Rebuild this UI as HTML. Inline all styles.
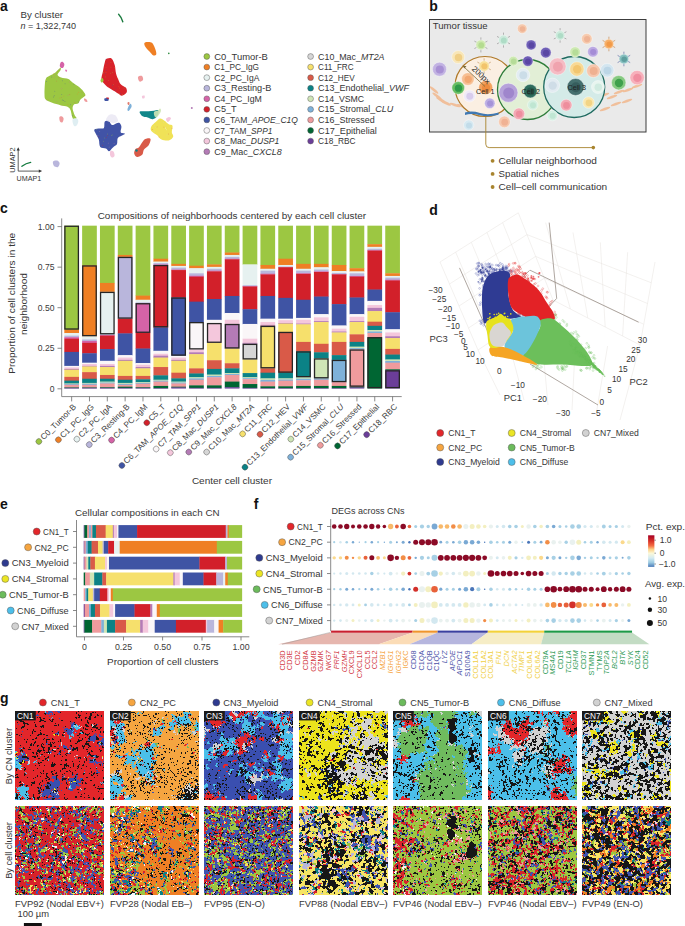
<!DOCTYPE html>
<html><head><meta charset="utf-8"><style>
html,body{margin:0;padding:0;background:#fff;}
#pg{position:relative;width:685px;height:926px;overflow:hidden;background:#fff;}
svg{position:absolute;left:0;top:0;font-family:"Liberation Sans",sans-serif;}
</style></head><body><div id="pg">
<svg width="685" height="926" viewBox="0 0 685 926" fill="#363636">
<text x="0.00" y="10.60" font-size="14" fill="#111" font-weight="bold">a</text><text x="20.50" y="17.80" font-size="9.3" textLength="42.50" lengthAdjust="spacingAndGlyphs">By cluster</text><text x="20.5" y="28.6" font-size="9.3" textLength="55.5" lengthAdjust="spacingAndGlyphs"><tspan font-style="italic">n</tspan> = 1,322,740</text><path d="M47.3 76.9 C48.4 76.1 50.9 75.2 52.2 74.4 C53.6 73.7 54.3 73.3 55.4 72.4 C56.5 71.5 57.7 70.0 58.6 69.2 C59.5 68.4 60.4 67.2 60.7 67.4 C61.0 67.6 61.0 69.0 60.5 70.2 C60.0 71.4 57.4 73.6 57.5 74.8 C57.6 76.0 59.3 76.8 61.1 77.5 C62.9 78.2 66.8 78.3 68.4 78.9 C70.0 79.5 69.9 80.2 70.8 80.9 C71.7 81.7 72.5 82.3 74.0 83.4 C75.5 84.5 78.4 86.3 79.7 87.4 C81.0 88.5 81.1 88.6 82.1 89.8 C83.0 91.0 85.1 93.5 85.4 94.7 C85.7 95.9 84.5 96.3 83.7 97.1 C82.9 97.9 81.4 98.5 80.5 99.6 C79.6 100.7 79.2 102.8 78.1 103.6 C77.0 104.4 74.9 103.7 74.0 104.4 C73.1 105.1 72.7 106.5 72.6 107.7 C72.5 108.9 73.0 110.4 73.4 111.7 C73.8 113.0 74.3 114.5 74.8 115.6 C75.3 116.7 76.7 117.5 76.5 118.2 C76.3 118.9 74.5 119.8 73.8 119.5 C73.0 119.2 72.5 118.2 72.0 116.6 C71.5 115.0 71.2 111.7 70.5 110.1 C69.8 108.5 69.2 107.6 67.5 106.8 C65.8 106.0 62.8 105.9 60.3 105.2 C57.8 104.5 54.6 103.7 52.2 102.8 C49.8 101.9 47.0 101.1 45.7 99.6 C44.4 98.1 44.6 96.6 44.5 93.9 C44.4 91.2 44.7 85.8 44.9 83.4 C45.1 81.0 45.3 80.4 45.7 79.3 C46.1 78.2 46.2 77.7 47.3 76.9Z" fill="#9cc742"/><circle cx="54.23" cy="95.75" r="0.45" fill="#3f54a4" opacity="0.6"/><circle cx="81.96" cy="92.10" r="0.45" fill="#d95a48" opacity="0.6"/><circle cx="63.69" cy="96.10" r="0.45" fill="#ef7f24" opacity="0.6"/><circle cx="78.71" cy="92.22" r="0.45" fill="#ef7f24" opacity="0.6"/><circle cx="53.99" cy="75.30" r="0.45" fill="#d563a7" opacity="0.6"/><circle cx="74.82" cy="102.38" r="0.45" fill="#d95a48" opacity="0.6"/><circle cx="61.96" cy="105.34" r="0.45" fill="#d563a7" opacity="0.6"/><circle cx="59.45" cy="69.27" r="0.45" fill="#d563a7" opacity="0.6"/><circle cx="62.34" cy="100.05" r="0.45" fill="#3f54a4" opacity="0.6"/><circle cx="67.98" cy="95.23" r="0.45" fill="#d563a7" opacity="0.6"/><circle cx="72.39" cy="115.80" r="0.45" fill="#3f54a4" opacity="0.6"/><circle cx="67.78" cy="104.59" r="0.45" fill="#ef7f24" opacity="0.6"/><circle cx="55.42" cy="73.88" r="0.45" fill="#d563a7" opacity="0.6"/><circle cx="73.88" cy="84.64" r="0.45" fill="#3f54a4" opacity="0.6"/><circle cx="57.17" cy="71.41" r="0.45" fill="#d95a48" opacity="0.6"/><circle cx="56.43" cy="81.12" r="0.45" fill="#d95a48" opacity="0.6"/><circle cx="70.44" cy="104.68" r="0.45" fill="#3f54a4" opacity="0.6"/><circle cx="62.39" cy="80.85" r="0.45" fill="#3f54a4" opacity="0.6"/><circle cx="61.48" cy="97.62" r="0.45" fill="#d95a48" opacity="0.6"/><circle cx="59.90" cy="98.10" r="0.45" fill="#ef7f24" opacity="0.6"/><circle cx="46.96" cy="100.08" r="0.45" fill="#d563a7" opacity="0.6"/><circle cx="69.40" cy="81.93" r="0.45" fill="#d563a7" opacity="0.6"/><circle cx="54.77" cy="91.17" r="0.45" fill="#3f54a4" opacity="0.6"/><circle cx="51.76" cy="77.05" r="0.45" fill="#3f54a4" opacity="0.6"/><circle cx="64.95" cy="101.46" r="0.45" fill="#3f54a4" opacity="0.6"/><circle cx="54.26" cy="77.16" r="0.45" fill="#d563a7" opacity="0.6"/><circle cx="53.42" cy="97.01" r="0.45" fill="#3f54a4" opacity="0.6"/><circle cx="53.70" cy="73.70" r="0.45" fill="#ef7f24" opacity="0.6"/><circle cx="48.00" cy="99.67" r="0.45" fill="#ef7f24" opacity="0.6"/><circle cx="61.73" cy="94.41" r="0.45" fill="#3f54a4" opacity="0.6"/><circle cx="63.51" cy="100.44" r="0.45" fill="#3f54a4" opacity="0.6"/><circle cx="61.67" cy="88.74" r="0.45" fill="#d563a7" opacity="0.6"/><circle cx="78.72" cy="101.94" r="0.45" fill="#3f54a4" opacity="0.6"/><circle cx="77.34" cy="94.09" r="0.45" fill="#ef7f24" opacity="0.6"/><circle cx="56.77" cy="101.94" r="0.45" fill="#d563a7" opacity="0.6"/><circle cx="84.25" cy="95.59" r="0.45" fill="#d95a48" opacity="0.6"/><circle cx="58.89" cy="77.68" r="0.45" fill="#d95a48" opacity="0.6"/><circle cx="46.54" cy="81.54" r="0.45" fill="#3f54a4" opacity="0.6"/><circle cx="69.78" cy="94.47" r="0.45" fill="#d95a48" opacity="0.6"/><circle cx="65.04" cy="83.86" r="0.45" fill="#3f54a4" opacity="0.6"/><path d="M60.8 62.3 C61.2 61.6 61.9 61.5 62.5 61.8 C63.1 62.1 64.1 63.1 64.3 64.0 C64.5 64.9 64.0 66.5 63.5 67.2 C63.0 67.9 62.1 68.2 61.5 68.0 C60.9 67.8 59.9 67.0 59.8 66.0 C59.7 65.0 60.3 63.0 60.8 62.3Z" fill="#d563a7"/><path d="M65.5 69.5 C65.8 69.3 66.8 69.6 67.0 70.0 C67.2 70.4 67.0 71.6 66.7 71.8 C66.4 72.0 65.5 71.4 65.3 71.0 C65.1 70.6 65.2 69.7 65.5 69.5Z" fill="#e07ab5"/><path d="M59.4 117.0 C59.7 116.2 61.3 116.2 62.0 116.4 C62.7 116.7 63.5 117.5 63.6 118.5 C63.7 119.5 63.1 121.7 62.5 122.2 C61.9 122.7 60.5 122.4 60.0 121.5 C59.5 120.6 59.1 117.8 59.4 117.0Z" fill="#ef9b9d"/><path d="M72.8 119.0 C73.4 118.2 75.6 118.0 76.5 118.3 C77.4 118.6 78.2 119.9 78.3 121.0 C78.4 122.1 77.6 124.1 77.0 125.0 C76.4 125.9 75.2 126.6 74.5 126.3 C73.8 126.0 73.1 124.2 72.8 123.0 C72.5 121.8 72.2 119.8 72.8 119.0Z" fill="#dfeef2"/><path d="M84.0 98.7 C84.2 98.4 85.9 99.0 86.5 99.5 C87.1 100.0 87.7 101.5 87.4 101.8 C87.2 102.1 85.6 102.0 85.0 101.5 C84.4 101.0 83.8 99.0 84.0 98.7Z" fill="#ef9b9d"/><path d="M105.9 59.2 C106.7 58.3 108.0 58.4 109.0 58.3 C110.0 58.2 110.8 57.6 111.8 58.7 C112.8 59.8 114.0 62.5 114.7 65.0 C115.4 67.5 115.5 71.3 116.1 73.8 C116.7 76.3 117.8 78.3 118.5 80.0 C119.2 81.7 119.6 82.9 120.5 84.0 C121.4 85.1 123.0 85.8 124.0 86.5 C125.0 87.2 126.0 87.4 126.4 88.4 C126.8 89.4 127.3 91.3 126.6 92.5 C125.9 93.7 123.4 95.5 122.0 95.7 C120.6 95.9 119.2 94.2 118.0 93.5 C116.8 92.8 116.0 92.1 114.7 91.3 C113.4 90.5 111.5 89.5 110.0 88.5 C108.5 87.5 107.3 87.0 105.9 85.5 C104.5 84.0 102.0 82.0 101.5 79.6 C101.0 77.2 102.5 73.6 103.0 70.9 C103.5 68.2 104.0 65.5 104.5 63.6 C105.0 61.6 105.2 60.1 105.9 59.2Z" fill="#d8222a"/><circle cx="103.30" cy="72.73" r="0.45" fill="#9cc742" opacity="0.6"/><circle cx="106.30" cy="70.60" r="0.45" fill="#3f54a4" opacity="0.6"/><circle cx="119.65" cy="88.04" r="0.45" fill="#ef7f24" opacity="0.6"/><circle cx="105.98" cy="72.26" r="0.45" fill="#ef7f24" opacity="0.6"/><circle cx="117.82" cy="78.55" r="0.45" fill="#ef7f24" opacity="0.6"/><circle cx="112.33" cy="72.23" r="0.45" fill="#9cc742" opacity="0.6"/><circle cx="108.28" cy="80.36" r="0.45" fill="#9cc742" opacity="0.6"/><circle cx="107.13" cy="63.18" r="0.45" fill="#3f54a4" opacity="0.6"/><circle cx="124.04" cy="87.88" r="0.45" fill="#9cc742" opacity="0.6"/><circle cx="110.95" cy="62.36" r="0.45" fill="#9cc742" opacity="0.6"/><circle cx="106.00" cy="59.18" r="0.45" fill="#3f54a4" opacity="0.6"/><circle cx="113.60" cy="84.34" r="0.45" fill="#9cc742" opacity="0.6"/><circle cx="116.03" cy="88.17" r="0.45" fill="#3f54a4" opacity="0.6"/><circle cx="114.78" cy="67.21" r="0.45" fill="#ef7f24" opacity="0.6"/><circle cx="120.30" cy="93.25" r="0.45" fill="#3f54a4" opacity="0.6"/><circle cx="115.31" cy="90.82" r="0.45" fill="#3f54a4" opacity="0.6"/><circle cx="106.01" cy="67.65" r="0.45" fill="#ef7f24" opacity="0.6"/><circle cx="119.07" cy="93.55" r="0.45" fill="#9cc742" opacity="0.6"/><circle cx="110.72" cy="73.13" r="0.45" fill="#9cc742" opacity="0.6"/><circle cx="110.92" cy="67.10" r="0.45" fill="#9cc742" opacity="0.6"/><circle cx="122.67" cy="94.47" r="0.45" fill="#9cc742" opacity="0.6"/><circle cx="118.84" cy="86.58" r="0.45" fill="#ef7f24" opacity="0.6"/><circle cx="105.42" cy="73.30" r="0.45" fill="#3f54a4" opacity="0.6"/><circle cx="105.58" cy="76.92" r="0.45" fill="#9cc742" opacity="0.6"/><circle cx="112.62" cy="85.19" r="0.45" fill="#3f54a4" opacity="0.6"/><path d="M100.5 80.0 C100.7 79.2 102.0 77.8 102.5 78.0 C103.0 78.2 103.7 80.2 103.5 81.0 C103.3 81.8 102.0 82.7 101.5 82.5 C101.0 82.3 100.3 80.8 100.5 80.0Z" fill="#9cc742"/><path d="M104.5 98.5 C105.0 98.0 107.3 97.7 108.0 98.0 C108.7 98.3 109.0 100.0 108.5 100.5 C108.0 101.0 105.7 101.3 105.0 101.0 C104.3 100.7 104.0 99.0 104.5 98.5Z" fill="#3f54a4"/><path d="M106.0 97.5 C106.2 97.3 108.7 97.5 109.0 97.7 C109.3 98.0 108.5 99.0 108.0 99.0 C107.5 99.0 105.8 97.7 106.0 97.5Z" fill="#d2202a"/><path d="M138.0 77.0 C138.4 76.1 141.2 75.5 142.0 76.0 C142.8 76.5 143.4 79.1 143.0 80.0 C142.6 80.9 140.3 82.0 139.5 81.5 C138.7 81.0 137.6 77.9 138.0 77.0Z" fill="#ef9b9d"/><path d="M142.0 96.0 C142.3 95.5 144.1 95.2 144.5 95.5 C144.9 95.8 144.8 97.5 144.5 98.0 C144.2 98.5 142.9 98.8 142.5 98.5 C142.1 98.2 141.7 96.5 142.0 96.0Z" fill="#f4c7dc"/><path d="M129.5 104.5 C130.1 103.7 130.7 103.6 131.0 104.0 C131.3 104.4 131.9 105.8 131.5 107.0 C131.1 108.2 129.2 110.7 128.5 111.0 C127.8 111.3 127.3 110.1 127.5 109.0 C127.7 107.9 128.9 105.3 129.5 104.5Z" fill="#7eb1d9"/><path d="M128.0 102.0 C128.3 101.8 129.3 102.0 129.5 102.5 C129.7 103.0 129.3 104.8 129.0 105.0 C128.7 105.2 127.7 104.5 127.5 104.0 C127.3 103.5 127.7 102.2 128.0 102.0Z" fill="#d95a48" opacity="0.8"/><path d="M145.0 42.5 C146.0 42.0 149.2 42.0 150.5 42.2 C151.8 42.5 152.2 42.7 153.0 44.0 C153.8 45.3 155.1 48.2 155.6 50.0 C156.1 51.8 156.6 53.6 156.2 54.5 C155.8 55.4 154.0 55.7 153.0 55.3 C152.0 54.9 151.0 53.0 150.0 52.0 C149.0 51.0 147.9 50.2 147.0 49.0 C146.1 47.8 144.8 46.1 144.5 45.0 C144.2 43.9 144.0 43.0 145.0 42.5Z" fill="#ef7f24"/><path d="M118.6 14.3 Q121.3 17 122.8 21.8" stroke="#1a7a3e" stroke-width="1.4" fill="none" stroke-linecap="round"/><circle cx="168.80" cy="53.40" r="0.80" fill="#2e8b3e"/><path d="M94.4 129.4 C95.1 128.5 98.4 128.7 100.0 128.5 C101.6 128.3 103.1 129.1 103.9 128.0 C104.7 126.9 104.1 123.3 104.6 122.1 C105.1 120.8 106.3 120.7 107.0 120.5 C107.7 120.3 108.2 120.0 109.0 120.7 C109.8 121.5 110.7 124.5 111.9 125.0 C113.1 125.5 114.8 123.9 116.0 123.5 C117.2 123.1 118.3 122.3 119.2 122.8 C120.1 123.3 121.2 124.9 121.4 126.5 C121.7 128.1 120.1 131.1 120.7 132.3 C121.3 133.5 125.0 133.2 125.0 133.8 C125.0 134.4 122.2 135.3 121.0 136.0 C119.8 136.7 118.4 136.9 117.7 138.2 C117.0 139.5 117.6 142.6 117.0 144.0 C116.4 145.4 114.8 145.8 114.0 146.5 C113.2 147.2 112.7 147.6 111.9 148.4 C111.1 149.2 110.0 151.3 109.0 151.3 C108.0 151.3 107.5 149.1 106.0 148.4 C104.5 147.7 101.4 148.4 100.2 146.9 C99.0 145.4 99.5 141.8 98.8 139.6 C98.1 137.4 96.5 135.5 95.8 133.8 C95.1 132.1 93.7 130.3 94.4 129.4Z" fill="#4153a6"/><circle cx="98.88" cy="136.38" r="0.45" fill="#d2202a" opacity="0.6"/><circle cx="102.60" cy="145.27" r="0.45" fill="#d2202a" opacity="0.6"/><circle cx="99.67" cy="131.60" r="0.45" fill="#ef9b9d" opacity="0.6"/><circle cx="109.17" cy="147.11" r="0.45" fill="#ef9b9d" opacity="0.6"/><circle cx="112.73" cy="134.92" r="0.45" fill="#9cc742" opacity="0.6"/><circle cx="111.45" cy="135.32" r="0.45" fill="#9cc742" opacity="0.6"/><circle cx="108.24" cy="143.11" r="0.45" fill="#ef9b9d" opacity="0.6"/><circle cx="107.75" cy="135.47" r="0.45" fill="#d2202a" opacity="0.6"/><circle cx="114.12" cy="143.36" r="0.45" fill="#ef9b9d" opacity="0.6"/><circle cx="106.36" cy="137.27" r="0.45" fill="#d2202a" opacity="0.6"/><circle cx="107.64" cy="134.00" r="0.45" fill="#9cc742" opacity="0.6"/><circle cx="103.44" cy="141.32" r="0.45" fill="#9cc742" opacity="0.6"/><circle cx="104.76" cy="137.93" r="0.45" fill="#9cc742" opacity="0.6"/><circle cx="97.87" cy="135.71" r="0.45" fill="#ef9b9d" opacity="0.6"/><circle cx="96.22" cy="129.57" r="0.45" fill="#9cc742" opacity="0.6"/><path d="M106.0 120.0 C105.8 118.8 107.8 115.9 109.0 115.0 C110.2 114.1 111.8 114.3 113.0 114.5 C114.2 114.7 115.2 114.9 116.0 116.0 C116.8 117.1 118.3 119.8 118.0 121.0 C117.7 122.2 115.3 122.8 114.0 123.0 C112.7 123.2 111.3 122.5 110.0 122.0 C108.7 121.5 106.2 121.2 106.0 120.0Z" fill="#ebe9f4" opacity="0.9"/><path d="M110.5 151.0 C111.1 150.4 112.8 150.7 113.5 151.5 C114.2 152.3 114.8 155.0 114.5 156.0 C114.2 157.0 112.8 157.7 112.0 157.5 C111.2 157.3 110.2 156.1 110.0 155.0 C109.8 153.9 109.9 151.6 110.5 151.0Z" fill="#f4c7dc"/><path d="M139.6 111.9 C139.8 111.1 142.5 111.4 144.0 111.3 C145.5 111.2 146.7 111.3 148.4 111.2 C150.1 111.1 152.3 110.9 154.0 110.8 C155.7 110.7 158.1 109.5 158.6 110.4 C159.1 111.3 158.2 114.8 157.2 116.3 C156.2 117.8 154.3 119.0 152.8 119.2 C151.3 119.4 150.1 118.2 148.4 117.7 C146.7 117.2 144.1 117.3 142.6 116.3 C141.1 115.3 139.4 112.7 139.6 111.9Z" fill="#12878a"/><path d="M154.0 112.0 C154.5 110.9 157.0 111.1 158.0 110.5 C159.0 109.9 159.5 108.4 160.0 108.5 C160.5 108.6 161.3 109.8 161.0 111.0 C160.7 112.2 159.0 115.0 158.0 116.0 C157.0 117.0 155.7 117.7 155.0 117.0 C154.3 116.3 153.5 113.1 154.0 112.0Z" fill="#cfe5b6" opacity="0.9"/><path d="M151.3 126.5 C152.0 125.0 154.2 123.4 155.7 122.1 C157.1 120.8 158.5 118.7 160.0 118.5 C161.5 118.3 163.0 119.7 164.5 120.7 C166.0 121.7 167.5 123.5 168.8 124.3 C170.1 125.1 172.0 124.5 172.5 125.8 C173.0 127.1 171.7 130.5 171.8 132.3 C171.9 134.1 173.7 135.3 173.2 136.7 C172.7 138.0 170.8 139.9 168.8 140.4 C166.9 140.9 163.4 140.4 161.5 139.6 C159.6 138.8 158.9 136.8 157.2 135.3 C155.5 133.9 152.3 132.4 151.3 130.9 C150.3 129.4 150.6 128.0 151.3 126.5Z" fill="#f0e257"/><circle cx="163.70" cy="122.49" r="0.45" fill="#cfe5b6" opacity="0.6"/><circle cx="161.25" cy="120.87" r="0.45" fill="#cfe5b6" opacity="0.6"/><circle cx="154.40" cy="125.76" r="0.45" fill="#cfe5b6" opacity="0.6"/><circle cx="165.53" cy="127.70" r="0.45" fill="#f9f5f8" opacity="0.6"/><circle cx="165.48" cy="128.52" r="0.45" fill="#f9f5f8" opacity="0.6"/><circle cx="168.43" cy="133.95" r="0.45" fill="#d95a48" opacity="0.6"/><circle cx="166.98" cy="135.02" r="0.45" fill="#cfe5b6" opacity="0.6"/><circle cx="163.91" cy="127.08" r="0.45" fill="#d95a48" opacity="0.6"/><circle cx="157.12" cy="126.90" r="0.45" fill="#d95a48" opacity="0.6"/><circle cx="152.22" cy="129.55" r="0.45" fill="#d95a48" opacity="0.6"/><circle cx="166.53" cy="129.77" r="0.45" fill="#f9f5f8" opacity="0.6"/><circle cx="172.00" cy="128.32" r="0.45" fill="#d95a48" opacity="0.6"/><circle cx="159.03" cy="137.05" r="0.45" fill="#d95a48" opacity="0.6"/><circle cx="154.62" cy="131.42" r="0.45" fill="#cfe5b6" opacity="0.6"/><circle cx="155.44" cy="127.62" r="0.45" fill="#cfe5b6" opacity="0.6"/><path d="M166.0 119.0 C166.2 118.2 168.2 117.1 169.0 117.0 C169.8 116.9 171.2 117.7 171.0 118.5 C170.8 119.3 168.8 121.9 168.0 122.0 C167.2 122.1 165.8 119.8 166.0 119.0Z" fill="#f4c7dc"/><path d="M150.6 139.2 C150.8 140.4 149.6 143.8 148.5 145.5 C147.4 147.2 145.1 147.9 144.0 149.5 C142.9 151.1 143.4 153.6 142.2 154.8 C141.0 156.1 138.3 157.2 137.0 157.0 C135.7 156.8 134.4 154.8 134.2 153.5 C133.9 152.2 134.7 150.1 135.5 149.0 C136.3 147.9 137.7 148.6 139.0 147.2 C140.3 145.8 142.2 141.9 143.5 140.5 C144.8 139.1 145.8 138.7 147.0 138.5 C148.2 138.3 150.3 138.0 150.6 139.2Z" fill="#d95a48"/><circle cx="136.50" cy="150.50" r="1.20" fill="#0b8286"/><path d="M53.0 161.5 C53.5 160.6 55.9 160.2 57.0 160.5 C58.1 160.8 59.4 161.9 59.6 163.0 C59.8 164.1 58.9 166.5 58.0 167.0 C57.1 167.5 54.8 166.9 54.0 166.0 C53.2 165.1 52.5 162.4 53.0 161.5Z" fill="#b9b6dc"/><path d="M21.9 166.3 Q26 163 30.7 162.3" stroke="#127a3e" stroke-width="1.3" fill="none" stroke-linecap="round"/><circle cx="191.80" cy="108.00" r="1.00" fill="#b47bb6"/><g stroke="#333" stroke-width="0.8" fill="none"><path d="M18.2 171.1 V149.5 M18.2 171.1 H39.8"/></g><path d="M18.2 147.2 L16.6 150.5 L19.8 150.5Z M42.1 171.1 L38.8 169.5 L38.8 172.7Z" fill="#333"/><text x="14.90" y="172.80" font-size="7.3" textLength="25.40" lengthAdjust="spacingAndGlyphs" transform="rotate(-90 14.90 172.80)">UMAP2</text><text x="16.60" y="180.70" font-size="7.3" textLength="24.60" lengthAdjust="spacingAndGlyphs">UMAP1</text><circle cx="206.80" cy="56.50" r="2.90" fill="#9cc742" stroke="#555" stroke-width="0.45"/><text x="214.30" y="59.60" font-size="8.7" textLength="53.50" lengthAdjust="spacingAndGlyphs">C0_Tumor-B</text><circle cx="206.80" cy="67.07" r="2.90" fill="#ef7f24" stroke="#555" stroke-width="0.45"/><text x="214.30" y="70.17" font-size="8.7" textLength="44.70" lengthAdjust="spacingAndGlyphs">C1_PC_IgG</text><circle cx="206.80" cy="77.64" r="2.90" fill="#e6f1f0" stroke="#555" stroke-width="0.45"/><text x="214.30" y="80.74" font-size="8.7" textLength="45.10" lengthAdjust="spacingAndGlyphs">C2_PC_IgA</text><circle cx="206.80" cy="88.21" r="2.90" fill="#b9b6dc" stroke="#555" stroke-width="0.45"/><text x="214.30" y="91.31" font-size="8.7" textLength="57.00" lengthAdjust="spacingAndGlyphs">C3_Resting-B</text><circle cx="206.80" cy="98.78" r="2.90" fill="#d563a7" stroke="#555" stroke-width="0.45"/><text x="214.30" y="101.88" font-size="8.7" textLength="47.50" lengthAdjust="spacingAndGlyphs">C4_PC_IgM</text><circle cx="206.80" cy="109.35" r="2.90" fill="#d2202a" stroke="#555" stroke-width="0.45"/><text x="214.30" y="112.45" font-size="8.7" textLength="22.30" lengthAdjust="spacingAndGlyphs">C5_T</text><circle cx="206.80" cy="119.92" r="2.90" fill="#3f54a4" stroke="#555" stroke-width="0.45"/><text x="214.30" y="123.02" font-size="8.7" textLength="83.60" lengthAdjust="spacingAndGlyphs">C6_TAM_<tspan font-style="italic">APOE_C1Q</tspan></text><circle cx="206.80" cy="130.49" r="2.90" fill="#faf6f8" stroke="#555" stroke-width="0.45"/><text x="214.30" y="133.59" font-size="8.7" textLength="58.00" lengthAdjust="spacingAndGlyphs">C7_TAM_<tspan font-style="italic">SPP1</tspan></text><circle cx="206.80" cy="141.06" r="2.90" fill="#f4c7dc" stroke="#555" stroke-width="0.45"/><text x="214.30" y="144.16" font-size="8.7" textLength="65.00" lengthAdjust="spacingAndGlyphs">C8_Mac_<tspan font-style="italic">DUSP1</tspan></text><circle cx="206.80" cy="151.63" r="2.90" fill="#b47bb6" stroke="#555" stroke-width="0.45"/><text x="214.30" y="154.73" font-size="8.7" textLength="67.50" lengthAdjust="spacingAndGlyphs">C9_Mac_<tspan font-style="italic">CXCL8</tspan></text><circle cx="310.60" cy="56.50" r="2.90" fill="#d6d6d6" stroke="#555" stroke-width="0.45"/><text x="318.10" y="59.60" font-size="8.7" textLength="66.40" lengthAdjust="spacingAndGlyphs">C10_Mac_<tspan font-style="italic">MT2A</tspan></text><circle cx="310.60" cy="67.07" r="2.90" fill="#f6e06c" stroke="#555" stroke-width="0.45"/><text x="318.10" y="70.17" font-size="8.7" textLength="35.50" lengthAdjust="spacingAndGlyphs">C11_FRC</text><circle cx="310.60" cy="77.64" r="2.90" fill="#d95a48" stroke="#555" stroke-width="0.45"/><text x="318.10" y="80.74" font-size="8.7" textLength="36.60" lengthAdjust="spacingAndGlyphs">C12_HEV</text><circle cx="310.60" cy="88.21" r="2.90" fill="#0b8286" stroke="#555" stroke-width="0.45"/><text x="318.10" y="91.31" font-size="8.7" textLength="90.90" lengthAdjust="spacingAndGlyphs">C13_Endothelial_<tspan font-style="italic">VWF</tspan></text><circle cx="310.60" cy="98.78" r="2.90" fill="#cfe5b6" stroke="#555" stroke-width="0.45"/><text x="318.10" y="101.88" font-size="8.7" textLength="46.00" lengthAdjust="spacingAndGlyphs">C14_VSMC</text><circle cx="310.60" cy="109.35" r="2.90" fill="#7eb1d9" stroke="#555" stroke-width="0.45"/><text x="318.10" y="112.45" font-size="8.7" textLength="75.10" lengthAdjust="spacingAndGlyphs">C15_Stromal_<tspan font-style="italic">CLU</tspan></text><circle cx="310.60" cy="119.92" r="2.90" fill="#ef9b9d" stroke="#555" stroke-width="0.45"/><text x="318.10" y="123.02" font-size="8.7" textLength="56.60" lengthAdjust="spacingAndGlyphs">C16_Stressed</text><circle cx="310.60" cy="130.49" r="2.90" fill="#006633" stroke="#555" stroke-width="0.45"/><text x="318.10" y="133.59" font-size="8.7" textLength="58.70" lengthAdjust="spacingAndGlyphs">C17_Epithelial</text><circle cx="310.60" cy="141.06" r="2.90" fill="#6b3d99" stroke="#555" stroke-width="0.45"/><text x="318.10" y="144.16" font-size="8.7" textLength="37.30" lengthAdjust="spacingAndGlyphs">C18_RBC</text><text x="429.30" y="10.90" font-size="14" fill="#111" font-weight="bold">b</text><rect x="429.5" y="19.5" width="216.5" height="112.5" fill="#eaeaea" stroke="#3c3c3c" stroke-width="1"/><clipPath id="cb"><rect x="430" y="20" width="215.5" height="111.5"/></clipPath><g clip-path="url(#cb)"><ellipse cx="434" cy="90" rx="5.5" ry="1.3" fill="#f0bf9b" transform="rotate(40 434 90)"/><ellipse cx="437" cy="96" rx="5.5" ry="1.3" fill="#f0bf9b" transform="rotate(35 437 96)"/><ellipse cx="441" cy="100" rx="5.5" ry="1.3" fill="#f0bf9b" transform="rotate(30 441 100)"/><ellipse cx="446" cy="103" rx="5.5" ry="1.3" fill="#f0bf9b" transform="rotate(25 446 103)"/><ellipse cx="455" cy="105" rx="5.5" ry="1.3" fill="#f0bf9b" transform="rotate(20 455 105)"/><ellipse cx="462" cy="106" rx="5.5" ry="1.3" fill="#f0bf9b" transform="rotate(15 462 106)"/><ellipse cx="604" cy="95" rx="5.5" ry="1.3" fill="#f0bf9b" transform="rotate(-20 604 95)"/><ellipse cx="612" cy="97" rx="5.5" ry="1.3" fill="#f0bf9b" transform="rotate(-20 612 97)"/><ellipse cx="619" cy="92" rx="5.5" ry="1.3" fill="#f0bf9b" transform="rotate(-20 619 92)"/><ellipse cx="628" cy="90" rx="5.5" ry="1.3" fill="#f0bf9b" transform="rotate(-20 628 90)"/><ellipse cx="637" cy="86" rx="5.5" ry="1.3" fill="#f0bf9b" transform="rotate(-20 637 86)"/><ellipse cx="605" cy="109" rx="5.5" ry="1.3" fill="#f0bf9b" transform="rotate(-20 605 109)"/><ellipse cx="616" cy="104" rx="5.5" ry="1.3" fill="#f0bf9b" transform="rotate(-20 616 104)"/><ellipse cx="627" cy="101" rx="5.5" ry="1.3" fill="#f0bf9b" transform="rotate(-20 627 101)"/><circle cx="485" cy="86.5" r="30" fill="#fbefe2" stroke="#b07a2a" stroke-width="1.2"/><circle cx="527.5" cy="89.5" r="30" fill="#e2efd6" stroke="#2e7d3a" stroke-width="1.3"/><circle cx="574.2" cy="87" r="30.5" fill="#d4ebe8" stroke="#1f6a60" stroke-width="1.3"/><circle cx="522.2" cy="28.7" r="4.8" fill="#f5c9ad" stroke="#ffffff" stroke-opacity="0.55" stroke-width="0.7"/><circle cx="522.5" cy="29.0" r="2.78" fill="#efb394"/><line x1="480.9" y1="44.9" x2="487.4" y2="48.6" stroke="#8a8a8a" stroke-width="0.6"/><line x1="480.9" y1="44.9" x2="480.9" y2="52.4" stroke="#8a8a8a" stroke-width="0.6"/><line x1="480.9" y1="44.9" x2="474.4" y2="48.6" stroke="#8a8a8a" stroke-width="0.6"/><line x1="480.9" y1="44.9" x2="474.4" y2="41.1" stroke="#8a8a8a" stroke-width="0.6"/><line x1="480.9" y1="44.9" x2="480.9" y2="37.4" stroke="#8a8a8a" stroke-width="0.6"/><line x1="480.9" y1="44.9" x2="487.4" y2="41.1" stroke="#8a8a8a" stroke-width="0.6"/><circle cx="480.9" cy="44.9" r="5" fill="#cfe9b0" stroke="#ffffff" stroke-opacity="0.55" stroke-width="0.7"/><circle cx="481.2" cy="45.199999999999996" r="2.90" fill="#b4dc90"/><line x1="503.5" y1="40.1" x2="510.0" y2="43.9" stroke="#8a8a8a" stroke-width="0.6"/><line x1="503.5" y1="40.1" x2="503.5" y2="47.6" stroke="#8a8a8a" stroke-width="0.6"/><line x1="503.5" y1="40.1" x2="497.0" y2="43.9" stroke="#8a8a8a" stroke-width="0.6"/><line x1="503.5" y1="40.1" x2="497.0" y2="36.4" stroke="#8a8a8a" stroke-width="0.6"/><line x1="503.5" y1="40.1" x2="503.5" y2="32.6" stroke="#8a8a8a" stroke-width="0.6"/><line x1="503.5" y1="40.1" x2="510.0" y2="36.3" stroke="#8a8a8a" stroke-width="0.6"/><circle cx="503.5" cy="40.1" r="5" fill="#cdeadc" stroke="#ffffff" stroke-opacity="0.55" stroke-width="0.7"/><circle cx="503.8" cy="40.4" r="2.90" fill="#aedcc6"/><circle cx="531.1" cy="44.9" r="5" fill="#6f5fb6" stroke="#ffffff" stroke-opacity="0.55" stroke-width="0.7"/><circle cx="531.4" cy="45.199999999999996" r="2.90" fill="#5a47a4"/><circle cx="458.2" cy="57.1" r="6.5" fill="#f8e6b8" stroke="#ffffff" stroke-opacity="0.55" stroke-width="0.7"/><circle cx="458.5" cy="57.4" r="3.77" fill="#f0cf86"/><line x1="484.1" y1="66.0" x2="490.8" y2="69.8" stroke="#b88a50" stroke-width="0.6"/><line x1="484.1" y1="66.0" x2="484.1" y2="73.7" stroke="#b88a50" stroke-width="0.6"/><line x1="484.1" y1="66.0" x2="477.4" y2="69.8" stroke="#b88a50" stroke-width="0.6"/><line x1="484.1" y1="66.0" x2="477.4" y2="62.1" stroke="#b88a50" stroke-width="0.6"/><line x1="484.1" y1="66.0" x2="484.1" y2="58.3" stroke="#b88a50" stroke-width="0.6"/><line x1="484.1" y1="66.0" x2="490.8" y2="62.1" stroke="#b88a50" stroke-width="0.6"/><circle cx="484.1" cy="66" r="5.2" fill="#f8df98" stroke="#ffffff" stroke-opacity="0.55" stroke-width="0.7"/><circle cx="484.40000000000003" cy="66.3" r="3.02" fill="#f2c46c"/><circle cx="513.3" cy="61.1" r="4.8" fill="#cde9b2" stroke="#ffffff" stroke-opacity="0.55" stroke-width="0.7"/><circle cx="513.5999999999999" cy="61.4" r="2.78" fill="#b5dc98"/><circle cx="527.8" cy="61.1" r="5.2" fill="#6f5fb6" stroke="#ffffff" stroke-opacity="0.55" stroke-width="0.7"/><circle cx="528.0999999999999" cy="61.4" r="3.02" fill="#5a47a4"/><circle cx="439.5" cy="69.2" r="7" fill="#c2b3e2" stroke="#ffffff" stroke-opacity="0.55" stroke-width="0.7"/><circle cx="439.8" cy="69.5" r="4.06" fill="#a890d4"/><circle cx="467.9" cy="79" r="6.3" fill="#f7bf92" stroke="#ffffff" stroke-opacity="0.55" stroke-width="0.7"/><circle cx="468.2" cy="79.3" r="3.65" fill="#f2a872"/><circle cx="485.7" cy="87.6" r="7" fill="#f3a25e" stroke="#ffffff" stroke-opacity="0.55" stroke-width="0.7"/><circle cx="486.0" cy="87.89999999999999" r="4.06" fill="#ee8c40"/><circle cx="523" cy="74.9" r="6.8" fill="#e3edf3" stroke="#ffffff" stroke-opacity="0.55" stroke-width="0.7"/><circle cx="523.3" cy="75.2" r="3.94" fill="#cbdde8"/><circle cx="458.2" cy="87.9" r="6.3" fill="#66bd62" stroke="#ffffff" stroke-opacity="0.55" stroke-width="0.7"/><circle cx="458.5" cy="88.2" r="3.65" fill="#2f9a48"/><circle cx="508.4" cy="92.7" r="9.5" fill="#b6a3da" stroke="#ffffff" stroke-opacity="0.55" stroke-width="0.7"/><circle cx="508.7" cy="93.0" r="5.51" fill="#9f86cc"/><circle cx="530.3" cy="91.1" r="6.8" fill="#2f6e5e" stroke="#ffffff" stroke-opacity="0.55" stroke-width="0.7"/><circle cx="530.5999999999999" cy="91.39999999999999" r="3.94" fill="#255a4c"/><circle cx="469.5" cy="96" r="6" fill="#efeaf7" stroke="#ffffff" stroke-opacity="0.55" stroke-width="0.7"/><circle cx="469.8" cy="96.3" r="3.48" fill="#d8ccec"/><circle cx="489.8" cy="103.3" r="5.2" fill="#bcaee3" stroke="#ffffff" stroke-opacity="0.55" stroke-width="0.7"/><circle cx="490.1" cy="103.6" r="3.02" fill="#a593d8"/><circle cx="532.7" cy="104.9" r="5.2" fill="#d3efe0" stroke="#ffffff" stroke-opacity="0.55" stroke-width="0.7"/><circle cx="533.0" cy="105.2" r="3.02" fill="#bfe6d2"/><circle cx="518.9" cy="113.8" r="5.8" fill="#f3aab5" stroke="#ffffff" stroke-opacity="0.55" stroke-width="0.7"/><circle cx="519.1999999999999" cy="114.1" r="3.36" fill="#ee8f9e"/><circle cx="504.4" cy="121.9" r="5.8" fill="#f6c8ae" stroke="#ffffff" stroke-opacity="0.55" stroke-width="0.7"/><circle cx="504.7" cy="122.2" r="3.36" fill="#f0b294"/><circle cx="468.7" cy="125.1" r="5.2" fill="#d6e9f1" stroke="#ffffff" stroke-opacity="0.55" stroke-width="0.7"/><circle cx="469.0" cy="125.39999999999999" r="3.02" fill="#c2dce9"/><line x1="560.1" y1="35.4" x2="566.4" y2="39.0" stroke="#8a8a8a" stroke-width="0.6"/><line x1="560.1" y1="35.4" x2="560.1" y2="42.7" stroke="#8a8a8a" stroke-width="0.6"/><line x1="560.1" y1="35.4" x2="553.8" y2="39.0" stroke="#8a8a8a" stroke-width="0.6"/><line x1="560.1" y1="35.4" x2="553.8" y2="31.7" stroke="#8a8a8a" stroke-width="0.6"/><line x1="560.1" y1="35.4" x2="560.1" y2="28.1" stroke="#8a8a8a" stroke-width="0.6"/><line x1="560.1" y1="35.4" x2="566.4" y2="31.7" stroke="#8a8a8a" stroke-width="0.6"/><circle cx="560.1" cy="35.4" r="4.8" fill="#cdeadc" stroke="#ffffff" stroke-opacity="0.55" stroke-width="0.7"/><circle cx="560.4" cy="35.699999999999996" r="2.78" fill="#aedcc6"/><circle cx="586.8" cy="38.8" r="5.3" fill="#f6caae" stroke="#ffffff" stroke-opacity="0.55" stroke-width="0.7"/><circle cx="587.0999999999999" cy="39.099999999999994" r="3.07" fill="#efb496"/><line x1="608.9" y1="44.0" x2="615.2" y2="47.6" stroke="#c07a3a" stroke-width="0.6"/><line x1="608.9" y1="44.0" x2="608.9" y2="51.3" stroke="#c07a3a" stroke-width="0.6"/><line x1="608.9" y1="44.0" x2="602.6" y2="47.6" stroke="#c07a3a" stroke-width="0.6"/><line x1="608.9" y1="44.0" x2="602.6" y2="40.4" stroke="#c07a3a" stroke-width="0.6"/><line x1="608.9" y1="44.0" x2="608.9" y2="36.7" stroke="#c07a3a" stroke-width="0.6"/><line x1="608.9" y1="44.0" x2="615.2" y2="40.3" stroke="#c07a3a" stroke-width="0.6"/><circle cx="608.9" cy="44" r="4.8" fill="#f6b06a" stroke="#ffffff" stroke-opacity="0.55" stroke-width="0.7"/><circle cx="609.1999999999999" cy="44.3" r="2.78" fill="#f29a48"/><line x1="623.9" y1="59.0" x2="630.2" y2="62.6" stroke="#4a5a9a" stroke-width="0.6"/><line x1="623.9" y1="59.0" x2="623.9" y2="66.3" stroke="#4a5a9a" stroke-width="0.6"/><line x1="623.9" y1="59.0" x2="617.6" y2="62.6" stroke="#4a5a9a" stroke-width="0.6"/><line x1="623.9" y1="59.0" x2="617.6" y2="55.4" stroke="#4a5a9a" stroke-width="0.6"/><line x1="623.9" y1="59.0" x2="623.9" y2="51.7" stroke="#4a5a9a" stroke-width="0.6"/><line x1="623.9" y1="59.0" x2="630.2" y2="55.3" stroke="#4a5a9a" stroke-width="0.6"/><circle cx="623.9" cy="59" r="4.8" fill="#86bfbf" stroke="#ffffff" stroke-opacity="0.55" stroke-width="0.7"/><circle cx="624.1999999999999" cy="59.3" r="2.78" fill="#5e9e9e"/><circle cx="545.8" cy="52.6" r="5.3" fill="#6f5fb6" stroke="#ffffff" stroke-opacity="0.55" stroke-width="0.7"/><circle cx="546.0999999999999" cy="52.9" r="3.07" fill="#5a47a4"/><circle cx="575.1" cy="52.1" r="5.3" fill="#cde9b2" stroke="#ffffff" stroke-opacity="0.55" stroke-width="0.7"/><circle cx="575.4" cy="52.4" r="3.07" fill="#b5dc98"/><circle cx="592.9" cy="51.7" r="5.3" fill="#bba9e2" stroke="#ffffff" stroke-opacity="0.55" stroke-width="0.7"/><circle cx="593.1999999999999" cy="52.0" r="3.07" fill="#a48cd6"/><circle cx="557.6" cy="66.4" r="8.5" fill="#f5bcc4" stroke="#ffffff" stroke-opacity="0.55" stroke-width="0.7"/><circle cx="557.9" cy="66.7" r="4.93" fill="#f0a3ae"/><circle cx="576.9" cy="69" r="7.2" fill="#f7d995" stroke="#ffffff" stroke-opacity="0.55" stroke-width="0.7"/><circle cx="577.1999999999999" cy="69.3" r="4.18" fill="#f2c670"/><circle cx="593.4" cy="70.7" r="6.8" fill="#f5c6ad" stroke="#ffffff" stroke-opacity="0.55" stroke-width="0.7"/><circle cx="593.6999999999999" cy="71.0" r="3.94" fill="#efb090"/><circle cx="607.2" cy="70.3" r="6.8" fill="#d3e5ef" stroke="#ffffff" stroke-opacity="0.55" stroke-width="0.7"/><circle cx="607.5" cy="70.6" r="3.94" fill="#bcd6e6"/><circle cx="618.7" cy="82.7" r="7.2" fill="#86c981" stroke="#ffffff" stroke-opacity="0.55" stroke-width="0.7"/><circle cx="619.0" cy="83.0" r="4.18" fill="#3fa04c"/><circle cx="637.1" cy="77.6" r="7.2" fill="#f7b0bb" stroke="#ffffff" stroke-opacity="0.55" stroke-width="0.7"/><circle cx="637.4" cy="77.89999999999999" r="4.18" fill="#f08ea0"/><circle cx="575.6" cy="87" r="8.5" fill="#45706f" stroke="#ffffff" stroke-opacity="0.55" stroke-width="0.7"/><circle cx="575.9" cy="87.3" r="4.93" fill="#365d5d"/><circle cx="552.4" cy="85.3" r="7.2" fill="#e2ebf1" stroke="#ffffff" stroke-opacity="0.55" stroke-width="0.7"/><circle cx="552.6999999999999" cy="85.6" r="4.18" fill="#cfdde7"/><circle cx="598" cy="87" r="6.5" fill="#e8f5ef" stroke="#ffffff" stroke-opacity="0.55" stroke-width="0.7"/><circle cx="598.3" cy="87.3" r="3.77" fill="#d0ebe0"/><circle cx="566.2" cy="105.1" r="5.8" fill="#f3a9b4" stroke="#ffffff" stroke-opacity="0.55" stroke-width="0.7"/><circle cx="566.5" cy="105.39999999999999" r="3.36" fill="#ee8e9d"/><circle cx="588.6" cy="102.5" r="5.8" fill="#f9e8b0" stroke="#ffffff" stroke-opacity="0.55" stroke-width="0.7"/><circle cx="588.9" cy="102.8" r="3.36" fill="#f2d485"/><circle cx="552.4" cy="115.5" r="5.3" fill="#d6f0e3" stroke="#ffffff" stroke-opacity="0.55" stroke-width="0.7"/><circle cx="552.6999999999999" cy="115.8" r="3.07" fill="#c0e6d3"/><path d="M465 112.5 Q472 110.5 480 113 Q488 115.5 498.7 112.5 L498.5 114.8 Q488 117.5 480 115.2 Q471 113 465 115Z" fill="#3f78b2"/><path d="M485 86.5 L463.5 66.5" stroke="#7a6a3a" stroke-width="0.8"/><path d="M462.5 65.5 L466.5 66.3 L464.3 68.6Z" fill="#7a6a3a"/><text x="0" y="0" font-size="8" transform="translate(471.2 69.5) rotate(43)" fill="#222">200px</text><text x="476.00" y="93.50" font-size="7.2" fill="#222">Cell 1</text><text x="521.50" y="93.50" font-size="7.2" fill="#222">Cell 2</text><text x="567.50" y="89.50" font-size="7.2" fill="#222">Cell 3</text></g><text x="432.80" y="29.30" font-size="9.8" textLength="54.90" lengthAdjust="spacingAndGlyphs">Tumor tissue</text><path d="M485.8 116.5 V144.2 Q485.8 147.6 489.2 147.6 H593" stroke="#a8842e" stroke-width="0.9" fill="none"/><circle cx="593.30" cy="147.60" r="1.80" fill="#a8842e"/><circle cx="492.60" cy="160.80" r="1.90" fill="#a8842e"/><text x="498.50" y="164.00" font-size="9.8" textLength="98.30" lengthAdjust="spacingAndGlyphs">Cellular neighborhood</text><circle cx="492.60" cy="173.90" r="1.90" fill="#a8842e"/><text x="498.50" y="177.10" font-size="9.8" textLength="60.50" lengthAdjust="spacingAndGlyphs">Spatial niches</text><circle cx="492.60" cy="187.00" r="1.90" fill="#a8842e"/><text x="498.50" y="190.20" font-size="9.8" textLength="108.70" lengthAdjust="spacingAndGlyphs">Cell–cell communication</text><text x="0.00" y="212.50" font-size="14" fill="#111" font-weight="bold">c</text><text x="97.70" y="219.00" font-size="9.6" textLength="268.50" lengthAdjust="spacingAndGlyphs">Compositions of neighborhoods centered by each cell cluster</text><rect x="64.30" y="225.67" width="14.70" height="104.29" fill="#9cc742"/><rect x="64.30" y="329.61" width="14.70" height="3.75" fill="#ef7f24"/><rect x="64.30" y="333.02" width="14.70" height="3.00" fill="#e6f1f0"/><rect x="64.30" y="335.66" width="14.70" height="1.86" fill="#b9b6dc"/><rect x="64.30" y="337.17" width="14.70" height="1.86" fill="#d563a7"/><rect x="64.30" y="338.69" width="14.70" height="13.58" fill="#d2202a"/><rect x="64.30" y="351.91" width="14.70" height="14.34" fill="#3f54a4"/><rect x="64.30" y="365.90" width="14.70" height="1.86" fill="#faf6f8"/><rect x="64.30" y="367.41" width="14.70" height="1.86" fill="#f4c7dc"/><rect x="64.30" y="368.92" width="14.70" height="1.11" fill="#b47bb6"/><rect x="64.30" y="369.68" width="14.70" height="7.53" fill="#f6e06c"/><rect x="64.30" y="376.86" width="14.70" height="4.13" fill="#d95a48"/><rect x="64.30" y="380.64" width="14.70" height="3.18" fill="#0b8286"/><rect x="64.30" y="383.48" width="14.70" height="0.92" fill="#cfe5b6"/><rect x="64.30" y="384.04" width="14.70" height="1.11" fill="#7eb1d9"/><rect x="64.30" y="384.80" width="14.70" height="3.00" fill="#ef9b9d"/><rect x="64.30" y="387.44" width="14.70" height="0.73" fill="#006633"/><rect x="64.30" y="387.82" width="14.70" height="0.73" fill="#6b3d99"/><rect x="64.90" y="226.27" width="13.50" height="102.74" fill="none" stroke="#262626" stroke-width="1.3"/><rect x="82.13" y="225.67" width="14.70" height="40.04" fill="#9cc742"/><rect x="82.13" y="265.36" width="14.70" height="71.22" fill="#ef7f24"/><rect x="82.13" y="336.23" width="14.70" height="3.56" fill="#e6f1f0"/><rect x="82.13" y="339.44" width="14.70" height="1.86" fill="#b9b6dc"/><rect x="82.13" y="340.95" width="14.70" height="2.24" fill="#d563a7"/><rect x="82.13" y="342.84" width="14.70" height="10.74" fill="#d2202a"/><rect x="82.13" y="353.24" width="14.70" height="9.80" fill="#3f54a4"/><rect x="82.13" y="362.69" width="14.70" height="1.67" fill="#faf6f8"/><rect x="82.13" y="364.01" width="14.70" height="2.24" fill="#f4c7dc"/><rect x="82.13" y="365.90" width="14.70" height="0.92" fill="#b47bb6"/><rect x="82.13" y="366.47" width="14.70" height="6.02" fill="#f6e06c"/><rect x="82.13" y="372.14" width="14.70" height="6.96" fill="#d95a48"/><rect x="82.13" y="378.75" width="14.70" height="4.51" fill="#0b8286"/><rect x="82.13" y="382.91" width="14.70" height="1.11" fill="#cfe5b6"/><rect x="82.13" y="383.66" width="14.70" height="1.48" fill="#7eb1d9"/><rect x="82.13" y="384.80" width="14.70" height="3.00" fill="#ef9b9d"/><rect x="82.13" y="387.44" width="14.70" height="0.73" fill="#006633"/><rect x="82.13" y="387.82" width="14.70" height="0.73" fill="#6b3d99"/><rect x="82.73" y="265.96" width="13.50" height="69.67" fill="none" stroke="#262626" stroke-width="1.3"/><rect x="99.96" y="225.67" width="14.70" height="57.61" fill="#9cc742"/><rect x="99.96" y="282.93" width="14.70" height="9.23" fill="#ef7f24"/><rect x="99.96" y="291.82" width="14.70" height="42.87" fill="#e6f1f0"/><rect x="99.96" y="334.34" width="14.70" height="1.11" fill="#b9b6dc"/><rect x="99.96" y="335.09" width="14.70" height="0.92" fill="#d563a7"/><rect x="99.96" y="335.66" width="14.70" height="13.77" fill="#d2202a"/><rect x="99.96" y="349.08" width="14.70" height="12.07" fill="#3f54a4"/><rect x="99.96" y="360.80" width="14.70" height="3.56" fill="#faf6f8"/><rect x="99.96" y="364.01" width="14.70" height="2.24" fill="#f4c7dc"/><rect x="99.96" y="365.90" width="14.70" height="1.48" fill="#b47bb6"/><rect x="99.96" y="367.03" width="14.70" height="8.29" fill="#f6e06c"/><rect x="99.96" y="374.97" width="14.70" height="4.13" fill="#d95a48"/><rect x="99.96" y="378.75" width="14.70" height="3.18" fill="#0b8286"/><rect x="99.96" y="381.59" width="14.70" height="1.29" fill="#cfe5b6"/><rect x="99.96" y="382.53" width="14.70" height="1.29" fill="#7eb1d9"/><rect x="99.96" y="383.48" width="14.70" height="4.13" fill="#ef9b9d"/><rect x="99.96" y="387.26" width="14.70" height="0.92" fill="#006633"/><rect x="99.96" y="387.82" width="14.70" height="0.73" fill="#6b3d99"/><rect x="100.56" y="292.42" width="13.50" height="41.32" fill="none" stroke="#262626" stroke-width="1.3"/><rect x="117.79" y="225.67" width="14.70" height="29.64" fill="#9cc742"/><rect x="117.79" y="254.96" width="14.70" height="2.24" fill="#ef7f24"/><rect x="117.79" y="256.85" width="14.70" height="62.15" fill="#b9b6dc"/><rect x="117.79" y="318.65" width="14.70" height="15.09" fill="#d2202a"/><rect x="117.79" y="333.39" width="14.70" height="22.08" fill="#3f54a4"/><rect x="117.79" y="355.13" width="14.70" height="2.81" fill="#faf6f8"/><rect x="117.79" y="357.58" width="14.70" height="2.62" fill="#f4c7dc"/><rect x="117.79" y="359.85" width="14.70" height="1.29" fill="#b47bb6"/><rect x="117.79" y="360.80" width="14.70" height="15.47" fill="#f6e06c"/><rect x="117.79" y="375.92" width="14.70" height="4.13" fill="#d95a48"/><rect x="117.79" y="379.70" width="14.70" height="3.56" fill="#0b8286"/><rect x="117.79" y="382.91" width="14.70" height="1.29" fill="#cfe5b6"/><rect x="117.79" y="383.85" width="14.70" height="1.29" fill="#7eb1d9"/><rect x="117.79" y="384.80" width="14.70" height="2.24" fill="#ef9b9d"/><rect x="117.79" y="386.69" width="14.70" height="1.48" fill="#006633"/><rect x="117.79" y="387.82" width="14.70" height="0.73" fill="#6b3d99"/><rect x="118.39" y="257.45" width="13.50" height="60.60" fill="none" stroke="#262626" stroke-width="1.3"/><rect x="135.62" y="225.67" width="14.70" height="70.28" fill="#9cc742"/><rect x="135.62" y="295.60" width="14.70" height="4.51" fill="#ef7f24"/><rect x="135.62" y="299.75" width="14.70" height="3.00" fill="#e6f1f0"/><rect x="135.62" y="302.40" width="14.70" height="1.11" fill="#b9b6dc"/><rect x="135.62" y="303.16" width="14.70" height="30.02" fill="#d563a7"/><rect x="135.62" y="332.83" width="14.70" height="16.04" fill="#d2202a"/><rect x="135.62" y="348.51" width="14.70" height="14.90" fill="#3f54a4"/><rect x="135.62" y="363.06" width="14.70" height="2.05" fill="#faf6f8"/><rect x="135.62" y="364.77" width="14.70" height="2.62" fill="#f4c7dc"/><rect x="135.62" y="367.03" width="14.70" height="1.67" fill="#b47bb6"/><rect x="135.62" y="368.36" width="14.70" height="7.91" fill="#f6e06c"/><rect x="135.62" y="375.92" width="14.70" height="3.75" fill="#d95a48"/><rect x="135.62" y="379.32" width="14.70" height="3.18" fill="#0b8286"/><rect x="135.62" y="382.15" width="14.70" height="1.11" fill="#cfe5b6"/><rect x="135.62" y="382.91" width="14.70" height="1.11" fill="#7eb1d9"/><rect x="135.62" y="383.66" width="14.70" height="3.94" fill="#ef9b9d"/><rect x="135.62" y="387.26" width="14.70" height="0.92" fill="#006633"/><rect x="135.62" y="387.82" width="14.70" height="0.73" fill="#6b3d99"/><rect x="136.22" y="303.76" width="13.50" height="28.47" fill="none" stroke="#262626" stroke-width="1.3"/><rect x="153.45" y="225.67" width="14.70" height="33.42" fill="#9cc742"/><rect x="153.45" y="258.74" width="14.70" height="3.18" fill="#ef7f24"/><rect x="153.45" y="261.58" width="14.70" height="1.86" fill="#e6f1f0"/><rect x="153.45" y="263.09" width="14.70" height="1.86" fill="#b9b6dc"/><rect x="153.45" y="264.60" width="14.70" height="0.73" fill="#d563a7"/><rect x="153.45" y="264.98" width="14.70" height="62.72" fill="#d2202a"/><rect x="153.45" y="327.35" width="14.70" height="23.78" fill="#3f54a4"/><rect x="153.45" y="350.78" width="14.70" height="3.37" fill="#faf6f8"/><rect x="153.45" y="353.80" width="14.70" height="2.24" fill="#f4c7dc"/><rect x="153.45" y="355.69" width="14.70" height="2.24" fill="#b47bb6"/><rect x="153.45" y="357.58" width="14.70" height="9.80" fill="#f6e06c"/><rect x="153.45" y="367.03" width="14.70" height="8.67" fill="#d95a48"/><rect x="153.45" y="375.35" width="14.70" height="4.70" fill="#0b8286"/><rect x="153.45" y="379.70" width="14.70" height="1.29" fill="#cfe5b6"/><rect x="153.45" y="380.64" width="14.70" height="1.29" fill="#7eb1d9"/><rect x="153.45" y="381.59" width="14.70" height="4.70" fill="#ef9b9d"/><rect x="153.45" y="385.93" width="14.70" height="2.43" fill="#006633"/><rect x="153.45" y="388.01" width="14.70" height="0.54" fill="#6b3d99"/><rect x="154.05" y="265.58" width="13.50" height="61.17" fill="none" stroke="#262626" stroke-width="1.3"/><rect x="171.28" y="225.67" width="14.70" height="38.53" fill="#9cc742"/><rect x="171.28" y="263.85" width="14.70" height="2.43" fill="#ef7f24"/><rect x="171.28" y="265.92" width="14.70" height="2.05" fill="#e6f1f0"/><rect x="171.28" y="267.63" width="14.70" height="2.24" fill="#b9b6dc"/><rect x="171.28" y="269.52" width="14.70" height="0.92" fill="#d563a7"/><rect x="171.28" y="270.08" width="14.70" height="27.75" fill="#d2202a"/><rect x="171.28" y="297.49" width="14.70" height="58.56" fill="#3f54a4"/><rect x="171.28" y="355.69" width="14.70" height="2.24" fill="#faf6f8"/><rect x="171.28" y="357.58" width="14.70" height="2.62" fill="#f4c7dc"/><rect x="171.28" y="359.85" width="14.70" height="1.29" fill="#b47bb6"/><rect x="171.28" y="360.80" width="14.70" height="12.26" fill="#f6e06c"/><rect x="171.28" y="372.70" width="14.70" height="6.02" fill="#d95a48"/><rect x="171.28" y="378.37" width="14.70" height="3.56" fill="#0b8286"/><rect x="171.28" y="381.59" width="14.70" height="1.29" fill="#cfe5b6"/><rect x="171.28" y="382.53" width="14.70" height="1.29" fill="#7eb1d9"/><rect x="171.28" y="383.48" width="14.70" height="3.56" fill="#ef9b9d"/><rect x="171.28" y="386.69" width="14.70" height="1.11" fill="#006633"/><rect x="171.28" y="387.44" width="14.70" height="1.11" fill="#6b3d99"/><rect x="171.88" y="298.09" width="13.50" height="57.01" fill="none" stroke="#262626" stroke-width="1.3"/><rect x="189.11" y="225.67" width="14.70" height="40.42" fill="#9cc742"/><rect x="189.11" y="265.74" width="14.70" height="2.81" fill="#ef7f24"/><rect x="189.11" y="268.19" width="14.70" height="5.45" fill="#e6f1f0"/><rect x="189.11" y="273.30" width="14.70" height="2.81" fill="#b9b6dc"/><rect x="189.11" y="275.75" width="14.70" height="1.29" fill="#d563a7"/><rect x="189.11" y="276.70" width="14.70" height="25.30" fill="#d2202a"/><rect x="189.11" y="301.64" width="14.70" height="20.76" fill="#3f54a4"/><rect x="189.11" y="322.05" width="14.70" height="27.75" fill="#faf6f8"/><rect x="189.11" y="349.46" width="14.70" height="3.18" fill="#f4c7dc"/><rect x="189.11" y="352.29" width="14.70" height="2.24" fill="#b47bb6"/><rect x="189.11" y="354.18" width="14.70" height="14.52" fill="#f6e06c"/><rect x="189.11" y="368.36" width="14.70" height="5.45" fill="#d95a48"/><rect x="189.11" y="373.46" width="14.70" height="4.13" fill="#0b8286"/><rect x="189.11" y="377.24" width="14.70" height="1.48" fill="#cfe5b6"/><rect x="189.11" y="378.37" width="14.70" height="1.67" fill="#7eb1d9"/><rect x="189.11" y="379.70" width="14.70" height="6.02" fill="#ef9b9d"/><rect x="189.11" y="385.37" width="14.70" height="2.81" fill="#006633"/><rect x="189.11" y="387.82" width="14.70" height="0.73" fill="#6b3d99"/><rect x="189.71" y="322.65" width="13.50" height="26.20" fill="none" stroke="#262626" stroke-width="1.3"/><rect x="206.94" y="225.67" width="14.70" height="39.09" fill="#9cc742"/><rect x="206.94" y="264.41" width="14.70" height="2.81" fill="#ef7f24"/><rect x="206.94" y="266.87" width="14.70" height="2.24" fill="#e6f1f0"/><rect x="206.94" y="268.76" width="14.70" height="2.24" fill="#b9b6dc"/><rect x="206.94" y="270.65" width="14.70" height="1.11" fill="#d563a7"/><rect x="206.94" y="271.41" width="14.70" height="27.94" fill="#d2202a"/><rect x="206.94" y="299.00" width="14.70" height="21.14" fill="#3f54a4"/><rect x="206.94" y="319.79" width="14.70" height="3.56" fill="#faf6f8"/><rect x="206.94" y="323.00" width="14.70" height="20.19" fill="#f4c7dc"/><rect x="206.94" y="342.84" width="14.70" height="17.74" fill="#f6e06c"/><rect x="206.94" y="360.23" width="14.70" height="9.04" fill="#d95a48"/><rect x="206.94" y="368.92" width="14.70" height="6.02" fill="#0b8286"/><rect x="206.94" y="374.59" width="14.70" height="1.67" fill="#cfe5b6"/><rect x="206.94" y="375.92" width="14.70" height="1.67" fill="#7eb1d9"/><rect x="206.94" y="377.24" width="14.70" height="8.48" fill="#ef9b9d"/><rect x="206.94" y="385.37" width="14.70" height="2.81" fill="#006633"/><rect x="206.94" y="387.82" width="14.70" height="0.73" fill="#6b3d99"/><rect x="207.54" y="323.60" width="13.50" height="18.64" fill="none" stroke="#262626" stroke-width="1.3"/><rect x="224.77" y="225.67" width="14.70" height="27.19" fill="#9cc742"/><rect x="224.77" y="252.51" width="14.70" height="2.81" fill="#ef7f24"/><rect x="224.77" y="254.96" width="14.70" height="2.24" fill="#e6f1f0"/><rect x="224.77" y="256.85" width="14.70" height="2.24" fill="#b9b6dc"/><rect x="224.77" y="258.74" width="14.70" height="0.92" fill="#d563a7"/><rect x="224.77" y="259.31" width="14.70" height="37.01" fill="#d2202a"/><rect x="224.77" y="295.97" width="14.70" height="17.36" fill="#3f54a4"/><rect x="224.77" y="312.98" width="14.70" height="7.15" fill="#faf6f8"/><rect x="224.77" y="319.79" width="14.70" height="4.51" fill="#f4c7dc"/><rect x="224.77" y="323.94" width="14.70" height="24.92" fill="#b47bb6"/><rect x="224.77" y="348.51" width="14.70" height="15.09" fill="#f6e06c"/><rect x="224.77" y="363.25" width="14.70" height="5.45" fill="#d95a48"/><rect x="224.77" y="368.36" width="14.70" height="5.07" fill="#0b8286"/><rect x="224.77" y="373.08" width="14.70" height="1.29" fill="#cfe5b6"/><rect x="224.77" y="374.03" width="14.70" height="1.29" fill="#7eb1d9"/><rect x="224.77" y="374.97" width="14.70" height="6.96" fill="#ef9b9d"/><rect x="224.77" y="381.59" width="14.70" height="6.02" fill="#006633"/><rect x="224.77" y="387.26" width="14.70" height="1.29" fill="#6b3d99"/><rect x="225.37" y="324.54" width="13.50" height="23.37" fill="none" stroke="#262626" stroke-width="1.3"/><rect x="242.60" y="225.67" width="14.70" height="39.09" fill="#9cc742"/><rect x="242.60" y="264.41" width="14.70" height="21.14" fill="#e6f1f0"/><rect x="242.60" y="285.20" width="14.70" height="1.29" fill="#b9b6dc"/><rect x="242.60" y="286.15" width="14.70" height="0.73" fill="#d563a7"/><rect x="242.60" y="286.52" width="14.70" height="23.03" fill="#d2202a"/><rect x="242.60" y="309.20" width="14.70" height="15.09" fill="#3f54a4"/><rect x="242.60" y="323.94" width="14.70" height="15.09" fill="#faf6f8"/><rect x="242.60" y="338.69" width="14.70" height="4.51" fill="#f4c7dc"/><rect x="242.60" y="342.84" width="14.70" height="1.29" fill="#b47bb6"/><rect x="242.60" y="343.79" width="14.70" height="16.04" fill="#d6d6d6"/><rect x="242.60" y="359.47" width="14.70" height="13.96" fill="#f6e06c"/><rect x="242.60" y="373.08" width="14.70" height="4.51" fill="#0b8286"/><rect x="242.60" y="377.24" width="14.70" height="1.29" fill="#cfe5b6"/><rect x="242.60" y="378.18" width="14.70" height="1.29" fill="#7eb1d9"/><rect x="242.60" y="379.13" width="14.70" height="5.26" fill="#ef9b9d"/><rect x="242.60" y="384.04" width="14.70" height="4.13" fill="#006633"/><rect x="242.60" y="387.82" width="14.70" height="0.73" fill="#6b3d99"/><rect x="243.20" y="344.39" width="13.50" height="14.49" fill="none" stroke="#262626" stroke-width="1.3"/><rect x="260.43" y="225.67" width="14.70" height="39.66" fill="#9cc742"/><rect x="260.43" y="264.98" width="14.70" height="4.13" fill="#ef7f24"/><rect x="260.43" y="268.76" width="14.70" height="2.24" fill="#e6f1f0"/><rect x="260.43" y="270.65" width="14.70" height="3.37" fill="#b9b6dc"/><rect x="260.43" y="273.67" width="14.70" height="1.11" fill="#d563a7"/><rect x="260.43" y="274.43" width="14.70" height="21.89" fill="#d2202a"/><rect x="260.43" y="295.97" width="14.70" height="23.03" fill="#3f54a4"/><rect x="260.43" y="318.65" width="14.70" height="3.75" fill="#faf6f8"/><rect x="260.43" y="322.05" width="14.70" height="3.18" fill="#f4c7dc"/><rect x="260.43" y="324.89" width="14.70" height="1.29" fill="#b47bb6"/><rect x="260.43" y="325.83" width="14.70" height="42.87" fill="#f6e06c"/><rect x="260.43" y="368.36" width="14.70" height="4.70" fill="#d95a48"/><rect x="260.43" y="372.70" width="14.70" height="6.02" fill="#0b8286"/><rect x="260.43" y="378.37" width="14.70" height="1.86" fill="#cfe5b6"/><rect x="260.43" y="379.88" width="14.70" height="2.05" fill="#7eb1d9"/><rect x="260.43" y="381.59" width="14.70" height="5.07" fill="#ef9b9d"/><rect x="260.43" y="386.31" width="14.70" height="2.05" fill="#006633"/><rect x="260.43" y="388.01" width="14.70" height="0.54" fill="#6b3d99"/><rect x="261.03" y="326.43" width="13.50" height="41.32" fill="none" stroke="#262626" stroke-width="1.3"/><rect x="278.26" y="225.67" width="14.70" height="33.42" fill="#9cc742"/><rect x="278.26" y="258.74" width="14.70" height="6.59" fill="#ef7f24"/><rect x="278.26" y="264.98" width="14.70" height="1.86" fill="#e6f1f0"/><rect x="278.26" y="266.49" width="14.70" height="0.92" fill="#b9b6dc"/><rect x="278.26" y="267.06" width="14.70" height="0.54" fill="#d563a7"/><rect x="278.26" y="267.25" width="14.70" height="30.97" fill="#d2202a"/><rect x="278.26" y="297.86" width="14.70" height="21.14" fill="#3f54a4"/><rect x="278.26" y="318.65" width="14.70" height="1.86" fill="#faf6f8"/><rect x="278.26" y="320.16" width="14.70" height="3.18" fill="#f4c7dc"/><rect x="278.26" y="323.00" width="14.70" height="0.92" fill="#b47bb6"/><rect x="278.26" y="323.57" width="14.70" height="8.67" fill="#f6e06c"/><rect x="278.26" y="331.88" width="14.70" height="41.17" fill="#d95a48"/><rect x="278.26" y="372.70" width="14.70" height="6.02" fill="#0b8286"/><rect x="278.26" y="378.37" width="14.70" height="1.48" fill="#cfe5b6"/><rect x="278.26" y="379.51" width="14.70" height="1.48" fill="#7eb1d9"/><rect x="278.26" y="380.64" width="14.70" height="6.02" fill="#ef9b9d"/><rect x="278.26" y="386.31" width="14.70" height="2.05" fill="#006633"/><rect x="278.26" y="388.01" width="14.70" height="0.54" fill="#6b3d99"/><rect x="278.86" y="332.48" width="13.50" height="39.62" fill="none" stroke="#262626" stroke-width="1.3"/><rect x="296.09" y="225.67" width="14.70" height="38.53" fill="#9cc742"/><rect x="296.09" y="263.85" width="14.70" height="5.26" fill="#ef7f24"/><rect x="296.09" y="268.76" width="14.70" height="2.24" fill="#e6f1f0"/><rect x="296.09" y="270.65" width="14.70" height="3.00" fill="#b9b6dc"/><rect x="296.09" y="273.30" width="14.70" height="0.92" fill="#d563a7"/><rect x="296.09" y="273.86" width="14.70" height="26.24" fill="#d2202a"/><rect x="296.09" y="299.75" width="14.70" height="18.49" fill="#3f54a4"/><rect x="296.09" y="317.90" width="14.70" height="2.24" fill="#faf6f8"/><rect x="296.09" y="319.79" width="14.70" height="4.13" fill="#f4c7dc"/><rect x="296.09" y="323.57" width="14.70" height="1.11" fill="#b47bb6"/><rect x="296.09" y="324.32" width="14.70" height="17.93" fill="#f6e06c"/><rect x="296.09" y="341.90" width="14.70" height="9.80" fill="#d95a48"/><rect x="296.09" y="351.35" width="14.70" height="26.24" fill="#0b8286"/><rect x="296.09" y="377.24" width="14.70" height="1.86" fill="#cfe5b6"/><rect x="296.09" y="378.75" width="14.70" height="1.86" fill="#7eb1d9"/><rect x="296.09" y="380.26" width="14.70" height="6.02" fill="#ef9b9d"/><rect x="296.09" y="385.93" width="14.70" height="2.43" fill="#006633"/><rect x="296.09" y="388.01" width="14.70" height="0.54" fill="#6b3d99"/><rect x="296.69" y="351.95" width="13.50" height="24.69" fill="none" stroke="#262626" stroke-width="1.3"/><rect x="313.92" y="225.67" width="14.70" height="38.53" fill="#9cc742"/><rect x="313.92" y="263.85" width="14.70" height="3.75" fill="#ef7f24"/><rect x="313.92" y="267.25" width="14.70" height="2.62" fill="#e6f1f0"/><rect x="313.92" y="269.52" width="14.70" height="2.24" fill="#b9b6dc"/><rect x="313.92" y="271.41" width="14.70" height="0.92" fill="#d563a7"/><rect x="313.92" y="271.97" width="14.70" height="24.92" fill="#d2202a"/><rect x="313.92" y="296.54" width="14.70" height="17.93" fill="#3f54a4"/><rect x="313.92" y="314.12" width="14.70" height="3.56" fill="#faf6f8"/><rect x="313.92" y="317.33" width="14.70" height="4.13" fill="#f4c7dc"/><rect x="313.92" y="321.11" width="14.70" height="1.29" fill="#b47bb6"/><rect x="313.92" y="322.05" width="14.70" height="22.08" fill="#f6e06c"/><rect x="313.92" y="343.79" width="14.70" height="8.85" fill="#d95a48"/><rect x="313.92" y="352.29" width="14.70" height="6.40" fill="#0b8286"/><rect x="313.92" y="358.34" width="14.70" height="20.38" fill="#cfe5b6"/><rect x="313.92" y="378.37" width="14.70" height="1.67" fill="#7eb1d9"/><rect x="313.92" y="379.70" width="14.70" height="6.59" fill="#ef9b9d"/><rect x="313.92" y="385.93" width="14.70" height="2.43" fill="#006633"/><rect x="313.92" y="388.01" width="14.70" height="0.54" fill="#6b3d99"/><rect x="314.52" y="358.94" width="13.50" height="18.83" fill="none" stroke="#262626" stroke-width="1.3"/><rect x="331.75" y="225.67" width="14.70" height="39.66" fill="#9cc742"/><rect x="331.75" y="264.98" width="14.70" height="6.40" fill="#ef7f24"/><rect x="331.75" y="271.03" width="14.70" height="2.24" fill="#e6f1f0"/><rect x="331.75" y="272.92" width="14.70" height="1.48" fill="#b9b6dc"/><rect x="331.75" y="274.05" width="14.70" height="0.73" fill="#d563a7"/><rect x="331.75" y="274.43" width="14.70" height="30.02" fill="#d2202a"/><rect x="331.75" y="304.10" width="14.70" height="21.71" fill="#3f54a4"/><rect x="331.75" y="325.46" width="14.70" height="3.56" fill="#faf6f8"/><rect x="331.75" y="328.67" width="14.70" height="3.18" fill="#f4c7dc"/><rect x="331.75" y="331.50" width="14.70" height="1.29" fill="#b47bb6"/><rect x="331.75" y="332.45" width="14.70" height="9.80" fill="#f6e06c"/><rect x="331.75" y="341.90" width="14.70" height="13.58" fill="#d95a48"/><rect x="331.75" y="355.13" width="14.70" height="5.07" fill="#0b8286"/><rect x="331.75" y="359.85" width="14.70" height="22.65" fill="#7eb1d9"/><rect x="331.75" y="382.15" width="14.70" height="4.13" fill="#ef9b9d"/><rect x="331.75" y="385.93" width="14.70" height="2.43" fill="#006633"/><rect x="331.75" y="388.01" width="14.70" height="0.54" fill="#6b3d99"/><rect x="332.35" y="360.45" width="13.50" height="21.10" fill="none" stroke="#262626" stroke-width="1.3"/><rect x="349.58" y="225.67" width="14.70" height="42.87" fill="#9cc742"/><rect x="349.58" y="268.19" width="14.70" height="3.56" fill="#ef7f24"/><rect x="349.58" y="271.41" width="14.70" height="2.24" fill="#e6f1f0"/><rect x="349.58" y="273.30" width="14.70" height="3.00" fill="#b9b6dc"/><rect x="349.58" y="275.94" width="14.70" height="1.11" fill="#d563a7"/><rect x="349.58" y="276.70" width="14.70" height="21.14" fill="#d2202a"/><rect x="349.58" y="297.49" width="14.70" height="16.98" fill="#3f54a4"/><rect x="349.58" y="314.12" width="14.70" height="3.00" fill="#faf6f8"/><rect x="349.58" y="316.76" width="14.70" height="4.70" fill="#f4c7dc"/><rect x="349.58" y="321.11" width="14.70" height="1.29" fill="#b47bb6"/><rect x="349.58" y="322.05" width="14.70" height="12.63" fill="#f6e06c"/><rect x="349.58" y="334.34" width="14.70" height="7.91" fill="#d95a48"/><rect x="349.58" y="341.90" width="14.70" height="5.07" fill="#0b8286"/><rect x="349.58" y="346.62" width="14.70" height="1.86" fill="#cfe5b6"/><rect x="349.58" y="348.13" width="14.70" height="1.67" fill="#7eb1d9"/><rect x="349.58" y="349.46" width="14.70" height="37.58" fill="#ef9b9d"/><rect x="349.58" y="386.69" width="14.70" height="1.11" fill="#006633"/><rect x="349.58" y="387.44" width="14.70" height="1.11" fill="#6b3d99"/><rect x="350.18" y="350.06" width="13.50" height="36.03" fill="none" stroke="#262626" stroke-width="1.3"/><rect x="367.41" y="225.67" width="14.70" height="18.87" fill="#9cc742"/><rect x="367.41" y="244.19" width="14.70" height="3.00" fill="#ef7f24"/><rect x="367.41" y="246.84" width="14.70" height="2.24" fill="#e6f1f0"/><rect x="367.41" y="248.73" width="14.70" height="1.86" fill="#b9b6dc"/><rect x="367.41" y="250.24" width="14.70" height="0.73" fill="#d563a7"/><rect x="367.41" y="250.62" width="14.70" height="39.28" fill="#d2202a"/><rect x="367.41" y="289.55" width="14.70" height="11.69" fill="#3f54a4"/><rect x="367.41" y="300.89" width="14.70" height="4.51" fill="#faf6f8"/><rect x="367.41" y="305.05" width="14.70" height="3.18" fill="#f4c7dc"/><rect x="367.41" y="307.88" width="14.70" height="3.56" fill="#b47bb6"/><rect x="367.41" y="311.09" width="14.70" height="10.93" fill="#f6e06c"/><rect x="367.41" y="321.68" width="14.70" height="4.51" fill="#d95a48"/><rect x="367.41" y="325.83" width="14.70" height="4.51" fill="#0b8286"/><rect x="367.41" y="329.99" width="14.70" height="1.86" fill="#cfe5b6"/><rect x="367.41" y="331.50" width="14.70" height="1.86" fill="#7eb1d9"/><rect x="367.41" y="333.02" width="14.70" height="4.51" fill="#ef9b9d"/><rect x="367.41" y="337.17" width="14.70" height="51.38" fill="#006633"/><rect x="368.01" y="337.77" width="13.50" height="49.83" fill="none" stroke="#262626" stroke-width="1.3"/><rect x="385.24" y="225.67" width="14.70" height="47.98" fill="#9cc742"/><rect x="385.24" y="273.30" width="14.70" height="3.00" fill="#ef7f24"/><rect x="385.24" y="275.94" width="14.70" height="2.05" fill="#e6f1f0"/><rect x="385.24" y="277.64" width="14.70" height="2.43" fill="#b9b6dc"/><rect x="385.24" y="279.72" width="14.70" height="1.11" fill="#d563a7"/><rect x="385.24" y="280.48" width="14.70" height="32.10" fill="#d2202a"/><rect x="385.24" y="312.23" width="14.70" height="17.36" fill="#3f54a4"/><rect x="385.24" y="329.24" width="14.70" height="3.56" fill="#faf6f8"/><rect x="385.24" y="332.45" width="14.70" height="4.13" fill="#f4c7dc"/><rect x="385.24" y="336.23" width="14.70" height="2.24" fill="#b47bb6"/><rect x="385.24" y="338.12" width="14.70" height="11.12" fill="#f6e06c"/><rect x="385.24" y="348.89" width="14.70" height="6.02" fill="#d95a48"/><rect x="385.24" y="354.56" width="14.70" height="5.26" fill="#0b8286"/><rect x="385.24" y="359.47" width="14.70" height="1.86" fill="#cfe5b6"/><rect x="385.24" y="360.99" width="14.70" height="2.05" fill="#7eb1d9"/><rect x="385.24" y="362.69" width="14.70" height="6.96" fill="#ef9b9d"/><rect x="385.24" y="369.30" width="14.70" height="1.29" fill="#006633"/><rect x="385.24" y="370.25" width="14.70" height="18.30" fill="#6b3d99"/><rect x="385.84" y="370.85" width="13.50" height="16.75" fill="none" stroke="#262626" stroke-width="1.3"/><path d="M61.7 218.4 V396.6 H401.7" stroke="#6b6b6b" stroke-width="0.8" fill="none"/><line x1="57.50" y1="226.60" x2="61.70" y2="226.60" stroke="#6b6b6b" stroke-width="0.8"/><text x="54.50" y="229.80" font-size="8.6" text-anchor="end" fill="#3a3a3a">1.00</text><line x1="57.50" y1="267.15" x2="61.70" y2="267.15" stroke="#6b6b6b" stroke-width="0.8"/><text x="54.50" y="270.35" font-size="8.6" text-anchor="end" fill="#3a3a3a">0.75</text><line x1="57.50" y1="307.70" x2="61.70" y2="307.70" stroke="#6b6b6b" stroke-width="0.8"/><text x="54.50" y="310.90" font-size="8.6" text-anchor="end" fill="#3a3a3a">0.50</text><line x1="57.50" y1="348.25" x2="61.70" y2="348.25" stroke="#6b6b6b" stroke-width="0.8"/><text x="54.50" y="351.45" font-size="8.6" text-anchor="end" fill="#3a3a3a">0.25</text><line x1="57.50" y1="388.80" x2="61.70" y2="388.80" stroke="#6b6b6b" stroke-width="0.8"/><text x="54.50" y="392.00" font-size="8.6" text-anchor="end" fill="#3a3a3a">0</text><line x1="71.65" y1="396.60" x2="71.65" y2="401.40" stroke="#6b6b6b" stroke-width="0.8"/><line x1="89.48" y1="396.60" x2="89.48" y2="401.40" stroke="#6b6b6b" stroke-width="0.8"/><line x1="107.31" y1="396.60" x2="107.31" y2="401.40" stroke="#6b6b6b" stroke-width="0.8"/><line x1="125.14" y1="396.60" x2="125.14" y2="401.40" stroke="#6b6b6b" stroke-width="0.8"/><line x1="142.97" y1="396.60" x2="142.97" y2="401.40" stroke="#6b6b6b" stroke-width="0.8"/><line x1="160.80" y1="396.60" x2="160.80" y2="401.40" stroke="#6b6b6b" stroke-width="0.8"/><line x1="178.63" y1="396.60" x2="178.63" y2="401.40" stroke="#6b6b6b" stroke-width="0.8"/><line x1="196.46" y1="396.60" x2="196.46" y2="401.40" stroke="#6b6b6b" stroke-width="0.8"/><line x1="214.29" y1="396.60" x2="214.29" y2="401.40" stroke="#6b6b6b" stroke-width="0.8"/><line x1="232.12" y1="396.60" x2="232.12" y2="401.40" stroke="#6b6b6b" stroke-width="0.8"/><line x1="249.95" y1="396.60" x2="249.95" y2="401.40" stroke="#6b6b6b" stroke-width="0.8"/><line x1="267.78" y1="396.60" x2="267.78" y2="401.40" stroke="#6b6b6b" stroke-width="0.8"/><line x1="285.61" y1="396.60" x2="285.61" y2="401.40" stroke="#6b6b6b" stroke-width="0.8"/><line x1="303.44" y1="396.60" x2="303.44" y2="401.40" stroke="#6b6b6b" stroke-width="0.8"/><line x1="321.27" y1="396.60" x2="321.27" y2="401.40" stroke="#6b6b6b" stroke-width="0.8"/><line x1="339.10" y1="396.60" x2="339.10" y2="401.40" stroke="#6b6b6b" stroke-width="0.8"/><line x1="356.93" y1="396.60" x2="356.93" y2="401.40" stroke="#6b6b6b" stroke-width="0.8"/><line x1="374.76" y1="396.60" x2="374.76" y2="401.40" stroke="#6b6b6b" stroke-width="0.8"/><line x1="392.59" y1="396.60" x2="392.59" y2="401.40" stroke="#6b6b6b" stroke-width="0.8"/><text x="15.50" y="303.30" font-size="9.4" text-anchor="middle" textLength="141.00" lengthAdjust="spacingAndGlyphs" transform="rotate(-90 15.50 303.30)">Proportion of cell clusters in the</text><text x="27.20" y="304.00" font-size="9.4" text-anchor="middle" textLength="62.00" lengthAdjust="spacingAndGlyphs" transform="rotate(-90 27.20 304.00)">neighborhood</text><g transform="translate(76.65 407.40) rotate(-45)"><text x="0" y="0" font-size="8.2" text-anchor="end" fill="#3a3a3a">C0_Tumor-B</text><circle cx="-50.83" cy="-2.6" r="2.9" fill="#9cc742" stroke="#555" stroke-width="0.45"/></g><g transform="translate(94.48 407.40) rotate(-45)"><text x="0" y="0" font-size="8.2" text-anchor="end" fill="#3a3a3a">C1_PC_IgG</text><circle cx="-48.41" cy="-2.6" r="2.9" fill="#ef7f24" stroke="#555" stroke-width="0.45"/></g><g transform="translate(112.31 407.40) rotate(-45)"><text x="0" y="0" font-size="8.2" text-anchor="end" fill="#3a3a3a">C2_PC_IgA</text><circle cx="-47.50" cy="-2.6" r="2.9" fill="#e6f1f0" stroke="#555" stroke-width="0.45"/></g><g transform="translate(130.14 407.40) rotate(-45)"><text x="0" y="0" font-size="8.2" text-anchor="end" fill="#3a3a3a">C3_Resting-B</text><circle cx="-55.24" cy="-2.6" r="2.9" fill="#b9b6dc" stroke="#555" stroke-width="0.45"/></g><g transform="translate(147.97 407.40) rotate(-45)"><text x="0" y="0" font-size="8.2" text-anchor="end" fill="#3a3a3a">C4_PC_IgM</text><circle cx="-48.86" cy="-2.6" r="2.9" fill="#d563a7" stroke="#555" stroke-width="0.45"/></g><g transform="translate(165.80 407.40) rotate(-45)"><text x="0" y="0" font-size="8.2" text-anchor="end" fill="#3a3a3a">C5_T</text><circle cx="-24.25" cy="-2.6" r="2.9" fill="#d2202a" stroke="#555" stroke-width="0.45"/></g><g transform="translate(183.63 407.40) rotate(-45)"><text x="0" y="0" font-size="8.2" text-anchor="end" fill="#3a3a3a">C6_TAM_<tspan font-style="italic">APOE_C1Q</tspan></text><circle cx="-84.71" cy="-2.6" r="2.9" fill="#3f54a4" stroke="#555" stroke-width="0.45"/></g><g transform="translate(201.46 407.40) rotate(-45)"><text x="0" y="0" font-size="8.2" text-anchor="end" fill="#3a3a3a">C7_TAM_<tspan font-style="italic">SPP1</tspan></text><circle cx="-61.47" cy="-2.6" r="2.9" fill="#faf6f8" stroke="#555" stroke-width="0.45"/></g><g transform="translate(219.29 407.40) rotate(-45)"><text x="0" y="0" font-size="8.2" text-anchor="end" fill="#3a3a3a">C8_Mac_<tspan font-style="italic">DUSP1</tspan></text><circle cx="-66.64" cy="-2.6" r="2.9" fill="#f4c7dc" stroke="#555" stroke-width="0.45"/></g><g transform="translate(237.12 407.40) rotate(-45)"><text x="0" y="0" font-size="8.2" text-anchor="end" fill="#3a3a3a">C9_Mac_<tspan font-style="italic">CXCL8</tspan></text><circle cx="-65.73" cy="-2.6" r="2.9" fill="#b47bb6" stroke="#555" stroke-width="0.45"/></g><g transform="translate(254.95 407.40) rotate(-45)"><text x="0" y="0" font-size="8.2" text-anchor="end" fill="#3a3a3a">C10_Mac_<tspan font-style="italic">MT2A</tspan></text><circle cx="-65.72" cy="-2.6" r="2.9" fill="#d6d6d6" stroke="#555" stroke-width="0.45"/></g><g transform="translate(272.78 407.40) rotate(-45)"><text x="0" y="0" font-size="8.2" text-anchor="end" fill="#3a3a3a">C11_FRC</text><circle cx="-40.05" cy="-2.6" r="2.9" fill="#f6e06c" stroke="#555" stroke-width="0.45"/></g><g transform="translate(290.61 407.40) rotate(-45)"><text x="0" y="0" font-size="8.2" text-anchor="end" fill="#3a3a3a">C12_HEV</text><circle cx="-40.66" cy="-2.6" r="2.9" fill="#d95a48" stroke="#555" stroke-width="0.45"/></g><g transform="translate(308.44 407.40) rotate(-45)"><text x="0" y="0" font-size="8.2" text-anchor="end" fill="#3a3a3a">C13_Endothelial_<tspan font-style="italic">VWF</tspan></text><circle cx="-87.15" cy="-2.6" r="2.9" fill="#0b8286" stroke="#555" stroke-width="0.45"/></g><g transform="translate(326.27 407.40) rotate(-45)"><text x="0" y="0" font-size="8.2" text-anchor="end" fill="#3a3a3a">C14_VSMC</text><circle cx="-47.49" cy="-2.6" r="2.9" fill="#cfe5b6" stroke="#555" stroke-width="0.45"/></g><g transform="translate(344.10 407.40) rotate(-45)"><text x="0" y="0" font-size="8.2" text-anchor="end" fill="#3a3a3a">C15_Stromal_<tspan font-style="italic">CLU</tspan></text><circle cx="-73.02" cy="-2.6" r="2.9" fill="#7eb1d9" stroke="#555" stroke-width="0.45"/></g><g transform="translate(361.93 407.40) rotate(-45)"><text x="0" y="0" font-size="8.2" text-anchor="end" fill="#3a3a3a">C16_Stressed</text><circle cx="-56.16" cy="-2.6" r="2.9" fill="#ef9b9d" stroke="#555" stroke-width="0.45"/></g><g transform="translate(379.76 407.40) rotate(-45)"><text x="0" y="0" font-size="8.2" text-anchor="end" fill="#3a3a3a">C17_Epithelial</text><circle cx="-57.08" cy="-2.6" r="2.9" fill="#006633" stroke="#555" stroke-width="0.45"/></g><g transform="translate(397.59 407.40) rotate(-45)"><text x="0" y="0" font-size="8.2" text-anchor="end" fill="#3a3a3a">C18_RBC</text><circle cx="-41.12" cy="-2.6" r="2.9" fill="#6b3d99" stroke="#555" stroke-width="0.45"/></g><text x="191.90" y="484.30" font-size="9.4" textLength="80.10" lengthAdjust="spacingAndGlyphs">Center cell cluster</text><text x="429.20" y="215.30" font-size="14" fill="#111" font-weight="bold">d</text><line x1="518.30" y1="212.80" x2="553.00" y2="300.00" stroke="#e6e2de" stroke-width="0.5"/><line x1="502.64" y1="222.64" x2="538.00" y2="310.00" stroke="#e6e2de" stroke-width="0.5"/><line x1="486.98" y1="232.48" x2="523.00" y2="320.00" stroke="#e6e2de" stroke-width="0.5"/><line x1="471.32" y1="242.32" x2="508.00" y2="330.00" stroke="#e6e2de" stroke-width="0.5"/><line x1="455.66" y1="252.16" x2="493.00" y2="340.00" stroke="#e6e2de" stroke-width="0.5"/><line x1="440.00" y1="262.00" x2="478.00" y2="350.00" stroke="#e6e2de" stroke-width="0.5"/><line x1="518.30" y1="212.80" x2="440.00" y2="262.00" stroke="#e6e2de" stroke-width="0.5"/><line x1="526.97" y1="234.60" x2="449.50" y2="284.00" stroke="#e6e2de" stroke-width="0.5"/><line x1="535.65" y1="256.40" x2="459.00" y2="306.00" stroke="#e6e2de" stroke-width="0.5"/><line x1="544.33" y1="278.20" x2="468.50" y2="328.00" stroke="#e6e2de" stroke-width="0.5"/><line x1="553.00" y1="300.00" x2="478.00" y2="350.00" stroke="#e6e2de" stroke-width="0.5"/><line x1="545.64" y1="222.64" x2="570.40" y2="309.00" stroke="#e6e2de" stroke-width="0.5"/><line x1="572.98" y1="232.48" x2="587.80" y2="318.00" stroke="#e6e2de" stroke-width="0.5"/><line x1="600.32" y1="242.32" x2="605.20" y2="327.00" stroke="#e6e2de" stroke-width="0.5"/><line x1="627.66" y1="252.16" x2="622.60" y2="336.00" stroke="#e6e2de" stroke-width="0.5"/><line x1="655.00" y1="262.00" x2="640.00" y2="345.00" stroke="#e6e2de" stroke-width="0.5"/><line x1="526.97" y1="234.60" x2="651.25" y2="282.75" stroke="#e6e2de" stroke-width="0.5"/><line x1="535.65" y1="256.40" x2="647.50" y2="303.50" stroke="#e6e2de" stroke-width="0.5"/><line x1="544.33" y1="278.20" x2="643.75" y2="324.25" stroke="#e6e2de" stroke-width="0.5"/><line x1="553.00" y1="300.00" x2="640.00" y2="345.00" stroke="#e6e2de" stroke-width="0.5"/><line x1="478.00" y1="350.00" x2="500.00" y2="395.00" stroke="#e6e2de" stroke-width="0.5"/><line x1="510.40" y1="349.00" x2="524.00" y2="400.00" stroke="#e6e2de" stroke-width="0.5"/><line x1="542.80" y1="348.00" x2="548.00" y2="405.00" stroke="#e6e2de" stroke-width="0.5"/><line x1="575.20" y1="347.00" x2="572.00" y2="410.00" stroke="#e6e2de" stroke-width="0.5"/><line x1="607.60" y1="346.00" x2="596.00" y2="415.00" stroke="#e6e2de" stroke-width="0.5"/><line x1="640.00" y1="345.00" x2="620.00" y2="420.00" stroke="#e6e2de" stroke-width="0.5"/><g stroke="#8d8178" stroke-width="0.7" fill="none"><path d="M549.2 222.6 L556.7 298.4 L548.1 307.5"/><path d="M530 270.2 L638.6 322.2"/><path d="M459.5 267.9 L487.4 330.8"/><path d="M518.3 281.2 L529.6 270.4"/><path d="M530 364 L598 405"/></g><circle cx="483.34" cy="285.36" r="0.90" fill="none" stroke="#3a44a0" stroke-width="0.5" opacity="0.55"/><circle cx="510.37" cy="270.14" r="0.90" fill="none" stroke="#3a44a0" stroke-width="0.5" opacity="0.55"/><circle cx="480.46" cy="294.70" r="0.90" fill="none" stroke="#3a44a0" stroke-width="0.5" opacity="0.55"/><circle cx="516.99" cy="308.89" r="0.90" fill="none" stroke="#3a44a0" stroke-width="0.5" opacity="0.55"/><circle cx="492.14" cy="271.79" r="0.90" fill="none" stroke="#3a44a0" stroke-width="0.5" opacity="0.55"/><circle cx="513.66" cy="291.00" r="0.90" fill="none" stroke="#3a44a0" stroke-width="0.5" opacity="0.55"/><circle cx="522.31" cy="317.01" r="0.90" fill="none" stroke="#3a44a0" stroke-width="0.5" opacity="0.55"/><circle cx="483.03" cy="287.06" r="0.90" fill="none" stroke="#3a44a0" stroke-width="0.5" opacity="0.55"/><circle cx="522.58" cy="311.82" r="0.90" fill="none" stroke="#3a44a0" stroke-width="0.5" opacity="0.55"/><circle cx="484.42" cy="282.04" r="0.90" fill="none" stroke="#3a44a0" stroke-width="0.5" opacity="0.55"/><circle cx="522.89" cy="314.46" r="0.90" fill="none" stroke="#3a44a0" stroke-width="0.5" opacity="0.55"/><circle cx="483.63" cy="325.28" r="0.90" fill="none" stroke="#3a44a0" stroke-width="0.5" opacity="0.55"/><circle cx="492.46" cy="271.97" r="0.90" fill="none" stroke="#3a44a0" stroke-width="0.5" opacity="0.55"/><circle cx="487.35" cy="276.67" r="0.90" fill="none" stroke="#3a44a0" stroke-width="0.5" opacity="0.55"/><circle cx="520.07" cy="315.30" r="0.90" fill="none" stroke="#3a44a0" stroke-width="0.5" opacity="0.55"/><circle cx="512.45" cy="322.43" r="0.90" fill="none" stroke="#3a44a0" stroke-width="0.5" opacity="0.55"/><circle cx="487.97" cy="323.00" r="0.90" fill="none" stroke="#3a44a0" stroke-width="0.5" opacity="0.55"/><circle cx="480.85" cy="323.73" r="0.90" fill="none" stroke="#3a44a0" stroke-width="0.5" opacity="0.55"/><circle cx="482.20" cy="280.99" r="0.90" fill="none" stroke="#3a44a0" stroke-width="0.5" opacity="0.55"/><circle cx="479.85" cy="283.37" r="0.90" fill="none" stroke="#3a44a0" stroke-width="0.5" opacity="0.55"/><circle cx="479.91" cy="320.67" r="0.90" fill="none" stroke="#3a44a0" stroke-width="0.5" opacity="0.55"/><circle cx="510.71" cy="323.73" r="0.90" fill="none" stroke="#3a44a0" stroke-width="0.5" opacity="0.55"/><circle cx="480.06" cy="304.73" r="0.90" fill="none" stroke="#3a44a0" stroke-width="0.5" opacity="0.55"/><circle cx="512.34" cy="320.09" r="0.90" fill="none" stroke="#3a44a0" stroke-width="0.5" opacity="0.55"/><circle cx="514.88" cy="320.95" r="0.90" fill="none" stroke="#3a44a0" stroke-width="0.5" opacity="0.55"/><circle cx="519.73" cy="318.40" r="0.90" fill="none" stroke="#3a44a0" stroke-width="0.5" opacity="0.55"/><circle cx="523.90" cy="318.90" r="0.90" fill="none" stroke="#3a44a0" stroke-width="0.5" opacity="0.55"/><circle cx="511.94" cy="290.31" r="0.90" fill="none" stroke="#3a44a0" stroke-width="0.5" opacity="0.55"/><circle cx="480.44" cy="302.69" r="0.90" fill="none" stroke="#3a44a0" stroke-width="0.5" opacity="0.55"/><circle cx="510.59" cy="296.64" r="0.90" fill="none" stroke="#3a44a0" stroke-width="0.5" opacity="0.55"/><circle cx="506.81" cy="321.27" r="0.90" fill="none" stroke="#3a44a0" stroke-width="0.5" opacity="0.55"/><circle cx="490.64" cy="268.36" r="0.90" fill="none" stroke="#3a44a0" stroke-width="0.5" opacity="0.55"/><circle cx="515.45" cy="320.91" r="0.90" fill="none" stroke="#3a44a0" stroke-width="0.5" opacity="0.55"/><circle cx="511.18" cy="322.99" r="0.90" fill="none" stroke="#3a44a0" stroke-width="0.5" opacity="0.55"/><circle cx="499.61" cy="269.14" r="0.90" fill="none" stroke="#3a44a0" stroke-width="0.5" opacity="0.55"/><circle cx="485.45" cy="270.43" r="0.90" fill="none" stroke="#3a44a0" stroke-width="0.5" opacity="0.55"/><circle cx="515.51" cy="323.48" r="0.90" fill="none" stroke="#3a44a0" stroke-width="0.5" opacity="0.55"/><circle cx="509.97" cy="279.30" r="0.90" fill="none" stroke="#3a44a0" stroke-width="0.5" opacity="0.55"/><circle cx="479.59" cy="295.18" r="0.90" fill="none" stroke="#3a44a0" stroke-width="0.5" opacity="0.55"/><circle cx="511.31" cy="278.12" r="0.90" fill="none" stroke="#3a44a0" stroke-width="0.5" opacity="0.55"/><circle cx="510.55" cy="297.99" r="0.90" fill="none" stroke="#3a44a0" stroke-width="0.5" opacity="0.55"/><circle cx="507.31" cy="320.66" r="0.90" fill="none" stroke="#3a44a0" stroke-width="0.5" opacity="0.55"/><circle cx="518.76" cy="314.07" r="0.90" fill="none" stroke="#3a44a0" stroke-width="0.5" opacity="0.55"/><circle cx="493.55" cy="320.66" r="0.90" fill="none" stroke="#3a44a0" stroke-width="0.5" opacity="0.55"/><circle cx="501.08" cy="269.35" r="0.90" fill="none" stroke="#3a44a0" stroke-width="0.5" opacity="0.55"/><circle cx="485.44" cy="276.35" r="0.90" fill="none" stroke="#3a44a0" stroke-width="0.5" opacity="0.55"/><circle cx="516.98" cy="307.82" r="0.90" fill="none" stroke="#3a44a0" stroke-width="0.5" opacity="0.55"/><circle cx="517.22" cy="320.11" r="0.90" fill="none" stroke="#3a44a0" stroke-width="0.5" opacity="0.55"/><circle cx="506.40" cy="269.32" r="0.90" fill="none" stroke="#3a44a0" stroke-width="0.5" opacity="0.55"/><circle cx="510.26" cy="271.54" r="0.90" fill="none" stroke="#3a44a0" stroke-width="0.5" opacity="0.55"/><circle cx="522.25" cy="321.44" r="0.90" fill="none" stroke="#3a44a0" stroke-width="0.5" opacity="0.55"/><circle cx="515.89" cy="320.11" r="0.90" fill="none" stroke="#3a44a0" stroke-width="0.5" opacity="0.55"/><circle cx="493.31" cy="321.41" r="0.90" fill="none" stroke="#3a44a0" stroke-width="0.5" opacity="0.55"/><circle cx="488.94" cy="325.80" r="0.90" fill="none" stroke="#3a44a0" stroke-width="0.5" opacity="0.55"/><circle cx="490.80" cy="273.35" r="0.90" fill="none" stroke="#3a44a0" stroke-width="0.5" opacity="0.55"/><circle cx="514.73" cy="275.03" r="0.90" fill="none" stroke="#3a44a0" stroke-width="0.5" opacity="0.55"/><circle cx="479.90" cy="279.39" r="0.90" fill="none" stroke="#3a44a0" stroke-width="0.5" opacity="0.55"/><circle cx="509.88" cy="320.74" r="0.90" fill="none" stroke="#3a44a0" stroke-width="0.5" opacity="0.55"/><circle cx="487.62" cy="271.81" r="0.90" fill="none" stroke="#3a44a0" stroke-width="0.5" opacity="0.55"/><circle cx="481.89" cy="323.08" r="0.90" fill="none" stroke="#3a44a0" stroke-width="0.5" opacity="0.55"/><circle cx="506.20" cy="268.47" r="0.90" fill="none" stroke="#3a44a0" stroke-width="0.5" opacity="0.55"/><circle cx="512.44" cy="291.29" r="0.90" fill="none" stroke="#3a44a0" stroke-width="0.5" opacity="0.55"/><circle cx="502.22" cy="268.60" r="0.90" fill="none" stroke="#3a44a0" stroke-width="0.5" opacity="0.55"/><circle cx="519.38" cy="314.36" r="0.90" fill="none" stroke="#3a44a0" stroke-width="0.5" opacity="0.55"/><circle cx="523.42" cy="314.54" r="0.90" fill="none" stroke="#3a44a0" stroke-width="0.5" opacity="0.55"/><circle cx="519.53" cy="318.91" r="0.90" fill="none" stroke="#3a44a0" stroke-width="0.5" opacity="0.55"/><circle cx="513.61" cy="291.31" r="0.90" fill="none" stroke="#3a44a0" stroke-width="0.5" opacity="0.55"/><circle cx="511.69" cy="271.81" r="0.90" fill="none" stroke="#3a44a0" stroke-width="0.5" opacity="0.55"/><circle cx="479.58" cy="288.40" r="0.90" fill="none" stroke="#3a44a0" stroke-width="0.5" opacity="0.55"/><circle cx="489.57" cy="322.68" r="0.90" fill="none" stroke="#3a44a0" stroke-width="0.5" opacity="0.55"/><circle cx="509.14" cy="287.36" r="0.90" fill="none" stroke="#3a44a0" stroke-width="0.5" opacity="0.55"/><circle cx="481.38" cy="279.07" r="0.90" fill="none" stroke="#3a44a0" stroke-width="0.5" opacity="0.55"/><circle cx="481.13" cy="321.83" r="0.90" fill="none" stroke="#3a44a0" stroke-width="0.5" opacity="0.55"/><circle cx="506.66" cy="271.11" r="0.90" fill="none" stroke="#3a44a0" stroke-width="0.5" opacity="0.55"/><circle cx="492.45" cy="268.52" r="0.90" fill="none" stroke="#3a44a0" stroke-width="0.5" opacity="0.55"/><circle cx="490.15" cy="270.19" r="0.90" fill="none" stroke="#3a44a0" stroke-width="0.5" opacity="0.55"/><circle cx="512.85" cy="270.62" r="0.90" fill="none" stroke="#3a44a0" stroke-width="0.5" opacity="0.55"/><circle cx="523.69" cy="322.67" r="0.90" fill="none" stroke="#3a44a0" stroke-width="0.5" opacity="0.55"/><circle cx="482.42" cy="320.40" r="0.90" fill="none" stroke="#3a44a0" stroke-width="0.5" opacity="0.55"/><circle cx="502.70" cy="322.25" r="0.90" fill="none" stroke="#3a44a0" stroke-width="0.5" opacity="0.55"/><circle cx="511.70" cy="294.96" r="0.90" fill="none" stroke="#3a44a0" stroke-width="0.5" opacity="0.55"/><circle cx="523.24" cy="315.23" r="0.90" fill="none" stroke="#3a44a0" stroke-width="0.5" opacity="0.55"/><circle cx="488.28" cy="270.73" r="0.90" fill="none" stroke="#3a44a0" stroke-width="0.5" opacity="0.55"/><circle cx="514.47" cy="304.07" r="0.90" fill="none" stroke="#3a44a0" stroke-width="0.5" opacity="0.55"/><circle cx="513.08" cy="278.75" r="0.90" fill="none" stroke="#3a44a0" stroke-width="0.5" opacity="0.55"/><circle cx="490.33" cy="324.72" r="0.90" fill="none" stroke="#3a44a0" stroke-width="0.5" opacity="0.55"/><circle cx="520.40" cy="318.84" r="0.90" fill="none" stroke="#3a44a0" stroke-width="0.5" opacity="0.55"/><circle cx="482.45" cy="274.67" r="0.90" fill="none" stroke="#3a44a0" stroke-width="0.5" opacity="0.55"/><circle cx="515.59" cy="304.00" r="0.90" fill="none" stroke="#3a44a0" stroke-width="0.5" opacity="0.55"/><circle cx="512.75" cy="321.29" r="0.90" fill="none" stroke="#3a44a0" stroke-width="0.5" opacity="0.55"/><circle cx="490.54" cy="267.17" r="0.90" fill="none" stroke="#3a44a0" stroke-width="0.5" opacity="0.55"/><circle cx="479.30" cy="274.25" r="0.90" fill="none" stroke="#3a44a0" stroke-width="0.5" opacity="0.55"/><circle cx="478.67" cy="263.16" r="0.90" fill="none" stroke="#3a44a0" stroke-width="0.5" opacity="0.55"/><circle cx="495.18" cy="268.79" r="0.90" fill="none" stroke="#3a44a0" stroke-width="0.5" opacity="0.55"/><circle cx="499.30" cy="266.18" r="0.90" fill="none" stroke="#3a44a0" stroke-width="0.5" opacity="0.55"/><circle cx="483.25" cy="271.27" r="0.90" fill="none" stroke="#3a44a0" stroke-width="0.5" opacity="0.55"/><circle cx="478.78" cy="266.25" r="0.90" fill="none" stroke="#3a44a0" stroke-width="0.5" opacity="0.55"/><circle cx="500.65" cy="271.72" r="0.90" fill="none" stroke="#3a44a0" stroke-width="0.5" opacity="0.55"/><circle cx="485.62" cy="264.00" r="0.90" fill="none" stroke="#3a44a0" stroke-width="0.5" opacity="0.55"/><circle cx="488.17" cy="272.16" r="0.90" fill="none" stroke="#3a44a0" stroke-width="0.5" opacity="0.55"/><circle cx="488.46" cy="263.64" r="0.90" fill="none" stroke="#3a44a0" stroke-width="0.5" opacity="0.55"/><circle cx="500.12" cy="269.97" r="0.90" fill="none" stroke="#3a44a0" stroke-width="0.5" opacity="0.55"/><circle cx="507.23" cy="275.16" r="0.90" fill="none" stroke="#3a44a0" stroke-width="0.5" opacity="0.55"/><circle cx="507.05" cy="268.13" r="0.90" fill="none" stroke="#3a44a0" stroke-width="0.5" opacity="0.55"/><circle cx="503.30" cy="266.27" r="0.90" fill="none" stroke="#3a44a0" stroke-width="0.5" opacity="0.55"/><circle cx="486.80" cy="267.59" r="0.90" fill="none" stroke="#3a44a0" stroke-width="0.5" opacity="0.55"/><circle cx="507.78" cy="274.53" r="0.90" fill="none" stroke="#3a44a0" stroke-width="0.5" opacity="0.55"/><circle cx="484.44" cy="267.06" r="0.90" fill="none" stroke="#3a44a0" stroke-width="0.5" opacity="0.55"/><circle cx="488.43" cy="267.09" r="0.90" fill="none" stroke="#3a44a0" stroke-width="0.5" opacity="0.55"/><circle cx="489.45" cy="267.43" r="0.90" fill="none" stroke="#3a44a0" stroke-width="0.5" opacity="0.55"/><circle cx="482.63" cy="269.89" r="0.90" fill="none" stroke="#3a44a0" stroke-width="0.5" opacity="0.55"/><circle cx="503.10" cy="269.57" r="0.90" fill="none" stroke="#3a44a0" stroke-width="0.5" opacity="0.55"/><circle cx="504.44" cy="269.88" r="0.90" fill="none" stroke="#3a44a0" stroke-width="0.5" opacity="0.55"/><circle cx="482.00" cy="272.63" r="0.90" fill="none" stroke="#3a44a0" stroke-width="0.5" opacity="0.55"/><circle cx="505.95" cy="265.94" r="0.90" fill="none" stroke="#3a44a0" stroke-width="0.5" opacity="0.55"/><circle cx="476.76" cy="269.22" r="0.90" fill="none" stroke="#3a44a0" stroke-width="0.5" opacity="0.55"/><circle cx="494.50" cy="269.94" r="0.90" fill="none" stroke="#3a44a0" stroke-width="0.5" opacity="0.55"/><circle cx="508.86" cy="271.12" r="0.90" fill="none" stroke="#3a44a0" stroke-width="0.5" opacity="0.55"/><circle cx="494.59" cy="273.03" r="0.90" fill="none" stroke="#3a44a0" stroke-width="0.5" opacity="0.55"/><circle cx="478.86" cy="263.14" r="0.90" fill="none" stroke="#3a44a0" stroke-width="0.5" opacity="0.55"/><circle cx="501.06" cy="274.59" r="0.90" fill="none" stroke="#3a44a0" stroke-width="0.5" opacity="0.55"/><circle cx="478.88" cy="270.88" r="0.90" fill="none" stroke="#3a44a0" stroke-width="0.5" opacity="0.55"/><circle cx="480.89" cy="272.44" r="0.90" fill="none" stroke="#3a44a0" stroke-width="0.5" opacity="0.55"/><circle cx="498.07" cy="265.44" r="0.90" fill="none" stroke="#3a44a0" stroke-width="0.5" opacity="0.55"/><circle cx="483.50" cy="272.71" r="0.90" fill="none" stroke="#3a44a0" stroke-width="0.5" opacity="0.55"/><circle cx="493.73" cy="272.71" r="0.90" fill="none" stroke="#3a44a0" stroke-width="0.5" opacity="0.55"/><circle cx="489.41" cy="266.73" r="0.90" fill="none" stroke="#3a44a0" stroke-width="0.5" opacity="0.55"/><circle cx="508.92" cy="271.41" r="0.90" fill="none" stroke="#3a44a0" stroke-width="0.5" opacity="0.55"/><circle cx="492.78" cy="269.52" r="0.90" fill="none" stroke="#3a44a0" stroke-width="0.5" opacity="0.55"/><circle cx="500.51" cy="271.91" r="0.90" fill="none" stroke="#3a44a0" stroke-width="0.5" opacity="0.55"/><circle cx="507.11" cy="267.75" r="0.90" fill="none" stroke="#3a44a0" stroke-width="0.5" opacity="0.55"/><circle cx="504.09" cy="271.33" r="0.90" fill="none" stroke="#3a44a0" stroke-width="0.5" opacity="0.55"/><circle cx="505.02" cy="273.28" r="0.90" fill="none" stroke="#3a44a0" stroke-width="0.5" opacity="0.55"/><circle cx="504.35" cy="274.44" r="0.90" fill="none" stroke="#3a44a0" stroke-width="0.5" opacity="0.55"/><circle cx="508.56" cy="270.96" r="0.90" fill="none" stroke="#3a44a0" stroke-width="0.5" opacity="0.55"/><circle cx="493.81" cy="271.94" r="0.90" fill="none" stroke="#3a44a0" stroke-width="0.5" opacity="0.55"/><circle cx="503.28" cy="267.90" r="0.90" fill="none" stroke="#3a44a0" stroke-width="0.5" opacity="0.55"/><circle cx="490.30" cy="264.05" r="0.90" fill="none" stroke="#3a44a0" stroke-width="0.5" opacity="0.55"/><circle cx="501.20" cy="275.87" r="0.90" fill="none" stroke="#3a44a0" stroke-width="0.5" opacity="0.55"/><circle cx="488.77" cy="264.35" r="0.90" fill="none" stroke="#3a44a0" stroke-width="0.5" opacity="0.55"/><circle cx="482.95" cy="267.95" r="0.90" fill="none" stroke="#3a44a0" stroke-width="0.5" opacity="0.55"/><circle cx="485.93" cy="275.58" r="0.90" fill="none" stroke="#3a44a0" stroke-width="0.5" opacity="0.55"/><circle cx="478.01" cy="266.32" r="0.90" fill="none" stroke="#3a44a0" stroke-width="0.5" opacity="0.55"/><circle cx="479.90" cy="271.07" r="0.90" fill="none" stroke="#3a44a0" stroke-width="0.5" opacity="0.55"/><circle cx="502.38" cy="264.51" r="0.90" fill="none" stroke="#3a44a0" stroke-width="0.5" opacity="0.55"/><circle cx="478.12" cy="268.42" r="0.90" fill="none" stroke="#3a44a0" stroke-width="0.5" opacity="0.55"/><circle cx="495.86" cy="274.73" r="0.90" fill="none" stroke="#3a44a0" stroke-width="0.5" opacity="0.55"/><circle cx="477.24" cy="263.52" r="0.90" fill="none" stroke="#3a44a0" stroke-width="0.5" opacity="0.55"/><circle cx="482.27" cy="265.04" r="0.90" fill="none" stroke="#3a44a0" stroke-width="0.5" opacity="0.55"/><circle cx="484.00" cy="272.04" r="0.90" fill="none" stroke="#3a44a0" stroke-width="0.5" opacity="0.55"/><circle cx="496.22" cy="265.14" r="0.90" fill="none" stroke="#3a44a0" stroke-width="0.5" opacity="0.55"/><circle cx="482.29" cy="265.93" r="0.90" fill="none" stroke="#3a44a0" stroke-width="0.5" opacity="0.55"/><circle cx="481.87" cy="272.61" r="0.90" fill="none" stroke="#3a44a0" stroke-width="0.5" opacity="0.55"/><circle cx="486.60" cy="269.68" r="0.90" fill="none" stroke="#3a44a0" stroke-width="0.5" opacity="0.55"/><circle cx="503.78" cy="268.71" r="0.90" fill="none" stroke="#3a44a0" stroke-width="0.5" opacity="0.55"/><circle cx="484.86" cy="274.42" r="0.90" fill="none" stroke="#3a44a0" stroke-width="0.5" opacity="0.55"/><circle cx="507.08" cy="266.79" r="0.90" fill="none" stroke="#3a44a0" stroke-width="0.5" opacity="0.55"/><circle cx="494.61" cy="275.40" r="0.90" fill="none" stroke="#3a44a0" stroke-width="0.5" opacity="0.55"/><circle cx="492.41" cy="265.09" r="0.90" fill="none" stroke="#3a44a0" stroke-width="0.5" opacity="0.55"/><circle cx="477.69" cy="275.27" r="0.90" fill="none" stroke="#3a44a0" stroke-width="0.5" opacity="0.55"/><circle cx="503.25" cy="267.39" r="0.90" fill="none" stroke="#3a44a0" stroke-width="0.5" opacity="0.55"/><circle cx="493.94" cy="269.22" r="0.90" fill="none" stroke="#3a44a0" stroke-width="0.5" opacity="0.55"/><circle cx="485.33" cy="275.86" r="0.90" fill="none" stroke="#3a44a0" stroke-width="0.5" opacity="0.55"/><circle cx="498.36" cy="265.33" r="0.90" fill="none" stroke="#3a44a0" stroke-width="0.5" opacity="0.55"/><circle cx="476.37" cy="268.62" r="0.90" fill="none" stroke="#3a44a0" stroke-width="0.5" opacity="0.55"/><circle cx="488.63" cy="273.15" r="0.90" fill="none" stroke="#3a44a0" stroke-width="0.5" opacity="0.55"/><circle cx="500.25" cy="270.49" r="0.90" fill="none" stroke="#3a44a0" stroke-width="0.5" opacity="0.55"/><circle cx="481.35" cy="264.20" r="0.90" fill="none" stroke="#3a44a0" stroke-width="0.5" opacity="0.55"/><circle cx="486.94" cy="265.63" r="0.90" fill="none" stroke="#3a44a0" stroke-width="0.5" opacity="0.55"/><circle cx="505.55" cy="269.23" r="0.90" fill="none" stroke="#3a44a0" stroke-width="0.5" opacity="0.55"/><circle cx="497.66" cy="275.90" r="0.90" fill="none" stroke="#3a44a0" stroke-width="0.5" opacity="0.55"/><circle cx="485.06" cy="269.48" r="0.90" fill="none" stroke="#3a44a0" stroke-width="0.5" opacity="0.55"/><circle cx="481.12" cy="272.79" r="0.90" fill="none" stroke="#3a44a0" stroke-width="0.5" opacity="0.55"/><circle cx="476.05" cy="273.50" r="0.90" fill="none" stroke="#3a44a0" stroke-width="0.5" opacity="0.55"/><circle cx="504.77" cy="273.51" r="0.90" fill="none" stroke="#3a44a0" stroke-width="0.5" opacity="0.55"/><circle cx="478.80" cy="265.78" r="0.90" fill="none" stroke="#3a44a0" stroke-width="0.5" opacity="0.55"/><circle cx="500.36" cy="263.36" r="0.90" fill="none" stroke="#3a44a0" stroke-width="0.5" opacity="0.55"/><circle cx="492.32" cy="268.56" r="0.90" fill="none" stroke="#3a44a0" stroke-width="0.5" opacity="0.55"/><circle cx="506.66" cy="275.39" r="0.90" fill="#2f3b93" opacity="0.6"/><circle cx="503.72" cy="270.86" r="0.90" fill="#2f3b93" opacity="0.6"/><circle cx="501.68" cy="272.67" r="0.90" fill="#2f3b93" opacity="0.6"/><circle cx="505.50" cy="267.46" r="0.90" fill="#2f3b93" opacity="0.6"/><circle cx="502.79" cy="269.33" r="0.90" fill="#2f3b93" opacity="0.6"/><circle cx="494.30" cy="274.41" r="0.90" fill="#2f3b93" opacity="0.6"/><circle cx="482.73" cy="279.31" r="0.90" fill="#2f3b93" opacity="0.6"/><circle cx="487.34" cy="270.97" r="0.90" fill="#2f3b93" opacity="0.6"/><circle cx="480.28" cy="270.89" r="0.90" fill="#2f3b93" opacity="0.6"/><circle cx="492.02" cy="277.44" r="0.90" fill="#2f3b93" opacity="0.6"/><circle cx="488.79" cy="276.99" r="0.90" fill="#2f3b93" opacity="0.6"/><circle cx="481.17" cy="272.31" r="0.90" fill="#2f3b93" opacity="0.6"/><circle cx="491.85" cy="281.47" r="0.90" fill="#2f3b93" opacity="0.6"/><circle cx="502.89" cy="276.46" r="0.90" fill="#2f3b93" opacity="0.6"/><circle cx="478.37" cy="272.03" r="0.90" fill="#2f3b93" opacity="0.6"/><circle cx="499.30" cy="269.80" r="0.90" fill="#2f3b93" opacity="0.6"/><circle cx="494.92" cy="273.33" r="0.90" fill="#2f3b93" opacity="0.6"/><circle cx="478.31" cy="281.87" r="0.90" fill="#2f3b93" opacity="0.6"/><circle cx="501.98" cy="269.31" r="0.90" fill="#2f3b93" opacity="0.6"/><circle cx="496.48" cy="270.65" r="0.90" fill="#2f3b93" opacity="0.6"/><circle cx="489.28" cy="274.64" r="0.90" fill="#2f3b93" opacity="0.6"/><circle cx="486.95" cy="271.40" r="0.90" fill="#2f3b93" opacity="0.6"/><circle cx="489.77" cy="276.67" r="0.90" fill="#2f3b93" opacity="0.6"/><circle cx="485.69" cy="269.20" r="0.90" fill="#2f3b93" opacity="0.6"/><circle cx="499.94" cy="271.27" r="0.90" fill="#2f3b93" opacity="0.6"/><circle cx="506.35" cy="275.00" r="0.90" fill="#2f3b93" opacity="0.6"/><circle cx="499.71" cy="271.31" r="0.90" fill="#2f3b93" opacity="0.6"/><circle cx="502.81" cy="267.48" r="0.90" fill="#2f3b93" opacity="0.6"/><circle cx="482.22" cy="267.51" r="0.90" fill="#2f3b93" opacity="0.6"/><circle cx="498.33" cy="277.33" r="0.90" fill="#2f3b93" opacity="0.6"/><circle cx="483.40" cy="272.44" r="0.90" fill="#2f3b93" opacity="0.6"/><circle cx="503.11" cy="275.48" r="0.90" fill="#2f3b93" opacity="0.6"/><circle cx="480.70" cy="269.63" r="0.90" fill="#2f3b93" opacity="0.6"/><circle cx="482.71" cy="267.99" r="0.90" fill="#2f3b93" opacity="0.6"/><circle cx="490.21" cy="267.16" r="0.90" fill="#2f3b93" opacity="0.6"/><circle cx="505.62" cy="272.83" r="0.90" fill="#2f3b93" opacity="0.6"/><circle cx="493.35" cy="276.36" r="0.90" fill="#2f3b93" opacity="0.6"/><circle cx="501.01" cy="279.14" r="0.90" fill="#2f3b93" opacity="0.6"/><circle cx="489.58" cy="271.30" r="0.90" fill="#2f3b93" opacity="0.6"/><circle cx="490.36" cy="266.25" r="0.90" fill="#2f3b93" opacity="0.6"/><circle cx="490.02" cy="277.20" r="0.90" fill="#2f3b93" opacity="0.6"/><circle cx="507.46" cy="278.63" r="0.90" fill="#2f3b93" opacity="0.6"/><circle cx="497.81" cy="275.74" r="0.90" fill="#2f3b93" opacity="0.6"/><circle cx="478.56" cy="271.30" r="0.90" fill="#2f3b93" opacity="0.6"/><circle cx="488.27" cy="276.41" r="0.90" fill="#2f3b93" opacity="0.6"/><circle cx="481.19" cy="272.04" r="0.90" fill="#2f3b93" opacity="0.6"/><circle cx="493.28" cy="278.62" r="0.90" fill="#2f3b93" opacity="0.6"/><circle cx="502.76" cy="275.78" r="0.90" fill="#2f3b93" opacity="0.6"/><circle cx="482.75" cy="278.26" r="0.90" fill="#2f3b93" opacity="0.6"/><circle cx="505.09" cy="274.77" r="0.90" fill="#2f3b93" opacity="0.6"/><circle cx="488.58" cy="274.01" r="0.90" fill="#2f3b93" opacity="0.6"/><circle cx="482.25" cy="277.41" r="0.90" fill="#2f3b93" opacity="0.6"/><circle cx="507.60" cy="274.26" r="0.90" fill="#2f3b93" opacity="0.6"/><circle cx="499.46" cy="279.37" r="0.90" fill="#2f3b93" opacity="0.6"/><circle cx="483.92" cy="281.12" r="0.90" fill="#2f3b93" opacity="0.6"/><circle cx="496.81" cy="269.17" r="0.90" fill="#2f3b93" opacity="0.6"/><circle cx="480.50" cy="269.91" r="0.90" fill="#2f3b93" opacity="0.6"/><circle cx="495.29" cy="277.15" r="0.90" fill="#2f3b93" opacity="0.6"/><circle cx="487.88" cy="280.86" r="0.90" fill="#2f3b93" opacity="0.6"/><circle cx="488.84" cy="273.41" r="0.90" fill="#2f3b93" opacity="0.6"/><circle cx="481.72" cy="281.58" r="0.90" fill="#2f3b93" opacity="0.6"/><circle cx="482.07" cy="280.46" r="0.90" fill="#2f3b93" opacity="0.6"/><circle cx="494.30" cy="274.97" r="0.90" fill="#2f3b93" opacity="0.6"/><circle cx="494.81" cy="270.23" r="0.90" fill="#2f3b93" opacity="0.6"/><circle cx="505.28" cy="281.87" r="0.90" fill="#2f3b93" opacity="0.6"/><circle cx="502.53" cy="275.62" r="0.90" fill="#2f3b93" opacity="0.6"/><circle cx="481.68" cy="279.19" r="0.90" fill="#2f3b93" opacity="0.6"/><circle cx="486.66" cy="280.35" r="0.90" fill="#2f3b93" opacity="0.6"/><circle cx="485.23" cy="275.18" r="0.90" fill="#2f3b93" opacity="0.6"/><circle cx="502.92" cy="268.97" r="0.90" fill="#2f3b93" opacity="0.6"/><circle cx="508.70" cy="265.60" r="0.90" fill="none" stroke="#e33030" stroke-width="0.5" opacity="0.6"/><circle cx="529.71" cy="280.79" r="0.90" fill="none" stroke="#e33030" stroke-width="0.5" opacity="0.6"/><circle cx="522.77" cy="276.75" r="0.90" fill="none" stroke="#e33030" stroke-width="0.5" opacity="0.6"/><circle cx="516.40" cy="273.84" r="0.90" fill="none" stroke="#e33030" stroke-width="0.5" opacity="0.6"/><circle cx="512.39" cy="271.36" r="0.90" fill="none" stroke="#e33030" stroke-width="0.5" opacity="0.6"/><circle cx="511.15" cy="269.73" r="0.90" fill="none" stroke="#e33030" stroke-width="0.5" opacity="0.6"/><circle cx="519.43" cy="267.27" r="0.90" fill="none" stroke="#e33030" stroke-width="0.5" opacity="0.6"/><circle cx="520.50" cy="268.64" r="0.90" fill="none" stroke="#e33030" stroke-width="0.5" opacity="0.6"/><circle cx="518.34" cy="270.23" r="0.90" fill="none" stroke="#e33030" stroke-width="0.5" opacity="0.6"/><circle cx="521.72" cy="275.79" r="0.90" fill="none" stroke="#e33030" stroke-width="0.5" opacity="0.6"/><circle cx="524.68" cy="277.03" r="0.90" fill="none" stroke="#e33030" stroke-width="0.5" opacity="0.6"/><circle cx="518.69" cy="281.89" r="0.90" fill="none" stroke="#e33030" stroke-width="0.5" opacity="0.6"/><circle cx="526.44" cy="279.10" r="0.90" fill="none" stroke="#e33030" stroke-width="0.5" opacity="0.6"/><circle cx="517.00" cy="270.68" r="0.90" fill="none" stroke="#e33030" stroke-width="0.5" opacity="0.6"/><circle cx="520.45" cy="280.10" r="0.90" fill="none" stroke="#e33030" stroke-width="0.5" opacity="0.6"/><circle cx="519.57" cy="272.50" r="0.90" fill="none" stroke="#e33030" stroke-width="0.5" opacity="0.6"/><circle cx="517.51" cy="280.09" r="0.90" fill="none" stroke="#e33030" stroke-width="0.5" opacity="0.6"/><circle cx="515.06" cy="263.09" r="0.90" fill="none" stroke="#e33030" stroke-width="0.5" opacity="0.6"/><circle cx="523.96" cy="280.00" r="0.90" fill="none" stroke="#e33030" stroke-width="0.5" opacity="0.6"/><circle cx="524.10" cy="273.95" r="0.90" fill="none" stroke="#e33030" stroke-width="0.5" opacity="0.6"/><circle cx="510.74" cy="270.94" r="0.90" fill="none" stroke="#e33030" stroke-width="0.5" opacity="0.6"/><circle cx="519.06" cy="269.93" r="0.90" fill="none" stroke="#e33030" stroke-width="0.5" opacity="0.6"/><circle cx="509.14" cy="275.90" r="0.90" fill="none" stroke="#e33030" stroke-width="0.5" opacity="0.6"/><circle cx="519.58" cy="266.78" r="0.90" fill="none" stroke="#e33030" stroke-width="0.5" opacity="0.6"/><circle cx="514.74" cy="269.91" r="0.90" fill="none" stroke="#e33030" stroke-width="0.5" opacity="0.6"/><circle cx="513.19" cy="263.37" r="0.90" fill="none" stroke="#e33030" stroke-width="0.5" opacity="0.6"/><circle cx="528.05" cy="281.33" r="0.90" fill="none" stroke="#e33030" stroke-width="0.5" opacity="0.6"/><circle cx="522.65" cy="279.33" r="0.90" fill="none" stroke="#e33030" stroke-width="0.5" opacity="0.6"/><circle cx="517.27" cy="278.11" r="0.90" fill="none" stroke="#e33030" stroke-width="0.5" opacity="0.6"/><circle cx="512.88" cy="276.93" r="0.90" fill="none" stroke="#e33030" stroke-width="0.5" opacity="0.6"/><circle cx="520.47" cy="280.07" r="0.90" fill="none" stroke="#e33030" stroke-width="0.5" opacity="0.6"/><circle cx="510.17" cy="277.85" r="0.90" fill="none" stroke="#e33030" stroke-width="0.5" opacity="0.6"/><circle cx="510.72" cy="272.75" r="0.90" fill="none" stroke="#e33030" stroke-width="0.5" opacity="0.6"/><circle cx="513.37" cy="267.99" r="0.90" fill="none" stroke="#e33030" stroke-width="0.5" opacity="0.6"/><circle cx="515.14" cy="263.25" r="0.90" fill="none" stroke="#e33030" stroke-width="0.5" opacity="0.6"/><circle cx="527.69" cy="278.31" r="0.90" fill="none" stroke="#e33030" stroke-width="0.5" opacity="0.6"/><circle cx="516.74" cy="269.13" r="0.90" fill="none" stroke="#e33030" stroke-width="0.5" opacity="0.6"/><circle cx="508.68" cy="279.97" r="0.90" fill="none" stroke="#e33030" stroke-width="0.5" opacity="0.6"/><circle cx="514.77" cy="271.97" r="0.90" fill="none" stroke="#e33030" stroke-width="0.5" opacity="0.6"/><circle cx="528.55" cy="281.55" r="0.90" fill="none" stroke="#e33030" stroke-width="0.5" opacity="0.6"/><circle cx="518.40" cy="266.13" r="0.90" fill="none" stroke="#e33030" stroke-width="0.5" opacity="0.6"/><circle cx="514.50" cy="280.45" r="0.90" fill="none" stroke="#e33030" stroke-width="0.5" opacity="0.6"/><circle cx="527.35" cy="281.91" r="0.90" fill="none" stroke="#e33030" stroke-width="0.5" opacity="0.6"/><circle cx="512.44" cy="274.65" r="0.90" fill="none" stroke="#e33030" stroke-width="0.5" opacity="0.6"/><circle cx="512.21" cy="279.60" r="0.90" fill="none" stroke="#e33030" stroke-width="0.5" opacity="0.6"/><circle cx="509.10" cy="264.12" r="0.90" fill="none" stroke="#e33030" stroke-width="0.5" opacity="0.6"/><circle cx="531.77" cy="280.76" r="0.90" fill="#e32226" opacity="0.6"/><circle cx="537.01" cy="296.35" r="0.90" fill="#e32226" opacity="0.6"/><circle cx="531.39" cy="275.78" r="0.90" fill="#e32226" opacity="0.6"/><circle cx="530.88" cy="298.26" r="0.90" fill="#e32226" opacity="0.6"/><circle cx="523.35" cy="274.21" r="0.90" fill="#e32226" opacity="0.6"/><circle cx="516.70" cy="280.60" r="0.90" fill="#e32226" opacity="0.6"/><circle cx="531.32" cy="277.50" r="0.90" fill="#e32226" opacity="0.6"/><circle cx="515.43" cy="278.59" r="0.90" fill="#e32226" opacity="0.6"/><circle cx="529.94" cy="294.13" r="0.90" fill="#e32226" opacity="0.6"/><circle cx="521.18" cy="290.54" r="0.90" fill="#e32226" opacity="0.6"/><circle cx="536.53" cy="288.52" r="0.90" fill="#e32226" opacity="0.6"/><circle cx="516.87" cy="280.43" r="0.90" fill="#e32226" opacity="0.6"/><circle cx="537.80" cy="290.68" r="0.90" fill="#e32226" opacity="0.6"/><circle cx="518.31" cy="289.92" r="0.90" fill="#e32226" opacity="0.6"/><circle cx="512.70" cy="299.52" r="0.90" fill="#e32226" opacity="0.6"/><circle cx="523.21" cy="286.79" r="0.90" fill="#e32226" opacity="0.6"/><circle cx="525.92" cy="273.27" r="0.90" fill="#e32226" opacity="0.6"/><circle cx="527.99" cy="279.97" r="0.90" fill="#e32226" opacity="0.6"/><circle cx="517.53" cy="294.49" r="0.90" fill="#e32226" opacity="0.6"/><circle cx="512.61" cy="279.98" r="0.90" fill="#e32226" opacity="0.6"/><circle cx="532.67" cy="278.89" r="0.90" fill="#e32226" opacity="0.6"/><circle cx="518.37" cy="287.35" r="0.90" fill="#e32226" opacity="0.6"/><circle cx="515.59" cy="297.12" r="0.90" fill="#e32226" opacity="0.6"/><circle cx="539.63" cy="272.94" r="0.90" fill="#e32226" opacity="0.6"/><circle cx="523.85" cy="293.02" r="0.90" fill="#e32226" opacity="0.6"/><circle cx="521.54" cy="298.02" r="0.90" fill="#e32226" opacity="0.6"/><circle cx="525.00" cy="277.04" r="0.90" fill="#e32226" opacity="0.6"/><circle cx="526.68" cy="290.06" r="0.90" fill="#e32226" opacity="0.6"/><circle cx="520.79" cy="290.43" r="0.90" fill="#e32226" opacity="0.6"/><circle cx="533.49" cy="286.47" r="0.90" fill="#e32226" opacity="0.6"/><circle cx="525.17" cy="295.67" r="0.90" fill="#e32226" opacity="0.6"/><circle cx="530.53" cy="286.57" r="0.90" fill="#e32226" opacity="0.6"/><circle cx="538.55" cy="276.87" r="0.90" fill="#e32226" opacity="0.6"/><circle cx="533.39" cy="276.62" r="0.90" fill="#e32226" opacity="0.6"/><circle cx="528.24" cy="278.59" r="0.90" fill="#e32226" opacity="0.6"/><circle cx="523.21" cy="293.64" r="0.90" fill="#e32226" opacity="0.6"/><circle cx="533.60" cy="294.15" r="0.90" fill="#e32226" opacity="0.6"/><circle cx="517.08" cy="285.70" r="0.90" fill="#e32226" opacity="0.6"/><circle cx="516.64" cy="288.24" r="0.90" fill="#e32226" opacity="0.6"/><circle cx="524.97" cy="272.99" r="0.90" fill="#e32226" opacity="0.6"/><circle cx="527.90" cy="292.01" r="0.90" fill="#e32226" opacity="0.6"/><circle cx="527.18" cy="296.44" r="0.90" fill="#e32226" opacity="0.6"/><circle cx="515.40" cy="276.25" r="0.90" fill="#e32226" opacity="0.6"/><circle cx="510.53" cy="285.89" r="0.90" fill="#e32226" opacity="0.6"/><circle cx="523.04" cy="284.37" r="0.90" fill="#e32226" opacity="0.6"/><circle cx="517.89" cy="294.36" r="0.90" fill="#e32226" opacity="0.6"/><circle cx="512.18" cy="297.40" r="0.90" fill="#e32226" opacity="0.6"/><circle cx="527.07" cy="287.21" r="0.90" fill="#e32226" opacity="0.6"/><circle cx="533.75" cy="278.66" r="0.90" fill="#e32226" opacity="0.6"/><circle cx="514.39" cy="280.71" r="0.90" fill="#e32226" opacity="0.6"/><circle cx="511.27" cy="280.80" r="0.90" fill="#e32226" opacity="0.6"/><circle cx="528.64" cy="286.71" r="0.90" fill="#e32226" opacity="0.6"/><circle cx="517.94" cy="288.48" r="0.90" fill="#e32226" opacity="0.6"/><circle cx="512.65" cy="294.98" r="0.90" fill="#e32226" opacity="0.6"/><circle cx="515.15" cy="279.14" r="0.90" fill="#e32226" opacity="0.6"/><circle cx="514.79" cy="291.34" r="0.90" fill="#e32226" opacity="0.6"/><circle cx="534.93" cy="294.03" r="0.90" fill="#e32226" opacity="0.6"/><circle cx="511.83" cy="283.50" r="0.90" fill="#e32226" opacity="0.6"/><circle cx="520.93" cy="278.06" r="0.90" fill="#e32226" opacity="0.6"/><circle cx="539.12" cy="273.18" r="0.90" fill="#e32226" opacity="0.6"/><circle cx="507.26" cy="284.13" r="0.90" fill="none" stroke="#e33030" stroke-width="0.5" opacity="0.55"/><circle cx="527.48" cy="275.52" r="0.90" fill="none" stroke="#e33030" stroke-width="0.5" opacity="0.55"/><circle cx="534.17" cy="284.19" r="0.90" fill="none" stroke="#e33030" stroke-width="0.5" opacity="0.55"/><circle cx="529.43" cy="320.45" r="0.90" fill="none" stroke="#e33030" stroke-width="0.5" opacity="0.55"/><circle cx="507.28" cy="292.66" r="0.90" fill="none" stroke="#e33030" stroke-width="0.5" opacity="0.55"/><circle cx="550.58" cy="302.51" r="0.90" fill="none" stroke="#e33030" stroke-width="0.5" opacity="0.55"/><circle cx="525.31" cy="275.32" r="0.90" fill="none" stroke="#e33030" stroke-width="0.5" opacity="0.55"/><circle cx="541.50" cy="290.55" r="0.90" fill="none" stroke="#e33030" stroke-width="0.5" opacity="0.55"/><circle cx="519.61" cy="272.47" r="0.90" fill="none" stroke="#e33030" stroke-width="0.5" opacity="0.55"/><circle cx="525.83" cy="319.99" r="0.90" fill="none" stroke="#e33030" stroke-width="0.5" opacity="0.55"/><circle cx="507.34" cy="279.42" r="0.90" fill="none" stroke="#e33030" stroke-width="0.5" opacity="0.55"/><circle cx="533.76" cy="278.64" r="0.90" fill="none" stroke="#e33030" stroke-width="0.5" opacity="0.55"/><circle cx="516.53" cy="273.64" r="0.90" fill="none" stroke="#e33030" stroke-width="0.5" opacity="0.55"/><circle cx="540.20" cy="321.65" r="0.90" fill="none" stroke="#e33030" stroke-width="0.5" opacity="0.55"/><circle cx="508.07" cy="297.52" r="0.90" fill="none" stroke="#e33030" stroke-width="0.5" opacity="0.55"/><circle cx="506.44" cy="289.72" r="0.90" fill="none" stroke="#e33030" stroke-width="0.5" opacity="0.55"/><circle cx="552.02" cy="301.20" r="0.90" fill="none" stroke="#e33030" stroke-width="0.5" opacity="0.55"/><circle cx="537.50" cy="321.62" r="0.90" fill="none" stroke="#e33030" stroke-width="0.5" opacity="0.55"/><circle cx="554.68" cy="312.00" r="0.90" fill="none" stroke="#e33030" stroke-width="0.5" opacity="0.55"/><circle cx="519.70" cy="315.05" r="0.90" fill="none" stroke="#e33030" stroke-width="0.5" opacity="0.55"/><circle cx="523.40" cy="318.03" r="0.90" fill="none" stroke="#e33030" stroke-width="0.5" opacity="0.55"/><circle cx="555.81" cy="314.78" r="0.90" fill="none" stroke="#e33030" stroke-width="0.5" opacity="0.55"/><circle cx="532.17" cy="278.11" r="0.90" fill="none" stroke="#e33030" stroke-width="0.5" opacity="0.55"/><circle cx="508.52" cy="275.11" r="0.90" fill="none" stroke="#e33030" stroke-width="0.5" opacity="0.55"/><circle cx="510.57" cy="308.50" r="0.90" fill="none" stroke="#e33030" stroke-width="0.5" opacity="0.55"/><circle cx="545.74" cy="296.74" r="0.90" fill="none" stroke="#e33030" stroke-width="0.5" opacity="0.55"/><circle cx="547.01" cy="292.09" r="0.90" fill="none" stroke="#e33030" stroke-width="0.5" opacity="0.55"/><circle cx="542.78" cy="288.66" r="0.90" fill="none" stroke="#e33030" stroke-width="0.5" opacity="0.55"/><circle cx="514.89" cy="272.22" r="0.90" fill="none" stroke="#e33030" stroke-width="0.5" opacity="0.55"/><circle cx="535.94" cy="320.90" r="0.90" fill="none" stroke="#e33030" stroke-width="0.5" opacity="0.55"/><circle cx="541.30" cy="293.51" r="0.90" fill="none" stroke="#e33030" stroke-width="0.5" opacity="0.55"/><circle cx="554.20" cy="323.41" r="0.90" fill="none" stroke="#e33030" stroke-width="0.5" opacity="0.55"/><circle cx="507.76" cy="308.95" r="0.90" fill="none" stroke="#e33030" stroke-width="0.5" opacity="0.55"/><circle cx="511.42" cy="273.73" r="0.90" fill="none" stroke="#e33030" stroke-width="0.5" opacity="0.55"/><circle cx="522.53" cy="272.89" r="0.90" fill="none" stroke="#e33030" stroke-width="0.5" opacity="0.55"/><circle cx="530.83" cy="277.82" r="0.90" fill="none" stroke="#e33030" stroke-width="0.5" opacity="0.55"/><circle cx="522.19" cy="272.51" r="0.90" fill="none" stroke="#e33030" stroke-width="0.5" opacity="0.55"/><circle cx="534.91" cy="279.04" r="0.90" fill="none" stroke="#e33030" stroke-width="0.5" opacity="0.55"/><circle cx="538.03" cy="285.89" r="0.90" fill="none" stroke="#e33030" stroke-width="0.5" opacity="0.55"/><circle cx="507.89" cy="274.88" r="0.90" fill="none" stroke="#e33030" stroke-width="0.5" opacity="0.55"/><circle cx="530.58" cy="323.85" r="0.90" fill="none" stroke="#e33030" stroke-width="0.5" opacity="0.55"/><circle cx="547.57" cy="292.29" r="0.90" fill="none" stroke="#e33030" stroke-width="0.5" opacity="0.55"/><circle cx="550.59" cy="323.70" r="0.90" fill="none" stroke="#e33030" stroke-width="0.5" opacity="0.55"/><circle cx="506.61" cy="280.36" r="0.90" fill="none" stroke="#e33030" stroke-width="0.5" opacity="0.55"/><circle cx="511.44" cy="275.42" r="0.90" fill="none" stroke="#e33030" stroke-width="0.5" opacity="0.55"/><circle cx="505.75" cy="282.53" r="0.90" fill="none" stroke="#e33030" stroke-width="0.5" opacity="0.55"/><circle cx="535.48" cy="283.43" r="0.90" fill="none" stroke="#e33030" stroke-width="0.5" opacity="0.55"/><circle cx="505.70" cy="297.89" r="0.90" fill="none" stroke="#e33030" stroke-width="0.5" opacity="0.55"/><circle cx="533.40" cy="321.50" r="0.90" fill="none" stroke="#e33030" stroke-width="0.5" opacity="0.55"/><circle cx="527.78" cy="322.04" r="0.90" fill="none" stroke="#e33030" stroke-width="0.5" opacity="0.55"/><circle cx="550.16" cy="304.50" r="0.90" fill="none" stroke="#e33030" stroke-width="0.5" opacity="0.55"/><circle cx="529.81" cy="323.63" r="0.90" fill="none" stroke="#e33030" stroke-width="0.5" opacity="0.55"/><circle cx="543.88" cy="323.44" r="0.90" fill="none" stroke="#e33030" stroke-width="0.5" opacity="0.55"/><circle cx="526.31" cy="317.04" r="0.90" fill="none" stroke="#e33030" stroke-width="0.5" opacity="0.55"/><circle cx="549.31" cy="305.58" r="0.90" fill="none" stroke="#e33030" stroke-width="0.5" opacity="0.55"/><circle cx="554.43" cy="315.04" r="0.90" fill="none" stroke="#e33030" stroke-width="0.5" opacity="0.55"/><circle cx="547.08" cy="298.36" r="0.90" fill="none" stroke="#e33030" stroke-width="0.5" opacity="0.55"/><circle cx="518.36" cy="313.88" r="0.90" fill="none" stroke="#e33030" stroke-width="0.5" opacity="0.55"/><circle cx="546.52" cy="297.26" r="0.90" fill="none" stroke="#e33030" stroke-width="0.5" opacity="0.55"/><circle cx="517.89" cy="313.50" r="0.90" fill="none" stroke="#e33030" stroke-width="0.5" opacity="0.55"/><circle cx="561.54" cy="366.40" r="0.90" fill="none" stroke="#6abf5a" stroke-width="0.5" opacity="0.55"/><circle cx="546.70" cy="318.56" r="0.90" fill="none" stroke="#6abf5a" stroke-width="0.5" opacity="0.55"/><circle cx="567.02" cy="366.17" r="0.90" fill="none" stroke="#6abf5a" stroke-width="0.5" opacity="0.55"/><circle cx="551.95" cy="313.51" r="0.90" fill="none" stroke="#6abf5a" stroke-width="0.5" opacity="0.55"/><circle cx="576.66" cy="334.00" r="0.90" fill="none" stroke="#6abf5a" stroke-width="0.5" opacity="0.55"/><circle cx="558.07" cy="368.53" r="0.90" fill="none" stroke="#6abf5a" stroke-width="0.5" opacity="0.55"/><circle cx="540.15" cy="364.43" r="0.90" fill="none" stroke="#6abf5a" stroke-width="0.5" opacity="0.55"/><circle cx="553.38" cy="316.41" r="0.90" fill="none" stroke="#6abf5a" stroke-width="0.5" opacity="0.55"/><circle cx="571.24" cy="333.03" r="0.90" fill="none" stroke="#6abf5a" stroke-width="0.5" opacity="0.55"/><circle cx="589.74" cy="369.01" r="0.90" fill="none" stroke="#6abf5a" stroke-width="0.5" opacity="0.55"/><circle cx="593.51" cy="365.81" r="0.90" fill="none" stroke="#6abf5a" stroke-width="0.5" opacity="0.55"/><circle cx="526.10" cy="359.48" r="0.90" fill="none" stroke="#6abf5a" stroke-width="0.5" opacity="0.55"/><circle cx="550.59" cy="315.83" r="0.90" fill="none" stroke="#6abf5a" stroke-width="0.5" opacity="0.55"/><circle cx="550.54" cy="313.24" r="0.90" fill="none" stroke="#6abf5a" stroke-width="0.5" opacity="0.55"/><circle cx="557.63" cy="366.29" r="0.90" fill="none" stroke="#6abf5a" stroke-width="0.5" opacity="0.55"/><circle cx="535.11" cy="318.49" r="0.90" fill="none" stroke="#6abf5a" stroke-width="0.5" opacity="0.55"/><circle cx="565.10" cy="369.67" r="0.90" fill="none" stroke="#6abf5a" stroke-width="0.5" opacity="0.55"/><circle cx="537.48" cy="328.65" r="0.90" fill="none" stroke="#6abf5a" stroke-width="0.5" opacity="0.55"/><circle cx="521.69" cy="357.96" r="0.90" fill="none" stroke="#6abf5a" stroke-width="0.5" opacity="0.55"/><circle cx="561.76" cy="367.68" r="0.90" fill="none" stroke="#6abf5a" stroke-width="0.5" opacity="0.55"/><circle cx="592.69" cy="357.31" r="0.90" fill="none" stroke="#6abf5a" stroke-width="0.5" opacity="0.55"/><circle cx="576.72" cy="337.45" r="0.90" fill="none" stroke="#6abf5a" stroke-width="0.5" opacity="0.55"/><circle cx="577.90" cy="335.04" r="0.90" fill="none" stroke="#6abf5a" stroke-width="0.5" opacity="0.55"/><circle cx="562.42" cy="367.38" r="0.90" fill="none" stroke="#6abf5a" stroke-width="0.5" opacity="0.55"/><circle cx="555.32" cy="314.46" r="0.90" fill="none" stroke="#6abf5a" stroke-width="0.5" opacity="0.55"/><circle cx="562.37" cy="370.56" r="0.90" fill="none" stroke="#6abf5a" stroke-width="0.5" opacity="0.55"/><circle cx="519.94" cy="354.09" r="0.90" fill="none" stroke="#6abf5a" stroke-width="0.5" opacity="0.55"/><circle cx="594.02" cy="358.02" r="0.90" fill="none" stroke="#6abf5a" stroke-width="0.5" opacity="0.55"/><circle cx="589.86" cy="367.48" r="0.90" fill="none" stroke="#6abf5a" stroke-width="0.5" opacity="0.55"/><circle cx="572.86" cy="334.22" r="0.90" fill="none" stroke="#6abf5a" stroke-width="0.5" opacity="0.55"/><circle cx="594.04" cy="355.28" r="0.90" fill="none" stroke="#6abf5a" stroke-width="0.5" opacity="0.55"/><circle cx="535.88" cy="369.02" r="0.90" fill="none" stroke="#6abf5a" stroke-width="0.5" opacity="0.55"/><circle cx="559.73" cy="323.56" r="0.90" fill="none" stroke="#6abf5a" stroke-width="0.5" opacity="0.55"/><circle cx="556.41" cy="317.27" r="0.90" fill="none" stroke="#6abf5a" stroke-width="0.5" opacity="0.55"/><circle cx="593.06" cy="370.58" r="0.90" fill="none" stroke="#6abf5a" stroke-width="0.5" opacity="0.55"/><circle cx="593.95" cy="367.57" r="0.90" fill="none" stroke="#6abf5a" stroke-width="0.5" opacity="0.55"/><circle cx="586.56" cy="368.14" r="0.90" fill="none" stroke="#6abf5a" stroke-width="0.5" opacity="0.55"/><circle cx="559.11" cy="369.59" r="0.90" fill="none" stroke="#6abf5a" stroke-width="0.5" opacity="0.55"/><circle cx="581.35" cy="370.54" r="0.90" fill="none" stroke="#6abf5a" stroke-width="0.5" opacity="0.55"/><circle cx="518.31" cy="358.35" r="0.90" fill="none" stroke="#6abf5a" stroke-width="0.5" opacity="0.55"/><circle cx="536.06" cy="364.98" r="0.90" fill="none" stroke="#6abf5a" stroke-width="0.5" opacity="0.55"/><circle cx="537.72" cy="364.69" r="0.90" fill="none" stroke="#6abf5a" stroke-width="0.5" opacity="0.55"/><circle cx="581.04" cy="344.68" r="0.90" fill="none" stroke="#6abf5a" stroke-width="0.5" opacity="0.55"/><circle cx="523.46" cy="357.95" r="0.90" fill="none" stroke="#6abf5a" stroke-width="0.5" opacity="0.55"/><circle cx="536.88" cy="325.54" r="0.90" fill="none" stroke="#6abf5a" stroke-width="0.5" opacity="0.55"/><circle cx="547.87" cy="316.47" r="0.90" fill="none" stroke="#6abf5a" stroke-width="0.5" opacity="0.55"/><circle cx="533.73" cy="364.76" r="0.90" fill="none" stroke="#6abf5a" stroke-width="0.5" opacity="0.55"/><circle cx="594.80" cy="367.93" r="0.90" fill="none" stroke="#6abf5a" stroke-width="0.5" opacity="0.55"/><circle cx="539.19" cy="368.37" r="0.90" fill="none" stroke="#6abf5a" stroke-width="0.5" opacity="0.55"/><circle cx="535.14" cy="317.16" r="0.90" fill="none" stroke="#6abf5a" stroke-width="0.5" opacity="0.55"/><circle cx="581.24" cy="370.37" r="0.90" fill="none" stroke="#6abf5a" stroke-width="0.5" opacity="0.55"/><circle cx="578.80" cy="336.39" r="0.90" fill="none" stroke="#6abf5a" stroke-width="0.5" opacity="0.55"/><circle cx="588.61" cy="347.11" r="0.90" fill="none" stroke="#6abf5a" stroke-width="0.5" opacity="0.55"/><circle cx="592.81" cy="363.27" r="0.90" fill="none" stroke="#6abf5a" stroke-width="0.5" opacity="0.55"/><circle cx="564.32" cy="321.96" r="0.90" fill="none" stroke="#6abf5a" stroke-width="0.5" opacity="0.55"/><circle cx="557.33" cy="367.40" r="0.90" fill="none" stroke="#6abf5a" stroke-width="0.5" opacity="0.55"/><circle cx="552.92" cy="317.63" r="0.90" fill="none" stroke="#6abf5a" stroke-width="0.5" opacity="0.55"/><circle cx="537.70" cy="366.23" r="0.90" fill="none" stroke="#6abf5a" stroke-width="0.5" opacity="0.55"/><circle cx="562.01" cy="368.79" r="0.90" fill="none" stroke="#6abf5a" stroke-width="0.5" opacity="0.55"/><circle cx="596.28" cy="367.08" r="0.90" fill="none" stroke="#6abf5a" stroke-width="0.5" opacity="0.55"/><circle cx="536.85" cy="367.22" r="0.90" fill="none" stroke="#6abf5a" stroke-width="0.5" opacity="0.55"/><circle cx="566.49" cy="366.72" r="0.90" fill="none" stroke="#6abf5a" stroke-width="0.5" opacity="0.55"/><circle cx="522.32" cy="352.23" r="0.90" fill="none" stroke="#6abf5a" stroke-width="0.5" opacity="0.55"/><circle cx="563.14" cy="368.64" r="0.90" fill="none" stroke="#6abf5a" stroke-width="0.5" opacity="0.55"/><circle cx="594.97" cy="358.58" r="0.90" fill="none" stroke="#6abf5a" stroke-width="0.5" opacity="0.55"/><circle cx="536.62" cy="332.05" r="0.90" fill="none" stroke="#6abf5a" stroke-width="0.5" opacity="0.55"/><circle cx="559.79" cy="323.85" r="0.90" fill="none" stroke="#6abf5a" stroke-width="0.5" opacity="0.55"/><circle cx="575.90" cy="331.57" r="0.90" fill="none" stroke="#6abf5a" stroke-width="0.5" opacity="0.55"/><circle cx="520.85" cy="354.80" r="0.90" fill="none" stroke="#6abf5a" stroke-width="0.5" opacity="0.55"/><circle cx="555.01" cy="318.87" r="0.90" fill="none" stroke="#6abf5a" stroke-width="0.5" opacity="0.55"/><circle cx="594.26" cy="363.21" r="0.90" fill="none" stroke="#6abf5a" stroke-width="0.5" opacity="0.55"/><circle cx="534.97" cy="364.02" r="0.90" fill="none" stroke="#6abf5a" stroke-width="0.5" opacity="0.55"/><circle cx="566.73" cy="325.72" r="0.90" fill="none" stroke="#6abf5a" stroke-width="0.5" opacity="0.55"/><circle cx="533.01" cy="366.82" r="0.90" fill="none" stroke="#6abf5a" stroke-width="0.5" opacity="0.55"/><circle cx="589.38" cy="352.00" r="0.90" fill="none" stroke="#6abf5a" stroke-width="0.5" opacity="0.55"/><circle cx="563.17" cy="369.24" r="0.90" fill="none" stroke="#6abf5a" stroke-width="0.5" opacity="0.55"/><circle cx="587.70" cy="368.05" r="0.90" fill="none" stroke="#6abf5a" stroke-width="0.5" opacity="0.55"/><circle cx="537.30" cy="323.17" r="0.90" fill="none" stroke="#6abf5a" stroke-width="0.5" opacity="0.55"/><circle cx="573.67" cy="332.62" r="0.90" fill="none" stroke="#6abf5a" stroke-width="0.5" opacity="0.55"/><circle cx="591.15" cy="352.81" r="0.90" fill="none" stroke="#6abf5a" stroke-width="0.5" opacity="0.55"/><circle cx="520.91" cy="353.92" r="0.90" fill="none" stroke="#6abf5a" stroke-width="0.5" opacity="0.55"/><circle cx="518.79" cy="354.00" r="0.90" fill="none" stroke="#6abf5a" stroke-width="0.5" opacity="0.55"/><circle cx="537.23" cy="329.95" r="0.90" fill="none" stroke="#6abf5a" stroke-width="0.5" opacity="0.55"/><circle cx="538.84" cy="319.31" r="0.90" fill="none" stroke="#6abf5a" stroke-width="0.5" opacity="0.55"/><circle cx="577.33" cy="339.60" r="0.90" fill="none" stroke="#6abf5a" stroke-width="0.5" opacity="0.55"/><circle cx="586.83" cy="343.30" r="0.90" fill="none" stroke="#6abf5a" stroke-width="0.5" opacity="0.55"/><circle cx="562.60" cy="368.40" r="0.90" fill="none" stroke="#6abf5a" stroke-width="0.5" opacity="0.55"/><circle cx="589.94" cy="352.65" r="0.90" fill="none" stroke="#6abf5a" stroke-width="0.5" opacity="0.55"/><circle cx="522.99" cy="357.86" r="0.90" fill="none" stroke="#6abf5a" stroke-width="0.5" opacity="0.55"/><circle cx="519.87" cy="359.99" r="0.90" fill="none" stroke="#6abf5a" stroke-width="0.5" opacity="0.55"/><circle cx="536.51" cy="329.17" r="0.90" fill="none" stroke="#6abf5a" stroke-width="0.5" opacity="0.55"/><circle cx="591.33" cy="352.66" r="0.90" fill="none" stroke="#6abf5a" stroke-width="0.5" opacity="0.55"/><circle cx="536.29" cy="329.82" r="0.90" fill="none" stroke="#6abf5a" stroke-width="0.5" opacity="0.55"/><circle cx="565.03" cy="366.93" r="0.90" fill="none" stroke="#6abf5a" stroke-width="0.5" opacity="0.55"/><circle cx="585.57" cy="348.33" r="0.90" fill="none" stroke="#6abf5a" stroke-width="0.5" opacity="0.55"/><circle cx="555.47" cy="314.96" r="0.90" fill="none" stroke="#6abf5a" stroke-width="0.5" opacity="0.55"/><circle cx="566.86" cy="324.09" r="0.90" fill="none" stroke="#6abf5a" stroke-width="0.5" opacity="0.55"/><circle cx="588.92" cy="347.51" r="0.90" fill="none" stroke="#6abf5a" stroke-width="0.5" opacity="0.55"/><circle cx="594.66" cy="365.94" r="0.90" fill="none" stroke="#6abf5a" stroke-width="0.5" opacity="0.55"/><circle cx="563.79" cy="365.46" r="0.90" fill="none" stroke="#6abf5a" stroke-width="0.5" opacity="0.55"/><circle cx="562.73" cy="320.42" r="0.90" fill="none" stroke="#6abf5a" stroke-width="0.5" opacity="0.55"/><circle cx="586.41" cy="368.16" r="0.90" fill="none" stroke="#6abf5a" stroke-width="0.5" opacity="0.55"/><circle cx="577.10" cy="340.10" r="0.90" fill="none" stroke="#6abf5a" stroke-width="0.5" opacity="0.55"/><circle cx="580.43" cy="370.03" r="0.90" fill="none" stroke="#6abf5a" stroke-width="0.5" opacity="0.55"/><circle cx="547.21" cy="319.31" r="0.90" fill="none" stroke="#6abf5a" stroke-width="0.5" opacity="0.55"/><circle cx="544.96" cy="319.75" r="0.90" fill="none" stroke="#6abf5a" stroke-width="0.5" opacity="0.55"/><circle cx="588.62" cy="345.51" r="0.90" fill="none" stroke="#6abf5a" stroke-width="0.5" opacity="0.55"/><circle cx="549.43" cy="317.32" r="0.90" fill="none" stroke="#6abf5a" stroke-width="0.5" opacity="0.55"/><circle cx="522.31" cy="352.70" r="0.90" fill="none" stroke="#6abf5a" stroke-width="0.5" opacity="0.55"/><circle cx="541.46" cy="367.06" r="0.90" fill="none" stroke="#6abf5a" stroke-width="0.5" opacity="0.55"/><path d="M482.1 293.0 C482.3 289.2 482.9 287.3 483.5 285.0 C484.1 282.7 484.9 280.7 485.8 279.0 C486.7 277.3 487.8 276.1 489.0 275.0 C490.2 273.9 491.6 273.3 493.3 272.6 C495.0 271.9 497.1 271.3 499.0 271.0 C500.9 270.7 502.7 270.1 504.5 270.7 C506.3 271.3 509.4 270.8 510.0 274.5 C510.6 278.2 507.9 287.4 508.2 293.0 C508.5 298.6 510.6 304.7 511.9 308.0 C513.2 311.3 514.5 311.4 516.0 313.0 C517.5 314.6 521.7 316.4 521.2 317.3 C520.7 318.2 515.8 318.2 513.0 318.5 C510.2 318.8 508.4 318.6 504.5 319.0 C500.6 319.4 493.0 320.4 489.6 321.0 C486.2 321.6 485.2 325.1 484.0 322.9 C482.8 320.7 482.4 313.0 482.1 308.0 C481.8 303.0 481.9 296.8 482.1 293.0Z" fill="#2f3b93"/><path d="M508.2 280.0 C508.8 277.2 510.4 276.9 512.0 276.0 C513.5 275.1 515.8 274.3 517.5 274.5 C519.2 274.7 520.5 276.1 522.0 277.0 C523.5 277.9 525.1 278.8 526.8 280.0 C528.5 281.2 530.1 282.4 532.0 284.0 C533.9 285.6 536.3 287.6 538.0 289.4 C539.7 291.1 540.8 292.6 542.0 294.5 C543.2 296.4 544.2 298.6 545.4 300.5 C546.6 302.4 547.8 304.1 549.0 306.0 C550.2 307.9 551.9 309.5 552.9 311.7 C553.9 313.9 555.5 317.5 554.7 319.0 C553.9 320.5 550.2 320.2 548.0 320.5 C545.8 320.8 544.6 321.2 541.7 321.0 C538.8 320.8 533.6 319.9 530.5 319.0 C527.4 318.1 526.1 317.2 523.0 315.4 C519.9 313.6 514.4 311.7 511.9 308.0 C509.4 304.3 508.8 297.7 508.2 293.0 C507.6 288.3 507.6 282.8 508.2 280.0Z" fill="#e32226"/><path d="M539.5 320.7 C541.5 319.0 548.0 317.7 551.7 318.6 C555.5 319.5 558.3 322.9 562.0 326.0 C565.7 329.1 570.5 333.5 574.0 337.0 C577.5 340.5 580.3 343.7 583.0 347.0 C585.7 350.3 588.5 354.0 590.0 357.0 C591.5 360.0 593.3 363.5 592.0 365.0 C590.7 366.5 587.0 366.1 582.0 366.0 C577.0 365.9 569.4 364.9 562.0 364.6 C554.6 364.3 543.9 365.5 537.4 364.0 C530.9 362.5 522.8 361.3 523.1 355.4 C523.5 349.5 536.8 334.6 539.5 328.8 C542.2 323.0 537.5 322.4 539.5 320.7Z" fill="#6cbf5b"/><circle cx="580.31" cy="353.57" r="0.80" fill="#6abf5a" opacity="0.55"/><circle cx="599.81" cy="370.95" r="0.80" fill="#6abf5a" opacity="0.55"/><circle cx="599.87" cy="370.89" r="0.80" fill="#6abf5a" opacity="0.55"/><circle cx="594.63" cy="366.10" r="0.80" fill="#6abf5a" opacity="0.55"/><circle cx="599.93" cy="371.22" r="0.80" fill="#6abf5a" opacity="0.55"/><circle cx="589.40" cy="361.64" r="0.80" fill="#6abf5a" opacity="0.55"/><circle cx="574.56" cy="344.11" r="0.80" fill="#6abf5a" opacity="0.55"/><circle cx="597.85" cy="369.01" r="0.80" fill="#6abf5a" opacity="0.55"/><circle cx="580.84" cy="353.01" r="0.80" fill="#6abf5a" opacity="0.55"/><circle cx="578.78" cy="352.12" r="0.80" fill="#6abf5a" opacity="0.55"/><circle cx="596.09" cy="367.87" r="0.80" fill="#6abf5a" opacity="0.55"/><circle cx="586.08" cy="357.83" r="0.80" fill="#6abf5a" opacity="0.55"/><circle cx="594.61" cy="366.40" r="0.80" fill="#6abf5a" opacity="0.55"/><circle cx="575.52" cy="347.46" r="0.80" fill="#6abf5a" opacity="0.55"/><circle cx="577.55" cy="353.62" r="0.80" fill="#6abf5a" opacity="0.55"/><circle cx="592.05" cy="366.29" r="0.80" fill="#6abf5a" opacity="0.55"/><circle cx="592.58" cy="364.17" r="0.80" fill="#6abf5a" opacity="0.55"/><circle cx="580.57" cy="355.67" r="0.80" fill="#6abf5a" opacity="0.55"/><circle cx="600.81" cy="371.82" r="0.80" fill="#6abf5a" opacity="0.55"/><circle cx="594.51" cy="366.19" r="0.80" fill="#6abf5a" opacity="0.55"/><circle cx="590.38" cy="361.52" r="0.80" fill="#6abf5a" opacity="0.55"/><circle cx="590.92" cy="362.19" r="0.80" fill="#6abf5a" opacity="0.55"/><circle cx="600.68" cy="372.35" r="0.80" fill="#6abf5a" opacity="0.55"/><circle cx="593.34" cy="365.24" r="0.80" fill="#6abf5a" opacity="0.55"/><circle cx="584.87" cy="356.82" r="0.80" fill="#6abf5a" opacity="0.55"/><circle cx="594.36" cy="366.78" r="0.80" fill="#6abf5a" opacity="0.55"/><circle cx="583.69" cy="355.20" r="0.80" fill="#6abf5a" opacity="0.55"/><circle cx="599.70" cy="371.97" r="0.80" fill="#6abf5a" opacity="0.55"/><circle cx="595.16" cy="367.48" r="0.80" fill="#6abf5a" opacity="0.55"/><circle cx="592.25" cy="363.71" r="0.80" fill="#6abf5a" opacity="0.55"/><circle cx="581.89" cy="355.08" r="0.80" fill="#6abf5a" opacity="0.55"/><circle cx="597.97" cy="369.74" r="0.80" fill="#6abf5a" opacity="0.55"/><circle cx="599.74" cy="370.89" r="0.80" fill="#6abf5a" opacity="0.55"/><circle cx="578.51" cy="354.43" r="0.80" fill="#6abf5a" opacity="0.55"/><circle cx="576.12" cy="347.53" r="0.80" fill="#6abf5a" opacity="0.55"/><circle cx="573.23" cy="344.18" r="0.80" fill="#6abf5a" opacity="0.55"/><circle cx="582.34" cy="355.87" r="0.80" fill="#6abf5a" opacity="0.55"/><circle cx="598.14" cy="369.26" r="0.80" fill="#6abf5a" opacity="0.55"/><circle cx="584.44" cy="356.62" r="0.80" fill="#6abf5a" opacity="0.55"/><circle cx="583.64" cy="357.13" r="0.80" fill="#6abf5a" opacity="0.55"/><circle cx="587.14" cy="359.61" r="0.80" fill="#6abf5a" opacity="0.55"/><circle cx="575.15" cy="353.45" r="0.80" fill="#6abf5a" opacity="0.55"/><circle cx="593.82" cy="366.11" r="0.80" fill="#6abf5a" opacity="0.55"/><circle cx="578.80" cy="351.08" r="0.80" fill="#6abf5a" opacity="0.55"/><circle cx="579.60" cy="356.76" r="0.80" fill="#6abf5a" opacity="0.55"/><circle cx="593.70" cy="366.57" r="0.80" fill="#6abf5a" opacity="0.55"/><circle cx="569.76" cy="341.48" r="0.80" fill="#6abf5a" opacity="0.55"/><circle cx="584.98" cy="358.74" r="0.80" fill="#6abf5a" opacity="0.55"/><circle cx="571.82" cy="344.57" r="0.80" fill="#6abf5a" opacity="0.55"/><circle cx="602.04" cy="373.19" r="0.80" fill="#6abf5a" opacity="0.55"/><circle cx="588.31" cy="363.72" r="0.80" fill="#6abf5a" opacity="0.55"/><circle cx="590.29" cy="361.76" r="0.80" fill="#6abf5a" opacity="0.55"/><circle cx="577.74" cy="352.10" r="0.80" fill="#6abf5a" opacity="0.55"/><circle cx="590.64" cy="362.62" r="0.80" fill="#6abf5a" opacity="0.55"/><circle cx="577.55" cy="353.51" r="0.80" fill="#6abf5a" opacity="0.55"/><circle cx="579.58" cy="354.53" r="0.80" fill="#6abf5a" opacity="0.55"/><circle cx="599.00" cy="369.81" r="0.80" fill="#6abf5a" opacity="0.55"/><circle cx="599.51" cy="370.46" r="0.80" fill="#6abf5a" opacity="0.55"/><circle cx="595.32" cy="366.67" r="0.80" fill="#6abf5a" opacity="0.55"/><circle cx="595.49" cy="366.70" r="0.80" fill="#6abf5a" opacity="0.55"/><circle cx="595.17" cy="367.61" r="0.80" fill="#6abf5a" opacity="0.55"/><circle cx="588.79" cy="362.88" r="0.80" fill="#6abf5a" opacity="0.55"/><circle cx="589.60" cy="361.73" r="0.80" fill="#6abf5a" opacity="0.55"/><circle cx="589.35" cy="360.34" r="0.80" fill="#6abf5a" opacity="0.55"/><circle cx="597.40" cy="369.11" r="0.80" fill="#6abf5a" opacity="0.55"/><circle cx="577.70" cy="350.92" r="0.80" fill="#6abf5a" opacity="0.55"/><circle cx="575.80" cy="353.31" r="0.80" fill="#6abf5a" opacity="0.55"/><circle cx="587.29" cy="363.61" r="0.80" fill="#6abf5a" opacity="0.55"/><circle cx="586.10" cy="357.40" r="0.80" fill="#6abf5a" opacity="0.55"/><circle cx="583.53" cy="357.31" r="0.80" fill="#6abf5a" opacity="0.55"/><circle cx="595.44" cy="366.62" r="0.80" fill="#6abf5a" opacity="0.55"/><circle cx="599.98" cy="372.29" r="0.80" fill="#6abf5a" opacity="0.55"/><circle cx="569.65" cy="343.56" r="0.80" fill="#6abf5a" opacity="0.55"/><circle cx="599.16" cy="370.45" r="0.80" fill="#6abf5a" opacity="0.55"/><circle cx="574.66" cy="348.65" r="0.80" fill="#6abf5a" opacity="0.55"/><circle cx="594.69" cy="368.35" r="0.80" fill="#6abf5a" opacity="0.55"/><circle cx="592.55" cy="363.82" r="0.80" fill="#6abf5a" opacity="0.55"/><circle cx="581.44" cy="356.20" r="0.80" fill="#6abf5a" opacity="0.55"/><circle cx="588.55" cy="361.14" r="0.80" fill="#6abf5a" opacity="0.55"/><circle cx="578.93" cy="356.09" r="0.80" fill="#6abf5a" opacity="0.55"/><circle cx="578.58" cy="353.34" r="0.80" fill="#6abf5a" opacity="0.55"/><circle cx="593.65" cy="366.91" r="0.80" fill="#6abf5a" opacity="0.55"/><circle cx="573.39" cy="352.97" r="0.80" fill="#6abf5a" opacity="0.55"/><circle cx="586.02" cy="358.79" r="0.80" fill="#6abf5a" opacity="0.55"/><circle cx="580.72" cy="356.93" r="0.80" fill="#6abf5a" opacity="0.55"/><circle cx="575.90" cy="345.36" r="0.80" fill="#6abf5a" opacity="0.55"/><circle cx="597.77" cy="370.00" r="0.80" fill="#6abf5a" opacity="0.55"/><circle cx="577.47" cy="347.50" r="0.80" fill="#6abf5a" opacity="0.55"/><circle cx="577.83" cy="352.65" r="0.80" fill="#6abf5a" opacity="0.55"/><circle cx="600.66" cy="372.11" r="0.80" fill="#6abf5a" opacity="0.55"/><circle cx="599.18" cy="370.31" r="0.80" fill="#6abf5a" opacity="0.55"/><circle cx="585.55" cy="358.74" r="0.80" fill="#6abf5a" opacity="0.55"/><circle cx="580.40" cy="352.38" r="0.80" fill="#6abf5a" opacity="0.55"/><circle cx="594.88" cy="365.90" r="0.80" fill="#6abf5a" opacity="0.55"/><circle cx="586.30" cy="357.81" r="0.80" fill="#6abf5a" opacity="0.55"/><circle cx="586.41" cy="359.81" r="0.80" fill="#6abf5a" opacity="0.55"/><circle cx="587.51" cy="359.51" r="0.80" fill="#6abf5a" opacity="0.55"/><circle cx="582.44" cy="353.58" r="0.80" fill="#6abf5a" opacity="0.55"/><circle cx="591.79" cy="364.26" r="0.80" fill="#6abf5a" opacity="0.55"/><circle cx="586.82" cy="360.07" r="0.80" fill="#6abf5a" opacity="0.55"/><circle cx="586.23" cy="359.80" r="0.80" fill="#6abf5a" opacity="0.55"/><circle cx="587.73" cy="360.62" r="0.80" fill="#6abf5a" opacity="0.55"/><circle cx="600.89" cy="372.08" r="0.80" fill="#6abf5a" opacity="0.55"/><circle cx="583.99" cy="356.90" r="0.80" fill="#6abf5a" opacity="0.55"/><circle cx="585.61" cy="358.35" r="0.80" fill="#6abf5a" opacity="0.55"/><circle cx="592.88" cy="365.54" r="0.80" fill="#6abf5a" opacity="0.55"/><circle cx="597.61" cy="368.90" r="0.80" fill="#6abf5a" opacity="0.55"/><circle cx="577.25" cy="352.27" r="0.80" fill="#6abf5a" opacity="0.55"/><circle cx="571.81" cy="346.76" r="0.80" fill="#6abf5a" opacity="0.55"/><circle cx="594.44" cy="365.83" r="0.80" fill="#6abf5a" opacity="0.55"/><circle cx="597.99" cy="369.86" r="0.80" fill="#6abf5a" opacity="0.55"/><circle cx="584.75" cy="358.43" r="0.80" fill="#6abf5a" opacity="0.55"/><circle cx="596.52" cy="368.15" r="0.80" fill="#6abf5a" opacity="0.55"/><circle cx="587.08" cy="358.84" r="0.80" fill="#6abf5a" opacity="0.55"/><circle cx="582.88" cy="353.60" r="0.80" fill="#6abf5a" opacity="0.55"/><circle cx="582.99" cy="356.92" r="0.80" fill="#6abf5a" opacity="0.55"/><circle cx="599.40" cy="371.46" r="0.80" fill="#6abf5a" opacity="0.55"/><circle cx="600.10" cy="371.10" r="0.80" fill="#6abf5a" opacity="0.55"/><circle cx="602.80" cy="374.28" r="0.80" fill="#6abf5a" opacity="0.55"/><circle cx="584.47" cy="362.84" r="0.80" fill="#6abf5a" opacity="0.55"/><circle cx="598.41" cy="370.24" r="0.80" fill="#6abf5a" opacity="0.55"/><circle cx="588.95" cy="362.36" r="0.80" fill="#6abf5a" opacity="0.55"/><circle cx="597.88" cy="369.23" r="0.80" fill="#6abf5a" opacity="0.55"/><circle cx="598.76" cy="369.88" r="0.80" fill="#6abf5a" opacity="0.55"/><circle cx="598.44" cy="369.72" r="0.80" fill="#6abf5a" opacity="0.55"/><circle cx="583.28" cy="356.59" r="0.80" fill="#6abf5a" opacity="0.55"/><circle cx="580.40" cy="350.61" r="0.80" fill="#6abf5a" opacity="0.55"/><circle cx="594.00" cy="367.19" r="0.80" fill="#6abf5a" opacity="0.55"/><circle cx="598.86" cy="370.65" r="0.80" fill="#6abf5a" opacity="0.55"/><circle cx="596.19" cy="368.16" r="0.80" fill="#6abf5a" opacity="0.55"/><circle cx="585.13" cy="358.32" r="0.80" fill="#6abf5a" opacity="0.55"/><circle cx="574.51" cy="349.80" r="0.80" fill="#6abf5a" opacity="0.55"/><circle cx="585.76" cy="357.44" r="0.80" fill="#6abf5a" opacity="0.55"/><circle cx="591.02" cy="363.08" r="0.80" fill="#6abf5a" opacity="0.55"/><circle cx="585.72" cy="361.25" r="0.80" fill="#6abf5a" opacity="0.55"/><circle cx="585.14" cy="358.50" r="0.80" fill="#6abf5a" opacity="0.55"/><circle cx="588.61" cy="360.58" r="0.80" fill="#6abf5a" opacity="0.55"/><circle cx="574.85" cy="350.56" r="0.80" fill="#6abf5a" opacity="0.55"/><circle cx="583.45" cy="356.52" r="0.80" fill="#6abf5a" opacity="0.55"/><circle cx="573.43" cy="349.17" r="0.80" fill="#6abf5a" opacity="0.55"/><circle cx="592.22" cy="366.99" r="0.80" fill="#6abf5a" opacity="0.55"/><circle cx="586.04" cy="359.41" r="0.80" fill="#6abf5a" opacity="0.55"/><circle cx="587.79" cy="360.28" r="0.80" fill="#6abf5a" opacity="0.55"/><circle cx="576.40" cy="350.52" r="0.80" fill="#6abf5a" opacity="0.55"/><circle cx="595.38" cy="366.49" r="0.80" fill="#6abf5a" opacity="0.55"/><circle cx="584.55" cy="357.10" r="0.80" fill="#6abf5a" opacity="0.55"/><circle cx="593.53" cy="364.31" r="0.80" fill="#6abf5a" opacity="0.55"/><circle cx="598.17" cy="369.63" r="0.80" fill="#6abf5a" opacity="0.55"/><circle cx="599.24" cy="370.48" r="0.80" fill="#6abf5a" opacity="0.55"/><circle cx="586.41" cy="357.45" r="0.80" fill="#6abf5a" opacity="0.55"/><circle cx="589.00" cy="360.40" r="0.80" fill="#6abf5a" opacity="0.55"/><circle cx="596.96" cy="368.24" r="0.80" fill="#6abf5a" opacity="0.55"/><circle cx="601.12" cy="373.07" r="0.80" fill="#6abf5a" opacity="0.55"/><circle cx="593.61" cy="366.18" r="0.80" fill="#6abf5a" opacity="0.55"/><circle cx="592.74" cy="365.17" r="0.80" fill="#6abf5a" opacity="0.55"/><circle cx="588.74" cy="361.18" r="0.80" fill="#6abf5a" opacity="0.55"/><circle cx="586.97" cy="360.69" r="0.80" fill="#6abf5a" opacity="0.55"/><circle cx="591.12" cy="363.27" r="0.80" fill="#6abf5a" opacity="0.55"/><circle cx="578.30" cy="352.32" r="0.80" fill="#6abf5a" opacity="0.55"/><circle cx="594.07" cy="365.19" r="0.80" fill="#6abf5a" opacity="0.55"/><circle cx="584.13" cy="357.51" r="0.80" fill="#6abf5a" opacity="0.55"/><circle cx="581.13" cy="354.59" r="0.80" fill="#6abf5a" opacity="0.55"/><circle cx="597.64" cy="370.13" r="0.80" fill="#6abf5a" opacity="0.55"/><circle cx="581.17" cy="352.73" r="0.80" fill="#6abf5a" opacity="0.55"/><circle cx="574.89" cy="348.35" r="0.80" fill="#6abf5a" opacity="0.55"/><circle cx="572.14" cy="343.19" r="0.80" fill="#6abf5a" opacity="0.55"/><circle cx="600.14" cy="371.27" r="0.80" fill="#6abf5a" opacity="0.55"/><circle cx="589.06" cy="361.62" r="0.80" fill="#6abf5a" opacity="0.55"/><circle cx="587.46" cy="362.85" r="0.80" fill="#6abf5a" opacity="0.55"/><circle cx="602.42" cy="373.88" r="0.80" fill="#6abf5a" opacity="0.55"/><circle cx="576.30" cy="348.91" r="0.80" fill="#6abf5a" opacity="0.55"/><circle cx="594.64" cy="366.79" r="0.80" fill="#6abf5a" opacity="0.55"/><circle cx="576.04" cy="349.17" r="0.80" fill="#6abf5a" opacity="0.55"/><circle cx="590.28" cy="363.87" r="0.80" fill="#6abf5a" opacity="0.55"/><circle cx="584.94" cy="355.44" r="0.80" fill="#6abf5a" opacity="0.55"/><circle cx="598.43" cy="369.33" r="0.80" fill="#6abf5a" opacity="0.55"/><circle cx="600.41" cy="371.76" r="0.80" fill="#6abf5a" opacity="0.55"/><circle cx="580.99" cy="353.48" r="0.80" fill="#6abf5a" opacity="0.55"/><circle cx="587.30" cy="359.04" r="0.80" fill="#6abf5a" opacity="0.55"/><circle cx="583.73" cy="355.37" r="0.80" fill="#6abf5a" opacity="0.55"/><circle cx="601.70" cy="372.72" r="0.80" fill="#6abf5a" opacity="0.55"/><circle cx="576.24" cy="350.87" r="0.80" fill="#6abf5a" opacity="0.55"/><circle cx="580.37" cy="353.64" r="0.80" fill="#6abf5a" opacity="0.55"/><circle cx="570.61" cy="340.91" r="0.80" fill="#6abf5a" opacity="0.55"/><circle cx="581.81" cy="355.48" r="0.80" fill="#6abf5a" opacity="0.55"/><circle cx="602.30" cy="374.08" r="0.80" fill="#6abf5a" opacity="0.55"/><circle cx="585.71" cy="362.39" r="0.80" fill="#6abf5a" opacity="0.55"/><circle cx="603.71" cy="375.02" r="0.80" fill="#6abf5a" opacity="0.55"/><circle cx="592.89" cy="363.75" r="0.80" fill="#6abf5a" opacity="0.55"/><circle cx="597.01" cy="368.83" r="0.80" fill="#6abf5a" opacity="0.55"/><circle cx="589.71" cy="362.05" r="0.80" fill="#6abf5a" opacity="0.55"/><circle cx="595.80" cy="368.65" r="0.80" fill="#6abf5a" opacity="0.55"/><circle cx="584.01" cy="356.68" r="0.80" fill="#6abf5a" opacity="0.55"/><circle cx="600.70" cy="371.71" r="0.80" fill="#6abf5a" opacity="0.55"/><circle cx="581.35" cy="355.64" r="0.80" fill="#6abf5a" opacity="0.55"/><circle cx="604.64" cy="376.25" r="0.80" fill="#6abf5a" opacity="0.55"/><circle cx="601.89" cy="373.34" r="0.80" fill="#6abf5a" opacity="0.55"/><circle cx="595.43" cy="366.27" r="0.80" fill="#6abf5a" opacity="0.55"/><circle cx="593.68" cy="367.27" r="0.80" fill="#6abf5a" opacity="0.55"/><circle cx="599.32" cy="371.07" r="0.80" fill="#6abf5a" opacity="0.55"/><circle cx="598.79" cy="370.38" r="0.80" fill="#6abf5a" opacity="0.55"/><circle cx="595.83" cy="367.68" r="0.80" fill="#6abf5a" opacity="0.55"/><circle cx="592.97" cy="368.06" r="0.80" fill="#6abf5a" opacity="0.55"/><circle cx="585.37" cy="355.94" r="0.80" fill="#6abf5a" opacity="0.55"/><circle cx="593.14" cy="364.57" r="0.80" fill="#6abf5a" opacity="0.55"/><circle cx="583.90" cy="355.18" r="0.80" fill="#6abf5a" opacity="0.55"/><circle cx="596.33" cy="369.86" r="0.80" fill="#6abf5a" opacity="0.55"/><circle cx="596.84" cy="369.18" r="0.80" fill="#6abf5a" opacity="0.55"/><circle cx="596.45" cy="367.73" r="0.80" fill="#6abf5a" opacity="0.55"/><circle cx="588.57" cy="361.46" r="0.80" fill="#6abf5a" opacity="0.55"/><circle cx="593.76" cy="365.40" r="0.80" fill="#6abf5a" opacity="0.55"/><circle cx="570.42" cy="344.99" r="0.80" fill="#6abf5a" opacity="0.55"/><circle cx="586.82" cy="359.75" r="0.80" fill="#6abf5a" opacity="0.55"/><circle cx="582.22" cy="357.02" r="0.80" fill="#6abf5a" opacity="0.55"/><circle cx="586.19" cy="358.13" r="0.80" fill="#6abf5a" opacity="0.55"/><circle cx="591.23" cy="361.78" r="0.80" fill="#6abf5a" opacity="0.55"/><circle cx="573.50" cy="350.40" r="0.80" fill="#6abf5a" opacity="0.55"/><circle cx="594.20" cy="365.40" r="0.80" fill="#6abf5a" opacity="0.55"/><circle cx="591.90" cy="363.62" r="0.80" fill="#6abf5a" opacity="0.55"/><circle cx="576.12" cy="352.03" r="0.80" fill="#6abf5a" opacity="0.55"/><circle cx="596.16" cy="369.16" r="0.80" fill="#6abf5a" opacity="0.55"/><circle cx="600.74" cy="372.11" r="0.80" fill="#6abf5a" opacity="0.55"/><circle cx="591.98" cy="362.98" r="0.80" fill="#6abf5a" opacity="0.55"/><circle cx="599.40" cy="370.33" r="0.80" fill="#6abf5a" opacity="0.55"/><circle cx="599.33" cy="371.35" r="0.80" fill="#6abf5a" opacity="0.55"/><circle cx="571.56" cy="346.19" r="0.80" fill="#6abf5a" opacity="0.55"/><circle cx="590.82" cy="361.96" r="0.80" fill="#6abf5a" opacity="0.55"/><circle cx="590.41" cy="361.36" r="0.80" fill="#6abf5a" opacity="0.55"/><circle cx="588.58" cy="364.09" r="0.80" fill="#6abf5a" opacity="0.55"/><circle cx="593.10" cy="365.27" r="0.80" fill="#6abf5a" opacity="0.55"/><circle cx="599.23" cy="370.06" r="0.80" fill="#6abf5a" opacity="0.55"/><circle cx="595.08" cy="366.20" r="0.80" fill="#6abf5a" opacity="0.55"/><circle cx="598.68" cy="369.47" r="0.80" fill="#6abf5a" opacity="0.55"/><circle cx="587.51" cy="361.03" r="0.80" fill="#6abf5a" opacity="0.55"/><circle cx="570.74" cy="344.55" r="0.80" fill="#6abf5a" opacity="0.55"/><circle cx="603.07" cy="374.18" r="0.80" fill="#6abf5a" opacity="0.55"/><circle cx="586.34" cy="358.96" r="0.80" fill="#6abf5a" opacity="0.55"/><circle cx="578.53" cy="355.82" r="0.80" fill="#6abf5a" opacity="0.55"/><circle cx="583.34" cy="356.01" r="0.80" fill="#6abf5a" opacity="0.55"/><circle cx="592.80" cy="365.27" r="0.80" fill="#6abf5a" opacity="0.55"/><circle cx="587.96" cy="361.12" r="0.80" fill="#6abf5a" opacity="0.55"/><circle cx="600.20" cy="371.14" r="0.80" fill="#6abf5a" opacity="0.55"/><circle cx="579.16" cy="351.66" r="0.80" fill="#6abf5a" opacity="0.55"/><circle cx="571.43" cy="345.89" r="0.80" fill="#6abf5a" opacity="0.55"/><circle cx="584.81" cy="359.05" r="0.80" fill="#6abf5a" opacity="0.55"/><circle cx="588.62" cy="360.67" r="0.80" fill="#6abf5a" opacity="0.55"/><circle cx="590.17" cy="362.50" r="0.80" fill="#6abf5a" opacity="0.55"/><circle cx="576.59" cy="353.64" r="0.80" fill="#6abf5a" opacity="0.55"/><circle cx="584.73" cy="357.28" r="0.80" fill="#6abf5a" opacity="0.55"/><circle cx="599.34" cy="371.91" r="0.80" fill="#6abf5a" opacity="0.55"/><circle cx="592.46" cy="363.30" r="0.80" fill="#6abf5a" opacity="0.55"/><circle cx="594.25" cy="365.39" r="0.80" fill="#6abf5a" opacity="0.55"/><circle cx="575.91" cy="352.86" r="0.80" fill="#6abf5a" opacity="0.55"/><circle cx="600.14" cy="372.06" r="0.80" fill="#6abf5a" opacity="0.55"/><circle cx="601.90" cy="372.94" r="0.80" fill="#6abf5a" opacity="0.55"/><circle cx="590.65" cy="362.44" r="0.80" fill="#6abf5a" opacity="0.55"/><circle cx="592.37" cy="364.17" r="0.80" fill="#6abf5a" opacity="0.55"/><circle cx="600.80" cy="371.84" r="0.80" fill="#6abf5a" opacity="0.55"/><circle cx="589.49" cy="361.66" r="0.80" fill="#6abf5a" opacity="0.55"/><circle cx="590.59" cy="367.09" r="0.80" fill="#6abf5a" opacity="0.55"/><path d="M510.9 320.7 C511.4 318.6 514.0 318.7 516.0 318.0 C518.0 317.3 519.5 316.8 523.1 316.6 C526.7 316.4 534.7 314.6 537.4 316.6 C540.1 318.6 541.9 322.3 539.5 328.8 C537.1 335.3 528.9 352.3 523.1 355.4 C517.3 358.5 506.4 351.3 504.7 347.2 C503.0 343.1 511.9 335.3 512.9 330.9 C513.9 326.5 510.4 322.8 510.9 320.7Z" fill="#6cc4db"/><path d="M490.4 347.2 C492.6 345.8 499.2 345.8 504.7 347.2 C510.1 348.6 517.6 352.5 523.1 355.4 C528.6 358.3 537.7 363.6 537.4 364.6 C537.1 365.6 526.9 362.7 521.1 361.5 C515.3 360.3 507.6 358.4 502.7 357.4 C497.8 356.4 493.6 357.1 491.5 355.4 C489.4 353.7 488.2 348.6 490.4 347.2Z" fill="#f5a524"/><path d="M486.3 322.7 C486.9 320.0 489.3 320.0 491.0 319.0 C492.7 318.0 495.0 317.5 496.6 316.6 C498.2 315.7 499.3 313.7 500.7 313.8 C502.1 313.9 503.3 315.9 505.0 317.0 C506.7 318.1 509.6 318.4 510.9 320.7 C512.2 323.0 514.3 326.8 512.9 330.9 C511.5 335.0 506.4 342.5 502.7 345.2 C498.9 347.9 492.9 348.9 490.4 347.2 C487.8 345.5 488.1 339.1 487.4 335.0 C486.7 330.9 485.7 325.4 486.3 322.7Z" fill="#e6e21e"/><path d="M492.5 326.8 C493.8 324.9 495.3 324.2 497.0 323.5 C498.7 322.8 501.1 322.1 502.7 322.7 C504.3 323.3 505.1 325.3 506.5 327.0 C507.9 328.7 510.8 330.7 510.9 332.9 C511.0 335.1 508.4 337.8 507.0 340.0 C505.6 342.2 505.1 345.3 502.7 346.2 C500.3 347.1 494.7 347.1 492.5 345.2 C490.3 343.3 489.4 338.1 489.4 335.0 C489.4 331.9 491.2 328.7 492.5 326.8Z" fill="#d9d6d2"/><circle cx="489.68" cy="317.68" r="0.80" fill="#e6e21e"/><circle cx="494.23" cy="314.53" r="0.80" fill="#e6e21e"/><circle cx="495.26" cy="317.25" r="0.80" fill="#e6e21e"/><circle cx="495.68" cy="317.65" r="0.80" fill="#e6e21e"/><circle cx="509.73" cy="319.94" r="0.80" fill="#e6e21e"/><circle cx="509.34" cy="319.45" r="0.80" fill="#e6e21e"/><circle cx="494.08" cy="318.77" r="0.80" fill="#e6e21e"/><circle cx="490.15" cy="317.07" r="0.80" fill="#e6e21e"/><circle cx="489.81" cy="313.69" r="0.80" fill="#e6e21e"/><circle cx="510.77" cy="313.89" r="0.80" fill="#e6e21e"/><circle cx="505.21" cy="316.69" r="0.80" fill="#e6e21e"/><circle cx="488.03" cy="318.55" r="0.80" fill="#e6e21e"/><circle cx="489.46" cy="319.21" r="0.80" fill="#e6e21e"/><circle cx="507.64" cy="316.47" r="0.80" fill="#e6e21e"/><circle cx="498.71" cy="313.20" r="0.80" fill="#e6e21e"/><circle cx="504.80" cy="313.27" r="0.80" fill="#e6e21e"/><circle cx="500.63" cy="319.48" r="0.80" fill="#e6e21e"/><circle cx="504.27" cy="313.82" r="0.80" fill="#e6e21e"/><circle cx="505.31" cy="317.91" r="0.80" fill="#e6e21e"/><circle cx="495.90" cy="318.40" r="0.80" fill="#e6e21e"/><circle cx="501.89" cy="315.89" r="0.80" fill="#e6e21e"/><circle cx="500.62" cy="314.93" r="0.80" fill="#e6e21e"/><circle cx="494.89" cy="319.22" r="0.80" fill="#e6e21e"/><circle cx="496.39" cy="318.40" r="0.80" fill="#e6e21e"/><circle cx="496.80" cy="314.33" r="0.80" fill="#e6e21e"/><text x="435.50" y="292.80" font-size="8.3" text-anchor="middle" fill="#333">−30</text><text x="439.30" y="302.40" font-size="8.3" text-anchor="middle" fill="#333">−25</text><text x="445.10" y="312.10" font-size="8.3" text-anchor="middle" fill="#333">−20</text><text x="449.00" y="321.00" font-size="8.3" text-anchor="middle" fill="#333">−15</text><text x="452.90" y="328.80" font-size="8.3" text-anchor="middle" fill="#333">−10</text><text x="458.70" y="336.50" font-size="8.3" text-anchor="middle" fill="#333">−5</text><text x="463.30" y="344.20" font-size="8.3" text-anchor="middle" fill="#333">0</text><text x="465.60" y="350.00" font-size="8.3" text-anchor="middle" fill="#333">5</text><text x="470.30" y="356.60" font-size="8.3" text-anchor="middle" fill="#333">10</text><text x="480.00" y="363.60" font-size="8.3" text-anchor="middle" fill="#333">10</text><text x="499.30" y="374.40" font-size="8.3" text-anchor="middle" fill="#333">0</text><text x="517.90" y="388.30" font-size="8.3" text-anchor="middle" fill="#333">−10</text><text x="539.90" y="401.90" font-size="8.3" text-anchor="middle" fill="#333">−20</text><text x="563.10" y="415.80" font-size="8.3" text-anchor="middle" fill="#333">−30</text><text x="642.40" y="343.00" font-size="8.3" text-anchor="middle" fill="#333">30</text><text x="635.90" y="352.70" font-size="8.3" text-anchor="middle" fill="#333">25</text><text x="630.80" y="362.40" font-size="8.3" text-anchor="middle" fill="#333">20</text><text x="623.10" y="372.00" font-size="8.3" text-anchor="middle" fill="#333">15</text><text x="616.50" y="382.00" font-size="8.3" text-anchor="middle" fill="#333">10</text><text x="609.60" y="393.40" font-size="8.3" text-anchor="middle" fill="#333">5</text><text x="601.80" y="405.00" font-size="8.3" text-anchor="middle" fill="#333">0</text><text x="596.00" y="415.80" font-size="8.3" text-anchor="middle" fill="#333">−5</text><text x="438.60" y="341.60" font-size="9.4" text-anchor="middle">PC3</text><text x="512.80" y="400.80" font-size="9.4" text-anchor="middle">PC1</text><text x="638.60" y="385.00" font-size="9.4" text-anchor="middle">PC2</text><circle cx="440.20" cy="433.00" r="3.50" fill="#e3262a" stroke="#555" stroke-width="0.45"/><text x="448.20" y="436.10" font-size="8.6">CN1_T</text><circle cx="440.20" cy="447.50" r="3.50" fill="#f6a540" stroke="#555" stroke-width="0.45"/><text x="448.20" y="450.60" font-size="8.6">CN2_PC</text><circle cx="440.20" cy="462.00" r="3.50" fill="#2e3a8f" stroke="#555" stroke-width="0.45"/><text x="448.20" y="465.10" font-size="8.6">CN3_Myeloid</text><circle cx="511.70" cy="433.00" r="3.50" fill="#ebe524" stroke="#555" stroke-width="0.45"/><text x="519.70" y="436.10" font-size="8.6">CN4_Stromal</text><circle cx="511.70" cy="447.50" r="3.50" fill="#6cbb5c" stroke="#555" stroke-width="0.45"/><text x="519.70" y="450.60" font-size="8.6">CN5_Tumor-B</text><circle cx="511.70" cy="462.00" r="3.50" fill="#4dbfea" stroke="#555" stroke-width="0.45"/><text x="519.70" y="465.10" font-size="8.6">CN6_Diffuse</text><circle cx="585.80" cy="433.00" r="3.50" fill="#d2d2d2" stroke="#555" stroke-width="0.45"/><text x="593.80" y="436.10" font-size="8.6">CN7_Mixed</text><text x="0.00" y="509.30" font-size="14" fill="#111" font-weight="bold">e</text><text x="75.00" y="515.80" font-size="9.4" textLength="144.60" lengthAdjust="spacingAndGlyphs">Cellular compositions in each CN</text><rect x="83.69" y="525.10" width="1.07" height="12.80" fill="#6b3d99"/><rect x="84.45" y="525.10" width="3.11" height="12.80" fill="#006633"/><rect x="87.26" y="525.10" width="2.09" height="12.80" fill="#ef9b9d"/><rect x="89.05" y="525.10" width="2.09" height="12.80" fill="#7eb1d9"/><rect x="90.84" y="525.10" width="1.83" height="12.80" fill="#ef9b9d"/><rect x="92.37" y="525.10" width="3.88" height="12.80" fill="#0b8286"/><rect x="95.95" y="525.10" width="10.01" height="12.80" fill="#d95a48"/><rect x="105.66" y="525.10" width="7.45" height="12.80" fill="#f6e06c"/><rect x="112.81" y="525.10" width="1.32" height="12.80" fill="#b47bb6"/><rect x="113.83" y="525.10" width="3.62" height="12.80" fill="#f4c7dc"/><rect x="117.16" y="525.10" width="1.58" height="12.80" fill="#faf6f8"/><rect x="118.43" y="525.10" width="18.95" height="12.80" fill="#3f54a4"/><rect x="137.08" y="525.10" width="88.96" height="12.80" fill="#d2202a"/><rect x="225.74" y="525.10" width="2.09" height="12.80" fill="#b9b6dc"/><rect x="227.53" y="525.10" width="1.58" height="12.80" fill="#ef7f24"/><rect x="228.81" y="525.10" width="13.33" height="12.80" fill="#9cc742"/><rect x="83.69" y="540.90" width="1.07" height="12.80" fill="#6b3d99"/><rect x="84.45" y="540.90" width="1.58" height="12.80" fill="#ef9b9d"/><rect x="85.73" y="540.90" width="2.34" height="12.80" fill="#7eb1d9"/><rect x="87.77" y="540.90" width="4.13" height="12.80" fill="#0b8286"/><rect x="91.61" y="540.90" width="6.69" height="12.80" fill="#d95a48"/><rect x="97.99" y="540.90" width="4.90" height="12.80" fill="#f6e06c"/><rect x="102.59" y="540.90" width="1.58" height="12.80" fill="#b9b6dc"/><rect x="103.87" y="540.90" width="4.64" height="12.80" fill="#3f54a4"/><rect x="108.21" y="540.90" width="6.18" height="12.80" fill="#d2202a"/><rect x="114.09" y="540.90" width="5.92" height="12.80" fill="#e6f1f0"/><rect x="119.71" y="540.90" width="97.39" height="12.80" fill="#ef7f24"/><rect x="216.80" y="540.90" width="25.34" height="12.80" fill="#9cc742"/><rect x="83.69" y="556.70" width="1.07" height="12.80" fill="#6b3d99"/><rect x="84.45" y="556.70" width="2.34" height="12.80" fill="#ef9b9d"/><rect x="86.50" y="556.70" width="2.09" height="12.80" fill="#cfe5b6"/><rect x="88.29" y="556.70" width="2.34" height="12.80" fill="#0b8286"/><rect x="90.33" y="556.70" width="4.90" height="12.80" fill="#d95a48"/><rect x="94.93" y="556.70" width="10.52" height="12.80" fill="#f6e06c"/><rect x="105.15" y="556.70" width="2.09" height="12.80" fill="#f4c7dc"/><rect x="106.94" y="556.70" width="2.34" height="12.80" fill="#faf6f8"/><rect x="108.98" y="556.70" width="90.74" height="12.80" fill="#3f54a4"/><rect x="199.43" y="556.70" width="26.10" height="12.80" fill="#d2202a"/><rect x="225.23" y="556.70" width="2.09" height="12.80" fill="#b9b6dc"/><rect x="227.02" y="556.70" width="15.12" height="12.80" fill="#9cc742"/><rect x="83.69" y="572.50" width="1.83" height="12.80" fill="#006633"/><rect x="85.22" y="572.50" width="4.90" height="12.80" fill="#ef9b9d"/><rect x="89.82" y="572.50" width="4.64" height="12.80" fill="#cfe5b6"/><rect x="94.16" y="572.50" width="8.48" height="12.80" fill="#0b8286"/><rect x="102.34" y="572.50" width="4.13" height="12.80" fill="#d95a48"/><rect x="106.17" y="572.50" width="67.49" height="12.80" fill="#f6e06c"/><rect x="173.36" y="572.50" width="1.58" height="12.80" fill="#b47bb6"/><rect x="174.64" y="572.50" width="5.41" height="12.80" fill="#f4c7dc"/><rect x="179.75" y="572.50" width="3.37" height="12.80" fill="#faf6f8"/><rect x="182.82" y="572.50" width="20.99" height="12.80" fill="#3f54a4"/><rect x="203.51" y="572.50" width="13.07" height="12.80" fill="#d2202a"/><rect x="216.29" y="572.50" width="7.20" height="12.80" fill="#b9b6dc"/><rect x="223.19" y="572.50" width="2.34" height="12.80" fill="#e6f1f0"/><rect x="225.23" y="572.50" width="2.85" height="12.80" fill="#ef7f24"/><rect x="227.78" y="572.50" width="14.35" height="12.80" fill="#9cc742"/><rect x="83.69" y="588.30" width="1.83" height="12.80" fill="#ef9b9d"/><rect x="85.22" y="588.30" width="1.58" height="12.80" fill="#7eb1d9"/><rect x="86.50" y="588.30" width="2.09" height="12.80" fill="#0b8286"/><rect x="88.29" y="588.30" width="4.90" height="12.80" fill="#f6e06c"/><rect x="92.88" y="588.30" width="1.58" height="12.80" fill="#b9b6dc"/><rect x="94.16" y="588.30" width="5.92" height="12.80" fill="#3f54a4"/><rect x="99.78" y="588.30" width="7.96" height="12.80" fill="#d2202a"/><rect x="107.45" y="588.30" width="1.83" height="12.80" fill="#f4c7dc"/><rect x="108.98" y="588.30" width="2.09" height="12.80" fill="#faf6f8"/><rect x="110.77" y="588.30" width="2.34" height="12.80" fill="#ef7f24"/><rect x="112.81" y="588.30" width="129.32" height="12.80" fill="#9cc742"/><rect x="83.69" y="604.10" width="1.32" height="12.80" fill="#6b3d99"/><rect x="84.71" y="604.10" width="4.64" height="12.80" fill="#ef9b9d"/><rect x="89.05" y="604.10" width="2.09" height="12.80" fill="#7eb1d9"/><rect x="90.84" y="604.10" width="4.39" height="12.80" fill="#0b8286"/><rect x="94.93" y="604.10" width="5.41" height="12.80" fill="#d95a48"/><rect x="100.04" y="604.10" width="9.75" height="12.80" fill="#f6e06c"/><rect x="109.49" y="604.10" width="4.13" height="12.80" fill="#f4c7dc"/><rect x="113.32" y="604.10" width="2.09" height="12.80" fill="#faf6f8"/><rect x="115.11" y="604.10" width="19.72" height="12.80" fill="#3f54a4"/><rect x="134.53" y="604.10" width="16.14" height="12.80" fill="#d2202a"/><rect x="150.37" y="604.10" width="2.34" height="12.80" fill="#b47bb6"/><rect x="152.41" y="604.10" width="4.64" height="12.80" fill="#faf6f8"/><rect x="156.76" y="604.10" width="3.37" height="12.80" fill="#ef7f24"/><rect x="159.82" y="604.10" width="82.31" height="12.80" fill="#9cc742"/><rect x="83.69" y="619.90" width="1.07" height="12.80" fill="#6b3d99"/><rect x="84.45" y="619.90" width="7.96" height="12.80" fill="#006633"/><rect x="92.12" y="619.90" width="9.50" height="12.80" fill="#ef9b9d"/><rect x="101.32" y="619.90" width="2.85" height="12.80" fill="#7eb1d9"/><rect x="103.87" y="619.90" width="3.37" height="12.80" fill="#cfe5b6"/><rect x="106.94" y="619.90" width="8.48" height="12.80" fill="#0b8286"/><rect x="115.11" y="619.90" width="11.29" height="12.80" fill="#d95a48"/><rect x="126.10" y="619.90" width="14.35" height="12.80" fill="#f6e06c"/><rect x="140.15" y="619.90" width="2.85" height="12.80" fill="#b47bb6"/><rect x="142.71" y="619.90" width="5.92" height="12.80" fill="#f4c7dc"/><rect x="148.33" y="619.90" width="6.69" height="12.80" fill="#faf6f8"/><rect x="154.71" y="619.90" width="21.51" height="12.80" fill="#3f54a4"/><rect x="175.92" y="619.90" width="30.19" height="12.80" fill="#d2202a"/><rect x="205.81" y="619.90" width="1.58" height="12.80" fill="#f4c7dc"/><rect x="207.09" y="619.90" width="7.45" height="12.80" fill="#b9b6dc"/><rect x="214.24" y="619.90" width="4.64" height="12.80" fill="#faf6f8"/><rect x="218.59" y="619.90" width="4.90" height="12.80" fill="#ef7f24"/><rect x="223.19" y="619.90" width="18.95" height="12.80" fill="#9cc742"/><path d="M76.5 520 V636.8 H249.3" stroke="#6b6b6b" stroke-width="0.8" fill="none"/><line x1="73.00" y1="531.50" x2="76.50" y2="531.50" stroke="#6b6b6b" stroke-width="0.8"/><line x1="73.00" y1="547.30" x2="76.50" y2="547.30" stroke="#6b6b6b" stroke-width="0.8"/><line x1="73.00" y1="563.10" x2="76.50" y2="563.10" stroke="#6b6b6b" stroke-width="0.8"/><line x1="73.00" y1="578.90" x2="76.50" y2="578.90" stroke="#6b6b6b" stroke-width="0.8"/><line x1="73.00" y1="594.70" x2="76.50" y2="594.70" stroke="#6b6b6b" stroke-width="0.8"/><line x1="73.00" y1="610.50" x2="76.50" y2="610.50" stroke="#6b6b6b" stroke-width="0.8"/><line x1="73.00" y1="626.30" x2="76.50" y2="626.30" stroke="#6b6b6b" stroke-width="0.8"/><line x1="84.50" y1="636.80" x2="84.50" y2="640.50" stroke="#6b6b6b" stroke-width="0.8"/><text x="84.50" y="650.20" font-size="8.8" text-anchor="middle" fill="#3a3a3a">0</text><line x1="123.50" y1="636.80" x2="123.50" y2="640.50" stroke="#6b6b6b" stroke-width="0.8"/><text x="123.50" y="650.20" font-size="8.8" text-anchor="middle" fill="#3a3a3a">0.25</text><line x1="162.60" y1="636.80" x2="162.60" y2="640.50" stroke="#6b6b6b" stroke-width="0.8"/><text x="162.60" y="650.20" font-size="8.8" text-anchor="middle" fill="#3a3a3a">0.50</text><line x1="202.00" y1="636.80" x2="202.00" y2="640.50" stroke="#6b6b6b" stroke-width="0.8"/><text x="202.00" y="650.20" font-size="8.8" text-anchor="middle" fill="#3a3a3a">0.75</text><line x1="241.00" y1="636.80" x2="241.00" y2="640.50" stroke="#6b6b6b" stroke-width="0.8"/><text x="241.00" y="650.20" font-size="8.8" text-anchor="middle" fill="#3a3a3a">1.00</text><text x="107.00" y="664.80" font-size="9.6" textLength="111.60" lengthAdjust="spacingAndGlyphs">Proportion of cell clusters</text><text x="43.10" y="534.80" font-size="9.0" textLength="25.60" lengthAdjust="spacingAndGlyphs">CN1_T</text><circle cx="36.70" cy="531.50" r="3.50" fill="#e3262a" stroke="#555" stroke-width="0.45"/><text x="34.50" y="550.60" font-size="9.0" textLength="34.20" lengthAdjust="spacingAndGlyphs">CN2_PC</text><circle cx="28.10" cy="547.30" r="3.50" fill="#f6a540" stroke="#555" stroke-width="0.45"/><text x="11.70" y="566.40" font-size="9.0" textLength="57.00" lengthAdjust="spacingAndGlyphs">CN3_Myeloid</text><circle cx="5.30" cy="563.10" r="3.50" fill="#2e3a8f" stroke="#555" stroke-width="0.45"/><text x="11.70" y="582.20" font-size="9.0" textLength="57.00" lengthAdjust="spacingAndGlyphs">CN4_Stromal</text><circle cx="5.30" cy="578.90" r="3.50" fill="#ebe524" stroke="#555" stroke-width="0.45"/><text x="9.10" y="598.00" font-size="9.0" textLength="59.60" lengthAdjust="spacingAndGlyphs">CN5_Tumor-B</text><circle cx="2.70" cy="594.70" r="3.50" fill="#6cbb5c" stroke="#555" stroke-width="0.45"/><text x="17.10" y="613.80" font-size="9.0" textLength="51.60" lengthAdjust="spacingAndGlyphs">CN6_Diffuse</text><circle cx="10.70" cy="610.50" r="3.50" fill="#4dbfea" stroke="#555" stroke-width="0.45"/><text x="21.60" y="629.60" font-size="9.0" textLength="47.10" lengthAdjust="spacingAndGlyphs">CN7_Mixed</text><circle cx="15.20" cy="626.30" r="3.50" fill="#d2d2d2" stroke="#555" stroke-width="0.45"/><text x="253.80" y="508.60" font-size="14" fill="#111" font-weight="bold">f</text><text x="331.60" y="513.70" font-size="9.0" textLength="73.01" lengthAdjust="spacingAndGlyphs">DEGs across CNs</text><circle cx="334.20" cy="526.50" r="2.30" fill="#8b0a26"/><circle cx="340.47" cy="526.50" r="2.30" fill="#8b0a26"/><circle cx="346.74" cy="526.50" r="2.65" fill="#8b0a26"/><circle cx="353.01" cy="526.50" r="2.00" fill="#8b0a26"/><circle cx="359.28" cy="526.50" r="2.30" fill="#8b0a26"/><circle cx="365.55" cy="526.50" r="2.30" fill="#8b0a26"/><circle cx="371.82" cy="526.50" r="2.65" fill="#8b0a26"/><circle cx="378.09" cy="526.50" r="2.20" fill="#8b0a26"/><circle cx="384.36" cy="526.50" r="1.80" fill="#8b0a26"/><circle cx="390.63" cy="526.50" r="2.65" fill="#f8b96a"/><circle cx="396.90" cy="526.50" r="1.90" fill="#e8613a"/><circle cx="403.17" cy="526.50" r="2.75" fill="#8b0a26"/><circle cx="409.44" cy="526.50" r="1.80" fill="#e8613a"/><circle cx="415.71" cy="526.50" r="1.50" fill="#a7d0e5"/><circle cx="421.98" cy="526.50" r="2.10" fill="#a7d0e5"/><circle cx="428.25" cy="526.50" r="1.70" fill="#a7d0e5"/><circle cx="434.52" cy="526.50" r="2.90" fill="#7aa9d4"/><circle cx="440.79" cy="526.50" r="2.30" fill="#f8b96a"/><circle cx="447.06" cy="526.50" r="2.30" fill="#f8b96a"/><circle cx="453.33" cy="526.50" r="2.30" fill="#f28d46"/><circle cx="459.60" cy="526.50" r="2.30" fill="#f8b96a"/><circle cx="465.87" cy="526.50" r="2.50" fill="#e9f1ef"/><circle cx="472.14" cy="526.50" r="2.50" fill="#f3efc0"/><circle cx="478.41" cy="526.50" r="2.30" fill="#f3efc0"/><circle cx="484.68" cy="526.50" r="1.80" fill="#f3efc0"/><circle cx="490.95" cy="526.50" r="2.10" fill="#e9f1ef"/><circle cx="497.22" cy="526.50" r="1.50" fill="#d3e8f0"/><circle cx="503.49" cy="526.50" r="1.80" fill="#d3e8f0"/><circle cx="509.76" cy="526.50" r="1.80" fill="#a7d0e5"/><circle cx="516.03" cy="526.50" r="1.80" fill="#a7d0e5"/><circle cx="522.30" cy="526.50" r="1.50" fill="#f3efc0"/><circle cx="528.57" cy="526.50" r="2.20" fill="#e9f1ef"/><circle cx="534.84" cy="526.50" r="1.80" fill="#a7d0e5"/><circle cx="541.11" cy="526.50" r="1.80" fill="#f3efc0"/><circle cx="547.38" cy="526.50" r="1.80" fill="#a7d0e5"/><circle cx="553.65" cy="526.50" r="1.80" fill="#7aa9d4"/><circle cx="559.92" cy="526.50" r="1.50" fill="#a7d0e5"/><circle cx="566.19" cy="526.50" r="1.30" fill="#a7d0e5"/><circle cx="572.46" cy="526.50" r="2.30" fill="#a7d0e5"/><circle cx="578.73" cy="526.50" r="2.30" fill="#a7d0e5"/><circle cx="585.00" cy="526.50" r="1.60" fill="#d3e8f0"/><circle cx="591.27" cy="526.50" r="1.60" fill="#d3e8f0"/><circle cx="597.54" cy="526.50" r="1.50" fill="#e9f1ef"/><circle cx="603.81" cy="526.50" r="1.90" fill="#a7d0e5"/><circle cx="610.08" cy="526.50" r="1.50" fill="#a7d0e5"/><circle cx="616.35" cy="526.50" r="1.60" fill="#a7d0e5"/><circle cx="622.62" cy="526.50" r="1.50" fill="#d3e8f0"/><circle cx="628.89" cy="526.50" r="1.70" fill="#e9f1ef"/><circle cx="334.20" cy="542.18" r="1.10" fill="#a7d0e5"/><circle cx="340.47" cy="542.18" r="1.20" fill="#d3e8f0"/><circle cx="346.74" cy="542.18" r="1.30" fill="#a7d0e5"/><circle cx="353.01" cy="542.18" r="1.20" fill="#7aa9d4"/><circle cx="359.28" cy="542.18" r="0.60" fill="#7aa9d4"/><circle cx="365.55" cy="542.18" r="1.10" fill="#a7d0e5"/><circle cx="371.82" cy="542.18" r="1.30" fill="#7aa9d4"/><circle cx="378.09" cy="542.18" r="1.10" fill="#a7d0e5"/><circle cx="384.36" cy="542.18" r="0.70" fill="#7aa9d4"/><circle cx="390.63" cy="542.18" r="1.50" fill="#a7d0e5"/><circle cx="396.90" cy="542.18" r="1.00" fill="#7aa9d4"/><circle cx="403.17" cy="542.18" r="1.50" fill="#7aa9d4"/><circle cx="409.44" cy="542.18" r="1.20" fill="#4a76b9"/><circle cx="415.71" cy="542.18" r="2.50" fill="#8b0a26"/><circle cx="421.98" cy="542.18" r="3.00" fill="#8b0a26"/><circle cx="428.25" cy="542.18" r="3.00" fill="#8b0a26"/><circle cx="434.52" cy="542.18" r="3.30" fill="#8b0a26"/><circle cx="440.79" cy="542.18" r="1.40" fill="#7aa9d4"/><circle cx="447.06" cy="542.18" r="1.50" fill="#a7d0e5"/><circle cx="453.33" cy="542.18" r="1.30" fill="#7aa9d4"/><circle cx="459.60" cy="542.18" r="1.80" fill="#a7d0e5"/><circle cx="465.87" cy="542.18" r="2.20" fill="#7aa9d4"/><circle cx="472.14" cy="542.18" r="2.30" fill="#7aa9d4"/><circle cx="478.41" cy="542.18" r="1.80" fill="#7aa9d4"/><circle cx="484.68" cy="542.18" r="0.70" fill="#4a76b9"/><circle cx="490.95" cy="542.18" r="1.80" fill="#a7d0e5"/><circle cx="497.22" cy="542.18" r="1.30" fill="#a7d0e5"/><circle cx="503.49" cy="542.18" r="1.50" fill="#a7d0e5"/><circle cx="509.76" cy="542.18" r="1.50" fill="#7aa9d4"/><circle cx="516.03" cy="542.18" r="1.70" fill="#e9f1ef"/><circle cx="522.30" cy="542.18" r="0.90" fill="#a7d0e5"/><circle cx="528.57" cy="542.18" r="1.50" fill="#4a76b9"/><circle cx="534.84" cy="542.18" r="1.50" fill="#a7d0e5"/><circle cx="541.11" cy="542.18" r="1.40" fill="#7aa9d4"/><circle cx="547.38" cy="542.18" r="2.30" fill="#f28d46"/><circle cx="553.65" cy="542.18" r="2.30" fill="#e9f1ef"/><circle cx="559.92" cy="542.18" r="1.80" fill="#e9f1ef"/><circle cx="566.19" cy="542.18" r="1.70" fill="#a7d0e5"/><circle cx="572.46" cy="542.18" r="2.80" fill="#e9f1ef"/><circle cx="578.73" cy="542.18" r="2.50" fill="#f3efc0"/><circle cx="585.00" cy="542.18" r="1.30" fill="#a7d0e5"/><circle cx="591.27" cy="542.18" r="1.50" fill="#a7d0e5"/><circle cx="597.54" cy="542.18" r="1.20" fill="#7aa9d4"/><circle cx="603.81" cy="542.18" r="1.80" fill="#d3e8f0"/><circle cx="610.08" cy="542.18" r="1.50" fill="#d3e8f0"/><circle cx="616.35" cy="542.18" r="1.60" fill="#d3e8f0"/><circle cx="622.62" cy="542.18" r="2.00" fill="#fbd98c"/><circle cx="628.89" cy="542.18" r="1.90" fill="#f3efc0"/><circle cx="334.20" cy="557.86" r="1.70" fill="#fbd98c"/><circle cx="340.47" cy="557.86" r="1.70" fill="#fbd98c"/><circle cx="346.74" cy="557.86" r="2.00" fill="#f28d46"/><circle cx="353.01" cy="557.86" r="1.20" fill="#f28d46"/><circle cx="359.28" cy="557.86" r="1.70" fill="#fbd98c"/><circle cx="365.55" cy="557.86" r="2.00" fill="#e8613a"/><circle cx="371.82" cy="557.86" r="2.50" fill="#8b0a26"/><circle cx="378.09" cy="557.86" r="1.90" fill="#f8b96a"/><circle cx="384.36" cy="557.86" r="1.50" fill="#fbd98c"/><circle cx="390.63" cy="557.86" r="3.30" fill="#8b0a26"/><circle cx="396.90" cy="557.86" r="2.20" fill="#8b0a26"/><circle cx="403.17" cy="557.86" r="2.50" fill="#f28d46"/><circle cx="409.44" cy="557.86" r="1.90" fill="#e8613a"/><circle cx="415.71" cy="557.86" r="1.20" fill="#7aa9d4"/><circle cx="421.98" cy="557.86" r="2.10" fill="#a7d0e5"/><circle cx="428.25" cy="557.86" r="1.50" fill="#a7d0e5"/><circle cx="434.52" cy="557.86" r="3.00" fill="#a7d0e5"/><circle cx="440.79" cy="557.86" r="2.90" fill="#8b0a26"/><circle cx="447.06" cy="557.86" r="2.90" fill="#8b0a26"/><circle cx="453.33" cy="557.86" r="2.90" fill="#8b0a26"/><circle cx="459.60" cy="557.86" r="2.90" fill="#8b0a26"/><circle cx="465.87" cy="557.86" r="3.10" fill="#8b0a26"/><circle cx="472.14" cy="557.86" r="3.10" fill="#8b0a26"/><circle cx="478.41" cy="557.86" r="2.90" fill="#8b0a26"/><circle cx="484.68" cy="557.86" r="2.40" fill="#8b0a26"/><circle cx="490.95" cy="557.86" r="2.00" fill="#e9f1ef"/><circle cx="497.22" cy="557.86" r="1.50" fill="#d3e8f0"/><circle cx="503.49" cy="557.86" r="1.80" fill="#e9f1ef"/><circle cx="509.76" cy="557.86" r="2.00" fill="#f3efc0"/><circle cx="516.03" cy="557.86" r="1.60" fill="#a7d0e5"/><circle cx="522.30" cy="557.86" r="1.20" fill="#d3e8f0"/><circle cx="528.57" cy="557.86" r="2.40" fill="#f3efc0"/><circle cx="534.84" cy="557.86" r="2.00" fill="#f3efc0"/><circle cx="541.11" cy="557.86" r="2.10" fill="#fbd98c"/><circle cx="547.38" cy="557.86" r="1.50" fill="#7aa9d4"/><circle cx="553.65" cy="557.86" r="2.10" fill="#a7d0e5"/><circle cx="559.92" cy="557.86" r="1.50" fill="#7aa9d4"/><circle cx="566.19" cy="557.86" r="1.20" fill="#a7d0e5"/><circle cx="572.46" cy="557.86" r="2.30" fill="#a7d0e5"/><circle cx="578.73" cy="557.86" r="2.30" fill="#7aa9d4"/><circle cx="585.00" cy="557.86" r="1.20" fill="#a7d0e5"/><circle cx="591.27" cy="557.86" r="1.50" fill="#a7d0e5"/><circle cx="597.54" cy="557.86" r="1.20" fill="#a7d0e5"/><circle cx="603.81" cy="557.86" r="1.80" fill="#7aa9d4"/><circle cx="610.08" cy="557.86" r="1.40" fill="#a7d0e5"/><circle cx="616.35" cy="557.86" r="1.60" fill="#a7d0e5"/><circle cx="622.62" cy="557.86" r="1.00" fill="#7aa9d4"/><circle cx="628.89" cy="557.86" r="1.80" fill="#a7d0e5"/><circle cx="334.20" cy="573.54" r="1.10" fill="#d3e8f0"/><circle cx="340.47" cy="573.54" r="1.20" fill="#d3e8f0"/><circle cx="346.74" cy="573.54" r="1.50" fill="#d3e8f0"/><circle cx="353.01" cy="573.54" r="1.30" fill="#d3e8f0"/><circle cx="359.28" cy="573.54" r="1.30" fill="#d3e8f0"/><circle cx="365.55" cy="573.54" r="1.30" fill="#d3e8f0"/><circle cx="371.82" cy="573.54" r="1.70" fill="#a7d0e5"/><circle cx="378.09" cy="573.54" r="1.30" fill="#d3e8f0"/><circle cx="384.36" cy="573.54" r="1.10" fill="#d3e8f0"/><circle cx="390.63" cy="573.54" r="1.90" fill="#d3e8f0"/><circle cx="396.90" cy="573.54" r="1.30" fill="#e9f1ef"/><circle cx="403.17" cy="573.54" r="2.10" fill="#f3efc0"/><circle cx="409.44" cy="573.54" r="1.90" fill="#d3302a"/><circle cx="415.71" cy="573.54" r="1.40" fill="#a7d0e5"/><circle cx="421.98" cy="573.54" r="2.50" fill="#e9f1ef"/><circle cx="428.25" cy="573.54" r="1.90" fill="#a7d0e5"/><circle cx="434.52" cy="573.54" r="3.30" fill="#a7d0e5"/><circle cx="440.79" cy="573.54" r="2.10" fill="#f3efc0"/><circle cx="447.06" cy="573.54" r="1.80" fill="#e9f1ef"/><circle cx="453.33" cy="573.54" r="1.80" fill="#d3e8f0"/><circle cx="459.60" cy="573.54" r="1.80" fill="#e9f1ef"/><circle cx="465.87" cy="573.54" r="2.90" fill="#f3efc0"/><circle cx="472.14" cy="573.54" r="2.90" fill="#f3efc0"/><circle cx="478.41" cy="573.54" r="2.30" fill="#e9f1ef"/><circle cx="484.68" cy="573.54" r="1.50" fill="#f3efc0"/><circle cx="490.95" cy="573.54" r="3.30" fill="#8b0a26"/><circle cx="497.22" cy="573.54" r="2.50" fill="#8b0a26"/><circle cx="503.49" cy="573.54" r="2.80" fill="#8b0a26"/><circle cx="509.76" cy="573.54" r="2.80" fill="#8b0a26"/><circle cx="516.03" cy="573.54" r="2.50" fill="#8b0a26"/><circle cx="522.30" cy="573.54" r="1.80" fill="#8b0a26"/><circle cx="528.57" cy="573.54" r="2.80" fill="#8b0a26"/><circle cx="534.84" cy="573.54" r="2.50" fill="#8b0a26"/><circle cx="541.11" cy="573.54" r="2.50" fill="#8b0a26"/><circle cx="547.38" cy="573.54" r="1.50" fill="#a7d0e5"/><circle cx="553.65" cy="573.54" r="2.20" fill="#d3e8f0"/><circle cx="559.92" cy="573.54" r="1.70" fill="#a7d0e5"/><circle cx="566.19" cy="573.54" r="1.70" fill="#a7d0e5"/><circle cx="572.46" cy="573.54" r="2.30" fill="#a7d0e5"/><circle cx="578.73" cy="573.54" r="2.30" fill="#a7d0e5"/><circle cx="585.00" cy="573.54" r="1.30" fill="#d3e8f0"/><circle cx="591.27" cy="573.54" r="1.50" fill="#d3e8f0"/><circle cx="597.54" cy="573.54" r="1.30" fill="#a7d0e5"/><circle cx="603.81" cy="573.54" r="1.90" fill="#a7d0e5"/><circle cx="610.08" cy="573.54" r="1.50" fill="#d3e8f0"/><circle cx="616.35" cy="573.54" r="1.60" fill="#a7d0e5"/><circle cx="622.62" cy="573.54" r="1.30" fill="#a7d0e5"/><circle cx="628.89" cy="573.54" r="1.70" fill="#a7d0e5"/><circle cx="334.20" cy="589.22" r="1.10" fill="#a7d0e5"/><circle cx="340.47" cy="589.22" r="1.20" fill="#a7d0e5"/><circle cx="346.74" cy="589.22" r="1.50" fill="#7aa9d4"/><circle cx="353.01" cy="589.22" r="1.30" fill="#7aa9d4"/><circle cx="359.28" cy="589.22" r="1.10" fill="#a7d0e5"/><circle cx="365.55" cy="589.22" r="1.10" fill="#7aa9d4"/><circle cx="371.82" cy="589.22" r="1.50" fill="#7aa9d4"/><circle cx="378.09" cy="589.22" r="1.30" fill="#a7d0e5"/><circle cx="384.36" cy="589.22" r="0.90" fill="#a7d0e5"/><circle cx="390.63" cy="589.22" r="1.80" fill="#a7d0e5"/><circle cx="396.90" cy="589.22" r="1.20" fill="#a7d0e5"/><circle cx="403.17" cy="589.22" r="1.80" fill="#7aa9d4"/><circle cx="409.44" cy="589.22" r="1.20" fill="#4a76b9"/><circle cx="415.71" cy="589.22" r="2.50" fill="#d3302a"/><circle cx="421.98" cy="589.22" r="3.00" fill="#e9f1ef"/><circle cx="428.25" cy="589.22" r="3.00" fill="#f3efc0"/><circle cx="434.52" cy="589.22" r="3.30" fill="#e8613a"/><circle cx="440.79" cy="589.22" r="1.60" fill="#7aa9d4"/><circle cx="447.06" cy="589.22" r="1.50" fill="#a7d0e5"/><circle cx="453.33" cy="589.22" r="1.50" fill="#a7d0e5"/><circle cx="459.60" cy="589.22" r="1.50" fill="#7aa9d4"/><circle cx="465.87" cy="589.22" r="2.30" fill="#7aa9d4"/><circle cx="472.14" cy="589.22" r="2.10" fill="#4a76b9"/><circle cx="478.41" cy="589.22" r="2.00" fill="#a7d0e5"/><circle cx="484.68" cy="589.22" r="0.80" fill="#4a76b9"/><circle cx="490.95" cy="589.22" r="1.80" fill="#a7d0e5"/><circle cx="497.22" cy="589.22" r="1.30" fill="#d3e8f0"/><circle cx="503.49" cy="589.22" r="1.50" fill="#d3e8f0"/><circle cx="509.76" cy="589.22" r="1.50" fill="#a7d0e5"/><circle cx="516.03" cy="589.22" r="1.30" fill="#a7d0e5"/><circle cx="522.30" cy="589.22" r="0.90" fill="#a7d0e5"/><circle cx="528.57" cy="589.22" r="1.80" fill="#a7d0e5"/><circle cx="534.84" cy="589.22" r="1.50" fill="#a7d0e5"/><circle cx="541.11" cy="589.22" r="1.50" fill="#a7d0e5"/><circle cx="547.38" cy="589.22" r="2.80" fill="#8b0a26"/><circle cx="553.65" cy="589.22" r="3.30" fill="#8b0a26"/><circle cx="559.92" cy="589.22" r="2.40" fill="#8b0a26"/><circle cx="566.19" cy="589.22" r="2.90" fill="#8b0a26"/><circle cx="572.46" cy="589.22" r="3.30" fill="#8b0a26"/><circle cx="578.73" cy="589.22" r="3.30" fill="#8b0a26"/><circle cx="585.00" cy="589.22" r="2.50" fill="#8b0a26"/><circle cx="591.27" cy="589.22" r="2.50" fill="#8b0a26"/><circle cx="597.54" cy="589.22" r="2.00" fill="#8b0a26"/><circle cx="603.81" cy="589.22" r="2.90" fill="#8b0a26"/><circle cx="610.08" cy="589.22" r="2.20" fill="#8b0a26"/><circle cx="616.35" cy="589.22" r="2.50" fill="#8b0a26"/><circle cx="622.62" cy="589.22" r="2.90" fill="#8b0a26"/><circle cx="628.89" cy="589.22" r="2.50" fill="#8b0a26"/><circle cx="334.20" cy="604.90" r="1.20" fill="#d3e8f0"/><circle cx="340.47" cy="604.90" r="1.30" fill="#d3e8f0"/><circle cx="346.74" cy="604.90" r="1.70" fill="#d3e8f0"/><circle cx="353.01" cy="604.90" r="1.40" fill="#d3e8f0"/><circle cx="359.28" cy="604.90" r="1.50" fill="#f3efc0"/><circle cx="365.55" cy="604.90" r="1.40" fill="#a7d0e5"/><circle cx="371.82" cy="604.90" r="1.80" fill="#d3e8f0"/><circle cx="378.09" cy="604.90" r="1.40" fill="#d3e8f0"/><circle cx="384.36" cy="604.90" r="1.20" fill="#d3e8f0"/><circle cx="390.63" cy="604.90" r="1.90" fill="#d3e8f0"/><circle cx="396.90" cy="604.90" r="1.40" fill="#d3e8f0"/><circle cx="403.17" cy="604.90" r="1.90" fill="#d3e8f0"/><circle cx="409.44" cy="604.90" r="1.40" fill="#a7d0e5"/><circle cx="415.71" cy="604.90" r="2.00" fill="#f3efc0"/><circle cx="421.98" cy="604.90" r="3.00" fill="#e9f1ef"/><circle cx="428.25" cy="604.90" r="2.60" fill="#e9f1ef"/><circle cx="434.52" cy="604.90" r="3.30" fill="#f3efc0"/><circle cx="440.79" cy="604.90" r="1.90" fill="#d3e8f0"/><circle cx="447.06" cy="604.90" r="1.90" fill="#d3e8f0"/><circle cx="453.33" cy="604.90" r="1.90" fill="#d3e8f0"/><circle cx="459.60" cy="604.90" r="1.90" fill="#d3e8f0"/><circle cx="465.87" cy="604.90" r="2.70" fill="#f3efc0"/><circle cx="472.14" cy="604.90" r="2.70" fill="#e9f1ef"/><circle cx="478.41" cy="604.90" r="2.20" fill="#e9f1ef"/><circle cx="484.68" cy="604.90" r="1.40" fill="#d3e8f0"/><circle cx="490.95" cy="604.90" r="1.80" fill="#a7d0e5"/><circle cx="497.22" cy="604.90" r="1.30" fill="#d3e8f0"/><circle cx="503.49" cy="604.90" r="1.50" fill="#d3e8f0"/><circle cx="509.76" cy="604.90" r="1.70" fill="#e9f1ef"/><circle cx="516.03" cy="604.90" r="1.40" fill="#d3e8f0"/><circle cx="522.30" cy="604.90" r="1.00" fill="#d3e8f0"/><circle cx="528.57" cy="604.90" r="1.90" fill="#e9f1ef"/><circle cx="534.84" cy="604.90" r="1.90" fill="#e9f1ef"/><circle cx="541.11" cy="604.90" r="1.70" fill="#d3e8f0"/><circle cx="547.38" cy="604.90" r="2.30" fill="#f8b96a"/><circle cx="553.65" cy="604.90" r="2.80" fill="#f28d46"/><circle cx="559.92" cy="604.90" r="2.20" fill="#e8613a"/><circle cx="566.19" cy="604.90" r="2.50" fill="#e8613a"/><circle cx="572.46" cy="604.90" r="3.30" fill="#d3302a"/><circle cx="578.73" cy="604.90" r="3.00" fill="#f28d46"/><circle cx="585.00" cy="604.90" r="2.00" fill="#f8b96a"/><circle cx="591.27" cy="604.90" r="2.00" fill="#fbd98c"/><circle cx="597.54" cy="604.90" r="1.70" fill="#f28d46"/><circle cx="603.81" cy="604.90" r="2.40" fill="#e8613a"/><circle cx="610.08" cy="604.90" r="1.80" fill="#f8b96a"/><circle cx="616.35" cy="604.90" r="2.00" fill="#f8b96a"/><circle cx="622.62" cy="604.90" r="1.70" fill="#e9f1ef"/><circle cx="628.89" cy="604.90" r="1.90" fill="#f3efc0"/><circle cx="334.20" cy="620.58" r="1.20" fill="#d3e8f0"/><circle cx="340.47" cy="620.58" r="1.30" fill="#d3e8f0"/><circle cx="346.74" cy="620.58" r="1.50" fill="#e9f1ef"/><circle cx="353.01" cy="620.58" r="1.50" fill="#f3efc0"/><circle cx="359.28" cy="620.58" r="1.30" fill="#e9f1ef"/><circle cx="365.55" cy="620.58" r="1.40" fill="#d3e8f0"/><circle cx="371.82" cy="620.58" r="1.70" fill="#d3e8f0"/><circle cx="378.09" cy="620.58" r="1.50" fill="#f3efc0"/><circle cx="384.36" cy="620.58" r="1.20" fill="#e9f1ef"/><circle cx="390.63" cy="620.58" r="1.90" fill="#d3e8f0"/><circle cx="396.90" cy="620.58" r="1.40" fill="#d3e8f0"/><circle cx="403.17" cy="620.58" r="1.90" fill="#e9f1ef"/><circle cx="409.44" cy="620.58" r="1.30" fill="#e9f1ef"/><circle cx="415.71" cy="620.58" r="1.50" fill="#a7d0e5"/><circle cx="421.98" cy="620.58" r="2.50" fill="#f3efc0"/><circle cx="428.25" cy="620.58" r="2.10" fill="#e9f1ef"/><circle cx="434.52" cy="620.58" r="3.30" fill="#d3e8f0"/><circle cx="440.79" cy="620.58" r="1.90" fill="#e9f1ef"/><circle cx="447.06" cy="620.58" r="1.90" fill="#e9f1ef"/><circle cx="453.33" cy="620.58" r="1.90" fill="#d3e8f0"/><circle cx="459.60" cy="620.58" r="1.90" fill="#e9f1ef"/><circle cx="465.87" cy="620.58" r="2.50" fill="#f3efc0"/><circle cx="472.14" cy="620.58" r="2.50" fill="#f3efc0"/><circle cx="478.41" cy="620.58" r="2.20" fill="#e9f1ef"/><circle cx="484.68" cy="620.58" r="1.60" fill="#f28d46"/><circle cx="490.95" cy="620.58" r="2.00" fill="#f3efc0"/><circle cx="497.22" cy="620.58" r="1.40" fill="#d3e8f0"/><circle cx="503.49" cy="620.58" r="1.50" fill="#e9f1ef"/><circle cx="509.76" cy="620.58" r="1.50" fill="#e9f1ef"/><circle cx="516.03" cy="620.58" r="1.50" fill="#f3efc0"/><circle cx="522.30" cy="620.58" r="1.20" fill="#e9f1ef"/><circle cx="528.57" cy="620.58" r="2.00" fill="#f3efc0"/><circle cx="534.84" cy="620.58" r="1.80" fill="#e9f1ef"/><circle cx="541.11" cy="620.58" r="1.50" fill="#e9f1ef"/><circle cx="547.38" cy="620.58" r="1.80" fill="#a7d0e5"/><circle cx="553.65" cy="620.58" r="2.30" fill="#a7d0e5"/><circle cx="559.92" cy="620.58" r="1.70" fill="#d3e8f0"/><circle cx="566.19" cy="620.58" r="1.70" fill="#d3e8f0"/><circle cx="572.46" cy="620.58" r="2.30" fill="#a7d0e5"/><circle cx="578.73" cy="620.58" r="2.30" fill="#a7d0e5"/><circle cx="585.00" cy="620.58" r="1.30" fill="#d3e8f0"/><circle cx="591.27" cy="620.58" r="1.50" fill="#e9f1ef"/><circle cx="597.54" cy="620.58" r="1.30" fill="#a7d0e5"/><circle cx="603.81" cy="620.58" r="1.90" fill="#e9f1ef"/><circle cx="610.08" cy="620.58" r="1.50" fill="#d3e8f0"/><circle cx="616.35" cy="620.58" r="1.60" fill="#a7d0e5"/><circle cx="622.62" cy="620.58" r="1.50" fill="#e9f1ef"/><circle cx="628.89" cy="620.58" r="1.50" fill="#7aa9d4"/><path d="M330.7 519 V631.2" stroke="#6b6b6b" stroke-width="0.8" fill="none"/><line x1="327.00" y1="526.50" x2="330.70" y2="526.50" stroke="#6b6b6b" stroke-width="0.8"/><text x="297.10" y="529.80" font-size="9.0" textLength="25.60" lengthAdjust="spacingAndGlyphs">CN1_T</text><circle cx="290.70" cy="526.50" r="3.50" fill="#e3262a" stroke="#555" stroke-width="0.45"/><line x1="327.00" y1="542.18" x2="330.70" y2="542.18" stroke="#6b6b6b" stroke-width="0.8"/><text x="288.50" y="545.48" font-size="9.0" textLength="34.20" lengthAdjust="spacingAndGlyphs">CN2_PC</text><circle cx="282.10" cy="542.18" r="3.50" fill="#f6a540" stroke="#555" stroke-width="0.45"/><line x1="327.00" y1="557.86" x2="330.70" y2="557.86" stroke="#6b6b6b" stroke-width="0.8"/><text x="265.70" y="561.16" font-size="9.0" textLength="57.00" lengthAdjust="spacingAndGlyphs">CN3_Myeloid</text><circle cx="259.30" cy="557.86" r="3.50" fill="#2e3a8f" stroke="#555" stroke-width="0.45"/><line x1="327.00" y1="573.54" x2="330.70" y2="573.54" stroke="#6b6b6b" stroke-width="0.8"/><text x="265.70" y="576.84" font-size="9.0" textLength="57.00" lengthAdjust="spacingAndGlyphs">CN4_Stromal</text><circle cx="259.30" cy="573.54" r="3.50" fill="#ebe524" stroke="#555" stroke-width="0.45"/><line x1="327.00" y1="589.22" x2="330.70" y2="589.22" stroke="#6b6b6b" stroke-width="0.8"/><text x="263.10" y="592.52" font-size="9.0" textLength="59.60" lengthAdjust="spacingAndGlyphs">CN5_Tumor-B</text><circle cx="256.70" cy="589.22" r="3.50" fill="#6cbb5c" stroke="#555" stroke-width="0.45"/><line x1="327.00" y1="604.90" x2="330.70" y2="604.90" stroke="#6b6b6b" stroke-width="0.8"/><text x="271.10" y="608.20" font-size="9.0" textLength="51.60" lengthAdjust="spacingAndGlyphs">CN6_Diffuse</text><circle cx="264.70" cy="604.90" r="3.50" fill="#4dbfea" stroke="#555" stroke-width="0.45"/><line x1="327.00" y1="620.58" x2="330.70" y2="620.58" stroke="#6b6b6b" stroke-width="0.8"/><text x="275.60" y="623.88" font-size="9.0" textLength="47.10" lengthAdjust="spacingAndGlyphs">CN7_Mixed</text><circle cx="269.20" cy="620.58" r="3.50" fill="#d2d2d2" stroke="#555" stroke-width="0.45"/><path d="M331.1 632.4 L412.6 632.4 L378.7 644.3 L278.2 644.3Z" fill="#e6b6ae"/><rect x="331.06" y="630.60" width="81.51" height="2.10" fill="#c9202f"/><text x="284.70" y="650.4" font-size="7.4" text-anchor="end" fill="#d2373f" transform="rotate(-90 284.70 650.4)">CD3D</text><text x="292.43" y="650.4" font-size="7.4" text-anchor="end" fill="#d2373f" transform="rotate(-90 292.43 650.4)">CD3E</text><text x="300.16" y="650.4" font-size="7.4" text-anchor="end" fill="#d2373f" transform="rotate(-90 300.16 650.4)">CD2</text><text x="307.89" y="650.4" font-size="7.4" text-anchor="end" fill="#d2373f" transform="rotate(-90 307.89 650.4)">CD8A</text><text x="315.62" y="650.4" font-size="7.4" text-anchor="end" fill="#d2373f" transform="rotate(-90 315.62 650.4)">GZMB</text><text x="323.35" y="650.4" font-size="7.4" text-anchor="end" fill="#d2373f" transform="rotate(-90 323.35 650.4)">GZMK</text><text x="331.08" y="650.4" font-size="7.4" text-anchor="end" fill="#d2373f" font-style="italic" transform="rotate(-90 331.08 650.4)">NKG7</text><text x="338.81" y="650.4" font-size="7.4" text-anchor="end" fill="#d2373f" font-style="italic" transform="rotate(-90 338.81 650.4)">PRF1</text><text x="346.54" y="650.4" font-size="7.4" text-anchor="end" fill="#d2373f" font-style="italic" transform="rotate(-90 346.54 650.4)">GZMH</text><text x="354.27" y="650.4" font-size="7.4" text-anchor="end" fill="#d2373f" transform="rotate(-90 354.27 650.4)">CXCL9</text><text x="362.00" y="650.4" font-size="7.4" text-anchor="end" fill="#d2373f" transform="rotate(-90 362.00 650.4)">CXCL10</text><text x="369.73" y="650.4" font-size="7.4" text-anchor="end" fill="#d2373f" transform="rotate(-90 369.73 650.4)">CCL5</text><text x="377.46" y="650.4" font-size="7.4" text-anchor="end" fill="#d2373f" transform="rotate(-90 377.46 650.4)">CCL2</text><path d="M412.6 632.4 L437.7 632.4 L409.6 644.3 L378.7 644.3Z" fill="#fbdcb6"/><rect x="412.57" y="630.60" width="25.08" height="2.10" fill="#f0952c"/><text x="385.19" y="650.4" font-size="7.4" text-anchor="end" fill="#f5a340" font-style="italic" transform="rotate(-90 385.19 650.4)">MZB1</text><text x="392.92" y="650.4" font-size="7.4" text-anchor="end" fill="#f5a340" font-style="italic" transform="rotate(-90 392.92 650.4)">IGHG1</text><text x="400.65" y="650.4" font-size="7.4" text-anchor="end" fill="#f5a340" font-style="italic" transform="rotate(-90 400.65 650.4)">IGHG2</text><text x="408.38" y="650.4" font-size="7.4" text-anchor="end" fill="#f5a340" transform="rotate(-90 408.38 650.4)">IGKC</text><path d="M437.7 632.4 L487.8 632.4 L471.5 644.3 L409.6 644.3Z" fill="#b6b6de"/><rect x="437.65" y="630.60" width="50.16" height="2.10" fill="#3b40a0"/><text x="416.11" y="650.4" font-size="7.4" text-anchor="end" fill="#4b52a8" transform="rotate(-90 416.11 650.4)">CD68</text><text x="423.84" y="650.4" font-size="7.4" text-anchor="end" fill="#4b52a8" transform="rotate(-90 423.84 650.4)">C1QA</text><text x="431.57" y="650.4" font-size="7.4" text-anchor="end" fill="#4b52a8" transform="rotate(-90 431.57 650.4)">C1QB</text><text x="439.30" y="650.4" font-size="7.4" text-anchor="end" fill="#4b52a8" transform="rotate(-90 439.30 650.4)">C1QC</text><text x="447.03" y="650.4" font-size="7.4" text-anchor="end" fill="#4b52a8" font-style="italic" transform="rotate(-90 447.03 650.4)">LYZ</text><text x="454.76" y="650.4" font-size="7.4" text-anchor="end" fill="#4b52a8" font-style="italic" transform="rotate(-90 454.76 650.4)">APOE</text><text x="462.49" y="650.4" font-size="7.4" text-anchor="end" fill="#4b52a8" font-style="italic" transform="rotate(-90 462.49 650.4)">APOC1</text><text x="470.22" y="650.4" font-size="7.4" text-anchor="end" fill="#4b52a8" transform="rotate(-90 470.22 650.4)">S100A9</text><path d="M487.8 632.4 L544.2 632.4 L541.1 644.3 L471.5 644.3Z" fill="#f6edc6"/><rect x="487.81" y="630.60" width="56.43" height="2.10" fill="#f3d23a"/><text x="477.95" y="650.4" font-size="7.4" text-anchor="end" fill="#f0cf45" transform="rotate(-90 477.95 650.4)">COL1A1</text><text x="485.68" y="650.4" font-size="7.4" text-anchor="end" fill="#f0cf45" transform="rotate(-90 485.68 650.4)">COL1A2</text><text x="493.41" y="650.4" font-size="7.4" text-anchor="end" fill="#f0cf45" transform="rotate(-90 493.41 650.4)">COL3A1</text><text x="501.14" y="650.4" font-size="7.4" text-anchor="end" fill="#f0cf45" font-style="italic" transform="rotate(-90 501.14 650.4)">FN1</text><text x="508.87" y="650.4" font-size="7.4" text-anchor="end" fill="#f0cf45" font-style="italic" transform="rotate(-90 508.87 650.4)">DCN</text><text x="516.60" y="650.4" font-size="7.4" text-anchor="end" fill="#f0cf45" font-style="italic" transform="rotate(-90 516.60 650.4)">ACTA2</text><text x="524.33" y="650.4" font-size="7.4" text-anchor="end" fill="#f0cf45" font-style="italic" transform="rotate(-90 524.33 650.4)">TIMP1</text><text x="532.06" y="650.4" font-size="7.4" text-anchor="end" fill="#f0cf45" transform="rotate(-90 532.06 650.4)">COL6A1</text><text x="539.79" y="650.4" font-size="7.4" text-anchor="end" fill="#f0cf45" transform="rotate(-90 539.79 650.4)">COL6A2</text><path d="M544.2 632.4 L632.0 632.4 L649.3 644.3 L541.1 644.3Z" fill="#c3dcc4"/><rect x="544.25" y="630.60" width="87.78" height="2.10" fill="#1e9a48"/><text x="547.52" y="650.4" font-size="7.4" text-anchor="end" fill="#2e9a55" transform="rotate(-90 547.52 650.4)">CD79A</text><text x="555.25" y="650.4" font-size="7.4" text-anchor="end" fill="#2e9a55" font-style="italic" transform="rotate(-90 555.25 650.4)">MS4A1</text><text x="562.98" y="650.4" font-size="7.4" text-anchor="end" fill="#2e9a55" transform="rotate(-90 562.98 650.4)">CD19</text><text x="570.71" y="650.4" font-size="7.4" text-anchor="end" fill="#2e9a55" font-style="italic" transform="rotate(-90 570.71 650.4)">TCL1A</text><text x="578.44" y="650.4" font-size="7.4" text-anchor="end" fill="#2e9a55" font-style="italic" transform="rotate(-90 578.44 650.4)">IGHM</text><text x="586.17" y="650.4" font-size="7.4" text-anchor="end" fill="#2e9a55" transform="rotate(-90 586.17 650.4)">CD37</text><text x="593.90" y="650.4" font-size="7.4" text-anchor="end" fill="#2e9a55" transform="rotate(-90 593.90 650.4)">STMN1</text><text x="601.63" y="650.4" font-size="7.4" text-anchor="end" fill="#2e9a55" transform="rotate(-90 601.63 650.4)">TYMS</text><text x="609.36" y="650.4" font-size="7.4" text-anchor="end" fill="#2e9a55" font-style="italic" transform="rotate(-90 609.36 650.4)">TOP2A</text><text x="617.09" y="650.4" font-size="7.4" text-anchor="end" fill="#2e9a55" font-style="italic" transform="rotate(-90 617.09 650.4)">BCL2</text><text x="624.82" y="650.4" font-size="7.4" text-anchor="end" fill="#2e9a55" font-style="italic" transform="rotate(-90 624.82 650.4)">BTK</text><text x="632.55" y="650.4" font-size="7.4" text-anchor="end" fill="#2e9a55" font-style="italic" transform="rotate(-90 632.55 650.4)">SYK</text><text x="640.28" y="650.4" font-size="7.4" text-anchor="end" fill="#2e9a55" transform="rotate(-90 640.28 650.4)">CD24</text><text x="648.01" y="650.4" font-size="7.4" text-anchor="end" fill="#2e9a55" transform="rotate(-90 648.01 650.4)">CD52</text><path d="M282 644.3 L330.3 632.4" stroke="#9a9a9a" stroke-width="0.5"/><text x="645.70" y="529.90" font-size="9.0" textLength="39.30" lengthAdjust="spacingAndGlyphs">Pct. exp.</text><defs><linearGradient id="rdylbu" x1="0" y1="0" x2="0" y2="1"><stop offset="0" stop-color="#a50026"/><stop offset="0.18" stop-color="#d73027"/><stop offset="0.33" stop-color="#f46d43"/><stop offset="0.45" stop-color="#fdd38a"/><stop offset="0.57" stop-color="#fbf8d8"/><stop offset="0.72" stop-color="#d4ebf2"/><stop offset="0.86" stop-color="#9dcbe2"/><stop offset="1" stop-color="#4a7ab8"/></linearGradient></defs><rect x="648.10" y="535.30" width="6.30" height="31.60" fill="url(#rdylbu)"/><line x1="654.40" y1="540.20" x2="656.00" y2="540.20" stroke="#555" stroke-width="0.6"/><text x="659.70" y="543.30" font-size="8.6">1.0</text><line x1="654.40" y1="553.20" x2="656.00" y2="553.20" stroke="#555" stroke-width="0.6"/><text x="659.70" y="556.30" font-size="8.6">0</text><line x1="654.40" y1="564.00" x2="656.00" y2="564.00" stroke="#555" stroke-width="0.6"/><text x="658.50" y="567.10" font-size="8.6">−1.0</text><text x="645.00" y="586.90" font-size="9.0" textLength="40.00" lengthAdjust="spacingAndGlyphs">Avg. exp.</text><circle cx="649.90" cy="598.40" r="1.25" fill="#111"/><text x="657.60" y="601.50" font-size="8.6">10</text><circle cx="649.90" cy="609.70" r="2.20" fill="#111"/><text x="657.60" y="612.80" font-size="8.6">30</text><circle cx="649.90" cy="623.00" r="3.00" fill="#111"/><text x="657.60" y="626.10" font-size="8.6">50</text><text x="0.00" y="702.50" font-size="14" fill="#111" font-weight="bold">g</text><defs><path id="sp1" d="M-1 0.5H90V1.5H-1V2.5H90V3.5H-1V4.5H90V5.5H-1V6.5H90V7.5H-1V8.5H90V9.5H-1V10.5H90V11.5H-1V12.5H90V13.5H-1V14.5H90V15.5H-1V16.5H90V17.5H-1V18.5H90V19.5H-1V20.5H90V21.5H-1V22.5H90V23.5H-1V24.5H90V25.5H-1V26.5H90V27.5H-1V28.5H90V29.5H-1V30.5H90V31.5H-1V32.5H90V33.5H-1V34.5H90V35.5H-1V36.5H90V37.5H-1V38.5H90V39.5H-1V40.5H90V41.5H-1V42.5H90V43.5H-1V44.5H90V45.5H-1V46.5H90V47.5H-1V48.5H90V49.5H-1V50.5H90V51.5H-1V52.5H90V53.5H-1V54.5H90V55.5H-1V56.5H90V57.5H-1V58.5H90V59.5H-1V60.5H90V61.5H-1V62.5H90V63.5H-1V64.5H90V65.5H-1V66.5H90V67.5H-1V68.5H90V69.5H-1V70.5H90V71.5H-1V72.5H90V73.5H-1V74.5H90V75.5H-1V76.5H90V77.5H-1V78.5H90V79.5H-1V80.5H90V81.5H-1V82.5H90V83.5H-1V84.5H90V85.5H-1V86.5H90V87.5H-1V88.5H90" fill="none" stroke-width="1"/><path id="sp2" d="M-1 0.5H90V1.5H-1V2.5H90V3.5H-1V4.5H90V5.5H-1V6.5H90V7.5H-1V8.5H90V9.5H-1V10.5H90V11.5H-1V12.5H90V13.5H-1V14.5H90V15.5H-1V16.5H90V17.5H-1V18.5H90V19.5H-1V20.5H90V21.5H-1V22.5H90V23.5H-1V24.5H90V25.5H-1V26.5H90V27.5H-1V28.5H90V29.5H-1V30.5H90V31.5H-1V32.5H90V33.5H-1V34.5H90V35.5H-1V36.5H90V37.5H-1V38.5H90V39.5H-1V40.5H90V41.5H-1V42.5H90V43.5H-1V44.5H90V45.5H-1V46.5H90V47.5H-1V48.5H90V49.5H-1V50.5H90V51.5H-1V52.5H90V53.5H-1V54.5H90V55.5H-1V56.5H90V57.5H-1V58.5H90V59.5H-1V60.5H90V61.5H-1V62.5H90V63.5H-1V64.5H90V65.5H-1V66.5H90V67.5H-1V68.5H90V69.5H-1V70.5H90V71.5H-1V72.5H90V73.5H-1V74.5H90V75.5H-1V76.5H90V77.5H-1V78.5H90V79.5H-1V80.5H90V81.5H-1V82.5H90V83.5H-1V84.5H90V85.5H-1V86.5H90V87.5H-1V88.5H90" fill="none" stroke-width="1"/></defs><g transform="translate(15.00 711.00) scale(1.00000 1.00000)"><rect width="89" height="89" fill="#e3262a"/><use href="#sp1" stroke="#3a4fb0" stroke-dasharray="0 34 4 3 1 1 3 91 2 5 5 1 1 65 4 2 1 105 1 1 1 1 1 10 1 46 3 122 1 173 1 353 1 1 1 114 1 1 3 38 1 23 3 52 1 62 2 58 1 6 2 107 1 9 1 63 2 4 3 102 6 2 2 64 6 2 1 59 1 35 1 6 7 1 1 60 1 3 6 9 1 85 4 8 5 23 1 15 1 2 1 1 1 23 3 134 3 3 2 7 4 3 5 69 1 41 1 42 6 11 2 6 6 151 1 1 6 6 2 3 3 6 7 108 1 45 2 3 6 3 2 2 1 118 2 50 1 1 1 2 1 3 2 3 1 51 1 78 1 3 2 34 1 1 1 1 1 7 1 3 1 28 4 3 1 95 4 2 2 67 1 1 1 2 2 26 1 18 2 62 1 77 1 10 1 47 1 25 2 13 1 86 1 7 2 25 1 20 2 33 2 8 2 52 1 28 1 33 3 2 1 12 1 1 3 1 1 68 2 19 1 73 4 9 4 6 1 66 1 25 1 62 8 10 7 2 2 61 1 1 1 22 1 5 1 60 5 2 3 1 2 7 4 68 7 3 1 2 1 5 1 1 5 1 5 156 1 1 2 2 1 1 1 5 1 7 1 77 1 91 1 378 2 11 1 154 1 13 4 146 1 59 1 109 1 8 1 2 2 56 2 20 4 77 4 6 2 10 1 1 1 51 3 3 2 1 5 11 1 1 3 1 1 79 1 1 2 2 1 7 6 1 1 1 1 1 2 48 1 1 3 1 7 1 1 7 5 77 2 2 6 6 1 3 1 1 1 3 5 49 9 1 1 10 11 72 10 1 1 8 6 1 1 54 9 10 9 1 4 1 1 19 2 39 2 3 2 1 9 11 10 51 1 2 5 12 10 7 1 59 1 3 8 1 1 12 5 60 3 3 1 8 1 1 3 1 4 4 1 5 1 51 1 5 7 1 1 2 1 1 1 9 5 57 1 7 3 8 1 1 1 2 1 2 2 1 7 2 1 55 11 5 1 94 1 1 1 3 10 58 8 1 6 96 1 1 14 57 4 1 2 2 8 92 6 1 1 4 1 3 2 65 9 94 1 5 1 1 3 3 1 33 1 26 8 2 1 1 1 1 2 45"/><use href="#sp1" stroke="#4bbfe9" stroke-dasharray="0 31 1 119 1 438 1 106 1 526 1 122 1 1 3 1 1 52 1 1 1 1 2 117 2 1 5 52 5 118 1 5 2 59 1 118 1 56 2 4 1 120 1 8 2 54 3 12 1 100 1 1 3 63 1 3 1 4 1 106 3 68 2 520 1 446 1 193 2 172 1 5 1 9 2 165 1 11 1 23 1 46 1 28 2 75 1 5 2 99 1 18 1 56 1 2 1 3 3 30 1 44 1 23 1 44 1 11 1 17 1 2 1 3 3 16 2 138 1 1 2 14 4 3 4 163 2 7 3 1 1 3 7 168 6 3 6 1 1 73 1 94 2 10 1 290 1 58 1 24 1 303 1 513 1 1 1 174 1 1 1 103 1 46 1 69 1 45 4 10 1 1 11 41 1 68 3 40 12 7 12 154 9 9 9 157 1 1 6 8 1 1 1 1 9 13 1 128 1 11 3 1 5 4 1 3 1 3 1 1 5 1 1 13 1 128 1 11 6 1 4 2 1 6 1 1 1 3 3 1 1 3 1 144 1 5 3 5 2 6 2 1 2 3 4 1 1 4 1 71"/><use href="#sp1" stroke="#d2d2d2" stroke-dasharray="0 1208 1 139 1 17 2 24 1 10 1 3 1 1 1 127 2 535 1 788 1 31 1 95 1 87 1 95 1 359 3 84 3 109 2 72 1 89 1 1 1 209 2 58 1 131 1 17 1 5 1 256 1 30 2 151 2 29 2 359 1 168 1 13 2 1270 1 18 1 301 1 111 1 60 1 134 1 154 1 1 1 98 1 1 2 84 1 94 1 1 1 502"/><use href="#sp1" stroke="#ece31c" stroke-dasharray="0 2166 2 80 1 3 1 603 1 172 1 829 2 4 1 168 1 25 1 81 1 86 1 181 2 176 1 19 1 163 2 14 1 170 1 1165 1 372 3 63 1 1 1 566 1 81 2 969"/><use href="#sp1" stroke="#161616" stroke-dasharray="0 24 2 38 1 2 1 33 1 1 2 15 1 15 1 21 1 4 1 7 4 17 1 1 2 3 2 13 2 30 1 9 1 3 2 21 1 5 2 11 1 23 1 8 1 15 1 80 3 9 2 5 2 2 1 7 1 5 1 4 2 9 1 55 1 33 1 1 2 34 2 1 2 5 2 2 2 3 2 24 3 2 1 8 1 31 2 2 1 12 1 28 1 3 2 6 2 7 1 2 2 27 1 7 2 32 1 5 1 18 2 8 1 1 1 6 4 18 3 12 4 15 2 3 2 5 2 17 1 16 1 34 2 12 1 39 1 9 2 5 1 13 5 27 1 32 1 5 1 19 1 4 1 4 2 9 2 15 1 22 1 6 2 2 1 21 1 10 1 6 2 10 3 1 1 26 3 3 1 2 3 18 3 4 3 20 1 21 4 3 2 10 3 16 3 17 1 1 1 39 1 8 6 2 2 8 1 2 2 10 1 1 1 11 2 48 1 4 1 16 1 5 1 37 1 13 3 3 1 6 2 15 1 13 2 13 1 25 1 6 1 38 1 1 2 16 1 29 1 9 1 7 1 2 1 3 1 2 1 16 2 17 2 4 1 17 1 7 1 37 1 7 2 37 2 2 1 1 1 3 1 32 4 5 1 16 1 4 1 1 1 10 2 1 4 16 1 3 2 8 1 10 1 6 2 7 2 14 2 13 2 8 1 26 1 5 2 98 1 42 1 5 1 3 1 6 2 14 3 6 2 5 1 29 1 7 1 7 2 32 1 2 1 4 2 9 1 2 4 2 2 6 1 17 1 3 1 6 1 6 3 30 4 7 1 9 1 13 1 37 1 7 1 8 1 10 1 11 1 1 1 9 1 6 3 6 4 19 1 2 2 10 1 8 1 22 1 1 1 1 1 3 1 10 2 7 1 30 1 2 1 7 1 7 1 2 1 21 2 8 4 8 1 3 2 6 1 12 4 33 4 4 1 1 1 7 1 1 2 23 1 9 2 1 1 3 2 2 1 8 2 18 2 10 1 1 1 3 2 18 1 11 2 4 3 10 1 15 2 2 2 7 2 3 1 33 1 5 1 12 3 3 2 23 1 2 2 5 1 4 1 13 2 23 1 5 5 7 2 5 2 7 2 4 1 18 2 17 1 6 3 7 1 4 1 4 2 2 1 14 2 3 4 1 1 8 2 11 1 9 2 8 1 13 1 3 2 11 1 6 2 3 1 3 2 1 5 14 3 13 1 1 1 14 4 7 1 5 2 3 2 26 1 3 2 7 1 20 1 28 1 10 4 1 1 4 1 2 1 2 2 38 1 2 2 11 1 16 2 2 1 17 2 30 2 23 1 4 1 2 1 14 2 4 1 19 1 26 1 16 1 11 1 23 4 2 1 15 3 3 2 28 1 7 1 5 1 3 1 6 1 1 4 5 5 12 1 4 6 6 2 11 2 29 3 4 1 10 2 26 1 5 1 1 1 31 2 5 2 9 2 45 1 19 2 19 1 7 2 20 1 1 3 3 1 19 2 3 1 13 1 3 2 19 1 17 1 1 1 47 1 6 1 4 1 41 1 31 1 10 2 1 1 13 1 2 3 12 2 16 2 12 1 1 1 11 1 6 1 29 1 6 2 15 1 3 1 5 1 6 3 2 2 4 5 59 1 3 1 4 1 6 4 9 5 4 1 4 1 3 2 16 1 23 1 7 2 3 1 4 1 1 1 1 1 10 3 48 1 39 1 5 1 7 1 24 1 10 1 5 1 8 1 3 1 11 4 24 1 11 1 7 2 5 1 7 2 36 1 45 1 26 1 5 1 8 1 5 1 10 1 9 1 8 1 7 1 32 1 7 2 7 1 5 2 2 1 20 1 24 1 2 1 18 1 15 1 4 1 10 1 37 1 16 1 1 1 2 2 4 1 2 2 7 1 7 1 10 2 4 1 3 2 1 2 19 1 1 1 7 1 5 2 3 1 9 1 8 2 5 1 20 2 6 2 4 1 8 1 12 1 8 1 9 2 33 2 4 1 37 1 12 1 5 1 8 2 5 1 2 1 19 1 5 4 8 1 7 1 11 2 7 1 18 1 10 2 6 1 8 1 3 1 28 1 7 5 5 1 6 1 2 2 11 1 54 2 6 1 5 4 2 1 6 1 6 1 36 2 6 3 5 1 12 1 15 1 3 1 35 1 13 1 7 1 28 1 31 1 3 1 17 1 2 1 15 1 17 2 6 1 5 4 10 2 24 3 4 1 7 3 16 1 9 1 5 1 2 2 22 1 6 1 26 1 16 1 10 1 7 1 8 3 12 2 1 1 3 2 3 1 9 1 5 1 2 1 42 2 17 1 49 4 18 1 36 2 1 1 5 3 8 1 8 1 28 1 11 7 11 2 17 1 16 4 5 1 1 1 52 1 1 1 33 2 5 1 14 1 53 1 1 2 10 1 3 2 37 1 11 2 13 1 1 2 41 1 33 1 24 1 12 2 12 1 15 1 21 2 10 1 33 1 16 1 27 1 16 1 30 1 7 1 5 1 1 2 5 2 8 1 6 1 54 1 40 2 3 2 21 1 8 1 4 1 5 1 15 2 4 3 1 1 7 1 5 2 2 3 6 2 16 1 10 2 7 1 3 2 3 1 5 1 7 1 3 2 3 2 25 1 2 1 9 3 13 2 2 1 3 3 5 1 1 1 2 3 8 1 6 1 6 1 3 1 13 2 11 2 26 2 3 1 4 1 1"/></g><rect x="15.00" y="711.00" width="20.80" height="9.40" fill="#1a1a1a"/><text x="17.00" y="719.20" font-size="8.3" fill="#fff">CN1</text><g transform="translate(110.00 711.00) scale(1.00000 1.00000)"><rect width="89" height="89" fill="#f5a540"/><use href="#sp1" stroke="#4bbfe9" stroke-dasharray="0 102 1 1 5 42 1 1 1 58 2 2 1 41 8 18 1 3 2 1 1 11 2 33 1 92 3 9 4 25 2 1 2 4 1 3 2 66 3 59 1 1 2 1 8 1 2 24 10 1 4 6 1 55 2 3 2 63 3 1 7 1 3 14 1 6 5 1 2 1 2 1 2 1 3 55 1 4 2 3 4 48 1 9 2 2 3 1 11 5 1 6 3 4 12 3 2 1 4 5 2 49 3 3 5 1 1 3 4 45 9 2 3 1 3 2 2 5 1 1 1 3 4 3 1 8 1 2 2 2 6 6 1 38 3 1 4 1 6 3 6 1 2 1 5 37 2 5 5 4 1 4 1 10 3 1 1 3 1 1 1 9 2 11 2 1 1 4 6 38 3 1 1 2 1 1 1 1 1 3 1 5 5 38 3 1 1 7 3 4 1 17 3 3 2 23 5 5 1 2 1 1 2 36 3 1 1 5 1 3 1 5 4 36 1 1 2 2 1 7 4 22 3 3 4 32 1 2 3 2 2 31 3 1 1 17 6 30 8 29 1 4 1 12 1 30 1 1 7 3 1 25 7 2 1 13 1 1 2 1 3 29 2 1 6 29 1 48 8 29 2 1 6 15 8 27 3 1 3 117 3 1 2 21 6 151 2 1 3 19 7 1 1 151 1 1 1 1 3 17 2 1 4 1 1 10 1 113 1 15 2 7 1 1 5 21 2 1 1 30 2 58 1 32 3 32 2 13 1 1 1 4 1 20 2 9 5 83 1 2 1 2 6 2 1 4 2 27 2 5 5 5 1 18 1 8 1 1 2 1 1 69 1 15 1 8 4 1 2 4 2 19 2 5 3 6 1 6 1 12 1 3 2 6 1 1 3 99 1 2 3 1 11 2 2 46 2 1 1 2 1 1 6 2 6 93 1 1 11 1 1 2 4 4 1 37 2 5 3 3 1 1 11 1 1 89 1 5 13 4 3 4 3 8 1 14 1 1 2 8 2 5 1 3 1 1 10 1 2 1 1 1 1 87 1 2 3 1 16 1 7 3 5 1 1 17 1 1 2 3 9 1 2 2 1 1 11 98 9 5 10 7 1 28 12 5 9 51 1 40 14 7 1 3 5 35 10 2 2 2 1 1 8 1 1 1 1 93 8 1 4 2 2 2 2 1 6 32 1 1 3 1 4 2 11 2 2 2 1 93 1 2 2 1 4 1 1 3 2 1 1 1 2 4 1 1 2 38 9 1 1 1 8 96 1 2 1 1 3 2 7 1 4 47 3 3 11 1 1 100 3 1 8 4 1 50 1 3 11 4 2 8 2 71 1 10 17 55 4 1 8 1 3 96 1 1 2 2 7 2 1 59 8 4 2 95 2 1 3 3 2 23 1 15 1 1 1 22 1 2 1 3 4 1 3 94 1 2 2 1 2 2 1 21 1 3 5 7 8 26 6 97 3 3 1 22 1 1 11 3 3 2 4 1 3 23 1 3 1 95 2 1 1 3 1 23 5 1 8 3 1 1 1 1 8 156 6 4 3 3 3 5 5 29 2 35 1 21 1 35 3 30 1 6 4 3 1 1 5 1 1 1 1 25 1 4 1 127 12 3 7 2 4 155 13 3 12 105 1 52 11 4 2 1 7 74 1 8 3 68 2 1 9 2 1 4 1 3 2 1 3 2 1 2 1 157 8 4 2 1 1 2 2 5 1 5 3 52 1 83 2 12 1 2 5 3 3 1 1 13 3 53 1 2 1 82 5 9 1 1 5 17 7 50 2 17"/><use href="#sp1" stroke="#d2d2d2" stroke-dasharray="0 480 1 124 2 74 1 46 1 1 1 8 3 58 1 70 2 40 2 12 1 38 1 91 1 32 1 22 1 34 1 91 1 114 1 1 1 42 1 55 1 8 1 8 4 63 1 97 2 6 1 21 2 32 1 68 1 42 1 6 3 5 3 10 4 6 2 48 2 17 3 9 4 17 3 44 1 12 1 12 2 61 1 15 3 10 2 15 1 1 1 240 1 4 4 11 1 163 1 176 1 19 2 13 1 21 1 46 3 90 2 5 3 38 1 96 1 8 1 27 1 40 1 14 1 681 1 1 1 88 1 310 1 120 1 3 1 183 2 55 1 720 1 157 2 17 1 4 3 26 1 103 2 25 3 4 1 9 1 1 1 1 1 13 1 16 1 1 2 94 1 8 2 14 1 13 7 4 3 3 2 26 1 10 1 86 2 11 2 36 1 27 3 50 2 68 5 54 3 12 2 95 1 1 2 2 1 52 1 23 3 52 1 44 1 131 2 7 1 8 1 31 2 8 1 25 2 20 1 66 1 1 2 21 3 1 1 27 2 62 1 61 1 1 1 1 2 16 4 2 3 150 2 4 3 1 2 16 2 5 1 149 1 3 1 2 2 11 1 4 1 1 1 2 2 159 1 5 1 6 1 4 1 69 3 30 2 42 2 18 1 29 1 2 1 47 5 31 4 44 1 1 1 8 1 8 1 15 1 8 1 1 1 55 1 61 1 25 1 20"/><use href="#sp1" stroke="#e3262a" stroke-dasharray="0 4 1 174 1 106 1 160 2 186 1 89 3 15 1 2 2 104 1 54 4 1 1 12 2 1 3 54 2 48 1 2 1 50 2 1 6 12 1 1 2 42 3 55 1 4 1 13 3 43 1 81 1 46 1 46 1 30 1 152 1 9 1 9 1 1 1 40 1 88 1 42 4 4 2 83 2 89 4 3 2 1 1 174 3 3 2 1 2 168 1 12 2 1 3 165 1 1 1 10 3 56 2 113 1 1 1 146 3 29 1 6 1 3 1 6 2 26 4 38 1 26 2 34 1 1 1 1 3 26 1 5 2 3 1 35 4 34 2 38 1 27 1 1 1 88 2 320 1 92 2 78 2 89 1 113 4 12 1 154 1 11 3 15 1 11 2 44 1 47 3 30 1 56 2 43 1 128 1 298 1 68 1 121 1 55 1 112 2 269 1 94 1 116 1 69 1 83 1 94 1 92 2 90 1 91 1 5 1 169 1 107 1 119 2 85 3 25 2 29 1 95 2 22 1 5 1 56 1 4 1 223 1 282 1 1 1 9 1 152 1 28 2 154 3 19 2 2 5 153 5 3 1 10 1 1 3 2 5 76"/><use href="#sp1" stroke="#6fbb5e" stroke-dasharray="0 370 1 177 1 239 2 75 1 108 1 72 1 311 2 38 1 155 1 1 2 8 3 14 1 22 1 117 2 41 2 91 1 47 2 42 1 342 1 240 1 76 1 105 1 269 3 86 2 94 1 56 1 29 2 126 2 58 1 20 2 120 1 789 2 61 2 120 1 183 1 998 1 719 3 251 1 223 1 23 1 1 1 31 2 139 1 410 1 150 1 476"/><use href="#sp1" stroke="#3a4fb0" stroke-dasharray="0 471 1 1012 2 123 2 31 1 57 2 513 1 167 1 183 1 4 1 178 2 11 3 31 1 137 2 11 2 2425 1 133 1 17 2 392 1 899 1 79 1 73 1 102 1 418 2 294 1 392"/><use href="#sp1" stroke="#161616" stroke-dasharray="0 2 1 12 1 4 1 13 1 21 1 10 1 6 2 4 1 42 1 24 1 8 4 1 1 9 1 4 1 2 1 13 2 4 2 3 1 4 1 6 1 12 2 1 1 18 1 3 1 28 1 1 1 2 1 3 1 1 1 12 1 9 2 6 1 14 1 12 1 9 1 28 1 2 2 3 4 6 1 11 2 12 1 10 1 11 1 12 1 8 2 2 1 18 1 3 1 13 1 12 2 6 1 18 1 11 1 20 2 20 1 8 1 19 1 1 1 1 1 12 1 5 1 13 1 7 1 37 1 10 1 1 2 8 1 5 1 1 1 21 1 20 1 7 1 6 1 1 1 20 1 2 1 2 1 13 2 10 1 17 2 9 1 10 1 15 1 7 3 10 1 12 1 3 2 19 1 29 1 12 2 24 1 1 1 10 1 9 1 15 1 44 3 4 1 1 1 6 1 2 1 10 2 3 1 3 2 3 1 4 1 12 1 1 6 2 1 2 1 7 1 18 2 5 1 14 3 4 1 20 1 2 1 8 1 6 1 1 1 5 2 29 1 10 2 1 3 2 1 3 1 5 1 8 1 8 1 4 1 26 1 1 2 15 1 4 1 4 1 1 1 4 1 5 1 12 2 18 1 2 2 5 1 3 1 3 1 1 1 12 1 6 1 1 1 25 1 2 1 22 2 1 1 8 1 6 1 6 1 18 1 3 3 5 1 1 1 1 1 4 3 6 1 20 1 17 2 10 1 3 1 1 1 3 1 4 1 16 1 3 2 2 1 9 2 13 1 5 1 5 1 14 2 8 1 11 1 17 1 8 1 10 1 1 1 70 1 12 1 5 1 19 2 7 1 14 1 11 1 4 1 2 1 7 4 3 1 4 1 1 1 1 2 9 1 23 1 1 2 1 4 8 1 8 1 4 1 7 1 30 2 1 1 5 1 1 1 8 1 1 1 7 1 6 2 8 1 24 1 12 1 37 2 16 1 6 1 4 2 20 2 5 2 6 1 18 1 4 1 5 2 8 1 2 1 28 1 3 1 24 1 16 1 1 1 6 1 12 1 9 1 33 1 22 1 7 3 10 2 7 1 9 1 11 1 7 1 14 1 14 1 1 1 3 1 26 1 1 1 27 1 3 2 21 1 1 1 1 1 1 1 6 1 12 1 2 1 4 1 10 1 62 1 5 1 13 1 30 1 4 1 19 1 9 1 20 1 7 1 2 1 16 1 8 1 22 1 1 1 38 1 28 1 1 1 5 1 19 1 17 1 4 1 15 1 4 1 5 1 17 2 32 2 24 1 27 1 8 1 15 1 8 1 4 1 9 1 2 1 11 1 10 1 1 1 1 2 1 1 2 1 4 1 49 1 1 1 21 1 2 1 2 1 14 1 2 1 5 1 13 2 23 3 19 4 3 1 3 3 2 1 14 1 1 1 19 1 5 1 7 1 3 1 16 1 2 1 16 1 2 2 3 1 25 1 6 1 7 2 4 1 1 1 3 1 7 1 4 2 8 2 16 2 8 1 12 1 10 1 9 1 6 1 3 1 11 1 3 1 5 1 3 1 2 1 11 1 8 1 7 1 7 1 38 1 11 1 28 1 3 1 5 2 4 1 40 2 7 2 39 1 1 1 9 1 2 1 11 1 3 1 14 1 6 3 35 1 11 4 9 1 29 1 16 1 8 2 5 1 1 1 3 1 13 1 36 1 6 2 18 2 6 2 3 1 9 1 21 1 1 1 6 1 1 1 9 1 24 1 34 1 35 2 7 1 33 2 4 2 11 1 34 2 2 1 3 3 9 1 17 1 27 1 10 1 1 1 1 1 21 1 11 2 6 1 7 1 4 1 6 1 9 1 1 1 9 1 5 3 8 1 19 1 32 1 21 2 3 1 1 2 8 1 17 1 4 4 4 1 6 1 2 1 6 2 10 1 7 1 4 1 6 1 1 1 5 1 6 3 2 1 12 1 1 1 3 1 3 2 18 1 16 1 18 1 1 1 6 1 5 1 17 1 2 1 1 2 49 1 2 1 3 2 13 1 3 1 46 1 11 1 1 3 3 1 11 1 12 1 5 1 6 1 7 1 8 2 1 1 4 1 10 1 4 2 1 4 1 1 3 1 5 1 8 1 6 1 4 1 7 1 25 1 24 3 9 1 5 1 8 2 4 1 12 1 20 1 12 1 7 1 4 1 37 2 1 1 15 1 22 1 23 1 7 1 6 1 2 1 7 3 17 3 3 2 2 1 8 1 3 2 2 1 4 3 1 1 3 1 11 1 11 1 8 1 1 1 14 1 1 2 19 1 9 1 5 1 18 1 3 2 8 1 3 1 2 1 17 2 12 1 13 1 6 1 8 1 2 3 3 2 6 1 9 1 10 1 4 1 4 1 14 1 4 2 2 1 9 1 9 1 9 1 7 2 19 2 9 3 7 2 7 1 5 2 5 1 2 2 2 1 13 1 11 1 1 3 5 1 14 2 7 1 3 1 26 3 1 1 5 1 1 1 34 1 1 1 9 1 14 1 4 1 4 2 6 1 5 1 13 1 6 1 17 2 4 1 8 1 16 1 1 2 7 1 14 1 2 1 6 2 6 1 5 2 6 4 8 1 3 1 1 1 3 1 8 1 1 1 4 2 12 1 3 1 7 2 4 1 8 1 12 1 10 1 7 2 5 1 5 3 4 5 2 1 1 1 7 1 11 1 7 1 8 2 10 2 6 1 16 1 2 1 1 2 2 1 2 2 1 1 3 2 2 2 1 1 3 1 5 2 44 1 1 1 3 1 3 3 2 2 1 3 2 1 9 1 6 2 6 1 3 1 2 1 1 1 8 1 4 2 13 1 10 1 5 2 15 1 2 1 2 1 1 2 34 1 5 1 6 1 1 1 4 3 5 1 2 2 36 1 4 1 1 1 2 1 4 1 6 1 1 2 2 1 5 1 5 1 1 1 7 1 5 1 3 2 16 1 2 1 7 1 5 1 25 2 13 1 1 2 4 1 2 1 10 1 5 1 3 1 13 1 4 1 2 1 1 1 2 2 2 1 1 1 4 5 4 2 3 1 2 2 4 1 30 1 3 1 5 1 2 1 3 1 36 3 11 1 11 1 17 2 9 1 2 4 3 1 2 2 2 1 4 7 2 5 1 1 1 1 7 1 21 1 8 2 8 1 24 1 2 1 16 1 1 1 3 1 6 1 3 1 30 2 2 1 1 3 1 2 2 3 1 3 3 1 4 1 1 1 1 2 2 1 2 1 4 1 18 1 8 3 1 1 21 1 9 2 1 1 5 1 3 1 4 1 11 1 10 1 4 1 14 1 1 1 12 1 1 1 3 5 1 4 2 2 5 4 1 11 1 2 43 1 3 1 6 1 19 1 1 2 3 1 2 1 5 1 3 1 1 1 11 1 25 1 3 1 2 5 1 5 2 4 6 4 1 10 1 1 2 2 41 2 4 1 12 2 11 1 17 1 16 1 10 1 8 1 7 7 2 2 1 4 1 3 1 2 5 4 2 7 3 3 53 1 18 1 1 1 31 1 1 1 21 1 4 1 3 1 1 1 2 11 6"/></g><rect x="110.00" y="711.00" width="20.80" height="9.40" fill="#1a1a1a"/><text x="112.00" y="719.20" font-size="8.3" fill="#fff">CN2</text><g transform="translate(204.00 711.00) scale(1.00000 1.00000)"><rect width="89" height="89" fill="#3a4fb0"/><use href="#sp1" stroke="#4bbfe9" stroke-dasharray="0 50 1 3 2 1 3 10 2 37 1 13 4 1 1 1 1 1 2 1 1 1 1 90 3 3 1 2 1 1 5 10 2 1 1 23 1 8 5 1 1 9 6 2 2 5 3 1 1 68 1 11 1 3 2 1 2 7 4 1 3 8 5 5 4 13 4 2 1 1 4 3 1 5 12 1 2 4 1 3 3 1 1 8 1 1 2 52 1 12 3 17 12 1 6 3 3 1 1 13 3 4 16 17 5 1 5 5 2 60 4 4 2 1 1 17 5 1 10 2 3 16 5 2 3 1 4 24 4 1 1 2 4 66 8 1 4 25 7 2 6 2 1 8 1 1 2 1 2 1 9 10 3 9 7 2 1 2 4 65 1 1 2 4 8 9 4 10 5 1 2 1 1 1 1 2 1 12 1 2 1 2 2 3 2 10 5 2 1 6 9 79 4 1 4 3 1 2 2 3 2 4 1 6 2 2 4 1 4 12 10 3 2 1 1 1 1 9 1 2 1 1 3 2 1 2 6 79 13 1 3 16 1 4 9 12 9 24 4 2 5 1 1 25 1 52 1 1 7 1 2 1 1 26 2 2 3 13 4 2 2 25 4 1 2 1 6 50 1 26 2 3 2 2 2 2 1 29 3 2 1 13 2 29 2 2 2 6 1 20 1 21 1 15 2 27 4 25 1 2 1 1 4 1 2 5 9 1 2 1 2 21 1 4 3 25 3 20 1 73 2 1 12 3 13 57 2 16 1 19 3 10 1 46 13 4 8 49 5 1 1 2 1 1 4 34 7 2 8 48 2 2 4 5 8 49 6 2 7 23 1 12 1 2 4 1 3 1 2 45 1 1 1 1 9 4 2 1 6 2 2 43 2 2 1 1 1 2 5 1 1 11 2 9 3 10 1 1 2 1 6 1 2 46 1 1 2 1 8 3 5 1 3 1 1 44 1 2 12 41 2 2 10 43 1 1 3 1 1 2 3 6 2 4 1 1 3 42 1 1 1 2 2 1 4 1 4 26 2 4 1 3 8 1 4 1 2 44 6 1 1 1 3 4 2 1 11 41 4 1 1 2 1 5 4 7 4 8 2 2 6 2 1 1 6 3 5 5 2 41 4 1 4 2 1 4 3 4 2 1 3 9 1 31 1 4 1 2 2 4 3 3 4 2 9 3 5 2 2 2 1 6 1 6 4 45 9 1 1 1 3 3 1 2 3 1 8 9 1 36 4 20 4 3 5 3 1 14 6 35 2 8 6 1 1 1 6 3 15 8 2 29 1 6 1 1 3 7 3 4 3 2 4 3 6 2 1 13 3 9 1 26 1 2 3 10 2 2 8 4 8 13 2 2 3 47 13 3 10 1 3 45 3 10 3 5 9 3 1 1 6 5 4 9 2 3 1 45 2 1 1 1 7 7 2 3 1 1 1 46 6 7 3 9 1 24 2 8 4 52 3 67 4 4 2 2 1 31 1 3 1 3 1 16 1 23 1 42 2 21 1 6 2 7 1 2 2 12 8 28 2 1 5 13 1 4 1 7 1 3 3 23 1 8 2 7 1 8 2 22 4 4 1 26 6 1 1 25 4 1 1 12 2 6 3 10 4 21 2 9 1 7 3 34 1 1 2 6 4 19 1 1 4 26 5 13 2 4 2 8 2 1 1 33 4 8 1 22 4 10 1 9 4 2 3 13 3 1 1 27 1 1 2 14 7 1 1 10 1 2 1 1 1 6 2 54 2 8 1 8 2 2 1 6 2 14 3 1 2 1 1 23 1 1 5 1 1 19 5 1 2 3 1 3 1 8 1 54 1 8 2 6 3 2 1 15 1 8 5 27 1 2 1 3 1 4 2 16 6 4 3 71 1 5 8 11 1 3 2 2 9 1 1 22 1 2 10 1 3 2 4 14 2 1 1 58 1 26 2 14 5 5 9 2 3 11 3 1 3 1 2 1 4 2 3 4 1 1 1 1 2 14 2 46 1 39 1 20 1 4 7 3 1 2 9 3 8 9 2 1 2 111 2 27 2 5 1 1 9 4 1 1 10 33 1 48 1 40 1 33 11 6 4 1 7 63 3 5 3 4 4 5 2 64 13 4 1 1 8 2 3 70 4 3 2 8 1 63 1 1 1 2 7 1 2 3 8 1 2 2 1 64 1 9 1 11 1 44 2 23 7 12 1 2 2 1 1 21 3 50 1 16 1 3 1 38 1 1 1 20 3 22 2 19 1 41 1 72 2 1 1 64 1 1 1 1 1 1 1 35 2 26 1 6 1 37 3 3 1 62 2 2 2 30 2 45 2 30 2 1 2 49 2 14 5 109 5 16 2 14"/><use href="#sp1" stroke="#e3262a" stroke-dasharray="0 2 3 2 7 5 3 6 1 10 2 2 7 1 2 35 1 4 1 28 1 6 1 1 1 2 1 1 1 1 3 1 1 1 2 8 2 12 9 1 4 4 16 8 4 6 5 1 2 4 1 2 2 1 1 5 1 18 2 6 2 7 1 31 2 4 1 1 1 5 6 4 5 8 8 1 6 6 2 1 4 1 10 7 5 3 3 1 2 9 4 25 1 16 1 33 1 13 1 1 3 1 4 8 10 1 2 1 1 2 1 7 4 1 1 2 10 9 5 1 2 40 3 3 1 1 1 8 1 1 2 4 2 45 3 9 1 2 7 2 3 2 1 7 2 1 2 2 7 1 2 10 3 28 1 17 1 5 1 10 2 6 1 46 2 12 5 1 7 9 1 1 1 1 11 1 3 47 1 33 1 9 1 1 1 44 3 1 12 16 12 46 2 11 1 4 1 14 2 1 2 3 2 7 1 32 1 15 6 1 2 20 7 1 1 49 1 5 2 4 1 26 3 2 1 1 1 8 1 44 1 1 2 25 2 43 2 9 2 2 4 31 2 13 2 73 2 23 1 34 1 1 2 28 2 60 1 7 1 13 1 7 1 22 1 3 1 33 1 62 1 6 1 79 2 1 2 91 5 83 1 1 5 58 1 25 2 1 4 1 2 1 1 1 1 34 1 37 1 2 8 1 1 3 3 4 1 1 2 32 1 11 2 15 5 3 3 6 9 33 1 35 12 6 2 3 5 16 4 8 1 12 1 1 3 15 2 7 2 2 1 3 12 30 1 34 2 1 6 1 2 1 1 1 1 1 1 1 2 21 3 30 3 21 2 3 2 1 1 1 6 1 2 2 1 5 1 56 9 5 3 88 3 4 5 1 2 12 2 37 2 14 5 5 3 93 1 3 4 17 1 55 2 105 2 20 2 27 2 23 4 80 2 19 1 1 1 1 2 10 2 1 1 45 4 7 1 2 8 17 3 55 4 20 5 2 1 7 5 31 1 1 1 7 4 7 1 1 1 1 5 21 1 1 1 54 3 24 2 4 1 7 5 6 3 3 2 16 2 9 2 40 2 10 3 24 2 2 2 9 2 3 1 119 1 4 3 10 5 22 3 12 1 2 1 137 5 2 1 21 1 44 4 60 2 1 1 44 1 53 1 6 1 91 2 1 3 80 6 20 4 42 5 21 3 86 1 25 2 41 2 37 1 62 1 125 3 49 3 1 1 45 2 39 2 40 1 1 1 36 1 8 4 133 6 39 1 1 3 134 2 65 1 27 1 72 1 1139 2 90 1 10 1 9 1 151 2 7 3 8 1 2 1 8 2 28 1 89 2 30 1 5 4 1 2 1 1 4 7 1 1 34 3 3 3 75 9 23 1 1 1 3 3 2 9 4 9 1 5 2 4 23 9 35 1 3 1 35 9 6 1 15 4 5 4 1 2 1 1 1 2 5 4 2 5 5 5 8 1 6 3 5 2 1 2 2 1 35 1 1"/><use href="#sp1" stroke="#d2d2d2" stroke-dasharray="0 29 1 1 1 5 1 36 5 24 2 1 3 42 3 13 1 46 4 40 2 72 4 64 3 114 1 5 1 55 3 21 4 74 3 22 1 58 1 22 1 30 1 14 1 115 2 54 1 183 1 8 3 103 1 67 1 1 3 4 1 72 1 1 1 2 1 8 1 4 1 7 1 5 1 163 2 4 5 170 3 1 1 3 2 1 1 79 2 1 1 5 2 1 4 4 2 75 1 3 1 75 2 6 1 3 1 90 2 187 1 34 1 33 1 1 1 37 2 2 1 139 2 1 1 10 1 8 1 9 1 7 3 99 1 18 1 20 1 1 3 6 1 29 1 24 1 17 1 42 2 26 2 2 1 3 2 26 1 1 1 62 2 22 3 1 4 21 1 1 6 21 4 5 1 84 2 1 1 4 2 24 4 1 1 20 4 1 2 23 3 7 1 90 3 26 1 2 1 51 2 2 1 94 2 7 1 22 2 21 2 22 2 9 1 20 1 81 1 22 4 252 1 716 1 817 1 86 1 24 1 7 1 64 2 4 1 1 2 23 1 77 4 4 2 43 1 14 2 4 2 3 4 1 3 94 3 1 3 4 1 5 1 13 2 24 1 19 11 96 13 19 1 45 10 98 4 4 1 72 2 4 1 93 1 3 2 79 1 3 1 99 1 267 1 94 1 6 1 82 2 92 1 84 1 104 1 276 1 75 1 65 1 41 1 67 2 6 1 34 1 1 1 2 3 11"/><use href="#sp1" stroke="#161616" stroke-dasharray="0 1 1 3 2 23 1 4 1 2 1 2 1 11 1 2 1 9 1 1 1 3 2 5 4 1 1 2 1 6 2 5 1 3 1 4 3 1 1 12 1 13 1 1 1 2 1 30 1 47 1 22 1 3 2 2 1 4 1 33 1 5 1 14 2 39 1 11 1 2 1 18 1 20 1 4 1 25 1 25 2 6 3 26 1 36 1 1 2 6 2 4 1 1 1 14 2 9 1 2 1 3 3 5 1 20 1 17 1 6 1 5 1 22 1 6 1 5 1 14 1 3 3 3 2 12 1 2 2 3 1 19 1 3 1 11 1 2 1 43 1 1 1 7 1 14 1 16 1 4 3 16 1 5 4 10 1 7 4 3 1 23 2 2 1 19 1 6 1 28 1 3 1 3 1 1 1 1 1 2 1 20 2 5 1 3 1 12 2 5 1 10 1 15 1 7 2 17 1 1 2 10 1 11 2 1 1 16 1 7 1 4 1 1 1 3 1 1 1 3 2 11 1 4 1 2 2 10 1 6 2 20 1 3 2 10 1 2 1 3 2 13 1 13 1 5 2 12 1 5 1 16 2 1 3 14 1 6 1 23 1 18 2 14 1 9 1 2 1 19 1 10 1 7 1 4 1 3 1 3 1 52 1 2 1 17 1 6 2 10 1 1 1 6 2 5 1 1 1 3 1 7 1 11 1 1 1 2 1 39 2 19 1 1 1 3 2 9 2 2 2 2 1 4 2 20 2 7 1 14 1 8 1 2 1 12 1 19 3 18 3 4 1 4 2 9 2 7 1 1 1 2 2 2 2 25 5 21 2 2 5 2 1 16 1 2 2 4 4 19 1 2 1 9 2 21 4 25 1 2 1 10 2 1 1 19 1 21 1 2 1 6 2 6 1 10 3 11 1 1 1 4 1 45 1 3 2 15 2 16 1 1 2 10 1 5 2 2 1 29 3 5 2 7 1 2 1 1 2 15 1 5 1 3 1 5 1 11 1 29 1 12 1 11 1 7 1 4 1 3 1 10 4 27 1 2 3 2 2 2 2 2 1 8 1 3 2 3 1 10 2 7 2 1 1 16 2 16 1 10 2 24 2 12 2 4 1 2 1 2 2 6 1 23 1 2 1 7 1 5 1 11 1 20 2 14 1 27 1 1 2 13 1 11 1 16 1 2 1 11 1 17 1 6 2 42 1 16 1 4 1 1 1 3 1 22 1 3 1 2 1 6 1 13 2 37 1 16 1 3 1 1 2 6 3 2 1 16 2 3 2 39 1 14 1 10 2 19 1 9 1 12 5 3 1 3 1 3 1 1 1 12 4 1 1 12 1 13 1 8 2 9 1 1 2 2 1 4 1 5 1 4 1 28 1 8 1 4 1 2 4 5 1 40 1 1 1 9 1 13 1 24 1 8 1 2 2 4 1 1 2 1 5 6 1 1 2 16 1 9 1 6 3 5 2 18 1 31 1 5 1 10 2 2 1 39 1 1 1 6 1 7 1 38 2 4 1 10 2 11 1 7 1 4 1 9 1 26 2 3 1 36 1 1 2 2 1 8 1 13 1 1 3 6 1 20 1 50 1 4 2 12 1 47 2 8 1 8 1 13 1 4 1 26 5 1 3 20 2 28 1 9 1 11 1 16 3 21 2 5 1 3 3 5 2 2 1 6 2 1 1 27 1 5 1 2 1 13 2 23 1 34 1 42 1 5 1 1 1 1 1 16 1 23 1 2 2 26 2 7 2 8 2 10 1 32 1 5 2 29 1 5 1 3 1 20 1 41 3 10 3 31 1 2 2 10 1 15 1 6 3 3 1 8 1 7 2 6 2 12 1 8 1 10 1 23 1 15 2 2 1 1 1 3 1 6 1 17 2 14 2 12 1 3 1 6 1 6 2 6 1 27 1 34 1 27 1 10 3 17 1 8 2 6 1 30 1 4 1 1 2 23 1 16 1 9 1 13 1 28 1 10 2 16 2 5 1 2 4 5 1 18 1 6 3 10 2 5 1 16 1 6 2 6 1 28 1 11 1 26 5 1 1 7 1 12 1 4 5 3 1 2 2 2 3 1 2 9 2 3 2 1 1 2 1 20 1 9 2 1 2 12 1 7 1 46 1 4 3 2 7 9 1 4 2 5 1 8 1 2 1 5 1 32 1 5 1 12 1 2 2 2 3 1 2 5 1 13 1 21 1 7 1 12 2 9 1 1 1 1 1 3 2 11 1 5 1 19 2 16 1 2 2 1 1 6 1 16 2 7 2 4 2 19 1 6 2 13 1 4 2 7 1 11 2 3 2 9 1 12 1 14 1 4 1 1 1 55 1 3 1 4 2 5 1 20 1 48 1 13 2 7 1 20 1 10 1 3 1 7 2 26 1 2 1 18 2 8 2 5 1 30 1 19 4 60 1 4 1 22 5 2 2 16 1 1 2 14 1 11 1 30 1 2 1 3 5 11 5 29 1 24 1 12 4 1 1 1 1 2 1 2 1 22 1 29 3 2 2 26 1 1 1 21 1 27 1 15 1 5 1 16 1 20 2 2 1 1 2 8 1 20 1 1 1 1 1 6 1 23 1 26 2 13 1 4 1 8 2 9 1 1 1 5 1 1 2 9 1 6 2 21 2 3 1 30 1 3 1 1 1 1 1 6 1 5 2 1 1 18 1 13 1 3 2 7 1 13 1 3 1 7 1 4 2 11 1 8 2 3 1 21 2 1 1 7 2 5 1 1 2 9 1 8 1 10 1 6 2 4 1 3 1 15 1 4 2 3 2 10 1 13 1 13 2 6 1 5 2 5 2 7 2 12 1 4 1 13 1 9 1 10 1 15 2 2 1 1 3 1 3 2 1 12 1 2 3 2 1 39 1 5 1 2 1 15 4 10 1 37 1 1 2 1 1 2 2 1 1 4 3 14 2 4 1 11 2 9 1 2 1 4 2 38 2 10 1 3 1 16 2 3 1 11 1 14 1 18 1 2 1 21 1 19 3 1 2 6 2 2 1 12 1 6 1 4 1 6 2 2 1 6 1 3 1 4 2 14 4 17 1 31 1 27 2 1 1 14 1 5 5 4 1 4 1 1 1 9 1 5 2 4 1 5 1 3 2 5 1 25 1 4 2 23 1 2 1 1 1 2 1 3 1 4 2 26 2 9 1 2 1 2 2 12 1 5 1 1 1 8 2 2 3 2"/></g><rect x="204.00" y="711.00" width="20.80" height="9.40" fill="#1a1a1a"/><text x="206.00" y="719.20" font-size="8.3" fill="#fff">CN3</text><g transform="translate(299.00 711.00) scale(1.00000 1.00000)"><rect width="89" height="89" fill="#ece31c"/><use href="#sp1" stroke="#d2d2d2" stroke-dasharray="0 24 1 13 2 15 3 19 5 5 3 3 4 5 4 15 1 2 1 10 2 21 1 52 1 17 3 24 3 12 2 6 1 39 2 18 1 62 1 12 1 18 2 10 2 24 1 13 1 4 1 9 1 1 2 11 1 82 2 10 6 46 1 1 1 3 2 2 1 3 1 1 3 85 1 16 1 4 1 2 2 7 10 34 8 9 3 109 2 9 1 1 7 10 2 9 1 13 7 1 2 4 2 1 2 87 1 24 3 4 10 13 1 20 1 1 11 1 1 1 1 3 1 23 1 42 1 38 1 5 1 2 1 1 10 2 1 2 1 30 2 5 6 4 3 19 2 15 1 73 8 4 6 43 5 5 8 31 1 72 1 1 1 2 4 5 8 36 6 3 1 5 4 18 1 21 1 49 6 4 2 5 1 2 5 4 2 3 4 39 2 5 2 4 9 4 1 5 3 1 3 18 1 7 1 13 2 26 2 8 2 4 2 2 3 5 1 7 3 12 1 22 4 6 1 7 4 1 1 15 2 7 1 14 1 3 1 15 1 3 2 34 1 1 1 2 1 2 2 7 3 4 4 29 1 2 6 2 1 1 1 5 1 1 6 3 3 10 1 13 1 42 1 25 2 3 4 2 3 4 1 2 4 1 5 1 3 21 7 1 4 1 4 5 1 3 1 1 1 5 1 24 2 41 4 4 1 16 4 1 1 2 1 4 2 2 10 1 7 22 15 2 2 1 2 1 1 1 1 1 1 1 4 1 3 15 2 4 2 15 1 50 3 2 2 2 1 1 5 4 16 6 1 10 2 4 16 4 2 1 3 3 1 1 3 1 1 55 1 6 1 23 1 5 4 2 6 5 18 2 3 9 8 2 14 4 5 2 1 1 3 3 1 53 2 6 1 24 3 2 1 2 1 5 3 3 3 1 6 1 1 5 1 1 4 1 1 11 2 3 5 4 5 2 5 1 1 12 3 1 1 29 1 54 2 16 3 2 4 3 1 1 3 9 1 7 2 9 3 4 5 2 2 8 2 69 1 34 4 9 6 4 1 1 1 4 1 22 1 11 2 2 1 3 5 35 2 53 1 18 1 7 4 9 2 9 1 1 1 3 1 1 2 8 2 2 1 6 3 3 2 3 1 3 2 12 4 67 6 12 3 1 2 4 1 4 2 5 3 1 1 10 2 5 1 11 5 5 2 4 12 11 2 1 3 65 2 15 2 2 9 2 3 2 8 4 1 17 1 1 15 4 7 2 1 2 3 14 1 67 2 11 1 4 3 1 4 2 2 4 7 2 3 1 4 17 3 1 2 6 2 8 1 3 1 1 2 18 1 80 1 2 3 1 2 4 3 6 1 7 1 5 1 6 1 16 2 5 3 4 5 2 2 3 6 15 2 58 2 16 3 4 2 3 4 5 2 1 3 34 6 4 3 1 2 3 8 97 8 1 10 2 3 5 2 15 2 8 2 5 4 4 8 1 4 84 1 18 18 1 2 5 3 1 1 1 2 2 3 3 9 1 1 3 2 1 20 11 1 8 1 64 2 3 1 14 1 1 2 2 7 1 12 1 1 1 7 7 1 3 5 2 10 1 1 2 7 2 2 9 2 9 3 38 2 5 1 10 1 3 5 8 2 6 7 1 5 4 5 1 6 2 2 5 2 3 6 1 9 2 5 2 16 4 2 3 1 5 2 6 1 16 2 15 2 6 1 16 1 3 1 2 1 1 5 1 18 3 5 3 5 2 7 3 1 1 3 3 2 7 3 1 3 2 9 2 15 4 3 13 2 5 3 19 3 4 2 20 6 1 2 2 2 4 2 1 15 7 2 1 3 6 1 1 5 1 1 3 7 1 1 1 9 6 3 2 5 1 3 8 1 11 2 4 4 19 4 5 1 16 2 2 2 2 5 1 4 1 3 2 11 2 1 4 4 2 2 2 3 3 2 3 8 3 15 3 13 32 2 44 1 7 9 1 1 2 1 3 14 1 4 1 6 10 12 4 6 1 4 3 1 2 2 3 3 1 5 84 4 2 3 2 1 4 1 3 2 2 1 1 4 1 4 2 9 1 1 9 2 1 2 2 2 4 2 5 1 5 1 5 5 1 2 90 3 1 2 5 1 1 1 3 1 10 5 28 4 15 3 2 2 1 3 96 2 2 2 1 3 15 2 5 1 21 2 12 1 9 4 2 3 97 2 4 1 1 2 7 2 13 1 36 2 5 3 5 1 19 1 89 1 24 1 14 2 117 2 12 2 85 1 104 2 15 2 33 1 1 3 6 2 15 1 94 3 8 1 5 2 6 4 23 1 6 1 1 4 14 1 10 2 17 3 51 3 17 3 8 1 6 3 6 4 10 2 18 3 3 2 5 1 5 1 11 1 103 1 12 7 16 1 13 7 14 1 111 2 3 1 8 5 2 1 3 1 6 2 1"/><use href="#sp1" stroke="#3a4fb0" stroke-dasharray="0 442 1 33 2 147 1 80 1 481 2 11 1 170 1 1 3 6 2 124 2 47 3 4 1 1 2 38 1 1 1 6 2 35 1 3 1 42 6 39 1 46 2 98 1 229 1 391 1 121 2 18 1 183 1 328 1 3 2 94 1 1169 1 138 1 49 1 87 1 139 1 36 2 146 1 122 1 140 1 17 1 3 2 13 1 15 3 12 1 26 3 49 1 27 3 12 1 61 2 26 2 456 1 85 1 66 1 23 1 92 1 81 1 95 2 4 1 74 1 86 1 53 1 606 1 71 1 5 1 1 1 6 3 82 1 17 1 238 1 139 2 41 3 137 3 42 2 68"/><use href="#sp1" stroke="#4bbfe9" stroke-dasharray="0 232 1 970 2 133 1 31 2 15 1 32 1 101 2 184 1 77 2 473 1 207 1 1695 3 128 1 196 2 198 1 179 1 3 1 673 1 548 1 184 1 31 1 236 1 178 1 39 1 10 1 45 1 8 2 41 1 32 1 41 3 534 1 98 1 135 1 86 2 3 3 82 1 2 1 6 2 83 1 49 1 37 1 97"/><use href="#sp1" stroke="#e3262a" stroke-dasharray="0 1200 1 5 1 161 1 275 2 300 1 1627 2 166 1 635 1 70 1 1 1 112 3 25 1 334 1 42 1 236 2 30 2 37 1 512 1 274 1 313 1 4 1 477 1 1323"/><use href="#sp1" stroke="#161616" stroke-dasharray="0 1 4 18 1 3 2 3 1 7 6 12 3 14 2 8 1 36 2 13 5 4 1 7 2 4 1 14 1 1 4 6 3 3 4 9 1 13 5 3 1 10 1 3 3 7 1 39 5 7 3 3 1 6 1 9 1 16 3 7 4 2 2 6 1 6 3 9 2 26 1 6 1 3 3 7 1 2 1 11 1 2 1 7 4 4 1 17 2 4 2 5 1 3 4 14 2 1 1 2 1 11 1 6 1 6 1 4 1 10 1 3 2 15 1 12 1 11 2 6 1 3 2 3 2 1 2 7 1 18 3 2 2 1 1 3 1 10 1 5 1 17 1 11 1 3 2 10 2 11 1 2 1 13 1 9 3 6 2 7 1 12 2 2 1 2 4 10 2 6 1 29 2 10 2 15 1 37 1 6 1 9 1 10 1 5 2 2 1 9 1 26 1 2 3 5 2 10 1 11 3 6 1 10 1 10 3 23 1 18 6 15 1 12 1 4 4 14 3 7 1 7 1 8 1 17 1 1 2 10 1 4 1 15 2 1 1 24 1 3 2 17 3 12 1 6 1 9 2 12 2 17 1 3 1 3 2 11 1 1 1 20 4 2 1 9 1 6 2 1 1 10 3 4 3 5 4 5 1 9 4 9 4 2 1 3 1 4 2 22 1 6 2 4 1 3 1 9 1 3 1 8 1 7 1 11 3 4 2 2 1 3 3 3 1 4 3 10 1 7 1 26 3 3 2 10 2 8 1 11 1 21 2 10 1 8 2 8 3 3 3 8 1 18 1 6 3 5 1 2 1 26 4 7 1 1 1 4 2 18 1 14 1 9 2 16 1 44 2 10 2 17 3 1 2 2 1 17 2 5 3 11 1 7 1 1 2 3 1 4 1 10 3 20 4 4 3 19 2 1 2 9 1 2 2 4 2 16 2 3 3 5 1 32 3 2 1 37 2 15 1 6 4 3 5 18 1 1 3 20 1 2 1 7 1 4 2 3 1 14 2 7 1 1 2 9 1 2 1 5 2 4 2 9 1 6 3 11 2 1 2 20 3 19 1 4 1 17 4 3 2 6 6 5 1 4 1 9 3 4 1 9 4 3 1 13 1 2 4 5 2 1 2 5 1 22 1 44 2 7 1 8 1 3 6 5 1 15 2 1 1 4 3 11 4 3 4 26 3 3 2 13 2 29 1 2 1 2 1 2 1 16 2 4 1 7 1 5 3 18 1 2 2 4 3 8 2 3 3 8 2 4 2 23 1 18 2 18 2 5 1 3 2 9 2 14 2 7 2 32 3 5 4 4 3 5 1 7 1 10 1 28 3 7 1 10 1 1 5 1 1 4 1 2 2 3 1 2 2 2 3 5 4 14 7 1 4 22 3 5 4 13 1 6 1 3 2 7 2 22 2 1 1 1 7 1 2 14 1 3 9 1 2 3 2 2 9 3 3 11 1 2 4 9 2 18 1 10 2 2 1 6 1 3 2 7 2 14 1 10 6 16 6 6 4 1 1 3 2 1 2 4 1 7 2 3 3 1 11 2 2 9 3 2 2 6 3 10 2 9 1 3 2 7 2 4 2 1 2 3 4 1 1 2 3 4 1 23 6 1 2 9 9 2 9 1 1 5 1 2 5 1 2 2 2 1 6 8 3 1 2 3 2 8 1 7 1 11 2 4 5 3 1 7 1 7 3 6 3 2 2 6 1 6 4 4 3 7 4 7 5 3 1 1 3 1 6 2 1 3 1 1 6 2 3 5 5 2 1 15 4 3 1 1 2 2 1 3 2 5 1 4 1 4 1 1 4 5 3 8 1 2 8 13 1 3 6 4 1 2 2 2 2 15 1 8 4 2 7 3 6 17 1 10 2 1 2 3 1 8 5 3 4 9 2 2 1 15 1 3 1 10 2 9 3 5 2 1 3 6 1 1 2 3 1 4 2 2 1 1 2 7 2 3 1 4 6 4 7 6 6 2 3 1 4 5 1 2 3 1 3 9 2 5 3 23 1 5 2 3 1 17 5 4 1 8 1 3 1 4 1 9 1 3 2 1 7 5 1 3 4 6 1 5 2 2 1 2 5 5 1 10 3 7 2 4 3 3 2 2 2 1 2 11 1 23 2 14 1 7 2 4 6 3 4 11 2 3 1 3 7 1 1 5 2 12 2 1 3 7 1 1 1 3 1 13 10 4 2 4 2 13 1 2 2 3 1 9 2 2 1 18 3 2 2 3 1 1 9 8 1 10 2 6 1 3 2 6 2 11 4 3 1 7 4 8 1 7 8 4 3 5 2 28 1 11 4 7 1 2 1 2 2 1 4 4 6 22 1 2 1 1 2 4 1 1 1 19 1 2 2 23 2 3 1 1 4 1 4 1 3 1 4 2 2 7 4 8 1 2 1 3 1 1 2 11 3 3 1 5 3 2 3 1 3 2 4 1 2 28 1 11 1 3 1 1 3 5 1 11 1 11 1 7 4 6 5 4 3 1 1 1 2 1 5 12 2 6 1 10 1 2 3 5 3 5 3 1 4 2 3 10 1 5 1 8 1 6 2 2 5 11 1 9 2 25 2 2 3 4 2 2 5 2 1 4 1 4 1 9 1 16 1 2 1 3 1 4 8 2 3 4 1 32 3 18 1 3 2 5 5 3 1 3 2 9 2 15 4 3 3 2 4 10 1 13 4 16 2 2 1 2 2 1 8 6 1 2 2 2 4 2 1 15 3 3 1 7 2 4 1 5 1 1 1 9 1 11 6 3 2 5 1 3 8 1 2 6 1 16 3 6 1 22 9 2 2 2 2 5 1 4 1 3 2 11 2 1 4 4 2 2 2 8 3 8 3 31 15 1 1 39 1 4 1 11 5 1 7 9 1 1 2 23 1 6 5 3 2 12 2 21 3 3 1 5 6 4 6 8 1 3 2 28 1 3 9 2 11 4 2 3 2 3 1 10 1 9 1 10 1 12 1 2 2 8 2 10 2 2 1 5 1 4 2 1 8 1 3 5 1 15 2 9 3 19 9 1 2 2 3 5 1 5 2 11 1 10 2 15 3 13 1 5 2 17 7 2 9 3 1 18 3 18 1 10 3 2 6 4 8 3 2 2 1 9 1 21 1 31 3 3 2 11 7 2 1 1 1 1 4 1 4 2 3 4 1 5 1 18 1 9 3 2 1 2 3 3 2 5 1 1 2 14 4 1 2 14 1 3 1 4 1 23 1 6 5 15 4 5 1 4 3 2 5 4 4 2 1 18 3 1 2 1 2 3 3 4 2 1 3 1 4 2 4 15 2 2 1 2 1 2 2 2 2 4 1 21 4 7 1 2 4 5 1 4 1 12 2 1 8 1 2 4 2 10 3 3 1 9 1 3 5 11 1 5 3 2 2 2 2 12 1 2 1 9 2 10 4 20 1 1 1 9 3 1 1 16 2 4 3 2 7 17 2 42 2 1 3 3 1 21 1 2 3 7 1 1 4 17 1 5 2 3 1 7 2 2 3 5 1 9 3 2 1 4 1 2 3 10 2 6 1 28 1 3 1 4 2 3 2 2 2 2 6 9 1 6 2 2 2 8 1 7 3 20 1 8 6 2 1 2 3 5 2 2 12 10 2 44 2 7 3 1 5 12 2 1 1 1 4 1 1 3 4 6 3 25 2 8 3 5 3 1 4 6 1 8 2 3 5 4 2 13 2 3 2 10 2 19 2 2 1 3 1 17 3 1 2 2 2 1 5 18 1 7 1 5 2 10 7 2 5 14 1 6 2 8 1 35 1 2 2 7 2 7 2 5 6 2 1 7 1 2 3 1 4 2 1 9 3 4 2 4"/></g><rect x="299.00" y="711.00" width="20.80" height="9.40" fill="#1a1a1a"/><text x="301.00" y="719.20" font-size="8.3" fill="#fff">CN4</text><g transform="translate(393.00 711.00) scale(1.00000 1.00000)"><rect width="89" height="89" fill="#6fbb5e"/><use href="#sp1" stroke="#4bbfe9" stroke-dasharray="0 1 3 1 3 4 4 19 1 27 16 28 3 2 5 4 1 25 1 19 5 3 6 4 1 1 7 1 4 49 7 4 2 1 1 3 3 14 1 6 3 1 3 1 2 25 1 3 2 14 1 1 1 3 15 3 6 1 5 1 2 4 2 2 1 12 2 2 1 21 6 2 3 1 2 3 4 1 1 8 4 2 4 1 3 1 3 1 7 24 4 5 2 6 2 9 1 1 8 3 5 2 1 11 6 1 5 1 1 1 3 1 1 24 13 4 3 1 5 3 19 1 5 25 10 1 3 2 1 1 1 13 7 3 8 5 1 6 2 3 3 1 8 28 1 1 7 1 3 1 8 5 6 2 2 1 1 1 1 1 7 1 2 26 8 2 3 2 2 11 1 1 6 1 1 3 1 1 6 13 3 2 1 2 2 2 4 16 2 9 8 1 3 1 8 8 8 1 2 1 3 3 2 1 3 1 1 8 1 15 9 2 2 1 2 1 1 8 3 2 6 5 5 2 3 9 1 7 12 22 4 1 8 1 11 1 1 3 4 3 6 1 12 23 12 16 3 3 6 3 2 2 4 7 3 8 2 2 11 12 1 10 12 1 2 2 8 3 7 1 1 1 1 1 6 1 7 21 6 3 3 1 3 8 5 5 6 1 1 3 9 4 4 8 4 2 1 4 8 3 1 1 1 2 1 10 7 1 7 1 10 3 4 2 5 2 5 1 6 8 1 2 1 8 8 7 4 10 1 9 5 4 5 9 1 20 10 2 1 5 3 6 5 1 13 4 3 3 5 1 14 2 6 4 2 11 9 27 1 1 6 3 5 1 2 27 1 1 7 11 1 4 3 3 3 1 7 1 1 1 6 2 1 3 1 2 9 2 4 2 4 2 4 3 1 12 1 1 3 1 3 26 1 3 4 3 5 1 1 28 2 1 3 14 1 4 2 1 5 2 6 3 5 2 3 5 1 2 4 2 7 5 4 20 7 31 4 3 3 1 3 28 3 1 3 2 1 18 3 2 1 1 4 1 2 4 3 1 2 6 8 2 1 4 7 1 1 21 4 1 5 27 3 7 1 1 3 28 1 2 2 1 5 19 4 1 1 4 12 1 2 3 2 1 7 2 5 1 7 18 10 31 4 6 1 30 2 1 4 1 6 17 25 3 9 1 12 2 1 20 11 38 1 30 6 2 2 12 1 7 3 1 12 1 9 3 6 1 2 1 5 1 9 1 2 4 2 15 7 40 4 24 8 2 1 19 10 1 6 3 1 2 1 1 2 3 2 1 5 3 9 1 4 1 1 19 1 1 11 22 1 1 1 14 1 24 4 1 5 15 1 7 1 5 8 3 3 1 1 1 2 3 4 1 14 24 1 1 7 4 1 27 1 7 1 31 2 5 5 25 1 2 5 2 2 2 6 3 4 1 1 2 2 4 3 1 1 25 3 3 7 26 4 1 1 3 6 1 1 24 8 1 5 27 2 4 2 3 5 3 3 1 1 9 1 28 3 1 1 3 5 25 2 1 5 3 4 4 1 22 2 1 12 29 1 8 5 3 2 1 4 6 1 31 9 3 2 1 1 3 2 16 7 3 8 9 4 3 2 1 5 2 10 30 2 7 3 1 2 3 1 5 1 1 1 5 2 32 18 2 4 9 8 3 2 1 5 8 15 1 8 19 1 12 6 3 2 4 2 3 3 4 1 3 2 1 3 10 3 23 4 2 12 10 3 1 4 3 7 11 13 1 1 2 4 21 2 11 4 4 1 2 5 3 3 2 3 7 1 1 1 31 5 2 1 1 14 9 1 3 4 5 1 10 16 2 10 33 1 6 3 2 2 5 6 7 5 28 2 2 1 1 6 1 14 1 1 6 5 7 6 1 3 1 21 36 6 6 7 3 5 2 4 2 5 29 1 6 1 3 12 2 2 2 4 3 1 1 3 5 1 1 3 4 18 1 2 39 3 1 8 1 3 1 1 4 2 1 15 35 1 4 2 2 8 1 13 3 2 3 3 2 1 1 9 2 7 2 1 8 1 33 2 2 7 1 1 3 3 3 2 3 1 3 5 1 1 1 2 5 1 17 1 10 1 2 2 2 4 2 5 2 1 1 5 1 3 2 3 4 2 2 3 1 5 1 5 1 9 1 1 10 1 27 1 1 12 3 2 3 2 5 10 6 1 28 2 5 2 3 16 1 4 1 2 4 3 1 14 1 3 1 2 2 1 2 2 3 1 36 10 2 2 1 2 4 17 1 1 37 2 3 2 3 5 1 12 2 2 6 17 1 5 44 18 5 5 1 7 1 1 1 1 45 3 1 1 2 3 2 5 1 1 11 4 4 2 1 7 1 3 1 2 44 2 2 5 1 2 1 3 7 8 1 6 9 1 39 1 1 4 2 2 3 1 4 5 5 6 1 2 4 1 2 5 51 4 1 7 1 2 4 10 3 4 48 4 2 2 2 2 1 7 1 3 3 1 1 15 56 14 1 1 3 15 57 17 3 6 1 8 4 1 54 15 3 1 2 8 1 2 56 2 1 9 1 6 3 6 1 10 1 1 56 12 5 2 2 10 4 1 45 3 3 10 1 1 2 4 4 9 2 15 49 3 1 1 1 4 2 2 3 2 2 3 2 3 1 1 49 1 1 3 2 1 1 1 2 14 3 6 2 4 1 2 1 4 2 3 48 1 1 3 1 3 1 2 1 3 6 2 2 3 3 3 45 1 2 4 1 5 2 1 2 10 3 2 1 7 1 6 3 5 1 1 46 4 1 1 5 1 1 1 5 4 2 3 1 6 46 1 1 5 2 3 1 3 1 8 5 17 2 1 1 5 48 3 1 11 3 11 52 7 2 8 1 3 2 3 3 8 1 1 1 14 53 8 2 1 3 4 2 6 49 1 1 1 1 16 1 7 3 3 1 6 1 1 2 1 2 7 1 2 48 4 1 9 4 5 2 7 47 2 1 7 2 10 2 3 3 3 2 7 5 10 46 1 3 4 1 2 1 4 3 7 1 2 1 3 1 1 1 2 43 13 2 1 2 4 1 4 3 8 3 1 2 7 1 5 42 5 1 14 3 20 42 10 9 8 3 2 2 2 11 7 45 13 1 6 1"/><use href="#sp1" stroke="#e3262a" stroke-dasharray="0 16 3 180 1 1 2 143 1 1 3 30 1 3 1 4 1 137 1 3 4 1 3 1 1 19 5 2 4 138 1 1 1 1 5 1 7 18 5 2 3 4 3 132 1 4 9 1 1 20 4 1 1 1 3 106 1 30 1 2 1 1 4 2 2 3 1 17 1 4 9 4 1 1 2 126 4 1 7 1 2 26 4 3 4 1 1 138 1 5 4 23 2 38 1 74 1 222 1 2206 1 5 1 21 2 2 1 155 4 21 6 151 6 2 3 10 1 1 7 156 6 18 1 3 1 153 2 4 2 17 2 1483 4 137 1 43 1 138 1 1297 2 20 3 1 1 151 9 17 11 73"/><use href="#sp1" stroke="#d2d2d2" stroke-dasharray="0 81 2 2 5 3 3 1 1 2 1 3 1 28 2 70 1 27 2 35 4 3 3 37 1 19 1 48 1 69 2 3 1 65 1 3 1 83 1 209 1 302 1 94 1 144 1 21 1 1 1 89 1 68 1 24 2 63 8 14 7 154 6 1 1 14 1 2 6 51 1 11 1 26 1 62 1 6 3 12 1 28 1 41 3 22 2 70 4 10 1 73 4 3 1 16 2 81 1 133 1 45 1 3 2 123 1 9 2 40 3 4 2 1 1 171 6 3 4 51 3 63 4 51 5 3 1 1 3 50 1 2 1 2 2 114 4 4 2 176 1 287 1 51 1 53 1 58 3 12 3 1 1 39 1 54 1 29 1 44 2 8 1 95 1 23 1 117 1 46 1 153 1 77 1 59 2 103 1 18 1 243 1 123 2 56 1 1 1 16 2 11 1 75 1 178 1 120 1 48 1 129 1 4 1 47 2 183 1 131 1 1 2 49 2 47 1 32 1 94 1 55 2 182 2 31 2 12 3 90 1 29 1 18 1 23 1 17 1 140 1 395 1 1 1 149 2 567"/><use href="#sp1" stroke="#3a4fb0" stroke-dasharray="0 164 2 47 2 176 1 38 1 57 1 37 1 633 1 137 2 117 1 105 1 159 1 127 1 43 1 1391 1 2865 1 352 1 133 1 91 1 1 1 42 1 133 1 378 1 936"/><use href="#sp1" stroke="#161616" stroke-dasharray="0 4 1 3 4 18 1 5 2 22 1 22 1 12 1 8 2 3 2 40 1 13 1 5 3 6 1 4 1 7 1 5 1 8 1 13 2 30 4 10 1 10 3 10 1 3 1 3 3 22 2 15 2 30 1 8 1 22 2 19 1 8 2 3 1 4 1 4 1 1 2 10 2 4 1 3 1 3 1 29 2 24 1 21 2 6 2 22 1 1 1 36 4 3 1 27 1 5 5 8 1 21 1 3 1 9 1 31 1 3 2 8 1 8 1 11 2 3 11 1 1 7 1 3 1 8 1 10 2 2 1 1 1 1 1 7 1 2 10 24 2 3 1 3 2 17 1 5 1 6 1 4 1 1 1 3 2 3 2 1 2 2 2 22 9 8 1 3 1 8 4 3 1 8 1 2 1 3 3 2 1 3 1 1 6 27 2 11 2 6 1 6 1 3 1 6 1 13 2 2 1 20 4 6 6 4 1 8 1 11 1 8 3 6 1 13 6 41 1 5 3 11 2 4 1 19 2 25 7 1 1 12 1 3 1 18 1 10 1 7 8 25 1 4 2 2 1 11 1 6 1 33 1 25 8 7 1 25 2 12 1 6 8 26 1 15 1 16 1 12 1 6 1 1 1 34 6 5 1 13 4 11 1 14 2 6 4 12 1 10 2 2 2 49 3 1 1 6 2 5 1 7 1 11 4 3 2 4 1 9 1 6 2 5 2 10 1 4 2 4 2 4 3 9 2 3 1 3 1 7 1 5 2 2 2 28 1 11 1 9 2 2 1 3 1 3 2 3 1 9 4 2 1 5 2 14 2 6 2 1 2 13 5 4 6 8 1 12 3 10 2 39 1 14 4 3 1 17 7 3 2 1 1 4 1 12 2 3 1 11 4 7 1 1 8 17 1 35 3 5 1 8 1 12 1 1 3 2 1 3 2 2 1 16 8 4 1 1 4 12 1 7 1 7 2 5 1 7 8 20 1 7 1 2 2 29 2 19 1 10 1 4 1 15 8 37 1 12 2 1 8 8 1 34 2 10 1 30 1 11 2 13 1 1 7 3 1 12 1 18 1 2 1 5 1 9 1 2 4 2 1 11 3 12 1 2 1 4 1 4 2 5 1 20 1 1 2 5 2 19 2 11 1 4 2 12 1 6 3 1 2 1 1 7 1 5 3 14 1 9 1 11 1 11 1 3 1 4 2 6 1 16 1 27 2 4 1 5 2 20 1 14 3 3 1 1 1 9 1 47 3 11 1 28 1 18 1 1 3 7 5 32 1 5 2 2 2 13 1 1 2 2 4 3 1 3 1 25 2 15 3 14 1 16 1 33 1 13 1 7 1 9 1 2 4 2 3 11 1 1 9 3 1 8 1 19 1 1 3 32 1 12 4 14 1 43 1 9 8 10 1 5 5 8 1 13 1 33 1 11 1 33 1 8 2 11 1 7 1 12 2 1 1 6 4 6 1 6 2 6 4 6 1 23 1 22 2 26 1 28 1 13 1 23 1 8 3 2 2 11 3 1 3 41 1 4 2 12 2 7 1 3 1 15 1 6 3 31 1 27 4 1 2 11 2 3 7 17 2 13 2 23 2 6 1 11 2 2 1 24 2 17 2 4 2 19 6 3 2 2 1 3 1 6 7 25 1 12 1 6 1 27 2 3 2 41 1 4 2 26 6 15 2 4 2 6 1 4 1 20 1 24 2 10 1 1 1 3 1 3 1 1 1 3 1 2 1 18 1 36 1 7 1 8 1 3 1 1 1 5 1 28 1 19 1 8 2 8 1 13 3 8 2 1 1 9 2 7 2 1 4 5 1 6 1 15 2 19 1 1 3 8 3 1 3 5 1 21 1 13 2 6 2 4 2 5 2 1 1 5 1 3 2 6 1 2 2 3 1 5 1 5 1 9 1 16 1 36 3 7 5 12 1 30 1 11 2 16 1 4 1 2 1 6 1 14 1 3 1 2 2 5 1 16 1 32 2 2 1 5 1 26 1 14 1 21 3 5 1 12 2 5 3 17 1 7 2 58 1 3 1 5 1 44 1 10 1 5 2 3 2 5 1 1 7 3 1 4 4 2 1 7 1 18 1 11 2 16 1 10 1 2 1 3 3 3 1 8 1 21 2 3 3 32 2 2 3 1 4 5 1 3 1 6 1 2 4 1 2 16 2 17 1 3 1 6 1 13 1 7 1 2 1 13 3 4 1 3 1 1 1 29 3 13 2 2 2 2 1 7 1 7 1 15 6 3 1 10 1 6 1 42 1 19 1 12 1 12 1 9 1 10 1 5 4 26 1 8 4 18 2 1 2 4 2 12 1 32 2 8 1 37 3 16 1 3 1 9 1 15 1 12 2 16 2 6 1 15 2 24 2 5 2 22 1 3 1 16 1 3 1 17 1 10 1 1 2 4 1 12 2 16 3 50 1 4 2 7 2 3 2 35 1 19 1 3 2 1 1 1 2 23 2 4 1 2 1 4 2 4 1 9 2 16 1 27 1 2 1 6 3 2 2 27 3 3 1 10 2 4 2 4 1 4 1 5 2 1 2 15 1 7 1 6 3 5 1 3 2 4 3 3 2 2 1 7 1 25 5 1 1 1 2 7 2 39 2 4 2 10 1 5 2 3 1 3 1 8 2 20 2 1 1 7 2 5 2 93 1 19 1 11 2 8 1 3 2 14 1 1 1 14 1 4 2 16 1 37 2 8 2 23 1 9 3 5 1 16 1 16 1 13 1 6 1 1 2 1 2 7 1 15 1 6 3 9 1 19 1 12 1 5 2 33 2 5 2 14 1 7 2 10 2 9 2 7 5 11 1 8 1 1 2 6 1 26 3 4 1 2 1 14 1 2 1 3 1 39 1 6 1 13 2 7 1 20 1 7 1 52 1 44 3 9 1 7 1 46 2 20 2 3 1 1 1 17 2 31 1 7"/></g><rect x="393.00" y="711.00" width="20.80" height="9.40" fill="#1a1a1a"/><text x="395.00" y="719.20" font-size="8.3" fill="#fff">CN5</text><g transform="translate(488.00 711.00) scale(1.00000 1.00000)"><rect width="89" height="89" fill="#4bbfe9"/><use href="#sp1" stroke="#e3262a" stroke-dasharray="0 47 2 2 2 2 1 10 6 12 6 3 6 12 3 3 1 3 1 5 1 2 2 103 2 1 2 5 1 5 1 1 3 13 1 2 2 3 6 22 1 5 1 111 1 15 1 10 8 3 7 1 1 38 1 1 2 121 9 3 5 2 5 1 1 16 2 16 1 65 1 17 1 16 1 16 2 1 6 2 4 3 5 1 7 17 3 3 1 11 4 1 1 13 1 1 3 38 3 1 1 4 1 6 1 3 3 15 1 18 4 1 9 3 3 1 11 14 1 12 1 1 2 2 3 4 1 10 1 1 1 1 1 38 1 1 2 2 1 10 11 14 2 14 11 1 2 3 3 2 9 15 2 13 2 3 6 1 2 7 5 1 2 1 2 31 4 2 3 7 3 2 3 19 2 17 1 1 1 1 8 3 12 1 1 14 1 20 1 1 1 2 2 9 1 4 4 1 1 32 3 3 3 6 2 1 3 2 1 2 1 32 3 1 9 7 3 2 2 1 4 35 3 1 4 1 1 1 6 1 4 35 3 1 4 1 3 1 7 2 1 7 1 28 6 1 1 1 3 9 1 3 2 1 2 39 8 1 2 1 1 3 7 33 1 1 4 1 6 3 9 36 6 5 2 3 2 1 3 2 3 37 3 1 2 1 7 1 9 37 10 2 12 37 3 2 1 1 4 3 1 1 4 2 3 37 9 1 13 42 11 1 7 42 4 10 1 44 19 4 1 33 1 6 17 1 1 44 1 55 1 3 11 2 1 48 1 2 1 1 9 2 1 1 1 100 2 1 3 3 1 2 2 55 6 2 1 112 1 3 3 40 1 15 4 1 2 2 1 112 5 1 1 14 2 22 1 15 1 3 2 114 1 4 1 6 1 11 2 14 1 2 1 2 1 1 3 131 1 25 2 3 6 4 2 1 4 3 2 23 1 1 1 105 2 2 1 20 4 2 4 6 4 1 2 2 4 155 2 1 10 3 4 1 1 1 1 2 2 93 2 11 1 61 1 79 2 26 1 69 1 84 3 2 1 19 1 3 2 1 1 3 2 143 3 4 3 17 4 4 3 134 2 7 1 1 3 2 2 2 2 22 10 137 11 26 2 1 6 2 2 132 1 2 2 1 4 1 1 26 2 1 1 5 2 136 8 4 1 2 2 15 5 8 2 1 1 138 1 2 2 1 2 1 1 2 4 12 2 2 1 1 2 3 4 4 2 130 5 1 3 1 1 3 1 2 2 15 2 1 1 5 8 133 2 3 1 9 2 18 1 16 1 3 1 1 1 125 2 47 1 128 1 8 1 46 2 134 1 488 1 54 1 1 1 60 2 121 1 6 5 39 5 62 1 70 2 3 1 40 2 1 3 63 1 3 5 58 1 11 2 26 3 10 2 57 1 1 4 3 3 59 6 3 2 2 1 1 1 24 3 2 4 1 6 60 3 3 2 61 11 2 1 25 4 3 9 61 1 4 3 60 3 1 1 2 10 21 9 1 5 1 1 60 1 1 1 4 2 4 1 54 2 2 7 2 6 9"/><use href="#sp1" stroke="#d2d2d2" stroke-dasharray="0 268 1 14 1 153 1 538 1 1 3 62 4 113 1 67 3 13 1 86 1 78 1 1 2 1 1 4 1 34 1 4 2 19 2 1 4 32 3 4 3 1 2 39 1 21 7 6 2 31 7 18 6 32 4 2 8 1 1 56 1 1 1 1 7 2 5 31 1 1 4 21 5 26 1 1 12 2 3 58 1 1 17 1 2 24 2 1 4 18 1 4 3 2 2 24 4 1 11 1 1 3 1 60 6 1 5 2 3 23 4 1 3 1 4 14 3 1 11 22 5 2 8 1 1 2 1 18 1 13 1 4 1 21 4 1 6 1 7 19 2 1 1 1 6 23 3 2 3 2 1 19 7 1 7 67 3 1 1 2 3 2 5 2 1 13 2 1 7 1 1 33 6 1 1 2 1 12 1 2 2 4 5 4 3 61 2 4 6 1 1 2 4 6 1 7 2 1 9 2 1 27 1 2 7 1 2 6 2 2 1 2 5 5 5 4 2 64 1 2 6 3 1 1 4 2 1 3 3 4 1 2 5 1 1 35 1 1 6 6 1 5 1 1 2 4 9 8 1 1 1 53 1 11 4 3 1 2 5 1 1 7 1 54 1 1 3 2 2 5 2 1 1 2 2 2 3 4 1 6 2 54 1 7 3 1 1 1 7 1 2 4 4 1 6 1 1 48 15 2 1 1 4 1 2 2 4 32 1 38 4 2 1 4 3 4 4 3 2 3 3 21 1 10 1 13 3 8 2 2 1 4 3 3 2 2 2 68 1 4 1 2 6 3 1 13 1 59 2 1 1 2 2 6 1 1 7 7 1 63 2 1 1 4 2 2 3 1 1 6 6 1 3 54 4 2 5 5 1 1 3 16 1 63 1 2 1 9 1 5 5 2 5 52 6 1 4 13 1 11 2 56 1 27 2 1 5 53 11 1 2 4 1 20 1 66 2 6 1 4 1 4 7 55 3 10 1 108 1 2 4 55 2 74 1 21 1 24 1 64 4 1 1 67 1 13 1 3 1 1 2 22 4 4 1 52 1 8 1 22 1 1 6 52 2 1 1 3 3 7 1 21 2 51 1 4 1 27 1 2 2 2 1 12 1 37 6 2 1 1 3 110 1 2 1 5 2 54 1 1 3 1 2 110 1 2 4 1 3 53 2 3 3 11 1 42 2 3 2 56 2 1 2 54 2 179 3 127 1 4 1 46 1 7 1 123 2 783 1 191 1 323 1 551 1 16"/><use href="#sp1" stroke="#6fbb5e" stroke-dasharray="0 83 1 182 1 390 1 140 1 14 1 44 1 36 1 1 1 263 2 204 1 1 1 1105 1 411 1 302 1 57 1 2 2 118 1 2 1 60 1 73 1 44 1 65 1 368 1 114 1 190 1 187 1 2 2 39 1 9 1 131 1 29 1 186 1 146 1 542 1 65 1 3 1 153 2 24 1 1 1 119 1 22 2 8 1 28 1 150 1 3 1 173 1 2 1 1 2 3 3 2 1 172 3 182 1 4 2 21 1 154 3 3 5 170 6 3 1 1 4 170 1 2 2 3 2 151 1 25 2 3 2 178 1 3 2 176 3 6 1 172 1 189"/><use href="#sp1" stroke="#3a4fb0" stroke-dasharray="0 1082 1 184 1 667 1 313 1 383 1 110 1 1367 1 53 1 137 1 36 2 34 3 108 1 398 1 158 3 22 1 8 1 341 2 6 3 1473 1 331 1 57 3 322 1 475 1 89"/><use href="#sp1" stroke="#161616" stroke-dasharray="0 5 1 23 1 6 1 4 1 2 3 2 2 48 2 5 2 2 1 8 2 11 1 2 1 11 1 5 1 12 1 4 3 16 1 21 2 7 1 9 1 2 1 12 2 7 1 10 1 2 2 14 1 3 2 2 2 6 1 4 1 2 1 9 1 16 1 14 2 5 1 2 1 12 1 1 2 47 1 16 3 26 1 2 2 1 2 4 1 7 2 5 3 7 1 9 1 12 1 26 1 20 1 2 2 3 2 2 2 8 2 5 1 7 1 9 1 22 1 8 3 32 4 3 2 2 3 19 1 15 1 3 2 7 1 6 1 1 1 2 1 6 2 20 1 5 1 38 2 6 3 3 2 9 3 1 1 14 1 2 2 15 4 3 1 3 1 11 2 2 1 8 1 8 4 1 3 7 1 1 3 10 2 3 3 11 1 15 1 14 5 17 1 2 1 3 1 3 4 3 2 1 1 5 1 8 2 7 1 9 2 6 1 6 1 2 2 2 1 1 5 1 1 11 1 7 1 10 1 4 2 15 1 8 2 12 2 2 1 3 1 9 1 7 1 11 1 2 4 1 1 12 2 1 2 3 1 11 1 7 1 6 2 7 3 3 2 27 1 49 1 11 1 12 3 1 1 1 2 2 1 2 2 5 4 16 1 5 1 2 1 15 3 11 1 3 2 1 2 8 2 9 1 4 3 9 1 9 1 3 3 3 1 3 1 8 5 3 1 8 6 2 6 3 1 6 1 6 1 4 3 13 1 17 1 3 1 4 1 3 1 7 1 2 3 1 3 5 2 15 3 10 1 1 1 3 3 3 3 1 3 2 1 10 2 7 1 7 2 7 5 8 1 2 1 1 3 7 1 33 1 4 1 6 3 9 1 14 2 3 2 6 1 13 5 11 2 12 1 6 1 23 1 2 1 7 1 11 1 30 2 12 2 16 1 11 1 10 1 12 2 1 1 27 1 2 1 13 1 5 2 30 1 48 1 8 2 5 2 13 1 1 3 29 1 15 4 2 1 6 1 6 1 28 1 39 2 27 1 7 3 1 3 2 2 1 1 45 1 5 1 5 1 1 2 3 2 5 1 25 1 2 2 2 1 2 3 9 1 4 1 1 6 8 1 16 1 2 4 5 3 11 1 6 1 13 1 23 2 9 4 6 1 1 2 6 1 4 2 1 2 15 1 7 1 7 2 2 1 30 1 1 2 5 5 5 4 5 1 4 3 15 2 5 3 7 2 4 2 14 1 7 3 1 1 4 2 1 2 7 1 8 1 11 2 24 1 6 2 7 2 2 1 2 4 9 3 1 1 1 1 11 1 13 1 23 1 4 1 8 1 1 4 4 3 1 2 5 1 1 2 12 1 6 2 4 1 15 1 16 1 10 3 4 1 1 2 2 2 3 4 1 5 4 2 4 2 19 1 24 1 2 2 7 1 1 1 7 1 40 1 3 1 37 1 2 1 4 1 2 2 8 2 27 1 10 1 18 4 3 1 4 2 1 4 5 1 75 1 9 3 2 2 2 3 2 6 2 3 29 1 14 2 2 2 1 1 1 1 4 2 6 3 2 1 4 2 1 2 29 2 7 1 21 1 5 2 6 2 1 1 7 3 2 2 2 1 3 3 9 1 6 1 1 1 29 2 3 1 5 4 12 3 6 1 3 1 32 1 24 2 5 2 10 1 1 1 1 7 1 2 3 1 4 1 21 1 17 1 4 1 4 1 1 2 7 2 1 1 2 1 6 1 5 2 14 2 8 1 7 1 30 1 4 2 3 3 13 4 4 3 2 1 3 2 6 3 3 1 7 2 3 3 1 2 6 1 7 4 10 1 3 6 4 1 6 1 7 1 20 2 10 1 2 3 19 4 3 2 13 1 8 1 4 1 3 1 5 1 14 1 15 2 2 1 6 2 7 3 1 1 1 2 4 1 12 1 15 1 1 2 5 4 3 4 4 3 10 5 2 3 1 4 6 1 2 5 3 1 1 3 1 2 7 3 19 1 4 4 4 3 2 4 1 5 4 2 6 3 2 2 2 1 1 2 8 1 2 3 1 1 5 1 4 3 16 3 2 1 11 6 1 1 3 2 7 2 7 2 2 6 2 1 3 2 21 1 2 2 12 1 1 7 3 2 3 1 7 1 6 3 1 1 12 1 2 3 24 1 1 1 2 1 3 1 8 1 8 1 3 1 8 1 3 2 3 1 2 2 1 3 11 1 2 1 17 1 6 1 6 2 3 1 9 2 10 2 9 3 6 2 4 1 2 1 25 2 2 2 12 4 6 1 9 4 4 1 8 2 2 1 4 1 5 1 13 1 3 2 6 4 7 1 1 3 5 1 2 1 11 2 5 1 10 1 2 9 21 3 6 1 5 2 3 1 15 1 2 1 8 2 2 2 11 2 7 2 6 1 10 3 2 3 2 1 7 2 7 1 3 1 2 1 14 1 8 1 7 1 9 1 4 1 10 1 7 1 8 1 7 1 5 2 7 1 6 5 2 4 1 2 2 1 2 1 1 2 18 2 1 1 3 2 4 4 2 1 1 1 7 2 8 1 5 3 2 2 1 2 11 2 1 1 6 1 4 1 3 3 11 2 5 1 4 2 2 2 3 1 5 2 7 1 9 1 8 1 3 1 1 2 2 2 3 1 11 1 7 1 1 1 12 2 17 2 5 1 4 1 3 1 10 2 10 2 7 1 12 2 9 2 4 2 16 1 9 1 2 1 9 1 1 1 5 3 26 1 2 1 5 1 4 1 23 1 4 2 10 2 22 1 8 1 3 1 5 1 12 1 4 1 14 2 1 2 5 5 23 1 14 1 7 3 1 1 3 1 14 3 9 2 7 2 37 2 2 1 5 1 10 3 4 2 12 1 1 2 17 1 4 1 8 2 6 2 12 1 2 1 4 2 4 1 2 4 4 2 7 1 8 1 16 1 3 1 16 1 3 1 1 1 1 1 8 3 5 3 4 3 3 2 2 3 14 1 5 2 4 1 17 6 13 2 5 2 5 1 5 1 6 2 3 1 3 3 3 1 2 2 21 1 5 1 3 3 3 2 4 1 3 2 1 1 4 1 5 1 6 1 6 1 8 1 4 1 18 3 1 1 4 1 9 2 2 1 5 1 2 2 2 1 13 1 3 1 2 4 3 3 3 4 29 1 3 1 6 6 1 2 7 2 1 2 13 2 2 1 2 4 11 2 6 1 1 1 12 1 4 1 7 1 1 1 21 1 13 6 3 2 2 1 19 1 9 1 3 2 1 1 4 4 2 1 1 2 8 1 24 2 4 1 12 1 27 1 10 1 14 1 17 2 1 2 2 1 15 1 3 2 3 1 3 1 6 1 6 1 35 1 16 1 16 1 25 3 5 1 21 2 7 2 3 3 9 1 3 2 3 2 13 2 3 3 7 2 1 1 3 2 20 2 6 3 1 2 4 2 3 1 19 1 4 2 4 1 15 1 4 2 2 1 2 2 4 1 2 3 2 1 6 4 3 1 8 2 18 3 1 2 5 1 29 2 8 6 7 3 19 2 7 7 7 3 1 1 2 1 18 1 4 1 6 1 5 1 5 1 2 1 20 1 5 1 6 1 4 1 2 1 2 1 2 2 2 1 2 1 1 3 3 2 11 1 1 1 34 2 17 3 3 2 22 3 3 2 9 2 13 1 5 1 17 1 2 2 14 2 10 1 16 2 1 1 5 1 13 2 7 3 10 1 27 1 4 2 2 1 12 1 4 1 3 1 1 1 8 2 4 3 14 1 16 1 15 1 4 1 1 2 15 2 23 1 31 1 9 1 6 1 6 2 7 1 3 1 7 1 10 1 1 2 20 1 3 2 4 2 24 1 15"/></g><rect x="488.00" y="711.00" width="20.80" height="9.40" fill="#1a1a1a"/><text x="490.00" y="719.20" font-size="8.3" fill="#fff">CN6</text><g transform="translate(582.00 711.00) scale(1.00000 1.00000)"><rect width="89" height="89" fill="#d2d2d2"/><use href="#sp1" stroke="#ece31c" stroke-dasharray="0 10 1 2 1 11 1 14 5 1 1 14 2 12 4 25 1 1 2 29 5 14 4 11 2 18 1 15 1 2 1 15 2 14 3 17 1 26 2 14 4 50 2 13 2 50 1 18 1 27 1 18 1 30 2 18 1 4 2 3 2 4 1 3 1 12 4 7 1 4 1 37 1 14 1 48 3 11 3 2 1 13 1 4 2 3 1 19 2 1 2 13 2 101 1 9 4 2 3 3 1 2 2 9 1 9 3 5 2 1 1 1 2 3 11 118 4 1 1 8 1 10 1 12 2 19 1 1 1 84 1 41 1 72 2 25 1 120 1 207 2 89 1 3 1 40 1 1 4 19 6 44 1 48 1 21 3 21 1 5 1 6 6 21 6 5 2 5 2 19 4 5 1 15 1 33 2 13 1 6 2 1 1 20 1 6 3 2 3 2 2 21 2 4 1 3 2 29 2 6 2 8 7 34 2 18 3 32 2 4 1 3 1 19 1 3 2 33 3 2 1 2 1 13 1 12 1 24 1 1 1 53 1 1 1 66 1 21 1 32 1 4 1 17 2 3 1 14 1 51 2 8 1 5 2 12 2 3 1 23 1 3 2 17 9 37 1 2 5 1 1 52 1 3 1 1 2 1 4 16 1 22 8 1 3 9 2 4 5 22 3 14 3 3 1 1 1 60 1 1 2 1 1 14 3 3 1 18 4 2 1 3 1 13 1 28 2 17 4 1 1 4 1 52 1 1 6 2 2 12 3 75 2 14 1 2 6 59 3 1 1 16 4 56 2 15 5 1 1 12 3 2 3 59 5 1 2 10 3 1 1 18 3 39 1 20 6 7 3 1 4 58 1 4 2 11 5 12 1 52 2 14 4 14 1 2 2 49 2 7 1 17 4 14 1 51 1 15 2 21 1 4 1 1 1 33 1 5 1 149 1 39 1 87 1 142 1 30 3 4 1 2 1 39 1 36 1 62 3 10 2 15 2 12 1 20 1 32 2 8 2 9 2 7 2 32 1 35 1 15 1 34 2 32 3 6 1 9 1 1 1 6 1 34 1 36 1 50 1 29 1 10 2 3 1 3 2 6 1 2 6 3 3 23 1 35 1 4 2 3 2 52 2 1 1 2 1 4 4 2 6 8 1 2 1 4 1 1 4 2 1 3 5 1 1 5 1 1 2 1 2 1 3 8 1 43 1 21 1 25 1 8 1 8 1 4 1 2 7 1 2 5 1 16 4 3 2 1 2 1 1 7 1 38 1 2 1 18 1 50 1 14 3 2 2 35 1 3 4 49 4 17 1 9 5 15 1 26 3 3 2 1 2 5 2 27 4 7 1 5 1 44 3 63 2 24 1 30 2 8 1 12 1 1 2 27 1 15 1 13 3 141 1 25 2 3 1 3 1 5 1 77 5 3 4 84 1 3 1 31 1 51 5 3 2 4 2 39 1 9 1 30 1 3 2 29 1 18 1 30 2 9 2 17 1 16 3 17 1 16 1 11 1 1 2 3 1 14 1 16 1 17 3 40 1 34 3 49 1 3 2 42 3 3 2 24 1 8 1 6 2 1 5 29 1 4 3 43 1 83 5 3 1 9 1 1 1 6 2 36 1 4 3 10 1 23 2 5 2 5 1 10 2 5 1 11 1 8 2 13 1 2 1 8 1 22 2 14 4 25 1 12 1 3 3 23 1 3 3 1 1 10 1 25 3 9 1 5 1 1 1 10 3 4 1 12 1 6 1 22 1 25 2 1 2 34 3 7 3 14 3 87 1 16 3 9 1 3 2 13"/><use href="#sp1" stroke="#4bbfe9" stroke-dasharray="0 1 1 56 1 104 2 9 1 17 1 9 2 30 1 29 1 5 1 10 1 63 3 15 1 1 1 22 2 1 1 80 1 36 1 30 1 21 1 66 1 1 2 22 3 35 1 95 1 42 1 1 1 15 1 14 1 31 2 32 1 7 3 18 1 37 1 23 4 1 1 32 1 1 1 12 1 10 1 32 1 2 2 7 1 15 1 31 6 21 5 17 1 31 1 6 3 43 1 20 1 23 1 199 1 9 1 68 3 31 3 16 1 16 1 35 1 42 5 29 4 31 4 30 3 51 1 29 1 129 1 23 1 30 2 49 3 43 2 44 1 13 2 52 2 13 1 3 1 4 1 20 1 65 2 4 1 6 1 25 2 52 1 12 2 25 1 14 1 24 3 1 2 4 2 6 1 35 1 11 4 25 1 20 3 23 4 11 2 42 1 16 1 32 1 1 2 18 1 5 1 13 1 6 2 25 2 33 1 17 1 3 2 50 1 27 3 3 3 3 3 5 1 77 1 43 2 41 2 5 1 6 1 45 1 29 1 1 2 12 2 33 2 22 2 20 3 7 1 16 1 4 3 57 1 72 4 14 1 9 1 19 1 80 3 16 2 52 3 2 1 6 2 50 2 19 1 47 2 50 2 10 1 51 2 65 3 104 2 7 3 64 2 1 1 5 2 100 2 4 1 49 1 29 1 27 1 64 3 16 1 54 2 3 1 1 1 8 2 14 1 46 1 48 2 33 1 11 3 5 1 135 2 12 1 26 2 1 2 17 1 117 5 16 1 24 3 23 1 50 3 15 1 43 4 68 2 14 2 14 6 14 2 13 1 1 1 1 1 11 4 93 1 1 1 1 4 55 2 6 1 15 4 99 1 93 1 2 2 254 1 110 2 71 2 259 1 4 1 103 1 27 3 12 1 20 3 12 1 27 2 76 1 41 2 7 1 10 3 41 2 99 1 18 1 426 1 63 1 95 1 25 2 12 2 6 1 60 2 17 1 55 1 22 2 1 1 12 1 73 1 22 3 12 1 10 1 13 2 5 2 67"/><use href="#sp1" stroke="#3a4fb0" stroke-dasharray="0 2 2 175 2 64 1 125 1 7 1 71 1 95 1 75 1 17 1 5 1 177 1 4 1 96 1 78 4 5 1 67 1 3 1 6 2 15 1 79 1 7 2 78 1 16 2 48 1 18 1 8 1 87 1 3 2 8 1 82 1 6 1 148 2 202 1 107 1 172 3 415 1 57 1 1 4 31 1 3 1 24 1 173 3 50 1 170 1 157 1 25 1 176 1 81 1 69 1 19 1 506 1 71 1 29 1 47 1 26 1 34 6 35 2 38 1 26 1 13 1 36 1 125 2 132 2 52 1 199 2 66 1 49 2 11 1 1 1 18 2 69 3 12 1 2 1 74 2 38 1 33 1 15 3 92 1 53 1 38 1 87 3 205 1 149 1 345 2 6 2 141 2 2 1 4 1 23 1 4 1 59 1 29 1 64 1 1 2 118 1 79 1 323 1 584 1 8 2 102 3 68 2 6 2 69 1 17"/><use href="#sp1" stroke="#161616" stroke-dasharray="0 5 5 4 1 2 1 1 6 2 4 4 2 19 2 1 2 4 2 3 3 1 1 4 1 1 3 3 3 3 1 1 1 4 1 4 1 2 6 2 3 1 6 6 1 13 2 4 3 5 3 2 1 7 1 1 4 2 1 3 6 2 4 7 3 1 2 3 3 4 1 7 2 5 1 2 1 9 3 2 9 3 3 3 3 3 2 3 4 5 6 4 4 7 4 3 1 1 3 4 5 7 5 9 5 2 2 6 2 1 1 3 3 11 1 1 3 8 4 5 2 4 3 1 1 4 6 5 7 7 6 3 5 2 1 5 5 7 6 4 2 2 2 6 1 1 2 1 2 10 2 1 2 11 2 2 1 10 2 2 1 4 1 7 3 30 1 4 6 1 2 4 5 4 3 3 2 9 5 5 4 1 4 1 3 4 1 28 2 3 2 2 3 3 1 8 2 9 2 10 4 2 1 2 4 2 1 2 3 16 1 2 2 3 3 1 8 2 9 14 8 2 2 9 1 6 2 15 4 8 2 5 1 11 3 9 1 5 1 4 1 20 3 5 2 4 1 2 1 1 3 15 2 2 1 2 4 2 1 7 2 2 5 4 1 19 5 2 2 3 2 6 3 8 6 5 6 3 3 6 3 3 2 2 3 1 2 2 3 1 2 7 3 12 2 2 3 4 2 2 1 1 3 13 5 2 2 7 4 6 2 6 3 2 1 1 2 5 3 1 2 12 2 3 2 12 1 1 3 2 2 14 2 5 2 3 1 8 1 11 4 5 7 5 4 5 1 3 1 2 1 6 1 4 1 5 4 3 1 4 1 8 2 12 1 2 9 1 4 10 4 6 1 4 1 6 1 8 2 19 5 3 1 12 6 7 2 2 2 2 4 2 1 5 1 3 1 3 1 11 1 4 4 4 2 3 3 2 2 2 2 7 6 4 2 2 1 4 1 4 4 11 2 5 2 4 1 7 3 2 1 7 2 6 2 3 2 2 1 3 3 2 3 6 2 2 4 10 1 1 4 4 2 11 1 4 3 1 2 4 2 3 4 2 3 2 1 7 4 4 8 6 5 11 2 10 4 12 4 9 5 3 5 1 2 4 7 1 5 3 2 5 3 10 2 4 2 4 2 4 2 5 1 4 5 1 6 5 2 1 2 7 1 7 1 5 6 13 1 5 1 13 3 1 1 22 2 2 2 4 5 2 5 4 2 4 3 4 2 13 3 4 3 3 1 2 1 4 5 1 6 2 1 5 1 9 1 2 3 3 4 4 1 3 2 9 1 15 4 2 2 2 4 2 4 2 1 4 2 8 2 2 6 5 1 11 3 3 3 13 9 2 1 11 9 3 1 2 2 4 2 4 1 3 3 2 4 2 2 2 4 1 3 2 2 8 4 1 2 2 3 3 4 3 2 6 2 5 1 1 2 2 4 3 2 1 2 1 4 8 1 1 5 5 2 1 1 6 1 1 1 3 2 3 5 2 1 7 8 6 3 3 1 6 2 3 3 1 2 3 5 4 2 3 6 9 3 9 2 1 3 3 2 1 3 6 1 4 1 3 3 3 11 5 4 1 1 8 1 5 1 4 1 1 2 3 1 5 4 2 1 4 3 4 4 22 2 2 2 3 3 1 2 8 4 2 1 5 1 2 4 10 5 2 1 18 1 7 5 4 2 10 2 8 4 7 4 18 1 1 2 3 6 7 1 5 1 11 1 3 6 9 7 7 1 2 1 9 4 1 1 8 1 6 2 8 1 8 3 1 5 3 2 12 1 14 4 5 1 3 3 2 4 2 2 1 1 18 1 4 3 1 1 1 10 26 2 4 1 5 11 7 2 4 3 2 1 6 2 2 1 4 3 4 1 8 2 1 3 3 1 4 1 1 3 2 2 14 4 4 3 5 2 2 4 3 4 6 4 8 4 1 2 6 2 4 3 6 1 4 3 6 3 1 1 6 2 6 7 6 1 5 4 3 2 10 1 2 4 5 1 4 4 6 5 5 2 6 2 6 5 5 1 1 2 6 1 2 3 4 4 3 4 5 2 3 1 6 4 5 3 3 2 3 1 3 1 1 5 5 4 7 2 3 1 2 2 2 2 1 7 2 5 4 2 3 3 1 5 4 4 4 2 5 3 2 1 10 2 10 2 3 3 5 5 4 5 5 1 8 2 3 1 3 3 2 1 2 1 2 2 15 3 7 4 2 2 6 3 3 4 5 3 2 3 3 2 3 2 6 5 2 3 10 1 3 1 8 1 3 2 10 2 14 2 2 1 14 1 9 1 13 1 5 2 6 2 6 4 2 2 2 1 4 3 8 1 5 1 4 1 3 1 10 2 5 4 5 1 3 1 3 3 5 5 10 2 5 2 5 3 5 1 6 2 6 1 11 4 2 3 15 6 6 2 5 1 2 1 5 4 5 6 17 8 2 4 27 2 2 1 12 3 3 3 12 3 3 6 8 3 7 1 2 2 3 1 3 2 2 1 7 1 10 1 3 1 5 13 4 1 7 1 6 1 4 1 2 4 4 1 2 2 11 1 6 3 5 2 2 2 4 1 6 3 1 1 8 3 5 2 7 5 2 6 3 3 3 2 4 2 5 2 19 5 10 1 5 1 20 3 1 1 11 1 7 1 10 4 3 3 2 7 3 2 4 1 17 2 5 1 4 3 1 4 1 1 3 6 4 2 7 1 4 1 11 4 2 3 2 3 2 1 9 3 1 1 3 1 3 1 4 2 1 1 2 2 2 3 7 2 4 2 2 1 5 4 3 5 3 1 3 3 5 2 11 1 3 6 2 2 7 3 4 2 2 1 4 2 1 6 9 5 2 2 5 2 2 5 5 1 2 1 3 1 8 5 8 3 1 6 4 1 5 8 7 3 4 1 7 2 3 6 3 3 3 3 6 3 2 2 4 5 11 1 1 8 5 1 5 2 1 6 5 1 3 6 6 2 3 1 9 2 5 1 2 1 2 8 12 2 4 8 7 1 3 1 4 2 7 1 2 4 6 1 2 3 3 5 1 2 5 1 2 2 2 9 3 1 9 2 3 5 7 1 4 1 11 1 3 2 6 2 2 1 4 3 6 4 2 6 10 2 1 7 1 2 1 2 9 10 40 7 3 3 9 2 7 2 7 1 3 2 26 4 10 1 19 2 5 2 2 1 30 1 14 3 7 2 7 1 2 1 9 2 10 1 10 1 7 5 7 3 6 2 6 3 3 2 5 3 8 1 5 2 12 8 3 2 1 1 8 1 5 2 23 1 2 1 4 7 1 5 9 6 11 2 3 1 2 2 3 3 6 2 7 2 1 2 9 5 2 3 4 2 3 12 5 5 1 8 9 1 19 1 5 2 2 3 8 13 2 5 1 2 5 2 2 5 2 3 2 5 9 2 2 1 22 1 5 4 1 4 9 1 6 9 1 1 4 2 2 1 4 2 5 2 6 1 5 1 6 2 6 2 1 4 1 1 2 2 5 1 1 5 15 7 7 2 25 2 1 1 2 3 2 4 8 6 8 1 7 2 2 1 5 10 1 3 5 2 4 3 5 1 3 3 7 2 9 2 3 3 9 4 9 3 4 2 3 13 12 1 6 2 5 7 1 8 1 2 5 2 3 2 4 1 10 2 3 1 6 3 5 3 14 3 3 3 5 3 3 2 9 2 3 3 3 3 5 1 4 7 3 3 5 1 6 2 5 5 3 4 2 2 4 4 6 3 6 4 8 1 9 1 3 3 5 4 1 4 15 4 2 3 5 3 3 2 16 2 1 2 5 7 2 2 7 1 4 4 1 6 5 3 3 1 1 4 7 6 2 4 7 2 3 1 18 1 7 2 2 1 6 2 11 3 5 4 9 2 10 2 3 1 16 3 4 4 2 1 4 2 8 2 6 4 11 2 1 4 4 1 6 2 10 2 2 2 9 4 4 4 1 4 4 4 7 2 1 2 3 1 3 5 4 1 2 2 1 2 9 2 23 3 6 1 3 3 2 1 2 1 6 5 3 3 10 2 5 3 12 5 4 1 4 2 2 1 7 5 2 1 2 7 1 1 3 1 1 7 7 2 6 3 2 2 10 4 11 4 2 1 2 3 6 1 1 4 3 5 7 2 4 4 7 5 1 2 1 5 3 2 3 2 11 2 1 1 4 4 3 1 2 3 3 1 2 3 1 3 13 1 1 4 2 1 4 3 7 1 11 2 3 6 1 2 8 4 4 6 19 2 3 1 2 1 2 3 9 1 3 4 3 3 5 1 14 1 1 1 1 3 1 4 16 5 1 1 1 1 2 1 5 6 13 3 4 2 1 1 3 1 4 2 9 1 1 1 2 4 4 1 23 5 13 4 4 9 1 4 11 2 3 2 9 4 1 4 6 4 1 6 6 2 2 6 7 4 2 6 2 1 4 4 12 1 1 3 7 3 9 4 2 1 2 2 3 1 2 1 4 2 11 1 2 5 3 6 4 7 2 3 9 2 1 2 7 1 4 2 10 1 2 1 2 15 2 1 8 2 11 2 3 3 2 1 2 6 2 2 2 2 3 2 2 2 2 6 6 1 5 1 3 2 1 1 4 2 7 9 1 4 2 2 5 2 3 2 5 1 5 1 6 1 2 4 3 1 4 3 2 3 1 1 2 1 2 9 1 2 10 1 2 1 6 1 3 2 2 2 2 4 5 3 1"/></g><rect x="582.00" y="711.00" width="20.80" height="9.40" fill="#1a1a1a"/><text x="584.00" y="719.20" font-size="8.3" fill="#fff">CN7</text><g transform="translate(15.00 806.00) scale(1.00000 1.00000)"><rect width="89" height="89" fill="#d8222a"/><use href="#sp2" stroke="#3f54b0" stroke-dasharray="0 2 1 12 3 6 1 1 1 4 1 7 2 5 2 9 2 12 3 14 1 4 2 11 2 3 4 9 1 16 5 12 1 2 2 3 2 8 1 22 1 21 1 3 2 10 1 11 6 13 2 3 1 8 1 9 1 5 4 1 2 24 2 2 2 27 3 5 2 32 2 5 1 15 2 57 1 2 3 2 1 9 1 1 1 6 1 34 1 23 2 4 2 13 2 1 1 11 6 2 2 6 1 9 1 17 1 14 3 1 3 5 2 3 1 4 1 2 3 8 1 3 3 2 3 10 1 19 3 2 1 1 2 2 4 1 2 9 1 13 1 4 1 6 3 2 1 42 2 3 1 2 3 11 1 3 1 7 3 10 1 1 1 4 5 2 1 30 2 17 2 7 2 2 2 8 1 2 1 2 2 2 2 38 4 18 1 3 1 7 2 12 2 3 2 16 1 20 2 2 5 4 2 12 2 16 2 2 3 2 1 1 2 4 1 3 1 13 6 3 4 2 2 8 1 13 2 4 1 5 3 6 4 1 2 10 1 16 1 13 2 3 6 11 2 26 1 2 3 1 1 1 3 19 1 1 6 26 3 7 3 4 2 3 1 39 1 3 4 10 3 7 2 32 3 17 2 4 3 8 3 6 2 13 2 6 1 13 4 29 1 15 2 5 1 3 1 7 1 14 1 7 1 11 1 9 1 3 1 16 1 1 1 10 3 13 1 2 2 1 2 8 2 5 1 4 4 1 2 1 4 2 1 3 5 6 3 5 1 15 1 3 4 1 1 19 1 4 3 16 1 3 2 9 3 4 2 3 4 13 2 5 2 26 2 8 2 8 1 9 2 24 1 1 1 5 2 5 1 7 4 4 1 5 3 7 2 8 1 2 2 4 1 2 2 5 2 9 1 10 2 17 1 19 2 11 1 7 1 2 1 10 2 13 2 7 1 11 3 5 1 1 1 10 1 2 2 3 2 10 2 9 1 1 1 19 2 4 1 21 1 1 1 21 1 10 1 9 2 14 1 11 1 8 3 4 1 4 3 22 2 2 2 6 2 1 2 1 2 33 1 2 1 7 1 1 1 4 3 2 1 8 4 3 2 5 1 20 2 21 4 2 4 9 2 13 1 3 1 12 5 4 3 20 3 18 1 8 2 1 1 1 2 12 1 8 2 2 1 15 1 9 1 6 3 4 2 1 1 2 5 39 4 3 1 7 2 25 1 6 3 2 1 19 2 13 1 4 1 20 1 3 3 20 4 35 5 21 3 3 2 16 1 3 1 9 2 7 1 11 1 2 1 7 1 2 1 9 1 6 1 1 1 3 2 19 2 2 4 13 2 11 1 11 2 47 1 7 1 6 1 11 1 40 1 46 1 2 2 51 1 15 2 10 1 10 3 10 1 2 5 2 1 4 1 37 4 11 2 2 1 9 2 10 1 6 1 9 1 6 1 7 1 2 2 10 2 1 1 14 4 5 3 11 1 7 1 5 2 2 1 20 1 27 1 17 2 1 1 17 1 5 2 24 2 3 1 11 1 5 2 1 1 9 2 6 1 1 4 5 5 4 1 8 1 18 1 15 1 27 1 17 1 6 3 6 1 16 3 7 4 1 1 4 2 17 5 8 3 21 6 16 1 8 1 13 1 10 1 24 5 17 1 5 2 10 1 38 2 19 4 2 3 14 1 6 2 28 2 7 2 18 1 21 2 10 1 21 2 5 3 9 2 3 1 4 1 12 1 18 2 7 1 12 1 8 2 14 1 5 1 7 1 9 2 3 1 1 2 4 2 2 4 7 2 6 2 23 3 7 6 6 3 3 1 3 3 12 1 1 1 4 1 1 2 6 1 29 2 11 1 9 4 3 3 2 1 8 1 1 1 9 3 8 2 8 1 2 2 8 1 8 1 1 1 10 1 1 1 8 1 1 1 5 1 1 2 28 1 4 2 18 1 2 1 1 1 4 2 8 2 2 1 2 1 1 1 15 1 5 1 2 2 6 1 18 2 3 1 2 2 3 1 16 1 3 1 1 2 16 4 32 2 1 2 8 2 20 2 22 2 1 2 7 3 17 1 11 1 26 2 21 1 1 4 5 2 27 1 1 3 4 1 1 1 9 1 3 2 7 2 22 1 7 1 10 3 12 1 15 1 3 2 9 3 1 1 11 1 5 5 1 1 7 2 7 1 12 3 9 2 10 1 1 1 1 1 13 3 19 2 1 1 3 1 2 2 3 1 21 1 1 1 6 2 3 2 8 4 5 1 6 1 11 1 13 1 17 3 9 3 2 1 7 4 7 3 10 2 1 1 17 1 3 1 7 1 2 2 14 3 10 2 10 2 7 1 2 5 8 2 1 1 1 1 23 1 6 2 4 2 2 2 1 4 4 2 13 1 4 2 2 1 7 1 1 1 6 2 1 1 1 1 14 3 20 1 3 2 6 2 3 1 7 4 2 1 3 2 3 2 5 1 1 1 17 2 3 2 11 1 1 2 3 1 1 1 11 4 3 1 1 2 3 1 16 7 15 3 2 3 3 1 12 2 6 2 3 1 14 2 4 2 1 1 10 5 17 2 2 1 6 1 12 1 13 3 11 1 21 1 3 1 7 2 39 2 22 1 4 1 1 1 2 3 24 2 8 2 1 1 6 1 14 1 5 1 12 1 20 2 6 1 3 1 15 2 33 3 1 1 2 1 1 2 5 6 5 2 10 1 4 2 2 4 2 4 7 2 1 1 17 2 5 3 3 2 5 1 14 1 29 2 1 2 1 1 1 6 4 1 12 4 6 2 2 2 1 2 4 1 17 2 16 2 4 5 5 1 5 1 1 1 5 4 5 1 20 1 13 1 37 1 13 2 15 2 2 1 24 2 1 3 5 2 7 2 6 2 3 2 32 1 7 1 8 3 40 1 4 2 5 1 12 5 1 2 25 2 2 1 18 1 1 2 21 2 16 1 6 2 9 1 7 4 13 3 8 1 3 2 8 2 21 4 20 3 18 1 3 3 7 2 3 2 26 1 8 1 7 1 18 1 8 2 8 2 11 4 14 1 8 1 15 1 5 1 16 1 6 4 21 2 15 1 7 1 2 1 6 3 1 1 17 1 19 2 9 1 7 1 9 3 4 2 26 1 15 3 8 4 19 2 7 2 19 1 4 1 4 2 7 2 7 1 12 3 1 1 3 1 3 3 2 1 1 2 2 1 3 3 3 1 4 1 1 2 8 1 2 2 4 1 2 4 3 2 2 2 3 2 4 2 19 1 8 2 12 2 31 2 6 4 2 2 14 2 9 2 2 1 14 4 7 1 4 2 8 1 3 1 5 1 2 1 4 2 5 1 1 1 2 1 6 1 4 3 6 2 6 1 13 1 9 1 1 1 1 2 2 3 6 1 6 1 13 2 9 3 17 1 12 1 1"/><use href="#sp2" stroke="#9cc742" stroke-dasharray="0 1 1 4 5 27 1 13 2 6 1 4 2 7 3 6 1 2 2 1 1 5 1 3 1 2 3 4 2 6 1 2 1 8 1 6 1 35 4 9 1 1 1 4 3 36 1 4 1 8 3 7 2 5 5 14 1 2 1 2 2 5 2 28 1 6 1 33 1 10 1 12 1 1 1 2 2 7 1 6 1 12 1 15 1 3 4 3 1 1 2 2 1 6 4 6 2 5 2 2 1 23 3 4 2 7 1 2 1 16 1 12 3 15 1 10 2 30 1 2 2 4 2 6 2 13 2 25 1 21 1 11 1 10 1 4 3 13 1 5 1 10 1 9 2 21 1 2 1 21 2 16 1 11 1 9 2 30 1 5 1 11 3 31 1 36 1 9 1 5 1 9 2 11 1 8 1 1 1 4 3 20 1 15 1 8 1 7 2 2 1 16 7 30 1 20 2 48 5 32 1 16 6 11 2 7 4 4 3 2 1 41 3 46 1 29 2 14 2 5 3 29 1 25 1 24 1 28 1 9 1 6 1 26 2 14 1 9 1 14 1 17 2 2 2 16 1 3 3 7 3 16 2 15 2 5 2 34 1 3 2 4 2 15 1 5 1 26 1 9 2 6 4 20 3 1 1 13 1 53 2 8 1 4 1 22 1 17 1 12 2 17 4 33 2 39 2 17 4 16 2 11 3 1 1 8 1 7 1 23 1 11 1 10 1 17 6 17 2 1 1 1 1 13 1 4 2 12 1 5 1 9 1 45 2 6 1 28 1 26 1 3 1 19 1 10 2 2 1 19 1 2 3 2 2 2 2 1 1 16 1 17 1 6 2 2 1 10 1 6 3 16 1 18 2 1 1 4 1 23 2 1 3 10 1 23 2 7 1 6 2 5 1 21 1 21 2 16 2 10 1 6 1 1 2 61 2 6 2 7 1 9 2 3 1 4 2 10 2 9 1 28 1 11 2 18 1 18 4 6 2 7 1 11 1 2 3 3 3 6 1 12 1 10 1 19 1 12 1 3 1 30 1 4 1 18 1 11 1 27 3 8 3 8 1 30 1 2 1 14 1 2 2 44 4 10 1 5 2 6 1 33 1 3 1 7 1 18 2 7 2 4 2 6 2 5 2 13 3 6 2 27 2 37 2 5 1 1 1 1 2 3 1 18 2 12 1 1 2 25 1 2 2 27 2 6 2 24 2 33 3 16 1 6 2 3 2 24 1 2 1 9 3 22 1 9 1 4 1 3 1 1 1 3 1 1 1 10 1 4 2 16 1 11 1 30 3 4 2 7 2 19 2 1 3 6 3 2 5 14 3 11 7 19 1 14 1 20 5 4 1 4 1 1 5 8 2 5 1 1 3 1 1 13 1 4 1 5 1 20 3 1 2 4 1 8 2 8 1 1 1 6 4 13 1 14 1 11 1 8 2 2 1 9 3 10 2 6 1 3 3 1 2 2 1 23 1 22 1 12 5 24 3 32 3 11 1 23 1 1 2 1 3 3 2 17 2 1 2 18 6 6 2 15 2 1 4 41 1 59 1 4 1 2 1 6 1 9 1 2 2 4 2 5 2 4 2 1 2 8 1 6 1 21 2 10 1 49 1 19 1 11 2 7 3 2 1 2 1 7 2 7 2 29 1 1 1 28 1 7 2 4 1 8 1 4 1 19 1 12 2 6 1 18 1 90 1 5 1 6 3 2 1 8 1 21 4 9 3 38 2 14 2 5 2 8 3 2 1 1 3 14 1 11 1 9 1 18 1 9 5 21 1 3 1 1 1 4 2 16 1 9 1 25 1 4 1 3 2 8 2 2 2 3 1 8 1 22 3 11 1 6 2 4 2 3 1 30 5 3 1 9 2 7 1 1 2 7 2 1 1 19 1 8 2 16 3 18 1 37 3 29 3 2 3 9 1 1 1 1 1 3 1 11 1 8 1 18 1 1 1 3 4 11 4 32 2 4 1 10 1 2 1 4 1 10 1 1 1 14 1 17 1 2 2 7 1 7 1 6 1 1 2 4 1 26 2 5 1 3 1 16 2 12 1 2 2 2 2 8 2 12 1 32 1 23 2 10 1 9 2 2 2 5 3 6 3 11 5 4 1 2 4 5 1 2 1 3 1 1 1 2 4 11 1 16 2 2 2 24 1 30 1 19 3 13 4 5 1 12 2 30 1 1 2 13 2 1 1 18 1 18 1 17 3 37 2 14 1 4 1 19 1 30 2 5 1 44 2 4 1 14 2 38 1 3 2 6 1 7 1 5 1 31 2 4 1 6 1 5 1 1 2 2 3 20 1 22 1 15 1 1 3 15 1 2 4 8 2 7 3 4 2 13 2 6 1 20 1 14 3 3 3 6 1 12 1 2 2 15 2 2 1 37 1 7 1 6 1 17 4 56 1 2 1 33 1 54 1 5 1 29 2 49 1 1 1 21 2 6 4 2 1 32 1 18 1 8 1 3 1 8 1 19 1 3 3 12 1 31 4 7 1 28 1 6 1 1 1 10 1 19 3 2 1 6 3 3 4 33 3 45 1 3 3 27 1 5 4 15 1 1 1 4 2 5 1 9 2 15 1 2 1 28 1 9 1 23 1 2 1 2 1 30 2 13 2 6 2 11 3 1 1 13 1 2 1 9 2 25 1 9 1 5 1 28 3 7 1 33 1 5 1 29 1 11 3 6 1 4 1 9 2 27 1 4 1 6 1 5 1 2 1 5 1 3 1 2 1 4 3 2"/><use href="#sp2" stroke="#f6e464" stroke-dasharray="0 45 1 5 1 71 1 6 1 6 1 78 2 12 1 12 2 44 1 6 1 8 3 12 1 88 1 3 2 68 1 135 1 50 1 55 1 17 1 90 1 3 1 71 1 15 1 28 1 60 1 221 2 158 1 41 1 47 1 10 1 42 1 13 1 213 1 156 1 184 1 3 2 134 1 119 1 34 1 163 1 4 1 114 2 89 1 42 1 48 1 21 1 25 1 32 1 103 1 91 1 117 1 14 2 50 1 14 1 40 1 211 1 129 1 20 2 28 1 9 1 32 3 64 1 77 1 3 1 101 1 4 2 29 1 45 1 30 1 6 1 469 1 298 2 127 1 2 1 7 2 36 3 4 2 37 1 2 2 4 1 36 2 16 1 31 1 25 1 21 1 17 1 24 1 33 1 9 1 5 2 6 1 59 1 9 1 19 2 34 1 23 1 11 1 7 1 85 1 75 1 37 2 72 1 10 1 73 1 69 2 25 1 16 1 22 2 97 1 19 1 70 1 12 1 170 1 16 2 120 1 210 1 6 1 3 1 17 3 29 1 51 1 21 1 5 2 175 2 56 1 37 1 83 1 2 2 9 3 33 2 4 1 9 1 133 2 31 2 3 1 26 1 23 1 39 1 22 1 27 2 2 1 33 1 31 1 17 1 4 1 3 1 35 3 2 1 47 1 1 1 33 2 44 1 2 1 3 1 50 1 1 3 50 2 80 1 17"/><use href="#sp2" stroke="#f7f4f6" stroke-dasharray="0 3 1 55 1 20 1 41 1 209 1 7 1 3 1 56 2 262 1 465 3 17 1 105 3 74 1 113 1 116 1 78 1 21 1 75 1 72 1 613 2 70 1 27 2 6 1 83 1 3 1 83 2 93 1 94 1 37 1 12 1 34 1 20 1 114 1 276 1 32 1 208 1 77 5 59 1 37 2 63 1 13 1 44 2 66 1 148 1 60 1 16 1 307 1 36 1 66 2 77 2 38 2 8 1 14 3 11 1 25 1 74 2 2 2 17 1 85 1 16 1 54 1 8 1 1 1 15 1 81 2 83 1 195 1 28 2 13 1 152 1 92 1 108 1 356 1 74 1 197 1 30 1 27 1 109 1 33 1 3 1 33 1 535 1 312 3 221 1 23 1 18 1 87 1 17 1 4 1 72 2 134"/><use href="#sp2" stroke="#d563a7" stroke-dasharray="0 108 1 39 1 56 1 12 1 39 1 182 1 25 2 206 2 161 1 797 2 35 1 46 3 44 1 4 2 326 1 28 1 94 1 23 1 36 1 64 2 45 1 33 1 40 1 85 1 91 1 123 1 152 1 21 1 62 1 801 1 115 1 98 1 25 1 182 1 63 1 455 1 175 1 92 1 234 1 433 1 13 2 64 2 34 2 64 1 12 2 49 1 235 1 153 1 246 2 103 1 134 1 138 1 263 1 96 1 189 1 101 2 9 1 25 1 9 1 234 1 68 1 5 1 43 1 18 1 5 1 6 1 101 1 40"/><use href="#sp2" stroke="#0b8286" stroke-dasharray="0 4 1 173 1 253 3 136 1 652 1 432 1 70 1 365 1 33 1 7 1 190 1 1 1 52 1 877 1 2 1 61 1 49 1 135 2 134 1 14 2 1 1 147 1 99 2 82 1 36 1 184 1 3 1 16 4 112 1 12 1 58 1 32 1 42 1 6 3 71 4 23 3 154 1 118 1 38 1 118 1 52 1 90 2 288 1 132 1 32 2 83 1 28 1 97 1 270 1 194 1 4 1 403 1 597 1 78 1 560 1 57 1 70 1 86"/><use href="#sp2" stroke="#161616" stroke-dasharray="0 23 1 24 1 18 1 1 1 11 2 17 2 13 2 4 1 16 1 11 1 8 1 9 1 20 1 11 1 19 1 4 3 2 1 7 1 45 1 15 1 20 1 3 1 17 1 2 1 10 2 12 3 8 1 1 3 31 1 27 1 36 1 7 1 1 1 18 1 28 1 16 2 26 1 13 1 20 1 15 1 13 1 9 2 13 1 2 1 3 2 18 2 17 1 42 1 29 1 8 2 6 2 4 1 24 1 4 1 6 1 11 1 5 1 8 1 28 2 28 1 7 1 2 1 33 1 11 1 2 1 66 2 26 1 10 1 48 1 18 1 68 1 19 1 4 1 50 1 27 1 6 1 3 2 20 2 7 1 8 2 3 3 5 2 6 3 7 1 5 1 14 1 5 1 7 1 12 1 2 4 22 3 7 3 22 1 10 1 3 2 5 2 14 1 24 1 32 2 28 1 53 1 39 1 4 1 24 1 8 1 13 1 2 1 38 1 31 1 73 1 30 2 5 2 8 1 3 1 23 1 3 1 8 1 1 1 8 1 14 1 2 1 53 1 19 1 31 2 1 1 1 1 5 1 14 1 4 1 36 1 3 1 17 1 3 2 9 2 41 1 32 1 4 1 2 1 4 2 14 3 2 1 8 3 16 1 8 1 10 1 6 1 16 1 30 1 8 1 9 2 8 1 6 3 1 1 49 1 5 1 5 1 9 2 28 1 7 1 13 1 41 2 16 1 5 1 1 1 13 1 2 2 17 2 2 2 27 1 34 1 2 2 14 1 27 1 35 1 4 1 23 1 8 1 30 1 5 1 2 1 16 2 17 2 17 1 9 1 5 1 22 1 1 1 14 1 37 1 15 1 1 1 4 1 20 1 14 1 25 1 20 1 1 2 4 1 11 1 43 1 31 1 4 1 17 1 51 1 38 1 4 2 45 1 19 1 16 1 15 2 16 3 11 1 3 1 11 2 22 1 13 1 3 1 5 1 17 1 5 1 17 1 39 1 14 1 35 1 19 2 17 1 5 1 29 1 24 1 25 1 10 1 30 1 30 1 1 2 43 1 18 2 18 1 34 1 1 2 18 1 11 1 30 2 20 1 3 1 10 1 3 1 33 1 7 1 1 2 21 1 2 1 9 3 8 1 5 1 8 2 30 2 3 1 25 1 4 6 23 1 25 1 1 1 6 1 30 2 56 1 3 1 2 1 33 1 3 1 1 4 4 1 10 1 18 2 1 1 14 2 19 1 40 1 1 2 4 1 6 2 34 2 20 1 5 3 15 1 6 2 3 2 1 1 7 1 6 2 7 1 25 1 7 1 1 1 10 1 15 1 16 1 5 1 3 1 16 1 10 3 14 1 9 1 4 1 5 1 7 3 13 1 5 1 20 1 20 2 7 3 19 1 15 2 2 1 29 2 1 2 1 1 7 1 8 1 2 1 10 1 2 1 3 1 5 1 33 2 8 1 13 1 1 1 1 1 5 1 9 1 2 2 18 1 25 2 21 1 8 1 3 1 19 1 5 1 61 1 1 1 8 1 11 1 8 1 2 1 11 2 8 1 46 2 23 1 2 1 20 2 27 2 17 1 19 1 34 2 60 1 14 1 10 1 10 1 3 1 15 1 5 2 75 1 13 2 21 1 9 1 15 1 44 1 8 1 34 1 13 1 22 1 1 3 1 1 7 1 26 1 10 1 14 1 15 2 7 3 62 1 26 1 2 1 57 1 33 1 6 1 6 1 2 1 1 1 53 2 7 3 42 1 50 3 12 3 5 3 2 2 46 1 3 1 22 1 29 1 21 1 1 1 33 1 26 3 75 1 4 1 5 1 9 1 17 1 20 1 29 1 3 1 22 2 35 2 13 2 3 2 18 1 14 1 1 1 10 1 2 1 8 1 1 1 1 1 7 1 22 1 88 1 10 2 23 1 10 1 12 1 11 1 8 1 20 1 8 2 30 1 27 1 48 2 8 1 29 1 4 1 5 2 3 1 3 1 28 2 1 2 10 1 32 1 2 1 7 1 9 1 16 1 30 1 19 1 1 2 11 1 8 1 25 1 13 2 1 1 9 1 5 1 27 2 32 1 51 4 28 1 8 1 5 1 4 3 18 1 12 1 15 1 1 1 7 1 6 1 4 1 14 1 11 1 62 1 1 2 12 1 3 1 68 1 1 1 1 2 1 1 8"/></g><g transform="translate(110.00 806.00) scale(1.00000 1.00000)"><rect width="89" height="89" fill="#ef7f24"/><use href="#sp2" stroke="#9cc742" stroke-dasharray="0 3 1 1 1 21 3 2 1 1 1 6 1 13 4 22 1 3 2 13 4 18 6 16 1 4 1 27 2 8 1 7 1 1 2 44 1 19 4 17 3 40 3 8 1 12 6 2 2 2 2 4 4 2 1 3 5 12 1 9 1 1 2 11 1 32 2 1 1 3 3 12 1 19 2 14 2 10 1 5 1 6 1 1 1 6 4 4 3 5 2 4 1 2 3 30 2 19 2 9 1 3 1 15 1 2 2 3 1 15 1 1 1 25 1 5 1 2 1 5 1 8 1 5 1 8 1 14 1 8 2 11 1 20 1 7 1 1 1 38 3 51 3 18 1 39 1 3 3 71 1 3 3 26 1 37 1 7 1 27 1 17 2 27 1 15 2 131 1 35 1 16 1 37 1 50 1 6 1 47 1 78 1 20 1 9 2 1 2 22 1 46 1 31 1 57 4 8 3 1 1 12 1 10 2 27 3 64 1 12 3 18 1 1 1 24 3 7 3 8 2 17 1 5 1 10 1 5 1 17 2 2 1 1 2 17 2 4 2 33 2 5 1 9 1 7 1 1 1 8 2 6 1 1 3 8 2 9 1 6 3 31 5 6 1 3 1 22 2 7 3 10 1 14 1 7 2 2 3 25 1 9 1 3 1 9 1 3 3 12 2 14 1 11 1 7 4 24 3 34 2 3 1 9 2 54 1 19 1 31 3 18 1 8 1 39 1 64 2 5 2 8 3 14 1 5 1 35 1 8 2 16 1 7 4 4 1 53 1 12 2 3 3 22 2 1 1 16 1 15 1 7 1 10 1 1 1 19 4 4 2 15 1 64 2 8 1 13 1 4 2 23 1 33 1 1 1 2 2 14 1 35 1 40 1 1 1 1 1 20 2 8 2 13 1 9 2 19 2 1 2 37 1 19 1 3 1 22 1 14 5 76 3 14 2 1 1 10 1 4 1 8 2 9 2 2 2 12 1 13 1 16 2 52 2 23 1 27 1 3 2 40 1 3 1 34 1 17 1 5 1 48 1 15 3 14 2 7 1 40 4 15 1 20 2 51 2 16 1 5 1 16 1 29 4 9 1 3 1 23 1 24 1 2 2 19 2 31 1 27 2 3 5 7 1 19 1 9 1 18 1 6 1 15 1 12 1 3 1 24 1 27 2 8 1 18 1 2 2 25 1 3 1 56 1 26 1 5 1 1 1 52 1 1 2 11 1 25 2 4 1 42 1 4 2 12 1 9 2 16 2 15 1 26 1 6 1 39 1 17 1 11 1 53 2 9 1 14 2 10 1 12 1 4 3 7 1 22 2 8 2 5 1 38 1 27 2 9 1 8 2 23 1 2 1 12 1 1 1 3 1 40 4 5 2 11 1 2 2 18 1 4 1 8 2 8 2 6 1 8 3 9 1 3 1 18 1 12 4 1 2 3 1 1 2 33 2 1 3 1 8 36 1 3 3 8 1 23 1 3 1 2 1 41 2 6 1 1 1 2 1 1 4 7 2 3 1 10 4 11 2 21 1 15 1 36 1 12 2 20 1 15 2 4 3 14 1 11 1 1 2 10 3 5 1 10 1 93 1 6 1 3 1 18 3 2 1 2 3 5 1 9 1 2 3 1 3 2 1 26 1 18 1 11 1 33 1 7 1 5 1 43 1 9 2 3 1 3 1 4 1 16 2 1 1 131 2 15 3 1 2 5 3 9 1 61 1 46 1 21 2 38 1 2 2 53 1 7 1 21 1 34 2 52 4 3 4 19 2 31 4 22 1 16 1 4 1 16 2 1 1 28 1 3 1 11 1 2 2 5 1 5 1 5 2 3 1 11 1 2 1 5 1 22 1 16 4 25 3 9 1 19 1 6 1 10 3 7 1 5 1 8 4 3 1 10 1 14 2 11 2 4 2 8 2 13 1 17 1 3 1 9 1 7 1 13 2 8 1 6 1 11 2 14 1 6 2 29 6 3 1 21 2 5 1 17 1 4 2 2 1 18 2 16 3 23 8 1 2 4 1 17 1 10 1 9 3 2 2 23 1 3 2 15 2 11 1 1 1 36 2 2 3 16 1 3 2 1 1 3 2 7 5 12 1 1 1 4 1 1 7 4 1 6 3 2 3 13 2 1 1 4 1 5 1 18 1 16 2 18 1 4 2 8 1 5 2 5 7 1 3 2 3 4 1 2 1 1 1 5 4 3 4 6 3 6 1 10 5 3 1 8 3 6 3 23 1 20 1 18 3 7 2 12 6 16 2 9 2 3 1 3 1 21 2 1 1 2 3 20 1 34"/><use href="#sp2" stroke="#3f54b0" stroke-dasharray="0 17 1 12 1 22 2 24 2 14 1 33 1 51 1 97 1 51 1 14 2 30 1 64 1 30 1 44 1 21 2 14 1 1 3 3 1 9 1 4 2 13 1 19 1 46 2 17 1 25 1 3 3 5 2 3 1 1 2 15 2 1 1 10 2 39 2 83 1 7 1 4 2 15 1 10 2 11 1 5 1 3 2 6 2 127 5 4 2 3 1 20 5 138 1 6 1 38 1 46 1 31 1 62 3 4 1 7 1 19 1 4 2 49 1 1 1 33 1 1 1 5 1 55 1 22 1 3 2 9 1 45 1 6 3 4 1 13 3 6 1 62 2 9 1 4 1 1 2 7 2 3 1 45 2 18 1 81 1 3 1 23 4 4 1 2 1 117 1 33 2 2 1 16 4 25 1 4 1 56 3 4 1 8 1 27 1 26 2 1 1 17 2 19 1 7 3 2 1 32 1 27 1 40 1 26 1 4 1 16 1 5 1 5 1 22 1 53 1 74 1 14 1 14 1 13 4 17 1 15 1 47 1 9 1 6 1 11 3 17 2 58 5 52 1 22 1 5 1 5 5 15 2 6 1 14 1 9 4 3 2 8 1 1 1 2 1 17 2 36 1 54 2 20 2 10 1 3 5 32 1 14 3 76 1 13 2 1 1 2 1 10 2 58 2 13 4 88 5 11 2 3 1 49 2 17 3 53 2 23 1 14 3 7 1 30 2 5 3 27 1 10 2 15 3 16 1 4 3 11 2 3 1 14 4 14 2 1 1 2 1 15 1 8 1 10 3 7 1 10 1 3 2 3 1 17 1 2 1 16 3 15 1 5 1 28 1 3 1 27 1 6 1 4 1 1 2 15 1 34 2 1 1 24 2 3 2 3 1 51 1 1 2 12 1 1 1 13 2 61 2 13 1 17 1 55 1 99 1 26 2 17 1 6 2 4 1 6 1 29 2 14 2 26 1 14 3 1 1 2 3 11 3 4 1 42 1 1 2 25 1 9 1 36 1 7 2 5 1 5 4 12 2 5 3 34 1 15 1 10 1 1 2 5 1 32 1 13 1 8 1 25 1 5 3 13 2 16 3 13 1 59 2 41 1 12 1 16 4 13 3 72 2 6 1 3 1 23 1 57 1 19 1 72 3 10 3 65 2 33 1 7 1 48 2 62 1 18 2 13 2 7 1 28 2 17 2 16 1 2 1 40 1 11 1 2 1 39 1 17 2 5 1 16 3 3 5 31 1 13 2 4 1 19 1 1 1 2 1 41 1 4 2 1 2 2 3 6 2 2 1 4 2 7 2 4 1 2 1 9 1 2 1 2 1 50 1 32 1 41 2 1 1 4 3 2 1 3 3 21 1 3 9 62 1 51 2 15 2 3 1 3 3 7 1 15 1 1 1 10 4 5 2 130 2 1 1 10 4 11 6 2 2 4 1 2 1 55 1 25 1 50 2 11 2 2 1 3 2 16 2 2 1 1 1 3 1 5 2 19 1 7 1 53 1 4 1 12 1 37 1 4 4 20 2 3 2 3 1 51 1 54 2 31 4 22 1 1 2 13 2 31 1 1 1 52 1 36 1 28 1 3 1 11 1 5 1 19 2 1 1 4 1 56 1 16 1 20 1 6 1 1 1 3 1 30 2 40 1 1 2 1 2 101 3 21 2 3 1 15 1 1 2 1 1 3 1 3 1 10 1 8 1 2 1 32 2 29 1 16 1 49 1 3 1 1 2 6 2 5 2 30 1 13 1 21 1 2 1 10"/><use href="#sp2" stroke="#d8222a" stroke-dasharray="0 6 4 1 4 113 1 35 2 2 5 3 1 15 3 6 2 110 1 10 2 22 2 7 2 17 2 6 4 13 1 3 1 4 1 58 1 37 2 23 3 34 1 9 1 49 1 3 1 19 1 22 1 60 1 78 1 113 3 39 1 11 1 17 1 16 4 15 1 11 1 46 1 9 1 60 1 17 2 15 1 18 1 20 3 24 1 4 1 20 6 28 1 20 1 62 1 43 1 5 1 12 2 151 1 17 2 1 3 8 2 16 1 11 1 21 1 11 1 71 1 3 1 29 1 23 1 1 3 18 1 121 4 12 1 24 2 1 1 2 1 28 2 1 1 69 2 9 1 1 1 17 1 3 2 8 1 29 2 16 3 1 1 4 3 4 2 2 1 6 4 30 1 20 1 1 1 10 2 2 1 8 1 1 2 17 2 2 1 51 1 12 1 1 2 61 1 57 1 15 2 37 1 2 1 53 1 38 1 12 1 24 1 147 1 59 1 3 2 9 1 20 1 7 2 58 1 24 2 45 2 19 1 3 1 2 1 1 1 108 2 3 1 19 2 12 1 4 1 24 1 8 1 8 1 26 2 2 1 16 6 35 2 2 2 3 1 11 1 5 1 6 2 1 1 14 1 6 1 4 2 6 1 50 5 51 1 49 1 24 1 18 2 1 1 24 1 34 1 12 1 27 1 5 1 3 1 5 1 5 3 19 4 10 1 2 2 5 1 1 2 68 1 16 2 11 1 10 2 5 3 6 1 5 1 2 3 13 1 6 2 17 1 5 1 3 3 4 2 89 1 3 1 29 2 2 2 10 1 2 3 26 1 7 1 2 2 11 1 79 1 1 1 4 1 27 1 11 2 33 1 5 1 95 1 38 3 6 1 18 2 136 1 27 2 3 1 12 2 25 2 34 1 46 2 29 2 2 1 4 1 5 1 10 1 10 1 2 1 29 1 26 1 24 2 116 1 39 4 1 2 76 2 9 1 31 1 7 1 10 1 97 1 7 1 20 1 8 1 13 2 3 1 2 1 2 2 117 1 7 1 27 1 4 1 1 2 2 1 10 5 6 2 24 1 126 1 3 1 1 1 31 1 102 1 19 2 6 1 1 4 45 2 10 2 53 1 12 1 55 1 27 1 10 3 40 1 23 1 87 1 5 1 6 1 3 1 5 3 2 2 52 1 22 1 3 1 11 2 9 1 2 1 43 1 4 3 7 1 2 1 11 4 2 1 2 1 44 2 6 1 3 2 28 2 3 3 29 1 21 1 8 1 30 1 16 1 1 2 55 2 1 1 45 1 13 3 29 1 14 3 31 1 7 1 1 1 4 1 10 2 27 1 33 1 11 2 7 3 17 3 8 2 9 3 10 1 66 1 40 2 2 4 3 2 7 1 2 1 10 3 5 1 17 1 9 1 4 1 40 3 7 1 7 1 55 1 14 1 1 1 5 1 3 2 7 2 2 2 5 4 11 1 3 1 53 1 61 3 6 1 6 3 47 2 26 1 27 2 4 2 28 1 15 1 26 1 8 3 12 1 23 1 5 1 5 2 95 1 14 2 6 1 3 3 2 1 2 2 1 1 12 3 2 3 1 3 73"/><use href="#sp2" stroke="#0b8286" stroke-dasharray="0 20 2 27 4 77 4 21 2 54 1 21 4 59 1 17 4 26 1 45 1 3 2 1 2 20 2 54 1 22 2 20 4 4 2 6 1 29 1 7 1 1 3 78 2 24 1 26 1 49 1 129 1 4 1 3 3 36 1 3 1 105 1 32 1 9 2 6 1 13 4 8 1 32 2 71 2 62 1 47 1 25 1 18 1 26 1 9 1 23 1 5 1 3 1 26 2 46 2 22 1 9 1 5 2 6 1 221 1 37 1 37 2 1 2 74 1 22 1 38 1 43 1 16 1 35 2 33 1 108 1 63 1 23 1 34 1 61 1 83 1 34 1 25 1 5 2 44 4 40 2 45 3 45 2 81 1 19 1 30 3 4 1 22 1 19 2 16 2 52 2 6 1 53 5 17 1 12 1 13 1 12 1 6 2 99 1 1 3 70 1 2 4 5 2 37 1 7 1 3 1 37 1 49 1 41 1 33 2 26 1 28 1 16 1 6 1 21 2 23 1 3 1 4 1 69 1 1 2 27 5 15 2 3 1 74 4 29 3 51 1 134 1 72 1 1 1 49 1 111 1 14 2 26 1 36 1 12 1 87 1 54 1 6 1 12 2 18 2 107 1 13 1 118 1 16 1 85 1 54 1 21 1 2 2 9 2 34 1 3 2 3 2 3 1 1 1 25 1 7 2 4 2 4 4 2 1 32 2 13 1 33 1 30 2 3 1 13 1 82 2 74 1 14 1 109 1 17 3 83 2 76 1 86 1 7 1 12 1 17 1 107 1 25 1 8 1 35 1 35 1 1 3 21 2 44 4 51 1 8 1 48 2 19 1 27 2 21 3 36 1 23 2 47 4 20 2 23 1 21 2 1 1 7 1 80 1 17 3 3 1 8 1 12 1 46 2 2 1 68 3 5 1 14 1 105 1 18 5 7 1 2 2 7 4 8 1 1 3 15 2 33 1 41 1 15 1 35 1 36 3 9 1 6 1 1 2 14 1 15 1 72 2 8 1 74 1 43 1 4 2 5 1 36 3 40 1 22 2 27 3 27 1 18 1 63 4 21 1 6 1 8 3 33 1 28 1 46 2 31 3 5 1 2 1 25 2 33 3 75 3 24 1 47 2 4 1 24 3 37"/><use href="#sp2" stroke="#f6e464" stroke-dasharray="0 87 1 54 2 15 1 14 2 12 4 14 2 11 2 1 2 37 2 25 1 41 1 12 1 17 2 10 1 51 1 119 1 12 1 71 3 21 2 126 1 489 1 69 1 97 1 19 2 19 2 17 1 135 1 373 1 26 1 41 1 77 1 26 1 13 1 22 1 180 1 147 1 49 2 16 1 123 1 29 1 24 1 7 1 90 1 32 1 199 1 109 1 69 1 360 1 24 1 176 1 129 1 88 2 94 1 201 1 95 1 70 1 123 1 71 1 61 2 119 2 375 1 34 3 12 1 142 3 16 1 4 1 93 1 74 1 83 2 1 1 16 1 185 1 75 2 9 1 1 2 7 2 61 2 3 1 21 2 49 1 11 2 5 2 15 1 70 1 17 1 156 2 41 1 11 1 352 2 39 2 61 1 43 1 69 1 62 1 124 2 22 1 13 1 32 2 2 3 40 1 61 1 37 1 40 1 36 1 28 1 101 1 75 1 163 2 195"/><use href="#sp2" stroke="#f7f4f6" stroke-dasharray="0 10 1 13 3 15 1 102 1 7 2 2 1 15 1 34 1 12 1 2 1 16 1 66 1 17 1 240 1 14 2 67 2 77 2 7 2 9 2 65 3 15 2 77 2 87 3 11 2 8 1 61 2 26 1 155 2 27 2 169 1 148 1 21 1 169 1 16 1 15 1 367 2 97 1 25 1 42 2 12 1 134 1 130 1 8 1 268 1 4 1 206 1 10 1 4 1 99 1 15 2 13 1 46 2 106 1 2 3 19 1 27 1 22 2 151 1 12 1 11 1 53 2 69 1 9 1 178 3 43 3 2 1 129 1 6 2 1024 1 122 1 10 1 111 1 11 2 44 1 184 1 140 2 37 1 44 1 55 2 121 1 4 1 60 1 14 1 290 1 57 1 37 2 47 2 37 1 17 1 37 1 52 2 32 1 183 1 18 1 312 1 27 2 17 1 31 1 10 2 29 1 7 1 18 2 181 2 67 1 33 1 70 1 9 1 66 1 10 2 32 1 71 1 24 3 46 4 23 2 40"/><use href="#sp2" stroke="#161616" stroke-dasharray="0 2 1 1 1 38 1 20 2 6 3 19 1 21 2 40 1 20 2 31 1 5 1 13 1 9 1 6 2 5 1 10 2 30 2 5 2 28 2 54 1 14 1 3 1 21 4 1 2 13 1 2 1 9 1 25 2 1 1 6 2 94 2 27 1 11 1 7 1 17 1 5 1 3 1 1 1 1 1 7 1 3 1 17 1 5 1 45 1 1 1 16 2 9 4 13 5 1 1 22 9 21 1 11 1 2 1 33 2 3 3 2 2 17 1 20 1 19 1 6 7 1 1 28 1 5 1 7 1 10 5 67 2 3 1 17 1 1 1 4 1 3 1 7 2 4 2 2 1 2 1 5 1 2 1 14 1 13 2 3 1 12 1 9 1 2 1 14 1 4 1 4 1 27 1 18 1 12 1 2 1 1 1 10 3 7 2 20 2 7 1 2 1 5 1 10 1 4 1 14 1 19 2 1 1 18 1 13 1 11 1 22 1 1 1 13 1 5 1 1 2 20 1 7 1 1 1 2 1 5 1 10 2 9 1 20 1 4 1 12 1 15 2 10 1 2 1 3 1 4 2 2 1 11 1 5 2 16 1 9 1 32 1 2 3 13 1 10 1 1 2 20 2 22 1 2 2 16 1 9 1 2 2 15 1 2 1 40 1 33 1 27 1 2 3 41 3 3 1 4 2 49 1 15 1 18 1 2 1 11 2 4 3 15 1 2 1 15 1 13 1 12 1 1 1 28 1 15 1 5 2 3 3 3 2 8 1 24 1 61 1 10 2 13 1 47 3 1 1 2 2 5 1 6 1 5 1 3 2 6 1 5 1 28 1 9 3 27 1 6 1 1 1 7 1 7 1 3 3 21 1 11 3 28 2 3 1 34 1 8 1 6 1 27 2 5 2 2 1 4 1 17 1 5 1 16 1 11 1 21 1 2 2 19 1 15 1 38 2 24 1 16 1 23 1 5 1 15 2 22 1 28 1 18 1 21 3 30 1 2 3 8 1 47 2 5 1 41 1 18 1 6 1 23 2 13 1 1 1 4 2 69 1 11 1 18 1 5 1 6 1 25 2 35 1 6 1 13 1 16 1 19 1 19 1 5 1 24 2 13 2 6 1 5 1 22 1 14 2 16 1 3 3 7 1 5 1 7 1 4 1 20 1 46 1 21 1 47 4 3 1 6 1 13 1 8 2 17 2 24 2 11 1 2 1 13 1 6 1 6 2 91 1 10 2 13 2 22 1 5 2 7 1 14 1 5 2 1 1 4 1 6 1 4 1 38 1 16 1 11 1 4 2 5 1 1 1 14 5 16 1 4 1 15 5 3 1 1 1 4 2 1 4 4 1 66 2 6 3 2 2 18 1 9 1 5 1 1 1 10 2 4 1 11 1 8 1 3 3 2 2 29 4 2 3 44 2 13 3 29 1 5 1 3 1 7 2 9 1 20 1 26 1 12 1 2 1 1 1 5 3 28 1 3 1 4 1 3 2 24 1 2 3 24 1 44 3 10 1 15 1 3 1 6 1 3 1 22 2 6 2 13 1 22 2 4 1 6 1 19 1 8 3 10 2 9 1 35 2 6 1 12 2 1 1 3 1 17 1 26 1 5 2 7 1 2 1 4 1 1 1 15 2 17 2 10 1 2 1 8 1 1 1 11 1 62 1 30 2 4 3 4 1 8 1 45 1 17 1 25 1 7 1 10 1 6 1 3 1 4 1 42 2 5 1 11 2 40 2 2 1 9 1 38 1 46 1 2 1 6 2 15 2 42 1 13 2 1 1 7 1 5 2 1 1 1 2 12 1 14 1 4 2 6 2 6 4 29 1 34 1 24 3 22 2 3 1 34 1 4 3 18 1 13 1 17 1 2 1 52 1 8 1 7 1 4 2 7 4 7 2 9 1 7 1 11 2 19 1 1 1 21 1 5 2 2 1 3 1 4 1 7 1 6 1 3 1 5 2 27 1 14 1 2 1 15 3 1 1 25 2 52 1 2 2 3 1 3 2 6 1 17 1 23 1 35 1 5 1 17 2 8 3 1 1 3 1 31 1 80 1 10 2 28 1 1 2 3 3 3 1 47 1 1 2 12 1 13 1 67 1 2 1 7 1 16 2 8 1 18 1 3 1 84 1 21 1 7 2 23 1 4 1 14 2 11 1 1 1 15 2 11 1 20 1 23 2 6 1 5 1 37 1 1 1 43 1 8 1 18 2 43 1 18 1 32 1 4 3 27 1 6 3 10 1 15 1 9 1 3 1 6 1 7 1 3 2 3 1 9 1 1 1 25 2 2 1 3 2 21 1 7 2 5 1 27 1 11 1 1 2 17 3 2 2 6 4 18 2 12 1 24 3 36 1 11 2 15 1 20 1 4 1 33 1 12 4 50 2 10 2 4 2 10 1 33 4 9 1 6 2 11 1 14 1 9 1 4 1 9 1 1 1 10 2 34 2 7 2 2"/></g><g transform="translate(204.00 806.00) scale(1.00000 1.00000)"><rect width="89" height="89" fill="#3f54b0"/><use href="#sp2" stroke="#9cc742" stroke-dasharray="0 8 2 3 3 2 1 9 1 1 1 7 7 13 4 7 2 4 1 4 2 2 1 4 1 5 1 8 1 15 1 7 2 13 2 7 2 2 1 7 2 1 3 1 5 2 2 1 1 5 2 4 6 11 2 1 2 8 1 19 1 8 1 9 1 3 1 4 1 8 1 2 1 3 1 9 2 1 1 1 1 13 1 3 1 4 2 10 1 10 2 2 5 4 1 17 4 2 1 3 1 2 1 9 2 15 1 6 1 3 3 16 1 1 4 11 3 1 1 1 1 12 4 2 4 3 2 15 2 1 2 3 2 1 2 8 3 20 1 15 1 3 1 1 4 1 1 2 1 11 1 1 3 10 2 4 1 5 4 2 2 15 2 1 1 1 1 42 2 1 7 2 1 9 1 1 1 13 2 2 4 1 6 7 2 1 2 6 1 3 1 5 3 1 2 11 1 1 1 15 1 3 2 13 2 6 2 11 3 10 1 1 4 10 1 6 2 7 8 4 6 3 1 1 3 4 1 1 5 2 3 1 1 3 1 10 1 8 2 1 2 4 2 3 2 13 2 2 4 16 3 1 3 24 4 24 1 1 2 3 2 11 2 5 1 6 4 7 1 4 3 2 2 4 2 8 1 1 2 4 1 7 2 13 4 5 1 10 1 4 5 12 1 13 3 6 1 2 3 3 1 1 1 8 1 6 3 1 2 6 1 14 1 15 2 1 1 4 1 3 1 7 1 7 1 57 1 3 1 1 1 11 1 5 1 5 1 7 3 18 1 2 1 3 2 4 1 24 5 12 2 4 1 6 1 4 1 1 2 53 1 17 2 7 1 3 5 12 2 9 2 7 1 10 3 9 3 2 2 9 1 1 1 11 2 39 1 3 2 19 2 3 1 11 3 8 3 2 1 10 3 3 1 1 2 4 1 6 1 2 2 1 3 3 1 11 6 8 3 14 2 7 1 11 3 17 1 2 1 10 1 16 1 8 1 8 8 2 1 6 2 1 1 2 1 3 2 1 1 9 1 9 3 3 3 1 1 2 9 7 1 14 4 5 1 40 1 14 1 5 1 8 1 2 1 5 9 1 2 2 2 24 1 15 1 5 2 1 2 12 1 2 1 9 1 18 1 18 1 25 2 6 2 2 1 4 2 7 2 5 5 6 2 45 1 2 1 1 1 4 2 7 2 15 2 6 2 24 3 12 3 2 5 38 1 38 2 7 1 23 2 3 1 11 2 4 1 12 1 1 3 8 1 2 1 14 2 6 4 1 1 2 1 12 2 15 1 6 1 10 1 15 3 20 1 4 1 13 1 6 2 7 2 8 2 2 3 13 3 3 1 16 3 14 1 23 3 1 3 1 1 14 2 10 4 1 3 1 2 16 1 1 3 3 1 12 3 11 4 2 5 3 1 6 2 2 1 5 2 1 1 8 4 3 2 6 3 13 1 1 1 4 1 3 1 2 2 3 1 11 2 17 1 6 2 2 3 1 1 2 2 12 3 10 2 6 2 3 2 3 1 15 3 11 2 4 1 7 1 5 2 3 4 6 1 8 1 1 2 10 3 20 1 6 1 1 1 1 3 11 5 1 1 10 3 2 2 18 2 10 5 7 3 11 1 4 2 9 6 7 3 5 1 2 1 1 3 9 2 11 4 14 1 17 1 1 1 3 2 3 2 1 1 8 2 1 1 9 3 11 2 6 1 8 1 12 1 5 3 2 1 21 1 22 2 2 1 28 1 1 2 8 1 12 1 10 1 14 2 1 1 17 1 17 1 5 4 1 1 15 1 7 2 4 1 5 4 14 3 14 2 7 4 5 1 7 5 4 1 8 1 11 1 11 2 5 1 26 2 4 2 11 1 4 1 1 1 16 1 1 1 3 2 12 2 3 3 2 4 4 3 5 3 2 2 1 2 4 2 5 1 1 3 4 1 12 3 16 1 4 2 11 1 6 1 10 1 5 1 14 1 9 3 2 1 6 1 4 1 1 3 3 5 3 2 1 1 4 1 11 2 4 2 2 1 2 1 6 1 2 4 4 2 4 2 22 2 6 1 25 2 4 2 2 1 1 1 10 5 3 1 6 2 2 1 3 4 17 1 8 4 4 3 4 1 2 4 3 1 11 5 1 3 3 1 3 12 1 2 6 3 2 2 4 2 12 2 6 2 9 1 1 2 5 5 3 3 2 2 2 1 4 3 16 3 2 5 1 1 1 7 3 3 2 1 1 2 1 5 1 5 5 1 9 1 8 2 5 2 2 4 8 1 8 1 1 2 2 1 4 1 15 2 1 1 9 3 1 4 1 2 12 1 2 3 13 4 3 4 1 2 5 1 9 2 2 2 3 1 5 6 12 1 1 2 12 1 1 3 4 1 10 3 30 2 24 1 3 1 21 5 8 2 15 1 14 4 17 1 3 1 20 3 3 1 28 3 11 3 1 2 15 2 3 1 15 2 3 1 10 1 2 4 8 3 1 2 1 1 3 2 7 3 13 2 1 1 2 1 4 1 10 3 4 2 8 2 22 1 8 2 5 1 3 1 7 1 4 1 3 1 1 1 4 1 3 1 8 1 5 3 2 6 14 1 7 4 2 2 7 2 4 1 9 1 1 1 2 2 5 1 5 1 5 1 8 1 8 1 13 3 6 2 5 1 4 2 8 1 1 2 14 2 6 3 9 2 14 1 6 2 5 1 2 1 1 3 20 2 5 1 11 1 5 3 4 2 19 2 5 1 6 2 3 6 6 1 2 2 2 3 4 4 14 2 8 2 15 1 19 1 12 1 5 1 4 3 11 1 34 1 4 1 2 1 18 2 4 1 3 1 7 1 13 4 2 2 29 1 9 1 2 1 1 3 25 6 12 1 3 1 4 3 5 3 5 1 2 1 2 4 6 3 8 1 2 5 6 1 8 1 1 2 8 2 3 2 4 1 2 1 2 2 15 2 15 2 3 1 1 2 1 3 2 4 3 1 6 9 13 1 8 3 7 2 3 2 23 1 1 6 3 3 3 2 7 2 5 5 13 1 13 2 5 1 4 1 1 6 6 1 15 6 2 2 15 1 11 1 3 2 7 1 11 2 4 1 14 6 23 6 12 1 3 1 10 1 9 2 12 1 3 1 6 2 5 4 10 1 20 2 30 2 8 2 1 2 9 1 4 1 3 2 10 1 1 1 9 2 15 1 3 2 3 2 1 2 2 1 7 2 7 1 9 2 1 1 1 1 2 1 5 2 21 1 7 3 1 1 22 3 2 3 1 2 9 1 15 2 2 1 2 3 23 1 6 4 3 4 7 1 17 1 7 2 23 2 1 2 6 2 3 3 41 2 2 1 11 3 3 1 2 1 20 1 5 3 5 5 6 3 5 1 7 2 3 3 12 1 13 1 7 2 4 2 5 2 8 1 4 1 1 1 6 1 4 1 4 2 3 5 2 2 3 1 5 3 2 1 4 4 14 1 5 2 1 3 8 3 23 5 3 2 8 1 15 1 4 1 5 1 1 1 16 3 11 1 3 2 1 2 23 1 1 2 6 9 3 1 5 1 2 1 1 7 2 2 2 5 46 2 5 1 15 1 9 1 5 2 4 2 14 2 14 1 8 3 1 2 1 10 1 1 1 1 14 7 1 2 16 2 13 1 32 1 17 2 3 1 10 1 16 1 14 1 7 6 4 1 1 5 16 1 4 3 2 2 5 5 21 2 6 1 1 1 6 5 6 1 1 2 1 2 21 3 5 3 2 2 4 3 2 2 4 2 3 1 11 2 5 2 6 2 3 1 6 1 9 2 2 2 12 2 5 3 3 1 24 3 15 1 18 2 2 2 2 1 1 1 12 3 21 1 2 1 3 3 6 1 6 1 5 2 6 1 3 1 1 3 2 1 5 2 12 1 17 1 13 3 3 1 3 6 4 1 3 2 3 1 1"/><use href="#sp2" stroke="#d8222a" stroke-dasharray="0 4 4 11 2 5 2 1 1 2 2 14 1 16 3 9 1 4 1 10 2 5 3 2 3 7 1 1 3 1 4 8 1 17 1 2 2 7 1 12 2 11 2 9 3 3 1 5 1 2 3 7 1 16 1 1 2 2 2 8 4 1 3 6 2 4 2 9 4 14 2 9 1 8 1 10 1 11 2 7 2 13 3 19 1 10 3 4 1 18 1 2 3 1 1 16 1 3 2 18 4 4 2 18 1 1 1 16 1 10 2 1 2 9 1 6 4 2 2 5 1 4 1 6 1 5 2 13 1 12 1 3 4 14 1 25 4 7 4 2 2 8 2 5 1 11 4 3 1 3 1 8 1 20 5 7 4 1 1 15 1 12 4 7 2 10 1 7 2 17 2 1 1 9 1 3 1 14 2 1 3 7 3 40 1 3 1 1 3 6 1 12 1 19 1 12 1 6 2 7 1 7 1 3 1 3 3 5 2 15 2 11 1 4 3 3 1 17 1 8 2 14 1 9 1 4 1 3 2 5 1 5 3 12 1 1 2 2 1 8 1 14 1 19 1 3 2 7 1 1 1 11 1 28 1 19 4 21 3 1 3 17 1 7 2 12 1 17 2 1 1 5 2 9 1 17 1 7 1 1 6 8 1 10 3 34 1 8 5 14 2 22 2 28 3 9 1 2 2 25 1 1 1 5 1 3 2 2 1 7 3 6 1 4 1 2 2 4 1 8 2 15 1 24 1 6 2 7 1 4 1 6 1 3 2 8 1 2 2 6 1 3 1 7 1 19 1 16 1 12 3 2 1 3 1 2 2 7 2 29 1 4 2 13 1 3 3 3 3 11 2 3 1 9 1 4 1 5 1 16 2 3 1 3 2 14 1 5 3 4 2 8 3 3 3 8 2 3 2 21 3 2 1 5 1 3 2 18 2 12 1 28 1 2 1 4 1 3 2 32 3 2 1 8 4 3 2 6 1 6 3 5 1 2 1 21 3 4 1 7 2 3 3 22 1 4 1 2 1 8 4 17 1 1 2 21 2 6 3 1 4 8 1 3 2 4 2 3 3 1 3 5 2 12 2 10 2 16 2 8 3 7 2 3 2 9 2 26 1 8 2 1 1 1 1 4 3 10 2 8 1 5 2 18 2 10 3 18 1 12 2 36 1 1 1 13 2 1 3 4 1 38 2 1 4 3 1 3 1 11 1 5 6 5 1 14 1 17 2 3 1 1 3 48 5 23 1 12 1 12 1 4 2 4 2 9 5 13 2 12 1 1 1 8 3 11 2 1 1 4 2 19 2 3 2 2 4 4 1 12 1 7 1 6 1 1 2 4 1 7 1 10 3 3 4 3 2 6 3 11 4 22 3 26 2 6 1 3 2 3 2 8 1 4 1 6 4 7 1 17 1 4 2 2 1 8 2 1 1 1 1 1 2 4 1 8 3 4 1 8 1 1 1 7 1 4 1 10 3 21 1 6 4 5 1 1 4 20 1 3 1 4 1 1 1 31 1 2 1 1 1 9 2 6 3 16 1 2 1 4 3 19 1 19 1 13 5 2 2 17 2 9 2 4 3 13 1 17 1 5 1 26 2 6 4 7 1 17 1 5 1 34 1 4 2 4 1 22 1 9 1 38 4 1 2 5 1 10 1 20 2 4 2 1 1 1 1 12 3 56 1 4 1 35 5 17 1 7 1 1 1 16 1 8 1 6 1 17 1 2 3 34 2 5 1 11 1 20 1 10 1 19 1 12 1 5 3 2 1 19 4 5 1 7 1 10 1 59 2 22 3 8 1 9 2 17 1 9 5 9 1 4 3 2 1 28 1 18 1 26 1 2 1 18 2 97 2 5 1 54 1 2 1 15 1 24 1 22 2 3 3 17 1 32 1 2 2 22 1 10 2 28 4 6 2 19 2 3 2 10 2 1 1 4 5 1 1 36 2 5 2 8 1 2 8 2 1 7 1 3 1 1 1 2 2 7 1 7 6 3 4 1 2 6 6 5 3 9 1 10 4 5 1 5 2 3 1 1 5 3 3 4 1 4 2 21 1 10 3 3 2 23 3 6 1 19 2 1 3 9 1 3 2 9 1 8 2 19 1 3 2 7 2 5 1 26 2 2 1 19 2 19 1 11 2 2 4 2 1 8 2 33 1 4 1 11 1 4 1 15 2 19 4 11 4 16 2 2 3 12 1 6 1 13 3 7 1 3 1 27 2 2 1 3 2 13 2 15 11 16 3 2 2 5 2 3 2 5 1 7 1 2 6 3 1 1 1 1 1 18 1 2 1 4 3 2 2 3 3 28 2 3 2 2 3 3 2 3 1 5 2 9 3 8 2 4 2 12 2 3 3 9 1 7 2 3 1 17 5 6 3 8 1 4 2 8 2 28 2 11 3 9 1 1 1 8 3 2 1 9 1 10 1 22 1 8 1 35 2 11 1 7 1 4 4 16 2 3 2 1 2 2 2 65 1 10 2 8 2 38 2 8 2 22 1 6 3 9 1 11 4 7 1 44 3 1 2 7 2 1 2 32 1 8 1 12 2 1 1 7 1 5 5 3 1 18 1 2 1 4 2 4 1 8 1 2 1 1 1 7 1 18 1 16 2 7 2 16 2 7 1 29 3 4 2 3 2 19 2 14 1 4 2 3 3 11 1 22 2 3 1 1 1 15 3 3 6 5 1 5 3 4 2 34 3 4 1 19 2 3 1 24 1 1 1 7 2 18 1 8 1 11 2 4 1 1 2 1 2 3 1 2 1 3 2 15 1 13 2 14 3 4 4 2 1 24 1 2 2 7 3 1 1 7 1 2 1 5 3 20 2 5 2 15 4 1 3 7 3 18 2 8 1 10 2 11 2 4 1 6 1 1 5 1 1 4 1 15 2 1 5 1 1 8 4 13 3 8 2 3 1 3 2 4 2 14 1 23 2 5 4 2 2 1 1 12 1 4 1 9 1 12 2 3 2 1 1 12 1 2 1 1 1 1 1 3 1 33 1 8 1 4 1 7 1 10 1 15 1 11 2 2 1 4 2 12 3 2 1 21 1 3 1 2 1 5 1 4 1 7 1 12 4 3 1 15 2 12 1 10 1 7 3 1 1 7 1 4 1 20 5 5 1 8 2 8 2 14 1 1 1 7 4 31 1 7 2 16 1 3 1 8 3 5 2 5 2 1 2 6 1 27 3 1 2 12 1 1 1 5 2 5 2 6 2 5 1 2 1 4 2 10 2 30 1 7 1 17 1 2 2 1 1 5 2 5 2 1 2 9 1 1 3 10 2 10 3 6 1 3 2 1 2 18 2 8 2 15 2 8"/><use href="#sp2" stroke="#f6e464" stroke-dasharray="0 34 1 48 1 58 1 81 1 61 1 1 1 39 1 82 1 22 2 11 2 28 1 34 1 77 1 36 1 68 1 22 1 5 2 18 1 29 1 40 1 21 1 156 1 51 1 64 1 19 1 26 2 7 1 60 4 21 1 3 2 189 1 43 2 138 1 89 1 30 2 13 1 2 2 131 2 210 3 149 1 23 4 240 1 42 1 55 1 71 1 265 1 57 1 72 2 14 1 11 3 13 1 37 1 2 1 98 1 13 1 1 1 13 1 137 1 2 1 8 1 58 2 59 1 56 1 29 1 79 1 11 2 3 2 82 1 73 1 7 1 30 1 406 1 24 1 23 1 122 1 86 1 304 1 7 4 124 1 25 1 3 2 85 1 29 1 37 1 27 2 86 3 2 1 2 1 48 1 38 3 25 1 101 1 21 1 145 2 4 1 38 2 127 1 9 1 54 2 87 1 105 1 8 1 9 1 74 2 670 1 54 1 42 1 115 1 7 2 178 1 14 1 119 1 3 2 1 1 51 3 2 1 3 1 184 2 175 1 72 1 2 1 163 1 7"/><use href="#sp2" stroke="#0b8286" stroke-dasharray="0 525 1 106 1 29 1 199 1 214 2 49 1 451 1 48 1 7 1 41 3 57 1 177 1 5 2 19 4 4 1 46 2 156 1 80 1 66 1 27 1 68 1 123 1 286 2 48 1 210 1 405 1 18 1 191 2 101 1 74 1 2 1 181 1 86 1 420 2 40 2 71 1 24 1 73 1 1 1 237 1 497 1 252 2 88 1 170 1 18 1 40 1 6 1 130 1 209 1 276 1 63 2 178 1 206 1 92 1 95 1 12 1 39 1 199 1 1 2 51 2 225 1 2 1 79 1 215"/><use href="#sp2" stroke="#f4c7dc" stroke-dasharray="0 10 1 270 1 37 1 12 2 273 1 25 1 19 1 110 1 200 1 143 1 101 2 4 2 101 1 36 1 4 1 359 1 532 1 95 1 171 1 28 1 200 1 335 1 140 1 82 1 1 1 109 1 100 1 115 1 124 1 7 1 9 1 69 2 14 1 136 1 399 1 573 2 151 2 281 1 47 1 135 2 428 1 24 2 25 1 14 1 9 1 147 1 102 1 23 1 109 1 23 1 265 1 31 1 4 1 173 1 54 1 128 1 25 2 80 1 41 2 263 1 184 2 67 3 71 2 160 1 102"/><use href="#sp2" stroke="#161616" stroke-dasharray="0 1 3 8 1 8 2 8 1 13 1 3 1 5 1 20 1 2 1 18 2 27 1 3 1 2 1 5 1 7 3 9 1 9 1 34 1 27 1 5 1 16 1 10 4 13 2 13 1 1 1 4 1 2 2 10 1 2 1 4 1 14 2 18 1 4 2 39 1 11 1 1 2 1 2 10 1 3 1 6 1 5 1 6 1 5 1 5 2 1 2 16 1 11 1 22 1 9 1 28 1 23 1 2 2 3 1 8 2 1 1 3 1 1 2 14 2 1 1 15 1 4 1 3 3 7 2 12 2 20 1 16 2 2 1 7 1 36 2 8 1 2 3 12 3 14 2 10 1 14 1 3 1 5 1 10 1 8 1 14 2 13 2 16 1 4 1 37 1 4 2 3 2 24 1 11 1 11 1 12 2 1 1 2 1 22 1 16 1 21 2 7 2 27 1 5 1 6 1 12 2 1 1 9 3 12 1 10 4 2 1 14 1 7 1 1 1 3 1 21 1 30 2 1 1 10 1 13 2 3 2 4 2 1 1 6 1 5 1 3 1 2 4 5 2 7 2 6 1 2 1 5 1 8 1 9 2 2 2 1 1 3 2 43 1 46 2 6 1 6 1 7 1 7 1 1 1 1 2 3 2 3 1 4 1 15 1 11 2 17 1 35 1 15 1 3 1 25 1 1 1 5 1 10 1 11 3 7 2 1 2 19 1 6 1 4 1 10 4 2 1 16 1 18 1 5 1 6 1 13 1 16 4 8 1 2 1 66 1 6 2 3 2 8 2 4 2 1 2 19 1 24 1 10 1 24 1 2 1 30 3 6 1 14 1 19 1 11 1 4 1 5 1 17 1 8 2 22 1 24 2 4 2 7 3 22 1 2 1 2 1 5 1 10 1 28 2 64 1 7 2 2 1 16 2 7 1 2 1 31 1 14 2 26 2 4 1 3 2 15 1 2 2 4 1 2 1 1 4 3 2 10 1 2 1 3 1 7 1 16 1 2 1 11 2 14 1 2 1 1 2 1 3 29 2 1 5 17 1 2 2 12 1 7 1 7 1 11 1 10 1 4 2 27 1 11 1 13 1 3 1 5 1 11 2 43 1 1 2 10 2 4 1 1 1 4 2 6 1 5 1 6 1 17 1 4 1 9 1 4 1 1 4 8 1 2 1 16 1 12 1 7 1 26 1 1 1 20 1 1 1 7 2 3 1 2 1 13 2 4 1 9 1 6 2 10 1 14 2 8 1 7 1 1 4 6 1 19 2 10 1 8 1 10 2 1 1 9 1 6 1 8 2 11 1 16 1 13 1 18 1 9 1 9 2 54 2 3 1 2 1 13 1 18 1 20 1 3 1 7 2 12 2 3 1 4 1 3 4 1 1 12 1 1 1 19 1 17 2 24 2 5 1 3 1 9 1 3 1 3 1 2 1 22 1 2 2 13 2 3 1 10 3 27 1 13 1 5 1 8 1 7 1 23 1 19 1 18 1 5 1 27 2 16 1 2 2 16 1 7 1 2 1 3 1 6 2 1 3 28 1 18 1 9 1 7 1 8 1 3 1 26 1 5 1 8 1 13 1 10 1 4 2 26 1 12 2 6 1 1 1 8 2 1 1 13 1 1 2 8 3 6 1 2 1 12 2 4 1 5 1 12 2 15 2 8 3 9 2 4 2 28 1 2 3 1 1 1 1 6 1 2 2 12 3 24 1 1 1 4 2 11 1 4 1 26 1 2 3 20 1 24 1 5 1 9 1 24 1 4 1 28 2 4 1 1 1 26 1 7 1 8 1 3 1 4 1 5 1 21 1 33 1 5 1 1 1 2 2 9 1 1 1 4 2 23 2 9 1 20 1 25 1 31 1 22 1 7 1 3 1 10 3 6 1 2 1 10 1 32 1 5 1 3 2 14 1 3 1 1 4 2 1 10 1 56 1 8 2 3 3 1 1 2 2 1 1 11 1 21 1 18 1 4 2 12 1 21 3 16 1 25 1 21 3 4 3 10 2 20 1 3 1 1 1 9 3 3 3 6 1 23 2 4 2 1 1 16 1 12 1 11 3 10 1 30 1 7 1 26 1 4 2 19 1 6 1 4 1 5 2 16 1 15 1 11 2 24 1 27 4 1 3 9 1 26 1 33 1 54 2 29 1 5 3 18 2 3 2 12 1 13 2 4 1 4 1 15 1 20 1 8 1 8 1 30 1 19 1 4 2 9 1 1 1 40 1 2 1 5 1 26 1 6 1 23 1 7 1 11 2 7 2 2 3 5 1 21 2 1 2 2 1 2 3 3 1 3 1 2 1 31 1 10 1 16 1 23 1 27 2 15 2 1 7 19 1 1 1 5 2 16 5 22 1 22 1 29 2 7 1 4 1 19 2 24 1 38 1 30 2 5 1 54 3 13 2 4 2 18 1 22 1 15 1 15 2 5 1 12 1 4 1 11 1 3 1 24 1 6 1 3 2 5 1 22 1 22 1 5 1 43 1 6 5 9 1 8 1 3 2 1 1 3 1 2 2 5 2 19 1 4 2 1 2 2 1 4 1 12 1 4 2 2 2 2 1 6 2 12 2 18 1 3 1 17 1 8 2 6 1 2 2 8 1 14 2 3 1 6 1 30 2 7 1 7 1 1 1 19 1 9 2 2 1 15 1 33 2 8 1 31 1 14 1 5 1 2 1 11 1 14 2 6 1 2 1 5 2 7 2 7 1 4 1 1 2 17 1 1 1 11 1 35 1 8 1 3 1 8 2 10 1 1 2 13 1 5 2 4 1 3 1 18 2 41 2 5 2 10 1 7 1 35 1 9 1 3 1 6 1 3 1 17 1 12 1 7 3 3 1 2 1 13 1 29 4 6 1 10 2 13 3 22 2 2 1 1 2 2 1 13 1 9 1 6 1 1 2 2 1 18 1 6 1 3 1 65 1 19 2 29 1 22 1 9 1 9 1 1 3 8 1 6 1 7 1 3 2 31 1 8 1 5 1 6 1 2 1 3 1 4 1 22 2 13 1 16 2 13"/></g><g transform="translate(299.00 806.00) scale(1.00000 1.00000)"><rect width="89" height="89" fill="#f6e464"/><use href="#sp2" stroke="#3f54b0" stroke-dasharray="0 9 2 1 1 37 5 16 1 1 3 33 2 18 1 1 1 38 3 23 1 39 2 1 1 17 1 43 1 12 1 38 1 40 1 24 2 12 2 49 3 4 1 6 2 92 1 17 3 3 3 43 1 4 4 23 2 2 2 3 3 13 2 8 1 1 3 3 2 3 1 23 2 6 1 13 1 2 2 7 4 4 3 33 2 4 5 7 5 49 2 5 1 49 4 8 4 4 2 7 2 14 2 12 5 5 1 4 2 48 4 6 3 46 1 5 2 6 5 7 2 33 4 6 2 2 3 46 3 10 2 8 2 36 2 4 2 3 6 30 1 8 1 6 1 4 2 5 2 30 2 4 4 6 2 12 1 4 1 1 3 4 3 60 1 55 1 20 2 3 3 8 1 8 1 5 2 5 4 2 1 68 1 3 1 37 2 29 1 2 5 4 5 8 2 2 2 9 1 1 1 30 2 36 1 3 1 1 1 7 1 59 2 6 1 1 3 5 1 13 1 8 3 4 1 22 1 36 1 1 1 3 2 25 1 37 1 2 1 9 1 23 1 8 1 3 2 24 2 8 1 53 1 16 1 26 1 2 2 7 1 28 1 6 3 9 1 89 2 9 1 10 1 1 1 9 1 8 1 7 1 10 1 20 2 9 2 1 3 6 3 8 2 48 2 1 1 1 4 8 2 10 1 6 2 13 1 15 1 4 3 3 3 3 3 27 1 29 7 1 2 33 7 40 1 10 1 5 1 5 2 10 1 11 1 3 1 7 2 20 3 7 3 3 3 31 2 4 4 2 4 17 3 4 3 1 1 16 2 7 1 17 1 7 4 16 3 5 2 17 4 2 4 4 2 21 2 1 3 4 3 3 3 18 1 27 3 22 1 8 1 1 1 37 1 8 3 2 4 3 3 1 3 16 3 3 1 4 3 1 4 6 4 64 1 45 6 5 1 1 5 5 3 3 1 18 4 7 4 8 5 44 1 13 1 49 2 15 2 3 5 22 2 4 4 51 1 38 3 56 3 12 1 8 4 56 1 22 1 46 1 28 4 3 2 7 1 2 3 80 3 11 1 59 1 15 2 9 1 27 1 28 1 17 3 15 1 3 3 19 1 45 1 3 1 19 1 1 3 38 1 6 1 19 3 3 1 18 1 24 1 38 4 3 3 7 1 3 3 19 1 23 1 36 1 4 1 61 1 18 1 1 1 12 2 56 1 13 1 26 2 9 1 22 1 13 1 25 2 7 1 73 1 167 2 57 2 49 1 9 1 3 1 9 1 134 1 13 2 19 1 3 1 19 2 13 2 51 1 40 2 1 1 2 1 8 2 1 1 2 1 53 1 5 1 7 3 2 1 2 11 80 4 2 8 13 1 42 1 14 1 1 3 1 2 2 3 11 1 72 1 3 2 2 1 17 1 3 1 3 2 21 2 4 1 2 2 3 2 7 1 13 5 2 3 7 1 71 3 3 3 6 1 42 2 6 2 21 1 1 2 2 2 4 5 15 3 7 1 33 1 19 3 5 3 4 1 19 3 6 1 20 2 3 2 20 3 98 1 82 1 95 2 27 1 35 2 21 1 3 1 1 1 93 3 22 1 35 2 20 4 18 1 10 1 39 3 4 1 1 1 17 5 11 1 15 1 21 5 14 1 11 4 25 2 27 1 41 3 26 5 19 4 23 1 22 1 22 6 6 6 43 3 1 1 24 1 1 1 18 1 27 3 103 1 72 1 28 1 42 1 1 1 37 3 1 1 46 1 22 1 1 4 37 1 1 2 16 1 9 1 34 2 1 3 8 1 6 1 7 1 11"/><use href="#sp2" stroke="#b9b6dc" stroke-dasharray="0 13 3 20 2 7 1 51 1 2 1 40 1 14 2 8 1 1 1 31 1 8 1 9 2 37 1 10 1 20 3 47 1 17 1 1 3 9 2 66 5 1 1 22 1 1 2 3 1 67 3 9 1 4 2 30 1 36 3 19 4 36 2 16 3 45 3 17 1 54 2 1 1 18 1 39 3 5 2 1 6 14 8 1 1 5 3 39 1 6 1 10 1 2 2 14 1 17 4 1 1 2 1 33 1 6 3 1 5 14 4 1 1 1 2 39 4 2 6 14 3 18 4 12 6 3 1 32 1 9 2 3 2 15 2 3 2 41 2 4 2 15 4 19 5 14 1 4 3 17 1 24 2 3 1 18 1 1 1 40 5 20 4 19 4 19 4 111 4 62 2 1 1 1 2 1 1 69 1 37 4 2 1 1 1 35 2 27 4 107 4 19 1 23 1 3 3 9 1 11 1 6 2 93 2 17 2 10 2 2 1 34 1 18 1 68 2 44 1 15 1 16 1 17 2 68 1 4 1 21 2 32 2 16 2 12 5 37 1 6 4 2 2 4 1 1 1 15 3 10 3 8 1 7 4 3 1 4 1 2 1 4 3 31 2 2 2 1 3 10 3 4 1 15 2 13 2 1 3 3 1 3 2 8 2 7 1 50 2 7 1 56 1 46 1 71 1 70 1 23 3 7 1 6 1 71 1 7 1 6 2 31 1 39 1 6 1 16 1 70 2 4 1 20 1 10 1 34 2 1 3 8 1 53 1 57 2 11 1 4 1 1 2 2 3 30 3 18 1 4 2 1 1 86 1 9 1 18 1 5 4 29 3 2 4 4 1 4 3 14 1 99 1 1 1 2 1 3 1 1 4 3 2 12 1 17 4 1 1 7 1 46 1 17 1 12 2 7 1 49 2 34 1 17 3 29 1 7 4 25 3 8 1 25 2 2 3 20 1 6 2 13 3 24 1 2 2 2 1 34 4 15 1 8 1 1 2 20 1 2 1 12 3 6 1 33 1 16 1 11 2 19 2 3 2 17 1 29 4 14 2 2 3 19 2 10 1 17 2 3 2 4 2 22 3 23 2 15 3 16 2 11 2 16 1 21 6 23 1 5 1 8 1 24 2 1 3 21 2 16 1 5 3 3 2 5 2 10 1 39 1 15 1 12 1 86 2 1 7 8 7 76 1 5 1 76 7 10 7 84 1 39 1 38 5 10 5 20 1 15 2 38 2 38 1 47 1 29 2 24 2 56 1 1 1 36 1 17 2 23 1 18 1 2 1 14 1 7 1 28 1 1 2 101 1 120 3 55 3 8 4 28 2 19 1 5 3 83 1 28 2 10 1 81 2 5 1 43 1 23 2 17 1 19 3 4 1 30 1 16 1 15 1 5 1 31 3 35 3 33 3 36 3 67 3 39 1 29 2 41 1 64 1 46 1 19 2 55 1 36 3 21 1 46 1 74 1 23 1 37 2 9 1 79 1 10 1 8 1 62 2 15 1 12 1 24 1 86 1 87 2 7 1 28 3 76"/><use href="#sp2" stroke="#0b8286" stroke-dasharray="0 16 3 29 2 52 1 30 3 27 3 32 1 2 3 27 3 29 1 17 1 2 3 62 1 1 1 25 2 4 1 22 1 43 1 11 1 2 1 40 1 17 1 12 2 1 1 23 5 9 1 43 1 5 1 28 1 6 1 48 1 7 2 24 1 7 3 13 1 33 2 34 1 1 1 23 1 30 2 38 1 175 1 4 2 113 1 35 3 3 1 22 1 40 1 70 2 21 1 74 2 19 1 86 2 99 1 56 1 24 2 75 2 79 2 25 1 15 1 59 1 25 2 72 2 90 1 2 2 32 2 13 4 58 1 26 2 47 1 7 1 8 2 13 4 10 2 60 2 18 3 64 1 21 2 34 3 41 1 61 1 18 1 31 1 81 3 94 2 70 1 63 1 68 1 16 1 97 2 2 3 2 1 69 1 16 3 27 1 1 4 23 1 1 2 26 1 3 3 14 3 52 4 20 1 3 1 23 5 20 4 45 1 1 1 1 1 4 1 12 1 31 3 7 4 94 1 1 3 14 4 8 5 48 2 19 1 1 3 8 2 44 2 7 2 9 1 18 1 3 1 80 2 7 1 13 2 49 2 8 1 200 1 43 1 20 2 34 1 47 1 8 1 25 2 1 2 2 1 14 2 19 3 17 2 36 1 2 1 40 4 38 1 2 1 8 3 45 2 40 2 14 2 22 1 4 1 53 3 1 1 1 2 15 1 1 2 30 1 34 1 8 1 9 1 74 4 15 3 71 1 54 1 35 1 100 1 3 2 198 4 34 1 58 1 31 1 14 5 26 1 8 3 44 5 44 3 43 2 2 2 37 3 1 2 45 1 1 1 41 1 7 1 37 1 3 1 1 1 80 1 48 1 137 1 4 1 69 2 37 1 7 2 36 2 20 1 6 1 6 1 55 1 20 1 33 1 44 1 17 1 44 2 19 1 180 1 222 1 28 2 2 1 27 2 8 1 28 1 30 1 49 2 31 2 48 2 30 1 40 2 1 1 21 1 1 4 58 2 7 1 31 2 11 2 31 2 6 1 34 1 53 2 10 1 28 1 12 1 14 1 14 1 40 1 63 1 3 1 38"/><use href="#sp2" stroke="#d8222a" stroke-dasharray="0 3 2 26 1 96 1 38 1 9 2 9 2 48 1 72 3 98 1 41 1 50 1 35 1 17 2 12 1 24 1 3 2 79 1 2 3 36 2 17 3 1 1 26 3 1 3 1 5 80 3 3 1 1 5 7 1 13 1 2 1 19 1 8 1 29 1 19 1 4 1 31 2 14 1 324 1 31 1 65 1 84 1 35 1 32 2 80 3 65 1 11 1 4 1 14 3 81 2 15 1 4 1 216 1 132 1 43 1 28 1 10 2 6 5 1 1 5 1 68 1 10 4 4 2 9 3 53 1 27 1 43 1 55 1 54 2 74 1 35 2 118 1 4 3 4 1 15 1 4 2 5 1 56 1 29 1 25 2 30 1 31 1 8 1 22 1 25 1 101 1 20 2 43 1 51 1 53 1 11 1 15 1 4 1 61 2 6 1 10 1 7 1 22 1 9 1 28 1 46 1 11 1 17 1 31 2 5 1 38 1 1 1 6 1 19 1 6 1 60 1 39 1 21 2 25 1 24 1 69 1 24 3 36 1 37 1 1 1 40 1 21 1 40 2 16 1 18 1 42 2 5 1 61 1 37 1 55 1 14 2 47 1 161 1 50 2 1 1 44 1 7 1 45 3 13 1 46 2 3 3 12 1 104 1 9 2 3 2 33 1 1 1 13 1 9 1 21 1 84 1 25 1 27 1 10 3 94 1 4 1 111 2 68 3 13 1 22 2 3 3 24 2 26 1 16 2 9 2 249 1 115 2 36 1 8 1 117 1 72 3 120 1 111 1 112 2 102 1 213 4 73 2 29 3 4 1 32 2 114 1 35 1 35 3 108 2 29 3 40 2 179 1 108 1 37 3 32 4 147 1 21 1 86"/><use href="#sp2" stroke="#9cc742" stroke-dasharray="0 111 1 24 1 118 1 39 1 102 1 50 1 69 2 36 1 24 1 147 1 156 1 63 1 154 1 318 2 89 1 14 1 22 1 40 1 78 1 40 1 104 1 347 1 5 1 9 1 1 1 42 3 6 2 3 1 124 1 5 3 32 1 24 2 95 1 26 1 338 1 3 1 83 1 2 3 39 1 53 2 83 1 32 1 67 2 54 1 24 1 91 3 99 4 56 1 13 1 7 3 12 1 74 1 13 2 65 3 9 2 103 2 7 5 55 1 2 1 35 1 85 1 51 1 7 1 64 1 65 1 46 1 129 1 4 1 49 7 51 1 72 1 2 1 50 1 53 1 22 2 11 1 2 1 129 1 13 4 19 3 10 1 136 1 32 1 156 4 30 3 147 1 35 1 69 1 6 1 6 1 1 1 363 2 31 1 100 3 29 2 48 1 103 1 11 1 481 2 8 1 225 1 377 1 71 1 227 1 24 1 114 2 79 1 3 2 80 2 27 1 116 3 16"/><use href="#sp2" stroke="#f4c7dc" stroke-dasharray="0 11 1 60 1 35 1 42 1 42 1 104 1 30 3 66 1 2 4 107 5 65 1 2 1 64 1 50 1 116 1 15 1 4 1 156 2 45 2 38 1 37 1 160 1 97 1 18 4 65 1 3 1 34 1 29 1 2 3 16 2 23 1 2 1 64 1 29 1 83 1 6 1 137 1 210 1 199 1 190 1 38 2 41 3 100 1 36 4 40 3 35 1 41 2 29 1 28 2 23 2 4 1 50 1 21 4 9 1 4 2 1 3 18 1 33 1 18 1 13 3 71 4 58 1 34 3 10 1 48 1 1 1 28 1 11 1 30 1 97 1 10 1 6 1 33 1 27 1 7 1 9 1 50 3 23 1 14 1 4 1 6 1 26 1 5 2 26 2 5 2 42 1 65 1 73 1 177 2 119 1 15 1 31 1 15 1 32 1 17 3 13 3 15 1 155 1 27 1 11 1 27 1 53 1 1 1 25 2 10 1 59 2 26 1 83 1 13 3 18 1 90 1 4 2 111 2 178 1 5 1 141 3 30 2 131 1 56 2 6 1 4 2 208 1 61 1 121 1 101 1 1 1 34 1 2 1 1 1 37 4 183 1 58 2 123 2 769 2 34 1 1 1 57 1 38 4 32 1 1 1 13 1 32 1 36 2 26 4 43 1 61 2 44 1 100 2 8 2 97 2 30 1 20 1 27"/><use href="#sp2" stroke="#161616" stroke-dasharray="0 28 2 5 1 5 1 4 2 8 3 2 3 5 2 15 3 6 2 15 4 2 4 2 3 3 1 14 4 3 2 15 1 37 1 6 1 3 1 2 1 18 7 1 1 2 4 1 1 32 1 3 2 2 2 3 4 3 2 22 1 9 1 6 1 30 2 1 3 4 1 5 1 2 2 22 2 3 4 3 1 8 1 1 1 15 2 15 4 3 4 11 2 7 2 8 1 5 1 4 5 32 2 4 1 12 4 7 3 5 1 5 3 3 3 4 1 10 3 9 2 5 1 8 2 4 5 3 3 2 2 10 2 8 3 30 2 8 1 11 5 7 1 15 2 3 6 13 6 1 2 15 3 16 5 20 2 6 6 6 1 12 2 20 2 6 7 7 2 5 1 14 1 18 2 22 1 5 1 32 3 3 3 2 4 1 1 6 2 3 1 14 1 10 1 8 3 3 3 3 2 13 4 21 5 11 1 3 1 1 2 8 4 2 2 18 3 19 3 4 4 17 1 16 1 9 1 2 4 19 2 11 1 6 1 4 3 8 1 20 2 8 3 20 1 10 8 5 2 7 1 26 4 4 9 9 1 4 1 15 2 2 2 5 2 21 1 8 3 5 2 2 5 11 1 15 3 4 3 2 3 7 2 19 3 7 1 1 1 1 1 5 4 2 4 9 1 14 2 3 1 6 2 4 3 16 2 12 1 2 1 28 3 2 2 7 1 9 4 7 1 3 2 3 1 2 4 3 2 3 2 11 3 23 1 13 3 4 1 6 1 5 1 11 4 4 2 30 3 1 3 7 1 4 2 9 3 9 3 23 3 15 1 18 4 13 1 3 1 9 1 14 3 2 1 13 3 14 1 1 2 3 2 18 3 8 4 3 1 15 2 5 2 26 4 2 3 14 1 27 2 4 4 2 1 5 1 18 1 5 2 14 3 18 3 7 2 7 1 28 2 3 2 7 1 16 1 7 2 3 1 11 1 7 2 4 1 2 1 20 2 3 2 6 2 3 1 4 2 13 1 14 1 6 1 5 1 3 1 16 4 19 3 1 2 5 2 5 2 5 6 9 2 8 4 2 2 8 1 6 2 27 1 36 4 1 1 2 3 12 3 2 2 3 3 7 1 4 2 6 3 4 3 5 2 4 2 7 2 3 3 1 2 17 3 2 7 7 2 4 1 16 2 4 1 2 2 3 2 6 5 1 1 4 2 21 5 3 3 3 1 10 2 28 2 4 1 3 8 1 1 20 2 7 2 7 2 3 5 3 4 4 2 12 1 3 2 1 3 13 1 5 7 2 2 4 2 44 3 3 3 3 1 1 3 15 2 3 6 3 6 7 3 5 1 7 1 2 5 6 6 2 3 3 1 3 3 3 1 10 1 6 1 2 1 3 2 10 1 6 2 6 3 6 2 17 1 16 2 3 3 2 3 3 2 3 3 9 3 18 2 10 2 7 4 2 4 3 2 35 1 3 3 9 5 34 5 2 3 4 4 7 1 3 2 1 2 7 1 2 3 3 2 2 2 7 2 1 3 2 2 4 1 1 3 6 9 9 2 6 2 15 5 9 4 5 1 10 2 19 6 4 1 1 7 2 5 10 5 1 2 4 12 10 2 2 3 2 4 19 1 9 2 10 1 6 3 9 3 16 4 8 1 9 4 7 4 1 2 2 2 9 8 1 1 2 1 10 7 10 2 2 8 2 9 16 3 1 1 35 4 7 2 1 3 11 1 3 6 2 2 2 2 3 4 1 3 10 3 1 1 21 1 3 1 7 2 1 3 3 3 2 3 1 6 3 1 8 8 8 4 25 2 9 7 13 10 1 4 3 2 53 6 1 3 2 9 13 2 1 4 1 2 44 3 17 3 1 7 4 3 1 7 20 1 19 2 8 6 2 2 4 2 1 3 2 3 7 1 9 2 4 1 31 2 1 3 4 1 17 2 4 2 7 1 2 7 8 2 18 2 24 4 11 1 16 1 6 1 3 2 3 4 3 1 19 5 2 3 1 2 3 2 11 3 3 3 3 2 5 4 57 4 2 2 2 2 1 4 2 4 10 3 2 8 1 3 18 2 7 3 1 6 5 3 2 1 10 1 6 2 2 2 3 3 2 2 3 2 7 3 16 2 1 2 8 3 2 3 2 6 11 1 9 3 2 1 6 3 4 3 7 5 3 6 5 3 3 2 3 3 7 1 10 1 8 8 5 1 2 3 5 1 26 2 5 4 11 7 13 1 10 2 4 2 3 2 5 5 7 5 5 2 2 4 3 2 10 4 7 10 4 12 4 1 32 4 2 6 4 10 8 2 9 4 3 7 3 1 3 3 15 1 4 2 2 2 3 4 10 3 9 6 1 1 4 5 3 2 31 1 11 6 2 3 14 5 17 6 3 3 2 2 2 1 5 11 4 4 11 2 4 2 1 2 12 14 24 1 1 3 16 11 1 4 2 2 14 4 10 4 3 4 2 5 7 2 8 1 3 3 8 2 2 3 9 1 4 2 1 2 1 2 3 7 6 3 9 2 10 1 8 4 7 6 2 3 1 2 7 1 7 3 29 2 6 3 4 2 5 2 17 2 3 2 5 1 4 2 1 3 2 7 7 2 18 1 20 16 3 3 4 2 23 2 3 1 2 1 2 3 7 2 6 2 2 2 16 1 10 1 1 2 5 15 11 3 6 1 12 3 9 14 8 5 3 1 5 1 20 2 6 3 18 1 7 5 5 1 4 2 3 5 10 12 24 1 6 1 8 1 2 12 1 1 4 2 2 6 1 4 10 6 5 2 6 1 9 1 5 2 11 7 9 4 2 4 1 5 7 3 1 1 4 2 2 2 7 2 4 2 4 2 6 3 2 1 12 1 2 7 2 5 8 3 2 1 6 3 1 3 10 3 5 1 3 1 13 2 2 1 2 1 2 2 6 1 15 1 4 7 1 5 8 9 4 2 3 3 3 9 9 3 2 8 5 1 2 2 19 6 1 2 13 1 5 2 11 1 2 7 4 1 12 4 6 8 2 3 13 5 4 2 9 6 12 2 3 10 5 1 14 2 2 5 4 3 10 3 5 3 10 3 5 1 25 13 2 2 2 1 9 1 35 10 2 6 13 2 2 1 15 4 9 4 3 3 10 4 1 2 20 1 10 4 5 6 5 2 6 2 7 1 3 1 7 1 7 2 6 2 1 3 4 3 33 2 13 4 3 4 3 1 4 2 2 3 7 1 5 1 20 2 2 4 10 1 15 2 20 1 11 6 27 4 4 4 32 5 4 5 27 5 5 1 55 4 2 1 8 3 9 9 6 3 12 2 4 2 10 1 2 2 8 1 2 5 7 6 7 1 4 1 72 2 2 4 1 1 7 4 16 1 8 4 1"/></g><g transform="translate(393.00 806.00) scale(1.00000 1.00000)"><rect width="89" height="89" fill="#9cc742"/><use href="#sp2" stroke="#d8222a" stroke-dasharray="0 2 1 9 2 7 1 19 3 12 1 6 5 49 4 14 1 3 1 2 3 11 2 21 1 5 1 10 2 1 4 19 1 8 1 15 3 29 2 20 2 16 1 8 1 11 1 5 2 1 6 21 2 4 2 3 1 6 1 6 2 7 2 30 1 8 2 1 1 21 1 30 1 1 1 6 2 17 2 5 2 13 2 1 1 5 2 4 1 8 1 20 1 12 1 31 1 21 2 6 2 2 1 6 1 15 2 7 2 4 3 10 2 3 3 9 3 2 4 23 1 7 1 1 1 11 1 13 2 10 1 4 2 1 2 11 1 4 1 40 4 3 1 3 2 4 5 3 2 1 2 2 1 4 2 3 1 1 1 18 1 16 1 10 3 13 3 11 2 11 3 2 1 27 1 20 1 4 2 3 4 1 3 4 7 27 1 18 1 21 1 16 1 11 1 5 1 22 1 32 1 5 3 2 1 5 2 15 4 10 1 36 2 4 1 13 1 10 1 46 1 11 1 1 3 16 2 3 4 4 4 1 2 4 1 13 3 45 2 5 1 57 1 2 2 15 2 1 4 7 1 3 1 9 3 1 3 90 1 41 3 1 2 4 1 2 1 1 2 9 1 12 2 7 1 2 3 11 3 7 2 56 1 4 1 4 1 18 1 9 1 2 1 7 3 3 1 6 3 8 1 29 2 7 3 9 1 21 2 39 2 15 1 32 3 11 1 5 1 16 4 17 1 50 1 77 2 15 3 10 2 6 1 14 2 86 1 43 1 17 1 2 3 7 1 2 1 30 1 92 1 19 1 45 2 15 2 131 2 13 2 5 1 1 3 1 3 7 7 10 1 11 2 41 1 26 1 3 2 38 3 5 3 4 7 5 5 3 5 2 5 40 3 19 1 23 1 7 2 5 2 1 1 30 1 2 5 1 3 1 9 7 11 2 6 30 3 8 1 7 1 1 2 52 2 1 1 16 1 4 1 17 2 1 5 1 1 10 4 1 1 5 1 4 2 6 1 20 5 51 1 3 1 14 2 3 1 19 2 7 1 5 1 3 1 2 3 1 1 8 1 5 6 13 1 3 1 23 2 11 1 6 2 11 1 8 1 15 2 36 1 16 12 1 1 7 4 1 1 2 2 12 1 4 1 18 1 32 2 3 1 4 1 2 1 33 1 1 2 14 1 5 1 12 2 4 3 1 1 2 1 4 4 7 1 1 2 4 1 15 1 10 1 10 2 24 3 34 2 35 4 3 1 2 3 2 1 3 2 12 1 5 2 2 1 2 1 87 1 1 1 2 1 3 1 9 1 20 2 10 1 6 1 7 2 10 3 25 1 20 3 16 2 41 2 11 3 1 2 42 3 9 2 7 1 2 2 31 1 7 1 8 2 16 1 14 1 24 1 16 2 28 1 4 2 8 3 3 1 1 2 1 1 19 1 5 3 19 1 3 1 4 1 7 1 27 1 9 4 20 3 6 1 19 4 5 1 1 2 3 3 1 1 4 4 15 2 29 1 4 3 62 1 21 2 14 1 1 4 2 1 3 1 8 3 1 4 1 1 2 2 5 1 31 1 3 2 6 1 31 1 23 2 30 1 1 1 14 1 1 4 8 2 1 3 5 1 46 2 104 1 6 3 1 3 5 2 2 3 1 1 4 2 148 2 8 2 1 2 1 1 3 4 1 3 3 1 13 1 36 1 1 1 49 2 36 1 1 2 18 1 4 2 9 1 3 1 16 1 38 1 79 1 7 1 12 2 1 2 3 2 2 2 3 1 4 1 2 4 16 1 50 1 83 1 6 4 6 1 11 4 6 1 15 1 51 1 33 1 26 1 14 1 5 1 1 7 7 2 2 4 1 2 7 2 28 2 10 1 56 1 2 2 48 3 1 1 5 1 3 1 5 4 9 1 6 1 9 2 20 1 4 2 51 2 1 4 21 1 9 1 8 1 8 5 3 1 3 1 2 4 1 1 2 2 23 1 21 1 3 1 12 2 29 1 11 1 4 1 22 2 17 5 2 7 9 5 2 4 12 1 40 1 5 1 36 1 1 1 3 1 2 3 30 3 2 2 7 2 3 2 1 2 2 2 4 1 2 2 1 2 22 5 7 2 10 1 2 2 2 2 4 1 52 1 4 1 17 2 2 1 22 2 2 2 2 2 3 2 2 2 2 2 39 1 9 4 2 1 43 1 8 3 7 1 35 1 7 2 1 1 3 2 18 4 34 1 6 1 1 1 5 2 91 5 3 1 10 1 15 1 4 3 4 1 33 1 50 1 1 1 51 1 2 3 2 1 5 1 6 1 2 1 4 3 2 2 34 3 14 1 1 1 16 2 7 3 19 2 13 1 18 1 15 3 2 1 2 1 5 1 3 2 11 4 17 1 7 2 19 4 23"/><use href="#sp2" stroke="#ef9b9d" stroke-dasharray="0 227 1 12 1 2 2 48 1 29 1 40 1 13 1 9 1 23 1 27 2 25 1 9 1 10 2 40 1 8 1 67 1 5 2 10 2 44 1 118 1 8 2 38 1 14 1 3 2 4 2 4 1 8 1 86 2 3 4 9 2 14 1 13 1 8 1 10 1 2 2 11 2 7 1 33 1 23 1 37 1 20 1 63 1 2 1 13 2 14 2 20 2 19 1 128 2 159 1 13 1 31 1 35 5 9 1 1 1 30 1 1 2 2 1 14 2 1 1 44 2 24 1 76 1 47 1 23 1 47 2 16 1 23 2 19 2 44 2 3 2 81 2 51 3 2 4 4 1 21 1 2 1 42 1 25 1 39 1 41 2 52 1 52 1 57 1 8 1 102 1 35 1 31 1 24 2 27 3 10 1 27 1 101 2 8 4 27 4 4 3 1 3 8 1 111 1 2 1 6 4 43 3 7 1 2 1 27 1 43 2 12 2 15 1 10 3 5 1 2 1 1 2 44 1 1 3 5 2 10 2 28 3 18 2 6 1 31 1 11 1 5 1 100 2 11 1 1 2 7 3 11 2 21 1 28 1 73 1 89 1 21 1 21 1 24 2 52 1 20 1 52 1 2 1 2 1 82 2 61 2 22 1 18 1 22 1 16 1 2 1 80 1 50 2 4 2 14 1 9 1 12 1 1 2 9 2 66 1 46 2 3 1 1 1 9 1 37 1 1 2 1 3 3 1 8 2 27 1 21 1 11 1 4 1 12 1 40 1 1 2 2 1 1 2 4 1 20 1 6 4 1 3 59 1 39 1 1 1 27 3 7 1 43 7 22 1 6 1 12 1 38 1 42 1 2 1 6 1 26 1 48 2 21 2 20 4 21 1 130 1 5 1 26 1 2 2 74 1 70 1 36 1 52 1 41 1 4 1 92 2 38 1 3 1 41 1 5 1 37 1 43 1 53 1 56 1 38 1 72 1 21 1 23 2 11 2 6 1 47 1 25 1 35 1 10 1 7 1 13 1 33 1 92 1 18 1 11 1 11 2 38 1 6 1 43 1 59 1 125 1 44 1 56 1 82 1 26 1 16 1 48 2 87 1 10 1 3 1 3 1 13 1 26 3 130 1 6 1 9 1 60 1 75 1 9 2 35 1 14 2 15 2 131 1 30 1 2 1 24 1 42 1 80 2 7 1 21 1 78"/><use href="#sp2" stroke="#3f54b0" stroke-dasharray="0 14 3 138 1 11 1 41 3 34 1 5 1 1 2 9 1 32 1 40 1 1 1 3 1 38 1 52 1 82 1 13 1 5 1 21 2 48 1 60 2 5 1 103 2 10 2 137 1 112 2 15 1 76 1 15 1 16 1 54 2 13 1 31 1 19 1 3 1 27 3 24 1 13 1 18 1 37 1 1 1 31 2 22 1 5 1 11 1 11 1 10 1 24 2 58 1 29 1 18 1 26 1 38 4 35 2 56 1 31 2 56 2 5 1 27 1 5 1 52 1 81 1 2 1 14 1 115 1 12 2 43 1 5 1 23 1 1 1 86 1 6 1 3 2 57 2 87 1 5 2 18 1 3 3 9 2 129 2 10 2 150 2 3 1 9 1 22 1 20 1 12 1 23 1 108 3 5 1 41 2 121 1 1 1 6 3 12 1 38 3 4 1 3 2 3 1 1 1 44 2 3 2 40 1 7 1 1 2 9 2 5 3 21 1 15 1 16 2 49 2 4 3 57 2 25 2 3 1 19 1 2 1 3 1 3 2 12 1 36 1 5 1 3 1 5 2 48 2 12 1 29 1 8 2 18 4 41 1 26 1 30 1 2 1 12 1 4 3 8 1 20 1 8 2 3 1 3 2 11 1 53 1 59 1 2 1 13 2 26 2 2 1 36 2 103 1 1 1 1 1 31 1 9 1 36 1 65 1 36 1 37 1 93 1 138 1 3 1 76 1 25 1 43 2 42 1 25 1 128 1 1 2 91 1 19 2 56 2 103 3 60 1 14 3 177 1 44 2 70 1 15 1 32 3 482 1 295 2 1 1 51 1 93 1 31 1 55 1 35 2 4 1 55 1 2 1 1 2 312 1 34 3 4 1 57 1 52 1 34 2 1 2 25 1 38 1 245 1 48 2 38 3 9 2 30 1 56 3 11 1 18 1 6 1 4 1 6 1 74 2 27"/><use href="#sp2" stroke="#0b8286" stroke-dasharray="0 271 1 113 1 155 1 19 1 20 1 140 3 20 1 45 1 60 1 9 1 119 1 40 1 91 1 14 1 50 2 20 1 56 1 20 1 84 1 22 2 72 1 13 1 179 1 84 1 5 1 10 1 75 2 3 3 74 2 9 1 26 1 62 2 87 1 15 1 36 2 89 2 147 1 67 1 85 1 307 2 288 1 28 2 72 1 79 1 25 2 79 1 102 1 35 1 212 1 116 1 19 1 44 1 93 1 45 1 43 1 40 1 48 1 49 1 1 2 37 1 170 2 58 1 29 1 15 1 5 1 59 2 44 1 46 1 10 2 72 1 41 1 54 2 103 1 50 3 28 1 7 1 29 1 49 1 86 1 18 1 7 1 1 3 11 1 136 1 1 3 107 1 160 1 16 2 3 1 17 1 242 1 51 1 24 2 316 1 20 2 87 1 173 1 93 1 34 1 21 1 21 1 103 2 55 2 45 1 2 2 106 1 64 1 7 1 20 2 153 1 215 1 59 1 432"/><use href="#sp2" stroke="#f7f4f6" stroke-dasharray="0 31 1 3 1 115 1 46 1 13 1 68 2 227 1 80 2 101 1 291 1 145 1 17 3 85 1 369 1 125 1 48 1 111 2 9 1 69 1 208 1 453 1 54 2 7 1 119 1 1 2 46 1 131 1 6 2 174 1 61 1 62 1 1037 2 22 1 103 1 162 1 8 1 252 1 251 1 27 1 141 1 204 3 155 4 21 2 159 1 190 2 6 2 108 1 6 1 59 1 133 1 336 1 388 1 440 1 4 1 157 1 23 1 184 1 157 1 26 1 22 1 54"/><use href="#sp2" stroke="#161616" stroke-dasharray="0 3 1 3 1 12 1 1 2 13 2 19 1 11 1 6 3 2 1 17 1 4 2 16 2 6 1 21 1 5 2 1 1 7 1 16 1 2 1 3 1 10 4 5 1 13 1 3 4 30 2 18 1 10 1 8 2 14 1 13 1 11 1 14 1 6 1 3 1 4 1 6 1 13 1 20 1 5 2 7 1 25 1 6 1 4 2 3 2 9 3 4 1 10 1 22 2 13 1 9 1 13 2 5 1 15 2 4 2 16 2 3 2 28 3 8 1 2 3 18 1 11 2 14 2 53 2 8 1 1 2 9 2 7 1 9 1 10 1 1 1 26 1 7 3 8 4 29 2 37 1 33 6 11 1 4 1 20 1 18 6 60 1 43 1 13 6 2 2 1 1 12 1 2 1 6 1 2 1 1 2 9 1 5 1 2 8 6 1 29 1 8 1 8 2 5 2 5 2 12 1 4 3 23 9 3 1 27 1 19 1 3 9 16 1 26 2 2 1 2 2 44 3 8 1 3 10 10 1 23 2 13 1 5 9 11 1 48 2 7 1 27 1 1 1 2 1 5 11 5 1 13 2 3 1 5 1 7 1 8 1 1 3 1 10 26 1 14 1 8 3 8 1 52 9 5 2 3 2 3 2 4 1 5 1 1 2 3 2 15 7 20 1 26 2 3 2 15 3 29 1 2 1 14 3 2 1 13 2 1 2 2 3 6 3 1 2 15 1 7 4 8 2 48 1 9 2 1 1 7 1 3 1 19 1 8 6 3 1 1 1 1 1 12 1 1 4 10 3 1 1 6 2 3 2 6 7 40 1 2 1 9 1 3 1 53 8 22 1 11 1 4 1 17 8 34 1 7 3 12 3 6 3 4 1 38 7 17 1 2 5 7 1 3 1 5 2 1 1 11 7 11 1 15 1 19 1 3 1 12 1 20 1 27 7 24 2 6 1 4 1 21 5 6 3 4 1 18 1 20 2 4 1 7 1 3 1 14 2 11 1 6 2 6 4 33 2 16 1 10 2 1 2 4 2 3 4 6 1 3 2 10 2 6 2 21 1 6 1 12 2 9 5 24 1 4 2 4 1 21 1 2 3 27 3 12 3 76 1 31 3 20 5 23 1 6 1 18 1 3 2 5 1 5 1 12 2 7 1 4 2 1 1 6 2 8 1 27 2 12 7 15 7 4 1 7 1 4 1 12 1 2 1 17 3 5 1 5 2 27 1 8 1 3 2 12 1 29 1 3 6 4 1 7 1 5 6 37 1 7 2 6 2 18 1 4 4 15 4 4 4 13 1 29 8 15 10 34 2 10 1 1 1 2 2 16 1 1 2 17 1 3 1 3 1 2 3 11 2 22 2 2 1 7 10 13 10 10 2 14 1 1 2 5 1 1 3 1 1 7 1 5 2 2 2 12 1 3 1 1 1 20 1 1 1 1 1 4 1 2 2 5 1 3 2 4 1 9 2 5 1 3 11 4 1 8 11 3 1 4 1 9 1 7 2 9 2 17 1 15 1 4 1 7 2 4 3 11 2 8 1 3 1 15 1 5 1 2 1 4 11 2 1 11 10 1 1 2 2 37 1 2 2 8 1 5 2 34 1 2 2 22 1 4 2 2 1 2 1 5 2 1 12 19 6 1 1 10 1 2 1 2 2 4 2 1 1 1 2 17 1 24 1 3 1 36 1 10 2 1 1 1 3 5 1 10 1 7 1 22 2 6 1 12 2 6 1 45 1 8 1 43 2 20 1 28 2 11 1 9 2 9 2 24 1 9 1 7 2 13 1 4 1 29 2 21 2 43 1 1 1 24 1 8 1 11 1 8 2 56 2 13 2 30 1 4 1 44 1 32 2 3 1 10 2 3 1 13 2 2 1 15 1 5 1 6 1 7 4 8 3 1 1 7 1 26 5 6 1 3 1 24 1 11 1 9 1 11 1 9 2 21 1 25 1 2 1 68 1 7 3 22 1 4 1 10 2 5 1 3 1 16 1 6 3 5 1 9 2 9 1 11 3 9 1 4 1 18 1 9 1 7 1 1 1 19 2 18 3 13 1 1 2 13 2 26 3 31 1 13 1 31 3 8 1 1 2 2 1 9 5 8 1 6 1 2 1 21 1 6 1 12 4 8 3 6 1 25 1 45 1 11 2 21 2 10 1 8 2 4 1 5 3 3 1 9 1 19 2 5 1 14 1 11 1 42 1 45 1 1 2 2 1 8 2 24 1 25 1 4 1 14 1 22 2 2 1 19 1 5 2 18 2 34 2 6 1 4 1 6 1 9 1 6 1 9 1 4 2 25 1 16 1 2 1 25 3 12 3 11 1 23 2 4 1 15 1 7 1 12 1 14 1 7 2 40 1 3 1 6 1 15 2 19 2 8 3 14 1 22 2 3 1 3 2 20 3 10 1 3 3 4 2 3 2 6 2 8 2 1 1 8 3 2 5 1 3 8 1 1 2 21 1 11 1 3 1 16 1 7 1 8 2 8 1 15 2 4 1 11 1 2 1 3 1 13 3 6 1 38 1 5 2 7 1 62 1 36 3 8 3 1 1 2 2 2 1 7 2 1 5 12 1 4 2 2 2 6 1 25 1 1 1 6 3 22 2 2 1 9 1 16 1 3 2 12 2 2 1 18 5 2 1 9 1 9 1 16 2 2 1 9 1 18 1 2 1 9 1 2 2 4 1 9 4 12 2 2 1 6 1 25 2 6 1 18 1 15 1 2 2 10 1 32 1 5 1 1 1 2 3 14 1 9 1 16 4 4 1 46 4 2 1 9"/></g><g transform="translate(488.00 806.00) scale(1.00000 1.00000)"><rect width="89" height="89" fill="#9cc742"/><use href="#sp2" stroke="#d8222a" stroke-dasharray="0 21 2 7 1 2 4 2 1 6 1 6 2 1 1 2 2 3 1 1 1 16 2 2 1 6 1 4 1 3 1 3 1 1 2 1 1 3 1 7 1 1 1 1 2 7 1 3 4 1 1 2 1 21 2 14 1 6 3 10 2 7 1 2 5 4 1 5 2 2 5 7 2 3 3 1 2 5 2 23 1 3 1 2 2 9 1 1 2 2 1 1 2 3 2 3 4 2 1 7 3 9 3 4 1 3 1 8 2 5 2 9 1 13 1 1 2 6 3 18 1 5 2 10 1 6 5 6 1 9 1 1 2 16 2 2 1 3 3 2 2 10 3 8 1 5 2 12 3 1 2 5 1 2 3 11 5 1 2 3 3 17 2 3 3 3 3 7 1 1 2 3 4 2 1 6 1 10 1 18 2 3 1 3 4 12 2 1 3 2 1 2 4 5 1 3 1 7 2 2 1 6 2 13 2 4 1 2 3 2 3 9 1 9 2 10 1 4 2 3 1 3 1 1 1 1 1 6 5 1 1 6 1 5 1 4 2 12 3 13 2 3 1 1 2 1 1 7 2 4 1 7 1 3 4 1 3 12 4 9 5 1 2 5 2 2 1 3 1 12 1 3 1 9 5 2 1 12 2 4 2 5 2 1 3 4 1 1 1 3 3 13 4 2 1 6 2 5 1 5 1 4 3 6 3 8 1 13 2 5 3 4 3 3 2 14 2 6 2 10 1 3 1 5 1 12 1 3 2 7 2 1 1 17 2 1 1 6 3 7 3 24 1 6 3 1 2 14 1 1 3 2 1 4 1 21 1 6 2 8 3 28 2 1 8 1 4 2 2 5 3 3 1 5 2 5 1 5 2 18 1 3 3 1 1 4 1 2 2 6 3 1 4 1 3 3 1 2 2 31 1 19 2 18 2 7 2 2 1 1 1 1 3 8 3 3 2 1 1 5 2 1 1 22 2 1 8 1 4 5 1 3 3 3 3 21 3 8 1 4 1 1 1 13 1 4 2 6 2 9 1 8 3 3 1 4 2 3 3 5 3 3 1 2 6 6 2 8 2 8 3 18 1 2 4 2 2 3 3 5 1 13 1 4 3 2 1 6 1 1 1 3 3 3 1 1 2 4 1 2 4 14 2 2 2 4 2 4 2 2 1 30 2 26 1 3 1 10 1 1 4 5 3 17 4 2 1 4 1 16 3 6 2 2 2 9 3 1 1 1 1 5 2 3 4 18 1 31 2 10 1 1 1 1 1 16 2 5 2 2 2 3 4 11 1 2 2 5 2 1 1 11 1 2 2 3 2 14 2 4 1 1 3 5 3 6 1 14 1 11 3 12 1 4 1 10 2 15 1 3 2 8 2 2 1 4 2 2 1 7 5 8 1 11 1 5 1 2 1 5 3 10 1 2 1 1 2 4 2 2 2 1 2 7 1 9 1 4 2 9 1 18 3 2 4 15 2 3 1 8 1 1 5 10 2 5 1 3 1 4 1 17 2 2 2 20 1 4 1 10 2 16 3 2 2 2 2 2 1 12 2 4 2 3 1 24 2 4 4 4 1 3 2 1 1 17 3 1 1 15 1 1 2 4 2 13 4 8 2 5 3 28 1 3 3 11 1 18 1 22 1 10 1 4 1 6 1 23 3 5 1 7 1 30 1 4 2 5 1 1 2 2 1 1 1 3 2 9 1 8 2 1 2 8 2 3 2 1 3 6 1 1 2 7 1 3 1 22 1 15 2 5 1 1 3 3 1 4 2 1 1 21 3 13 2 1 3 1 1 4 1 1 2 4 3 7 5 3 4 1 1 5 1 1 1 3 6 4 5 17 3 18 2 3 1 3 1 8 1 3 1 17 1 4 2 2 2 1 1 4 2 1 1 7 1 6 1 4 3 6 1 1 3 9 1 5 1 4 2 5 1 2 1 2 1 13 1 4 1 9 3 6 3 3 2 6 1 2 1 16 1 2 1 5 1 23 3 2 2 11 2 3 2 10 3 7 1 3 3 1 1 8 1 8 2 7 1 3 1 6 4 2 2 5 2 3 1 9 2 1 6 2 1 1 5 34 1 4 4 6 4 1 1 6 3 2 1 3 1 6 2 2 4 17 2 2 2 12 1 2 1 13 3 3 3 1 3 2 4 1 1 1 3 7 2 2 1 2 2 3 5 2 1 23 1 6 1 3 2 4 1 3 2 8 3 5 3 2 1 1 2 22 3 23 4 19 1 1 2 6 1 1 5 3 1 3 3 4 1 5 1 6 1 31 1 4 1 3 3 1 3 3 1 2 3 1 2 6 1 1 1 25 2 17 1 17 1 7 2 11 3 6 3 1 3 13 2 1 1 2 1 20 4 15 2 1 1 6 8 7 4 53 1 2 1 4 1 3 3 8 3 1 1 1 2 9 1 16 1 49 1 4 1 5 1 10 4 9 1 3 1 1 1 6 1 12 2 2 1 4 2 15 1 2 1 9 2 10 1 66 2 2 3 19 1 12 1 7 1 3 1 13 1 5 2 2 2 6 4 8 3 7 1 2 4 5 3 8 1 15 1 20 1 2 1 3 3 13 4 1 1 1 3 2 3 7 1 5 3 2 4 9 2 20 1 16 2 3 2 4 1 1 4 8 2 3 1 11 3 4 1 1 6 16 3 1 2 6 4 12 2 9 3 3 1 3 2 3 1 9 2 10 2 11 2 17 1 4 5 3 1 3 3 4 1 8 1 10 3 42 1 7 1 3 1 1 1 1 1 9 2 4 1 2 2 1 2 5 2 13 5 10 5 13 4 5 1 4 2 4 1 5 2 6 2 3 1 7 1 7 1 9 1 7 2 15 3 10 1 7 1 6 4 1 1 4 1 4 2 37 1 12 1 2 1 5 1 2 1 1 1 2 2 18 1 6 1 1 2 12 1 1 1 1 1 10 2 7 1 2 6 3 1 1 3 5 1 3 1 11 2 8 3 35 1 15 3 6 3 15 2 2 5 1 2 2 2 1 5 9 2 3 2 3 2 14 1 2 9 2 1 1 1 5 1 6 1 7 2 3 1 2 4 3 1 5 1 9 1 25 2 2 1 1 3 4 1 6 1 8 3 6 2 4 1 5 2 3 1 13 1 7 2 10 1 2 4 2 3 4 1 7 3 7 1 3 4 1 2 2 3 1 2 1 2 5 1 26 1 1 2 3 4 3 1 2 9 5 1 4 1 16 1 2 1 1 1 3 3 16 2 10 3 4 1 1 4 16 3 3 2 1 7 2 1 1 1 5 1 8 3 4 3 2 1 3 1 1 5 14 2 7 3 4 1 3 1 2 2 18 3 5 1 15 1 3 2 14 1 5 3 1 2 14 3 2 2 2 2 5 1 4 6 14 3 2 1 6 1 9 1 4 10 3 1 8 5 15 1 4 2 8 1 1 2 7 1 11 1 3 2 1 1 1 2 5 2 1 1 18 4 4 1 1 2 1 2 2 4 1 5 1 3 4 3 3 1 13 3 1 2 4 2 1 1 5 2 2 4 1 1 5 5 10 2 7 2 1 1 3 7 3 1 14 2 3 5 1 1 2 2 11 2 9 1 2 4 7 3 1 2 3 1 4 2 2 9 4 1 8 7 4 1 5 6 3 1 6 1 31 1 2 3 1 1 1 2 2 1 22 1 3 1 12 2 23 5 1 6 4 1 5 4 10 1 3 1 1 1 7 4 3 5 3 1 12 3 11 1 10 3 8 1 19 3 1 2 3 1 3 2 7 2 14 3 16 2 5 2 3 3 4 2 4 1 12 1 4 1 9 3 6 3 17 2 5 2 5 1 1 1 3 2 3 4 17 3 2 1 1 6 3 1 10 1 1 2 14 4 1 1 3 1 2 3 3 5 5 3 2 1 8 2 1 3 5 1 1 1 2 1 3 3 1 3 1 6 18 2 12 4 1 1 21 1 4 1 5 8 15 2 12 3 1 1 5 3 3 2 13 3 10 5 19 1 1 2 4 4 7 1 2 3 11 3 4 5 7 1 15 1 3 1 5 1 6 4 8 1 2 2 2 2 2 1 3 2 5 3 1 1 1 1 11 1 5 5 9 2 6 4 9 2 1 1 2 2 5 2 1 1 13 1 1 1 5 4 6 2 4 2 15 1 5 1 16 1 3 3 6 2 7 1 1 2 5 3 3 2 9 4 9 2 4 2 5 2 1 4 8 3 10 3 3 2 2 2 2 1 5 1 23 2 13 1 2 2 33 2 7 3 13 1 7 4 2 1 2 3 19 2 5 3 7 1 4 4 19 2 21 1 2 2 4"/><use href="#sp2" stroke="#3f54b0" stroke-dasharray="0 3 1 3 1 29 2 1 1 29 2 49 1 1 1 1 1 42 1 46 1 1 2 25 2 16 1 19 2 4 1 4 1 10 1 1 1 12 1 11 2 1 2 12 1 37 1 5 2 8 3 1 1 2 1 22 1 4 1 8 1 4 2 33 1 2 1 17 2 5 1 33 1 46 1 16 2 58 3 79 2 56 1 29 1 31 1 4 2 77 1 23 1 4 1 8 1 23 2 21 2 31 1 33 1 21 1 8 1 20 3 10 1 8 1 21 2 18 2 21 2 22 1 32 1 2 3 9 1 1 3 3 1 17 2 14 2 39 1 6 1 22 2 1 2 9 2 26 1 26 2 49 1 2 1 11 3 1 1 33 1 5 1 8 1 65 1 16 2 6 1 15 2 28 1 20 3 28 1 15 1 38 2 7 2 21 2 1 1 57 2 2 2 21 2 70 4 25 1 23 2 23 4 29 3 73 1 7 2 7 3 13 1 13 1 22 1 4 1 6 2 4 1 10 1 61 1 42 2 3 2 6 1 6 1 4 1 21 1 6 1 8 3 72 1 40 1 7 1 2 2 6 1 38 1 6 5 7 2 81 1 10 1 10 2 1 1 8 3 17 1 17 1 18 2 10 1 19 1 1 2 49 1 6 2 7 2 1 1 14 3 5 2 3 1 26 1 20 4 7 3 14 2 1 1 8 1 54 2 26 4 6 2 51 1 1 2 4 3 27 2 32 1 20 2 27 4 1 1 1 2 1 1 58 4 8 1 6 1 6 1 3 3 15 1 40 4 5 2 16 2 69 3 9 1 11 1 1 1 8 1 26 1 25 1 119 1 25 1 2 2 3 3 30 1 9 1 14 2 26 1 6 2 9 2 3 1 18 1 18 1 8 1 15 1 4 2 1 1 5 1 15 1 32 2 21 4 3 1 4 2 10 2 3 4 20 2 26 1 28 1 26 2 2 2 40 2 2 1 14 1 13 1 43 4 12 2 12 1 16 2 13 1 9 1 30 1 18 1 24 1 5 1 37 1 1 2 5 1 3 1 18 2 3 2 3 2 4 2 2 1 34 3 4 1 5 1 31 1 2 1 5 1 2 4 48 2 2 3 18 1 5 1 9 1 39 1 2 2 17 1 3 1 13 1 8 1 8 1 15 1 21 3 13 1 23 1 19 1 35 1 22 1 8 2 27 1 5 1 1 1 22 1 12 1 17 4 38 1 17 2 6 1 50 1 2 1 27 1 5 1 15 1 9 1 25 2 4 4 2 2 79 2 1 3 1 1 5 1 20 1 14 1 21 1 19 2 4 3 1 3 92 2 45 1 1 1 21 1 8 1 10 1 75 2 4 2 8 1 5 2 2 1 23 1 13 1 26 2 5 2 13 2 49 1 13 1 19 2 28 1 1 1 20 1 1 1 29 2 1 2 16 1 70 1 3 3 23 1 4 1 24 1 2 3 5 1 13 1 8 2 3 2 56 1 31 2 8 1 3 1 9 1 10 3 3 2 4 3 26 2 3 1 1 1 15 2 10 1 35 1 12 1 9 1 3 1 23 2 23 1 23 1 7 1 3 2 25 1 6 1 4 1 41 1 3 4 25 3 11 1 47 2 14 1 5 2 5 1 14 1 6 2 9 1 2 1 13 2 6 2 9 2 5 1 2 1 1 1 9 1 19 1 30 1 32 2 7 2 2 1 7 2 9 2 5 3 48 1 35 1 4 1 1 1 20 2 37 1 1 1 18 1 42 2 4 2 17 3 57 1 26 2 21 4 30 1 17 2 50 2 7 1 54 1 50 1 29 1 2 2 44 1 41 1 11 3 1 2 21 1 28 3 18 1 18 1 39 1 32 1 17 1 2 2 20 1 52 1 99 1 5 2 16 1 12 2 6"/><use href="#sp2" stroke="#ef9b9d" stroke-dasharray="0 29 1 58 2 3 1 51 1 6 3 19 2 30 1 6 2 43 1 33 1 43 1 50 1 11 3 90 1 16 1 8 4 4 1 56 1 10 1 15 1 65 3 24 2 39 1 22 1 7 1 62 1 36 1 72 1 125 1 63 2 16 2 76 1 16 1 20 1 22 1 4 5 35 1 10 1 3 1 40 1 5 2 51 3 28 2 17 1 14 2 16 2 46 3 15 3 14 1 1 1 14 1 5 1 12 1 8 2 19 1 4 1 11 1 9 1 7 1 84 1 44 1 20 1 23 1 13 1 62 2 28 1 65 3 86 2 75 1 124 2 2 1 19 1 8 2 12 1 2 1 4 2 1 4 76 1 10 2 4 1 10 1 15 1 1 5 1 1 3 1 1 2 12 1 7 1 12 2 28 2 17 1 42 2 25 2 10 1 30 2 7 1 3 1 6 1 15 2 2 2 37 1 71 3 71 1 73 1 4 1 143 1 3 1 1 1 21 2 93 1 21 1 2 1 34 2 9 1 24 1 12 1 24 1 48 2 28 1 8 1 8 3 7 4 3 1 7 1 16 2 7 1 14 1 3 2 8 1 47 1 16 1 29 3 73 5 26 1 1 1 1 1 1 3 38 1 2 1 27 3 1 1 11 1 39 1 4 3 53 1 35 1 45 3 73 2 16 2 59 3 69 1 32 1 14 1 49 1 15 1 5 1 1 1 17 1 64 1 73 1 31 2 12 1 4 1 41 1 1 1 8 1 16 1 1 3 74 5 16 1 18 1 26 2 18 1 17 3 116 1 28 1 44 1 27 1 7 1 9 1 21 1 2 1 6 3 28 1 6 1 44 1 6 1 11 1 2 1 2 1 8 1 5 2 27 1 4 1 13 4 7 1 9 2 3 1 1 1 19 1 41 1 1 1 14 1 8 2 61 2 35 1 32 1 7 1 48 1 13 1 29 3 120 1 289 1 63 3 77 1 1 1 128 1 69 1 25 2 55 1 90 1 126 1 2 1 1 1 76 1 278 5 1 2 58 2 64 1 58 1 1 1 45 2 38 1 15 1 30 2 58 1 3 1 41 1 2 1 40 1 6 2 7 1 17 2 66 1 41 1 38 3 5 1 33 3 39 2 34 2 20 1 41 1 10 1 12 1 7 3 33 1 10 1 6 2 56 2 2 1 46 1 8 1 1"/><use href="#sp2" stroke="#0b8286" stroke-dasharray="0 4 1 183 1 95 1 25 1 50 1 60 2 43 2 26 2 111 1 7 1 14 1 23 1 14 1 59 2 6 2 51 3 21 1 23 1 83 1 59 1 14 2 75 1 134 1 19 1 24 2 39 1 21 3 140 3 15 2 64 2 34 1 55 1 59 1 23 1 119 2 15 1 162 1 55 1 74 2 40 1 79 1 124 2 101 1 50 1 12 2 49 1 2 1 92 1 3 1 154 4 10 2 1 1 14 1 58 1 48 3 9 1 31 1 32 1 12 1 2 1 83 1 9 1 28 1 162 1 24 1 27 1 78 1 174 1 182 1 32 1 126 1 11 1 2 2 15 2 56 1 14 1 53 2 3 1 56 2 154 1 256 2 85 2 4 1 30 1 3 2 950 1 477 1 155 2 97 2 67 1 40 1 49 1 63 1 5 1 171 1 4 2 14 4 152 4 14 1 2 1 14 1 29 1 85 1 41 2 134 1 43 1 18 1 127 1 36 2 159 1 9 1 201 1 10 1 66 1 110"/><use href="#sp2" stroke="#d95a48" stroke-dasharray="0 74 1 63 1 28 1 68 2 75 2 154 2 75 1 6 1 37 1 40 3 17 2 3 1 7 1 66 1 83 3 17 1 6 1 5 1 16 2 61 1 42 1 21 2 12 1 5 1 12 2 162 1 72 1 102 3 5 1 14 1 2 3 100 1 43 1 8 1 3 1 76 1 447 1 34 1 30 1 203 1 38 1 219 2 2 1 9 1 104 3 163 1 97 1 216 1 4 1 160 1 41 1 192 1 91 1 59 1 21 1 58 1 1 1 39 2 1 1 57 1 80 3 40 1 18 1 56 1 69 1 11 2 409 1 55 1 91 1 178 2 4 1 217 1 109 1 52 1 60 1 29 1 56 2 11 1 11 1 1 1 8 1 126 1 23 2 254 1 142 1 141 1 280 3 42 1 28 2 79 3 23 1 5 1 29 1 6 1 2 1 6 2 127 1 158 1 132 1 183 1 92 1 48 1 57 1 227 2 3 1 77 2 2 1 324"/><use href="#sp2" stroke="#161616" stroke-dasharray="0 1 2 3 1 11 3 3 3 4 2 9 1 8 2 2 1 5 2 2 1 2 2 2 2 2 3 2 2 17 1 3 3 4 1 1 2 5 1 1 1 4 1 2 2 4 1 10 2 1 2 5 2 19 4 3 2 5 1 8 1 7 1 2 1 11 3 2 2 12 1 2 1 14 1 1 2 7 2 4 1 6 3 1 2 14 1 14 2 2 2 11 4 3 1 24 3 18 1 4 4 11 5 30 1 1 4 5 2 13 1 11 1 20 1 8 1 3 1 18 2 9 1 1 1 5 1 14 2 13 1 10 1 9 2 1 1 9 1 5 3 7 2 2 1 16 1 2 6 14 1 10 1 3 2 19 1 13 1 13 1 6 3 15 1 32 1 3 2 2 1 1 1 22 1 23 1 12 2 12 1 18 1 4 2 20 1 14 2 11 5 1 2 19 1 2 5 6 1 2 2 24 6 11 1 9 2 1 1 2 2 23 2 2 1 5 3 7 3 8 2 22 2 4 3 21 3 1 3 6 1 7 1 3 1 11 1 2 3 1 3 6 1 13 1 1 2 5 1 32 3 5 3 34 1 6 1 11 1 3 2 5 3 1 3 7 3 4 1 3 1 4 4 1 2 6 3 4 5 2 1 11 1 16 3 2 1 2 1 2 1 13 3 4 2 2 1 6 1 5 1 3 1 2 2 2 1 13 1 8 1 6 5 4 4 5 2 20 1 2 2 14 5 5 2 7 2 12 2 5 1 3 1 3 3 4 3 1 3 5 3 9 1 14 2 29 4 11 2 2 1 1 2 1 1 1 2 1 1 3 4 1 1 1 3 3 2 6 8 17 2 1 1 9 1 8 1 11 4 2 3 7 5 11 2 6 2 10 2 19 8 8 2 1 2 5 1 8 1 2 1 2 4 7 3 4 1 18 4 8 3 1 2 9 2 7 2 7 1 4 1 3 1 3 1 11 1 1 4 7 1 17 3 5 4 7 1 8 2 6 4 27 1 6 2 10 2 6 1 1 2 21 1 4 1 4 1 11 1 3 1 12 2 1 2 2 2 3 2 5 2 10 1 6 1 28 2 13 2 13 1 12 5 1 6 9 1 1 1 50 6 6 4 6 2 26 1 1 2 13 4 27 1 2 2 4 2 2 1 3 2 2 1 55 1 4 4 2 2 1 1 2 2 9 1 30 2 18 1 22 2 5 2 9 2 2 1 1 2 3 3 1 1 2 1 4 2 7 1 17 1 20 1 6 3 13 1 4 1 16 2 19 1 32 1 1 1 5 1 11 1 3 1 60 2 2 2 7 1 4 1 4 2 3 2 20 1 5 2 11 2 4 2 13 1 4 2 3 2 9 1 8 3 1 1 9 2 3 1 2 1 6 3 7 1 2 1 2 2 1 2 3 2 2 1 5 2 3 1 5 1 1 2 1 2 6 2 19 1 20 1 13 1 9 1 2 1 6 3 3 2 1 2 4 1 1 2 2 1 3 1 6 1 2 2 5 1 1 4 15 4 5 1 16 2 1 1 7 2 1 3 3 2 9 1 12 1 7 4 5 4 7 2 11 2 10 1 2 3 1 2 9 2 11 1 3 3 5 1 1 4 2 1 7 3 7 3 16 2 12 2 13 3 10 1 1 1 8 2 5 1 9 1 2 4 2 4 5 2 23 2 3 1 12 3 3 1 2 3 2 2 16 2 2 1 12 1 3 1 10 4 1 1 5 1 6 2 1 1 5 4 5 8 11 1 6 4 6 3 5 1 6 1 3 2 5 1 8 1 4 1 32 2 21 2 15 1 19 2 6 2 40 1 1 2 10 1 3 3 16 1 20 3 11 1 1 2 21 3 4 1 6 2 18 2 5 2 1 2 33 1 3 1 14 1 18 1 4 1 6 2 9 1 5 1 5 1 8 2 4 2 9 2 2 1 9 1 6 3 5 4 10 6 29 1 10 10 6 4 8 3 2 1 9 3 17 3 2 1 7 3 2 2 10 2 2 3 2 2 5 1 3 2 8 4 3 2 1 1 1 1 3 3 2 2 47 5 14 3 1 1 10 3 5 1 9 2 1 3 24 2 4 1 2 2 6 1 1 5 2 3 8 5 46 1 16 1 4 1 6 6 1 1 13 1 7 3 13 1 7 2 9 1 8 1 18 2 6 3 24 1 1 1 3 1 11 2 1 2 28 1 36 4 4 1 1 2 12 1 3 5 5 1 1 3 21 3 13 2 3 1 17 1 31 3 12 3 7 1 11 7 6 2 5 1 15 1 10 1 2 1 3 4 10 2 9 1 1 4 7 2 1 2 30 2 9 2 6 3 4 1 6 1 2 1 2 2 4 2 9 2 7 1 34 1 12 3 34 2 7 1 5 1 3 1 1 1 13 1 2 4 11 2 33 3 2 4 7 4 2 1 17 1 2 2 1 1 4 1 1 2 1 2 3 2 12 1 15 1 19 2 3 1 17 2 2 1 9 2 6 1 22 2 4 1 6 2 1 1 6 2 19 1 3 2 8 1 6 2 34 2 2 1 7 1 1 3 15 1 25 1 1 1 3 3 12 2 8 1 11 2 7 2 15 1 8 1 7 1 3 4 5 2 12 3 14 1 8 1 21 4 2 1 3 1 20 2 12 2 7 2 11 1 4 1 36 2 1 2 9 1 11 3 2 2 1 1 1 1 8 1 11 9 5 3 15 1 5 1 2 1 3 2 3 2 17 2 10 1 3 2 24 1 6 2 30 1 7 1 1 1 2 1 2 2 35 2 16 1 8 2 25 1 10 7 18 1 4 3 1 3 46 1 23 2 3 3 16 1 7 1 6 1 40 4 23 1 37 1 11 2 1 1 5 1 18 1 33 1 3 1 4 4 1 2 28 1 29 4 1 2 11 1 15 3 4 3 1 1 7 5 18 1 3 2 17 5 10 2 3 3 3 1 3 2 2 1 1 1 14 2 1 5 4 7 4 2 2 1 2 6 4 3 5 3 4 4 1 2 24 2 21 2 7 1 4 1 2 3 6 4 5 1 11 1 4 1 1 4 5 1 2 2 2 5 10 1 3 4 4 9 11 4 5 4 3 6 13 1 1 2 16 1 6 2 14 1 24 3 22 1 10 2 7 2 1 1 3 2 2 2 4 1 6 4 7 3 15 1 19 2 17 1 5 2 12 2 25 5 10 1 7 1 11 1 2 2 1 3 3 3 5 2 12 3 3 3 2 4 29 6 25 2 2 1 7 3 7 2 2 3 2 1 8 4 1 1 23 1 4 5 3 2 2 2 19 1 3 1 8 5 4 1 12 1 3 1 9 1 21 1 2 6 6 2 2 5 1 2 4 1 5 4 10 1 5 3 2 1 8 1 10 3 8 1 3 4 9 1 2 1 3 1 6 6 4 5 12 2 3 1 2 1 4 1 5 3 4 3 4 2 3 3 1 3 4 2 2 1 5 2 3 3 5 2 10 1 1 2 3 1 13 4 3 2 1 2 9 1 7 2 5 1 3 1 11 2 4 2 6 1 7 1 10 1 9 2 2 1 11 3 7 2 2"/></g><g transform="translate(582.00 806.00) scale(1.00000 1.00000)"><rect width="89" height="89" fill="#161616"/><use href="#sp2" stroke="#f6e464" stroke-dasharray="0 1 5 9 1 2 5 1 1 6 7 2 2 13 1 6 5 1 1 1 2 13 5 3 1 4 1 12 1 2 7 20 2 2 10 2 1 2 1 1 4 12 4 3 4 12 2 4 1 3 1 1 7 1 1 2 1 20 1 1 2 7 1 15 1 5 3 21 5 12 2 8 2 1 1 2 4 19 1 3 1 21 1 11 2 5 2 1 1 7 2 16 1 1 1 7 2 10 2 29 2 16 2 3 1 13 2 7 1 10 1 16 3 9 1 7 2 21 3 10 1 2 2 62 3 5 1 8 4 3 2 7 1 1 1 4 5 18 1 1 3 12 3 2 5 3 5 55 2 37 6 12 1 14 1 21 1 1 1 3 1 1 1 9 1 1 1 2 2 4 6 17 2 3 1 14 3 16 2 9 1 3 2 2 5 7 1 9 5 8 1 4 1 25 1 11 1 3 2 4 1 4 1 8 2 7 1 13 1 8 2 18 1 49 2 1 4 2 1 14 4 32 5 16 1 1 2 1 3 11 1 12 1 36 1 20 1 36 5 19 1 13 3 7 2 14 1 1 2 10 1 7 1 10 1 58 1 1 3 10 1 4 1 23 2 5 2 9 1 2 2 8 3 3 1 8 5 2 1 12 1 39 1 15 4 1 1 10 1 7 1 10 4 6 1 1 3 2 4 5 1 15 4 3 4 8 2 17 1 10 2 2 6 14 1 15 4 11 6 2 1 28 2 6 1 3 1 5 5 19 1 1 1 12 1 5 2 14 1 16 1 2 1 15 1 2 1 7 1 4 3 39 2 8 2 6 2 14 1 1 2 1 3 3 1 1 1 2 3 16 1 16 1 13 1 25 2 5 1 3 2 9 5 6 1 10 1 19 1 2 3 2 1 15 1 1 2 1 2 3 2 3 1 8 4 2 1 14 1 1 1 1 2 36 3 1 2 3 2 16 6 1 1 7 1 20 2 33 1 8 2 12 1 12 1 17 1 2 3 20 1 1 2 7 4 20 1 8 9 16 5 2 2 14 2 42 1 15 2 2 1 2 5 15 6 1 1 47 2 17 5 31 1 12 1 44 2 8 1 7 2 4 1 29 1 15 4 15 1 14 1 26 2 11 4 4 1 3 1 12 4 1 2 25 3 4 1 11 2 32 1 2 2 15 2 11 3 17 1 3 1 1 3 11 1 7 4 2 1 12 3 19 3 4 2 3 1 28 2 22 5 24 3 11 1 2 5 9 1 7 1 9 1 1 2 3 2 8 1 3 1 19 2 6 3 53 2 7 1 5 3 30 4 27 4 30 2 14 2 52 3 13 1 1 1 29 4 30 3 5 1 3 1 1 1 14 1 1 1 22 2 6 3 6 1 8 2 10 2 4 1 24 1 16 1 3 1 34 2 12 4 10 2 1 3 8 3 13 2 3 2 11 2 10 1 19 1 9 1 10 2 1 1 1 1 11 3 11 1 14 1 10 2 7 2 1 3 12 2 7 1 1 2 2 1 3 1 3 2 8 2 11 1 18 1 11 1 1 3 2 2 4 3 2 2 7 1 13 1 6 5 1 1 2 1 11 1 5 2 5 5 6 1 6 1 4 1 1 2 6 2 2 1 1 1 5 1 3 5 10 2 24 2 8 5 10 2 4 2 5 2 1 2 4 2 3 1 6 5 3 5 9 1 6 13 8 3 3 1 3 1 15 1 8 2 1 3 8 2 4 3 1 1 4 1 1 3 5 2 12 1 8 1 24 2 10 9 7 1 1 1 3 1 13 2 15 1 23 2 6 1 4 1 8 2 5 4 14 2 13 5 8 1 18 1 1 1 7 2 5 1 7 2 13 1 15 2 1 3 4 1 5 2 6 3 8 1 1 7 40 2 10 10 6 2 7 2 4 1 9 2 10 1 16 1 12 1 2 1 3 1 16 2 5 3 4 1 1 2 2 2 1 1 9 2 4 2 3 1 14 4 3 2 15 1 8 2 25 1 17 1 1 2 3 1 1 5 47 2 11 1 10 3 20 1 21 4 3 1 27 1 56 1 22 3 1 1 36 1 10 2 6 1 10 1 15 2 1 1 68 2 5 5 19 2 11 1 7 1 2 1 8 2 3 3 18 2 13 2 4 5 5 2 5 2 9 1 25 1 12 2 4 2 6 4 4 2 5 1 8 2 8 2 8 1 16 5 6 2 7 2 9 1 5 1 5 3 25 3 6 2 5 2 7 1 16 1 2 1 7 2 19 1 1 1 12 1 3 3 7 1 13 1 3 1 14 1 18 1 8 1 3 1 4 1 4 1 4 3 2 3 15 1 2 4 7 1 4 3 2 3 21 1 31 2 3 2 17 1 13 1 22 1 17 4 9 2 3 2 9 4 15 2 35 2 17 3 3 2 2 2 7 2 5 2 6 1 7 1 22 1 2 1 19 1 5 1 9 1 36 1 8 1 7 2 1 1 3 2 4 4 7 5 5 2 7 4 10 4 5 1 9 2 10 1 25 2 20 1 10 3 6 2 17 1 22 3 8 2 5 5 32 3 10 1 12 1 43 1 8 1 21 1 2 5 21 1 5 2 5 1 3 3 3 2 19 1 9 1 1 1 1 1 21 1 9 3 11 1 6 1 6 1 4 3 3 4 22 2 21 1 1 1 13 2 6 4 5 2 5 3 34 1 9 6 2 2 4 2 20 2 3 3 2 1 2 2 28 1 16 2 3 1 3 4 2 1 1 3 5 3 1 1 3 3 4 1 3 2 19 1 27 1 4 1 3 3 18 3 10 1 14 2 10 1 17 3 8 2 5 4 10 3 4 3 5 4 28 2 19 2 4 1 1 1 17 2 3 1 2 1 5 2 7 1 4 1 39 4 1 4 13 3 2 3 2 2 6 4 23 1 6 3 7 2 4 2 24 1 5 2 5 1 8 4 28 6 6 1 4 1 2 1 2 2 8 2 10 2 6 1 3 1 22 1 6 3 8 1 2 6 25 1 4 2 1 2 11 4 5 3 20 6 5 1 3 1 7 3 2"/><use href="#sp2" stroke="#3f54b0" stroke-dasharray="0 6 4 6 1 21 2 3 1 1 1 2 1 4 2 1 4 12 3 3 4 20 4 1 4 14 5 2 2 5 1 3 2 13 1 14 3 15 1 1 1 1 1 26 2 5 1 8 3 21 2 46 3 14 2 4 2 16 4 4 1 3 1 41 1 10 1 3 5 31 1 6 2 7 4 18 4 2 2 10 3 39 5 22 1 6 4 9 1 3 1 1 2 18 2 10 2 6 2 8 3 17 1 17 4 4 3 22 5 6 2 24 2 5 3 14 5 13 2 1 5 6 4 6 3 13 2 12 3 16 7 2 2 4 1 43 4 5 1 6 3 17 3 12 2 12 4 11 1 2 1 23 1 19 2 2 2 9 1 44 1 7 2 4 1 3 1 1 1 13 1 23 4 15 4 1 1 45 2 6 4 7 1 24 2 9 4 2 1 3 3 6 1 8 1 10 2 18 3 18 2 1 1 16 1 10 4 7 2 4 2 8 2 9 4 14 2 2 3 12 1 17 2 5 3 1 1 8 2 16 2 17 1 2 3 2 1 5 4 4 1 12 2 5 2 4 1 27 2 2 1 27 2 25 1 5 2 1 1 3 2 2 4 6 1 2 3 12 1 7 2 2 1 7 3 39 1 3 1 12 1 19 1 11 1 3 2 8 2 1 4 29 1 3 3 1 1 24 3 3 2 29 3 2 2 8 2 3 2 11 1 1 2 14 1 11 3 17 2 29 2 3 6 19 6 2 4 29 1 9 1 7 3 40 1 1 3 6 1 22 3 15 1 1 1 2 1 2 1 47 3 4 3 16 1 5 3 9 1 34 3 21 4 4 3 2 1 38 2 9 1 3 2 11 2 5 2 10 2 2 3 7 2 11 1 12 1 29 3 2 3 16 2 11 1 4 2 9 3 6 1 1 3 10 3 13 1 20 2 3 1 13 1 20 2 6 4 19 2 23 3 12 1 1 1 10 3 1 1 3 2 1 2 9 2 6 2 14 3 36 2 1 1 19 1 21 1 11 1 1 1 4 1 4 1 1 1 9 2 6 1 8 1 27 2 1 1 9 3 23 2 27 2 3 3 16 2 1 1 6 1 8 2 15 2 8 1 1 2 31 2 11 2 26 3 14 1 1 2 27 1 2 1 10 2 16 4 25 2 11 2 7 1 25 2 15 1 7 2 19 1 14 2 8 1 1 4 1 1 19 1 1 2 8 2 17 2 3 3 18 1 1 1 18 2 5 2 1 1 7 2 13 1 9 3 7 2 11 6 9 2 15 2 17 2 1 3 11 1 8 4 3 1 14 1 4 1 17 2 2 2 19 1 1 7 17 1 39 3 3 1 16 3 1 1 25 1 17 1 13 2 18 1 13 1 1 3 14 1 3 4 1 2 21 1 7 1 32 2 13 1 14 2 1 2 9 1 13 3 14 2 10 2 1 4 2 1 12 2 22 1 9 2 21 1 13 2 2 3 1 1 2 1 2 1 20 2 29 1 20 1 11 3 32 4 7 5 6 1 21 2 4 2 11 1 20 2 47 3 13 2 5 1 1 1 18 1 7 5 6 2 27 3 1 2 2 8 8 3 7 1 13 1 17 5 10 4 7 2 6 1 3 15 11 1 39 4 11 5 1 2 2 1 15 1 6 3 11 5 13 3 8 1 4 2 30 4 3 2 7 3 26 1 2 2 4 5 7 2 3 1 1 1 6 2 11 2 18 1 5 1 46 1 11 1 11 3 8 1 1 1 9 1 3 1 6 2 12 1 11 4 1 1 25 2 36 1 16 3 2 1 2 2 29 2 9 1 1 1 12 1 6 1 13 2 5 1 4 1 31 1 5 2 6 1 8 2 13 2 16 2 12 1 23 2 1 2 6 2 9 2 27 6 37 1 11 2 10 1 16 2 7 1 4 1 10 1 5 1 12 2 4 7 1 1 21 1 6 2 8 1 3 5 5 3 1 1 7 4 8 3 1 1 5 3 17 1 2 1 3 1 8 1 3 4 3 5 5 4 7 1 5 1 5 4 5 3 2 1 4 1 4 1 1 2 3 5 3 3 1 2 2 2 1 2 3 1 8 2 1 1 3 5 14 1 3 1 1 2 1 1 4 4 1 1 2 3 3 1 7 2 3 2 14 1 2 3 2 1 3 2 12 1 9 3 1 1 2 4 8 4 5 5 3 1 6 1 2 4 4 4 4 1 8 2 4 1 7 4 11 1 6 7 11 1 10 6 5 1 3 3 2 1 3 1 11 4 5 3 20 2 11 1 10 1 3 2 4 3 3 1 17 3 5 5 3 1 9 5 4 2 3 2 2 2 15 1 2 3 7 5 10 1 3 4 7 1 3 2 4 3 1 1 1 3 9 4 19 2 9 1 5 4 2 2 5 1 2 1 12 7 1 4 11 4 17 4 11 3 6 4 8 4 10 1 2 2 5 3 7 3 6 2 4 1 1 2 5 1 9 2 6 2 15 1 5 2 2 2 8 1 7 1 4 5 17 4 4 2 19 2 22 1 1 1 4 2 7 1 8 4 3 4 6 2 3 1 4 2 17 2 2 4 26 1 3 2 20 1 3 1 1 2 10 1 15 1 13 2 3 1 6 2 3 1 13 3 3 1 18 3 4 6 30 3 14 1 3 2 11 1 4 2 12 4 13 1 3 1 14 4 4 3 6 1 18 1 4 1 1 1 8 1 6 4 6 3 4 3 2 2 14 1 13 1 52 2 3 1 1 5 2 1 8 2 6 1 9 1 2 3 11 3 11 1 3 1 1 2 12 3 17 4 42 2 11 3 4 1 13 4 30 3 11 4 33 1 4 2 7 1 16 5 2 2 21 1 5 3 24 3 3 1 19 2 15 1 6 1 12 2 4 2 15 1 3 1 1 4 19 9 5 1 6 1 7 1 5 2 10 3 14 4 4 1 5 4 11 1 2 2 4 1 4 1 4 1 14 1 9 2 13 5 4 3 2 4 28 2 1 2 2 1 11 1 3 1 9 1 10 2 6 3 8 5 14 1 10 2 18 1 4 1 6 1 13 1 1 3 8 1 8 3 13 1 5 3 9"/><use href="#sp2" stroke="#ef7f24" stroke-dasharray="0 44 1 7 1 16 1 7 1 34 2 22 1 62 1 49 7 38 4 1 3 77 3 53 5 8 1 2 1 15 1 2 1 9 5 8 1 21 1 70 2 21 1 2 2 6 2 13 3 13 2 13 2 4 3 3 1 72 5 41 1 66 2 33 5 30 1 3 1 34 2 8 1 135 1 19 1 3 1 18 2 17 1 42 1 1 4 4 3 13 2 19 2 20 1 28 2 10 1 3 2 4 1 1 2 50 1 11 2 3 1 19 2 6 1 21 1 7 1 9 1 21 2 24 2 11 1 24 1 13 1 9 3 5 3 17 1 35 1 13 1 5 1 29 4 4 1 10 1 18 1 3 1 34 3 6 4 18 1 20 2 3 2 19 2 18 2 5 1 19 1 2 1 7 1 6 3 3 3 7 1 26 1 13 1 5 1 9 1 19 2 3 1 14 1 15 1 6 1 2 1 2 1 1 1 3 1 34 4 4 4 22 2 5 1 7 3 1 1 3 1 19 4 34 2 12 1 7 2 2 5 4 1 9 1 17 2 2 5 9 6 26 1 6 1 14 1 12 1 8 1 11 1 5 1 19 1 1 1 1 1 46 3 26 1 32 1 10 1 34 1 25 2 73 1 27 1 18 3 9 1 49 3 17 2 22 1 5 2 28 2 1 1 38 3 2 2 95 1 1 4 8 1 14 2 6 1 3 1 3 1 14 1 1 3 30 1 11 1 11 2 13 1 9 1 18 6 17 1 3 2 3 2 2 1 14 2 5 2 17 1 3 2 8 1 23 1 8 1 5 1 15 1 35 1 6 1 3 1 35 2 49 1 14 1 21 1 3 1 6 1 13 3 13 1 17 2 29 1 1 1 8 1 43 4 13 1 44 1 2 1 14 1 3 1 41 1 12 2 59 1 4 2 10 1 5 1 3 4 2 2 46 2 26 3 11 1 14 1 13 3 18 1 6 1 3 1 20 3 3 3 18 2 7 4 20 2 36 1 13 3 24 1 14 2 8 3 40 3 2 1 50 2 2 1 29 3 44 2 1 2 36 1 6 3 1 2 1 1 34 1 11 2 20 1 3 1 7 4 46 3 2 1 6 2 35 3 25 1 21 5 4 3 3 1 19 1 2 1 7 1 12 1 69 1 32 2 6 1 57 2 7 2 5 1 6 1 11 1 13 2 38 1 8 2 17 2 3 1 11 1 6 1 58 2 7 2 4 2 1 2 28 1 25 2 8 1 30 1 95 1 49 1 9 1 25 3 30 1 24 4 23 3 15 1 6 2 1 1 19 2 4 4 8 1 4 3 4 1 19 4 14 1 8 1 32 3 21 1 1 3 15 3 1 2 26 3 1 2 78 3 100 1 6 2 59 3 1 1 53 1 6 1 10 2 7 1 29 1 19 1 1 2 3 2 97 1 4 1 1 3 23 1 45 1 2 1 37 1 30 1 3 1 111 1 30 2 36 1 13 2 4 1 95 1 13 1 5 1 22 2 14 1 10 1 3 1 13 1 12 2 15 1 6 2 1 1 29 1 2 1 43 2 7 2 8 2 16 2 1 3 7 2 1 1 4 2 1 1 10 1 1 1 6 1 1 1 12 1 6 1 3 1 17 1 1 4 9 2 7 1 10 2 4 1 4 1 9 3 1 1 5 4 3 1 3 1 6 3 7 1 15 4 6 4 19 2 17 2 9 4 10 1 50 3 8 1 1 1 3 1 4 1 30 1 3 5 7 1 86 6 9 6 8 2 6 4 3 1 45 1 5 2 2 2 5 5 9 7 3 1 50 5 1 2 20 1 1 4 23 1 40 4 1 1 4 1 17 5 52 5 18 2 2 2 43 1 14 1 21 1 19 3 23 2 4 4 7 1 8 1 3 3 23 1 17 2 39 2 17 2 7 2 7 1 3 1 8 1 8 1 6 4 5 1 1 2 5 1 10 1 20 1 7 3 15 2 6 1 13"/><use href="#sp2" stroke="#d8222a" stroke-dasharray="0 23 1 1 1 34 2 13 2 6 1 15 1 21 2 36 1 84 1 1 1 108 1 5 1 10 4 54 2 29 1 25 1 10 1 22 1 21 3 16 1 53 2 5 1 2 1 11 1 2 1 7 2 9 4 4 3 125 1 18 6 13 1 2 6 66 2 19 1 12 1 10 1 23 1 17 5 22 1 2 1 17 1 5 1 8 2 7 2 6 2 2 1 1 4 37 3 10 3 6 1 1 2 5 3 42 1 45 1 7 1 2 3 7 1 34 2 13 3 56 1 27 2 34 4 13 1 30 1 13 3 15 1 18 2 48 1 11 1 7 1 14 2 3 1 10 2 45 1 15 2 9 1 16 2 23 2 6 1 13 1 2 2 8 3 94 1 13 2 19 1 37 2 1 1 11 1 9 1 40 1 2 2 3 1 2 1 4 2 16 3 19 2 1 2 59 3 19 1 1 1 24 1 14 1 1 2 3 1 1 1 46 2 10 1 40 1 11 1 31 2 5 3 36 1 1 3 3 1 1 1 1 1 14 2 6 2 76 2 6 3 6 1 5 3 47 1 2 1 4 2 5 2 6 2 4 1 1 4 49 1 16 1 8 3 15 1 6 1 21 1 4 1 53 1 74 2 19 4 30 1 8 1 23 1 1 3 68 2 31 2 10 2 80 2 19 1 11 1 25 1 2 1 2 3 7 1 12 1 44 1 6 2 3 1 29 1 22 1 9 9 3 1 18 12 23 1 38 1 4 1 20 1 32 1 8 1 10 3 1 4 2 1 13 1 7 1 2 2 25 1 3 1 9 3 65 6 1 1 11 1 27 1 22 1 1 1 1 1 5 1 23 1 12 6 40 3 16 1 1 5 13 2 24 2 5 2 17 1 45 1 2 5 16 4 3 2 33 3 4 1 46 2 4 1 5 1 4 1 6 1 12 1 25 1 6 2 59 1 5 1 35 1 10 3 4 1 3 1 2 2 55 1 6 2 1 1 16 2 31 1 50 3 1 4 1 1 3 2 1 3 1 4 77 1 4 1 288 2 65 1 17 1 28 1 36 1 3 2 3 2 17 2 4 4 5 1 27 2 14 1 10 2 31 1 13 4 26 3 3 3 5 1 29 3 32 3 14 3 30 1 8 3 14 2 12 3 5 1 14 1 1 1 29 5 19 1 2 1 8 1 18 3 12 1 28 1 31 3 11 2 3 5 35 2 210 1 26 1 7 1 25 1 25 2 7 1 12 2 4 1 24 1 2 1 16 2 1 1 10 1 2 1 73 1 40 1 1 3 17 1 23 3 7 2 105 1 21 1 5 2 23 1 2 2 6 1 11 1 27 1 9 1 19 1 29 1 2 1 37 1 11 2 6 2 14 1 18 3 35 1 29 1 60 1 86 1 1 1 1 1 7 1 1 1 7 2 20 1 7 1 10 4 15 1 64 1 36 3 5 1 10 1 33 1 3 2 56 1 76 2 3 1 6 1 14 2 56 1 63 1 55 2 16 1 4 1 2 1 27 1 9 1 37 1 24 2 37 1 3 2 1 3 16 1 7 8 1 1 17 3 19 4 37 1 18 4 4 1 13 1 16 1 8 2 1 1 1 1 34 1 15 1 13 3 2 2 61 1 3 1 1 2 7 1 4 1 10 1 31 1 22 1 14 2 16 5 6 2 24 1 19 1 5 2 34 3 26 1 6 1 16 1 35 2 12 2 14"/><use href="#sp2" stroke="#9cc742" stroke-dasharray="0 17 1 66 1 38 1 13 1 23 1 14 2 11 2 9 1 5 1 5 1 15 1 1 2 1 2 74 1 5 4 2 2 37 1 21 2 27 1 1 1 3 3 5 1 3 1 32 1 26 2 8 1 35 1 58 1 1 1 14 1 17 1 15 2 28 1 12 1 2 2 23 1 4 1 28 1 52 1 21 1 25 2 19 1 31 3 1 1 55 5 18 1 28 1 1 1 5 2 23 1 2 7 42 1 47 1 3 1 26 1 1 2 4 1 12 2 4 1 15 1 13 1 3 1 91 1 31 3 5 2 50 2 41 1 5 1 29 1 11 1 131 2 10 4 6 1 3 1 12 1 118 2 9 1 6 1 7 2 11 2 24 3 103 1 11 1 46 1 12 2 26 1 6 1 95 2 50 1 16 1 24 1 5 1 36 2 28 1 18 1 68 1 20 1 7 1 11 1 12 1 12 1 24 1 41 1 8 1 2 2 1 1 38 1 18 1 15 2 3 1 6 1 6 1 77 2 6 1 66 1 10 2 5 1 9 1 7 1 39 1 72 2 7 1 31 2 9 3 3 5 7 1 5 1 16 1 17 2 21 1 26 2 40 2 21 2 24 2 21 3 4 1 1 1 2 1 2 1 28 2 23 2 29 4 33 1 57 3 2 2 1 1 24 3 5 1 17 1 22 2 2 2 2 4 21 2 8 2 23 2 8 1 23 2 31 1 8 1 13 1 29 1 6 1 42 1 4 1 14 1 27 1 34 3 3 1 10 1 34 1 12 2 33 1 4 2 6 2 26 2 3 3 11 1 82 1 32 2 3 1 9 1 1 1 2 3 40 1 3 2 2 1 62 5 1 2 26 2 4 1 8 3 4 3 5 2 2 6 13 1 14 2 11 8 9 1 11 1 39 2 1 2 17 1 30 1 22 1 6 1 13 2 19 1 4 1 58 1 180 1 18 1 20 1 89 3 41 1 88 1 24 1 27 2 7 1 7 1 17 2 43 2 1 1 27 1 13 2 27 2 26 1 9 1 36 1 7 2 26 1 23 1 24 2 23 1 27 1 6 1 6 1 25 2 44 1 20 1 44 2 44 1 116 1 33 2 11 1 20 1 44 1 11 2 105 1 26 1 10 2 28 1 28 1 22 2 4 3 22 1 12 1 45 1 1 1 8 1 120 1 1 1 59 1 50 1 96 1 37 2 23 3 84 1 25 1 33 1 11 1 33 1 17 2 4 3 2 2 47 1 6 2 50 3 38 1 15 1 17 1 59 3 9 2 8 1 53 1 15 1 6 2 8 3 69 1 1 1 1 3 7 1 12 2 11 1 36 1 35 2 18 1 11 1 22 1 106 1 21 1 49 2 44 3 64 2 23 2 64 3 53 1 27 1 73 2 60 1 9 1 31 1 2 1 2 2 11 1 47 2 5"/><use href="#sp2" stroke="#0b8286" stroke-dasharray="0 138 1 27 1 25 1 240 1 102 1 196 1 3 2 132 1 19 1 23 2 98 1 29 1 54 1 60 1 35 2 39 2 54 1 40 2 34 2 3 2 3 6 75 1 1 1 13 2 77 5 3 4 27 2 55 1 86 5 6 1 17 1 464 1 111 1 384 1 21 1 34 1 42 1 39 1 46 1 36 1 12 1 4 1 12 1 42 2 66 1 18 2 51 1 211 1 142 1 8 1 55 1 162 1 5 4 19 1 1 1 16 1 24 1 73 2 25 1 17 1 423 2 92 1 41 1 48 2 134 1 4 1 141 2 35 1 39 2 104 3 26 1 49 2 514 2 175 2 99 1 74 1 186 3 105 2 167 1 497 1 101 1 96 1 6 2 36 1 38 1 3 2 24 1 596 1 24 1 32 1 60 1 228"/><use href="#sp2" stroke="#b9b6dc" stroke-dasharray="0 14 1 152 2 162 1 68 3 104 1 8 2 28 1 37 2 9 1 150 1 57 1 4 1 40 1 95 1 41 2 42 3 207 1 89 1 12 1 66 2 116 1 638 1 74 3 118 1 97 1 23 2 14 1 6 1 74 1 61 2 99 2 204 1 341 1 391 1 222 1 51 1 379 1 516 2 23 2 2 2 153 2 4 1 22 1 273 1 10 1 652 1 119 1 206 1 4 1 302 1 136 1 47 1 135 1 159 1 347 1 228 1 33 1 146 2 13 1 36 1 171 1 77"/><use href="#sp2" stroke="#f4c7dc" stroke-dasharray="0 106 1 23 2 103 1 386 1 41 2 140 1 359 3 222 1 4 2 148 2 31 2 23 1 122 2 37 3 117 1 89 1 99 1 76 2 246 1 146 3 14 2 33 3 882 1 476 1 169 1 40 3 112 2 265 1 10 1 255 1 104 3 110 1 228 2 124 1 4 2 52 1 4 1 87 1 37 1 536 1 45 1 35 1 137 1 104 1 18 1 26 1 1 1 74 2 372 3 89 3 91 1 936 1 119"/></g><circle cx="42.90" cy="702.50" r="3.50" fill="#e3262a" stroke="#555" stroke-width="0.45"/><text x="50.80" y="705.80" font-size="9.2">CN1_T</text><circle cx="131.80" cy="702.50" r="3.50" fill="#f6a540" stroke="#555" stroke-width="0.45"/><text x="139.70" y="705.80" font-size="9.2">CN2_PC</text><circle cx="216.30" cy="702.50" r="3.50" fill="#2e3a8f" stroke="#555" stroke-width="0.45"/><text x="223.30" y="705.80" font-size="9.2">CN3_Myeloid</text><circle cx="309.60" cy="702.50" r="3.50" fill="#ebe524" stroke="#555" stroke-width="0.45"/><text x="317.50" y="705.80" font-size="9.2">CN4_Stromal</text><circle cx="402.50" cy="702.50" r="3.50" fill="#6cbb5c" stroke="#555" stroke-width="0.45"/><text x="410.30" y="705.80" font-size="9.2">CN5_Tumor-B</text><circle cx="501.00" cy="702.50" r="3.50" fill="#4dbfea" stroke="#555" stroke-width="0.45"/><text x="508.80" y="705.80" font-size="9.2">CN6_Diffuse</text><circle cx="596.80" cy="702.50" r="3.50" fill="#d2d2d2" stroke="#555" stroke-width="0.45"/><text x="604.60" y="705.80" font-size="9.2">CN7_Mixed</text><text x="12.00" y="756.10" font-size="9.2" text-anchor="middle" transform="rotate(-90 12.00 756.10)">By CN cluster</text><text x="12.00" y="850.50" font-size="9.2" text-anchor="middle" transform="rotate(-90 12.00 850.50)">By cell cluster</text><text x="15.00" y="906.90" font-size="9.4">FVP92 (Nodal EBV+)</text><text x="110.00" y="906.90" font-size="9.4">FVP28 (Nodal EB–)</text><text x="204.00" y="906.90" font-size="9.4">FVP95 (EN-O)</text><text x="299.00" y="906.90" font-size="9.4">FVP88 (Nodal EBV–)</text><text x="393.00" y="906.90" font-size="9.4">FVP46 (Nodal EBV–)</text><text x="488.00" y="906.90" font-size="9.4">FVP46 (Nodal EBV–)</text><text x="582.00" y="906.90" font-size="9.4">FVP49 (EN-O)</text><text x="17.50" y="917.30" font-size="9.4">100 µm</text><rect x="23.90" y="923.00" width="17.90" height="3.00" fill="#111"/>
</svg>
</div>
</body></html>
